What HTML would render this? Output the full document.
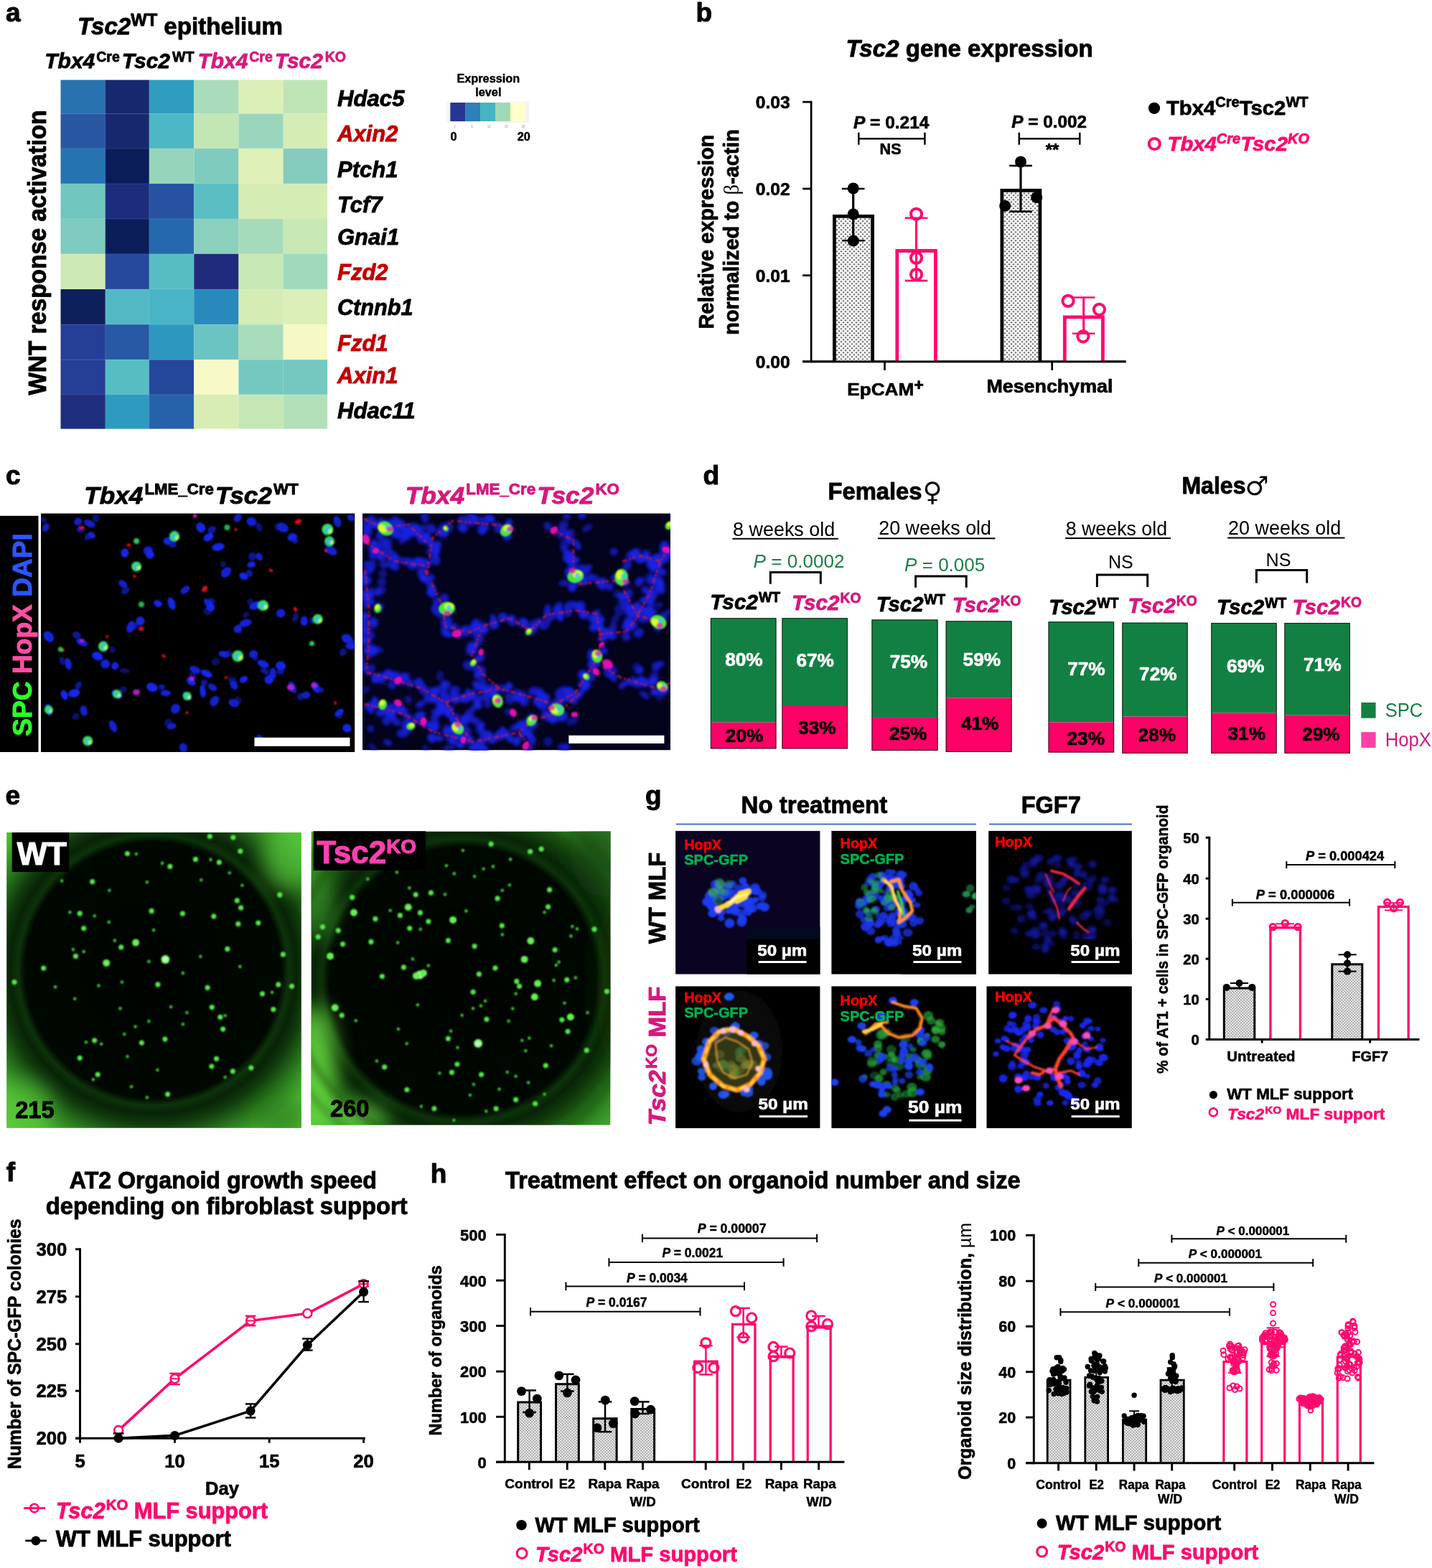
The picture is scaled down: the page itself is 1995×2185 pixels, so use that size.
<!DOCTYPE html>
<html lang="en"><head><meta charset="utf-8"><title>Figure</title>
<style>
html,body{margin:0;padding:0;background:#fff;}
body{width:1995px;height:2185px;overflow:hidden;}
svg{display:block;font-family:"Liberation Sans",sans-serif;}
text{white-space:pre;}
</style></head><body>
<svg width="1995" height="2185" viewBox="0 0 1995 2185">
<defs>
<pattern id="dots" width="6" height="6" patternUnits="userSpaceOnUse" patternTransform="translate(0.5,0.8)"><rect width="6" height="6" fill="#fff"/><circle cx="1.5" cy="1.5" r="0.95" fill="#000"/><circle cx="4.5" cy="4.5" r="0.95" fill="#000"/></pattern>
<pattern id="dots2" width="4" height="4" patternUnits="userSpaceOnUse" patternTransform="translate(0.3,0.5)"><rect width="4" height="4" fill="#fff"/><circle cx="1" cy="1" r="0.72" fill="#000"/><circle cx="3" cy="3" r="0.72" fill="#000"/></pattern>
<filter id="b1" x="-50%" y="-50%" width="200%" height="200%"><feGaussianBlur stdDeviation="1.3"/></filter>
<filter id="b2" x="-50%" y="-50%" width="200%" height="200%"><feGaussianBlur stdDeviation="2.2"/></filter>
<filter id="b3" x="-50%" y="-50%" width="200%" height="200%"><feGaussianBlur stdDeviation="4"/></filter>
<filter id="b05" x="-50%" y="-50%" width="200%" height="200%"><feGaussianBlur stdDeviation="0.7"/></filter>
<clipPath id="cc1"><rect x="57" y="715.5" width="437.2" height="332.5"/></clipPath>
<clipPath id="cc2"><rect x="505" y="715.5" width="429" height="329.7"/></clipPath>
<radialGradient id="well1" gradientUnits="userSpaceOnUse" cx="213.5" cy="1352" r="300">
<stop offset="0" stop-color="#000300"/><stop offset="0.595" stop-color="#010801"/>
<stop offset="0.628" stop-color="#0D330B"/><stop offset="0.665" stop-color="#082306"/><stop offset="0.715" stop-color="#113A0D"/><stop offset="0.80" stop-color="#2A7A1E"/>
<stop offset="0.89" stop-color="#4AB332"/><stop offset="1" stop-color="#5ECB3C"/></radialGradient>
<radialGradient id="well2" gradientUnits="userSpaceOnUse" cx="645" cy="1366" r="310">
<stop offset="0" stop-color="#000300"/><stop offset="0.60" stop-color="#010801"/>
<stop offset="0.635" stop-color="#0D330B"/><stop offset="0.67" stop-color="#082306"/><stop offset="0.72" stop-color="#113A0D"/><stop offset="0.81" stop-color="#27781D"/>
<stop offset="0.91" stop-color="#3F9F2C"/><stop offset="1" stop-color="#52BC36"/></radialGradient>
<clipPath id="ce1"><rect x="9.2" y="1160" width="410.6" height="411.8"/></clipPath>
<clipPath id="ce2"><rect x="433.7" y="1158.7" width="416.6" height="409"/></clipPath>
<linearGradient id="e2l" x1="0" y1="0" x2="1" y2="0"><stop offset="0" stop-color="#6BE040" stop-opacity="0.9"/><stop offset="0.12" stop-color="#6BE040" stop-opacity="0.0"/><stop offset="1" stop-color="#000" stop-opacity="0"/></linearGradient>
<filter id="b15" x="-100%" y="-100%" width="300%" height="300%"><feGaussianBlur stdDeviation="14"/></filter>
<clipPath id="cg0"><rect x="941.1" y="1157.9" width="201.3" height="199.6"/></clipPath>
<clipPath id="cg1"><rect x="1158.4" y="1157.9" width="201.5" height="199.6"/></clipPath>
<clipPath id="cg2"><rect x="1377.2" y="1157.9" width="199.6" height="199.6"/></clipPath>
<clipPath id="cg3"><rect x="941.1" y="1374.4" width="201.3" height="197.7"/></clipPath>
<clipPath id="cg4"><rect x="1158.4" y="1374.4" width="201.5" height="197.7"/></clipPath>
<clipPath id="cg5"><rect x="1374.5" y="1374.4" width="202.3" height="197.7"/></clipPath>
</defs>
<text x="8.00" y="30.40" font-size="37" font-weight="bold" font-style="normal" fill="#000" text-anchor="start" stroke="#000" stroke-width="1.00" stroke-linejoin="round" ><tspan>a</tspan></text>
<text x="108.00" y="48.30" font-size="33.5" font-weight="bold" font-style="normal" fill="#000" text-anchor="start" stroke="#000" stroke-width="0.90" stroke-linejoin="round" textLength="286" lengthAdjust="spacingAndGlyphs" ><tspan font-style="italic">Tsc2</tspan><tspan font-size="24" dy="-12.20">WT</tspan><tspan dy="12.20"> epithelium</tspan></text>
<text x="62.30" y="95.00" font-size="30" font-weight="bold" font-style="normal" fill="#000" text-anchor="start" stroke="#000" stroke-width="0.81" stroke-linejoin="round" textLength="208" lengthAdjust="spacingAndGlyphs" ><tspan font-style="italic">Tbx4</tspan><tspan font-size="19.5" font-style="normal" dx="2" dy="-9.30">Cre</tspan><tspan font-style="italic" dx="3" dy="9.30">Tsc2</tspan><tspan font-size="19.5" font-style="normal" dx="3" dy="-9.30">WT</tspan></text>
<text x="275.50" y="95.00" font-size="30" font-weight="bold" font-style="normal" fill="#D6197E" text-anchor="start" stroke="#D6197E" stroke-width="0.81" stroke-linejoin="round" textLength="206.5" lengthAdjust="spacingAndGlyphs" ><tspan font-style="italic">Tbx4</tspan><tspan font-size="19.5" font-style="normal" dx="2" dy="-9.30">Cre</tspan><tspan font-style="italic" dx="3" dy="9.30">Tsc2</tspan><tspan font-size="19.5" font-style="normal" dx="3" dy="-9.30">KO</tspan></text>
<text x="0" y="0" font-size="35.5" font-weight="bold" font-style="normal" fill="#000" text-anchor="start" stroke="#000" stroke-width="0.96" stroke-linejoin="round" textLength="397" lengthAdjust="spacingAndGlyphs" transform="translate(64.40,550.50) rotate(-90)" ><tspan>WNT response activation</tspan></text>
<rect x="84.50" y="111.40" width="62.50" height="47.30" fill="#2872B0" />
<rect x="146.70" y="111.40" width="61.40" height="47.30" fill="#17286E" />
<rect x="207.80" y="111.40" width="62.70" height="47.30" fill="#2F9DC0" />
<rect x="270.20" y="111.40" width="62.50" height="47.30" fill="#A8DCBB" />
<rect x="332.40" y="111.40" width="62.50" height="47.30" fill="#DCEFB8" />
<rect x="394.60" y="111.40" width="61.50" height="47.30" fill="#BFE5B5" />
<rect x="84.50" y="158.40" width="62.50" height="48.80" fill="#2856A3" />
<rect x="146.70" y="158.40" width="61.40" height="48.80" fill="#18286F" />
<rect x="207.80" y="158.40" width="62.70" height="48.80" fill="#4DB7C5" />
<rect x="270.20" y="158.40" width="62.50" height="48.80" fill="#C3E6B5" />
<rect x="332.40" y="158.40" width="62.50" height="48.80" fill="#9AD6BD" />
<rect x="394.60" y="158.40" width="61.50" height="48.80" fill="#D5ECB5" />
<rect x="84.50" y="206.90" width="62.50" height="49.30" fill="#2673B1" />
<rect x="146.70" y="206.90" width="61.40" height="49.30" fill="#0B1D58" />
<rect x="207.80" y="206.90" width="62.70" height="49.30" fill="#97D5BB" />
<rect x="270.20" y="206.90" width="62.50" height="49.30" fill="#7FCCBF" />
<rect x="332.40" y="206.90" width="62.50" height="49.30" fill="#DFF0B8" />
<rect x="394.60" y="206.90" width="61.50" height="49.30" fill="#85CCBE" />
<rect x="84.50" y="255.90" width="62.50" height="49.40" fill="#71C7C0" />
<rect x="146.70" y="255.90" width="61.40" height="49.40" fill="#1D2D7C" />
<rect x="207.80" y="255.90" width="62.70" height="49.40" fill="#2752A2" />
<rect x="270.20" y="255.90" width="62.50" height="49.40" fill="#5BBEC3" />
<rect x="332.40" y="255.90" width="62.50" height="49.40" fill="#D5ECB5" />
<rect x="394.60" y="255.90" width="61.50" height="49.40" fill="#D5ECB5" />
<rect x="84.50" y="305.00" width="62.50" height="49.10" fill="#7ECBBF" />
<rect x="146.70" y="305.00" width="61.40" height="49.10" fill="#0B1D58" />
<rect x="207.80" y="305.00" width="62.70" height="49.10" fill="#2668AD" />
<rect x="270.20" y="305.00" width="62.50" height="49.10" fill="#8AD0BD" />
<rect x="332.40" y="305.00" width="62.50" height="49.10" fill="#A5DBBB" />
<rect x="394.60" y="305.00" width="61.50" height="49.10" fill="#C8E8B5" />
<rect x="84.50" y="353.80" width="62.50" height="49.50" fill="#CDE9B5" />
<rect x="146.70" y="353.80" width="61.40" height="49.50" fill="#27499B" />
<rect x="207.80" y="353.80" width="62.70" height="49.50" fill="#58BCC3" />
<rect x="270.20" y="353.80" width="62.50" height="49.50" fill="#1E2C7B" />
<rect x="332.40" y="353.80" width="62.50" height="49.50" fill="#C8E8B5" />
<rect x="394.60" y="353.80" width="61.50" height="49.50" fill="#A0D9BB" />
<rect x="84.50" y="403.00" width="62.50" height="49.40" fill="#0E205C" />
<rect x="146.70" y="403.00" width="61.40" height="49.40" fill="#52B9C4" />
<rect x="207.80" y="403.00" width="62.70" height="49.40" fill="#49B4C5" />
<rect x="270.20" y="403.00" width="62.50" height="49.40" fill="#2889BD" />
<rect x="332.40" y="403.00" width="62.50" height="49.40" fill="#D5ECB5" />
<rect x="394.60" y="403.00" width="61.50" height="49.40" fill="#DCEFB8" />
<rect x="84.50" y="452.10" width="62.50" height="49.40" fill="#253F97" />
<rect x="146.70" y="452.10" width="61.40" height="49.40" fill="#2759A4" />
<rect x="207.80" y="452.10" width="62.70" height="49.40" fill="#2D97C0" />
<rect x="270.20" y="452.10" width="62.50" height="49.40" fill="#6BC4C1" />
<rect x="332.40" y="452.10" width="62.50" height="49.40" fill="#A8DCBB" />
<rect x="394.60" y="452.10" width="61.50" height="49.40" fill="#F5F9C5" />
<rect x="84.50" y="501.20" width="62.50" height="48.90" fill="#253E96" />
<rect x="146.70" y="501.20" width="61.40" height="48.90" fill="#58BCC3" />
<rect x="207.80" y="501.20" width="62.70" height="48.90" fill="#25479A" />
<rect x="270.20" y="501.20" width="62.50" height="48.90" fill="#F7FAC8" />
<rect x="332.40" y="501.20" width="62.50" height="48.90" fill="#75C8C0" />
<rect x="394.60" y="501.20" width="61.50" height="48.90" fill="#75C8C0" />
<rect x="84.50" y="549.80" width="62.50" height="47.80" fill="#1F2E7E" />
<rect x="146.70" y="549.80" width="61.40" height="47.80" fill="#2E9AC0" />
<rect x="207.80" y="549.80" width="62.70" height="47.80" fill="#2662AA" />
<rect x="270.20" y="549.80" width="62.50" height="47.80" fill="#D8EDB5" />
<rect x="332.40" y="549.80" width="62.50" height="47.80" fill="#C5E7B5" />
<rect x="394.60" y="549.80" width="61.50" height="47.80" fill="#B3E0B8" />
<line x1="146.70" y1="111.40" x2="146.70" y2="597.30" stroke="#fff" stroke-width="0.8" opacity="0.15"/>
<line x1="207.80" y1="111.40" x2="207.80" y2="597.30" stroke="#fff" stroke-width="0.8" opacity="0.15"/>
<line x1="270.20" y1="111.40" x2="270.20" y2="597.30" stroke="#fff" stroke-width="0.8" opacity="0.15"/>
<line x1="332.40" y1="111.40" x2="332.40" y2="597.30" stroke="#fff" stroke-width="0.8" opacity="0.15"/>
<line x1="394.60" y1="111.40" x2="394.60" y2="597.30" stroke="#fff" stroke-width="0.8" opacity="0.15"/>
<line x1="84.50" y1="158.40" x2="455.80" y2="158.40" stroke="#fff" stroke-width="0.8" opacity="0.15"/>
<line x1="84.50" y1="206.90" x2="455.80" y2="206.90" stroke="#fff" stroke-width="0.8" opacity="0.15"/>
<line x1="84.50" y1="255.90" x2="455.80" y2="255.90" stroke="#fff" stroke-width="0.8" opacity="0.15"/>
<line x1="84.50" y1="305.00" x2="455.80" y2="305.00" stroke="#fff" stroke-width="0.8" opacity="0.15"/>
<line x1="84.50" y1="353.80" x2="455.80" y2="353.80" stroke="#fff" stroke-width="0.8" opacity="0.15"/>
<line x1="84.50" y1="403.00" x2="455.80" y2="403.00" stroke="#fff" stroke-width="0.8" opacity="0.15"/>
<line x1="84.50" y1="452.10" x2="455.80" y2="452.10" stroke="#fff" stroke-width="0.8" opacity="0.15"/>
<line x1="84.50" y1="501.20" x2="455.80" y2="501.20" stroke="#fff" stroke-width="0.8" opacity="0.15"/>
<line x1="84.50" y1="549.80" x2="455.80" y2="549.80" stroke="#fff" stroke-width="0.8" opacity="0.15"/>
<text x="470.00" y="147.80" font-size="31" font-weight="bold" font-style="italic" fill="#000" text-anchor="start" stroke="#000" stroke-width="0.84" stroke-linejoin="round" textLength="93.5" lengthAdjust="spacingAndGlyphs" ><tspan>Hdac5</tspan></text>
<text x="470.00" y="197.40" font-size="31" font-weight="bold" font-style="italic" fill="#C00000" text-anchor="start" stroke="#C00000" stroke-width="0.84" stroke-linejoin="round" ><tspan>Axin2</tspan></text>
<text x="470.00" y="246.90" font-size="31" font-weight="bold" font-style="italic" fill="#000" text-anchor="start" stroke="#000" stroke-width="0.84" stroke-linejoin="round" ><tspan>Ptch1</tspan></text>
<text x="470.00" y="296.00" font-size="31" font-weight="bold" font-style="italic" fill="#000" text-anchor="start" stroke="#000" stroke-width="0.84" stroke-linejoin="round" ><tspan>Tcf7</tspan></text>
<text x="470.00" y="340.80" font-size="31" font-weight="bold" font-style="italic" fill="#000" text-anchor="start" stroke="#000" stroke-width="0.84" stroke-linejoin="round" ><tspan>Gnai1</tspan></text>
<text x="470.00" y="389.70" font-size="31" font-weight="bold" font-style="italic" fill="#C00000" text-anchor="start" stroke="#C00000" stroke-width="0.84" stroke-linejoin="round" ><tspan>Fzd2</tspan></text>
<text x="470.00" y="439.10" font-size="31" font-weight="bold" font-style="italic" fill="#000" text-anchor="start" stroke="#000" stroke-width="0.84" stroke-linejoin="round" textLength="105.5" lengthAdjust="spacingAndGlyphs" ><tspan>Ctnnb1</tspan></text>
<text x="470.00" y="489.00" font-size="31" font-weight="bold" font-style="italic" fill="#C00000" text-anchor="start" stroke="#C00000" stroke-width="0.84" stroke-linejoin="round" ><tspan>Fzd1</tspan></text>
<text x="470.00" y="533.60" font-size="31" font-weight="bold" font-style="italic" fill="#C00000" text-anchor="start" stroke="#C00000" stroke-width="0.84" stroke-linejoin="round" ><tspan>Axin1</tspan></text>
<text x="470.00" y="583.10" font-size="31" font-weight="bold" font-style="italic" fill="#000" text-anchor="start" stroke="#000" stroke-width="0.84" stroke-linejoin="round" textLength="108.5" lengthAdjust="spacingAndGlyphs" ><tspan>Hdac11</tspan></text>
<text x="680.30" y="114.80" font-size="16.3" font-weight="bold" font-style="normal" fill="#000" text-anchor="middle" stroke="#000" stroke-width="0.44" stroke-linejoin="round" ><tspan>Expression</tspan></text>
<text x="680.30" y="134.30" font-size="16.3" font-weight="bold" font-style="normal" fill="#000" text-anchor="middle" stroke="#000" stroke-width="0.44" stroke-linejoin="round" ><tspan>level</tspan></text>
<rect x="622.00" y="141.50" width="115.00" height="29.50" fill="#f4f4f4" />
<rect x="627.30" y="143.00" width="21.10" height="26.00" fill="#283593" />
<rect x="648.20" y="143.00" width="21.10" height="26.00" fill="#2F7FB8" />
<rect x="669.10" y="143.00" width="21.10" height="26.00" fill="#47B4C2" />
<rect x="690.00" y="143.00" width="21.10" height="26.00" fill="#A1D9B8" />
<rect x="710.90" y="143.00" width="21.10" height="26.00" fill="#FFFFCC" />
<text x="633.50" y="178.30" font-size="4.5" font-weight="normal" font-style="normal" fill="#999" text-anchor="middle" ><tspan>0</tspan></text>
<text x="657.40" y="178.30" font-size="4.5" font-weight="normal" font-style="normal" fill="#999" text-anchor="middle" ><tspan>5</tspan></text>
<text x="681.30" y="178.30" font-size="4.5" font-weight="normal" font-style="normal" fill="#999" text-anchor="middle" ><tspan>10</tspan></text>
<text x="705.20" y="178.30" font-size="4.5" font-weight="normal" font-style="normal" fill="#999" text-anchor="middle" ><tspan>15</tspan></text>
<text x="729.10" y="178.30" font-size="4.5" font-weight="normal" font-style="normal" fill="#999" text-anchor="middle" ><tspan>20</tspan></text>
<text x="627.50" y="196.20" font-size="16.3" font-weight="bold" font-style="normal" fill="#000" text-anchor="start" stroke="#000" stroke-width="0.44" stroke-linejoin="round" ><tspan>0</tspan></text>
<text x="720.80" y="196.20" font-size="16.3" font-weight="bold" font-style="normal" fill="#000" text-anchor="start" stroke="#000" stroke-width="0.44" stroke-linejoin="round" ><tspan>20</tspan></text>
<text x="969.50" y="29.70" font-size="37" font-weight="bold" font-style="normal" fill="#000" text-anchor="start" stroke="#000" stroke-width="1.00" stroke-linejoin="round" ><tspan>b</tspan></text>
<text x="1178.40" y="78.50" font-size="33" font-weight="bold" font-style="normal" fill="#000" text-anchor="start" stroke="#000" stroke-width="0.89" stroke-linejoin="round" textLength="344.3" lengthAdjust="spacingAndGlyphs" ><tspan font-style="italic">Tsc2</tspan><tspan> gene expression</tspan></text>
<line x1="1130.10" y1="140.75" x2="1130.10" y2="505.25" stroke="#000" stroke-width="2.7" />
<line x1="1118.10" y1="503.90" x2="1568.60" y2="503.90" stroke="#000" stroke-width="2.7" />
<line x1="1118.10" y1="142.10" x2="1130.10" y2="142.10" stroke="#000" stroke-width="2.7" />
<line x1="1118.10" y1="263.00" x2="1130.10" y2="263.00" stroke="#000" stroke-width="2.7" />
<line x1="1118.10" y1="383.80" x2="1130.10" y2="383.80" stroke="#000" stroke-width="2.7" />
<line x1="1232.50" y1="503.90" x2="1232.50" y2="515.90" stroke="#000" stroke-width="2.7" />
<line x1="1465.70" y1="503.90" x2="1465.70" y2="515.90" stroke="#000" stroke-width="2.7" />
<text x="1100.70" y="151.00" font-size="24.6" font-weight="bold" font-style="normal" fill="#000" text-anchor="end" stroke="#000" stroke-width="0.66" stroke-linejoin="round" ><tspan>0.03</tspan></text>
<text x="1100.70" y="271.90" font-size="24.6" font-weight="bold" font-style="normal" fill="#000" text-anchor="end" stroke="#000" stroke-width="0.66" stroke-linejoin="round" ><tspan>0.02</tspan></text>
<text x="1100.70" y="392.70" font-size="24.6" font-weight="bold" font-style="normal" fill="#000" text-anchor="end" stroke="#000" stroke-width="0.66" stroke-linejoin="round" ><tspan>0.01</tspan></text>
<text x="1100.70" y="512.80" font-size="24.6" font-weight="bold" font-style="normal" fill="#000" text-anchor="end" stroke="#000" stroke-width="0.66" stroke-linejoin="round" ><tspan>0.00</tspan></text>
<text x="0" y="0" font-size="28.7" font-weight="bold" font-style="normal" fill="#000" text-anchor="middle" stroke="#000" stroke-width="0.77" stroke-linejoin="round" textLength="271" lengthAdjust="spacingAndGlyphs" transform="translate(993.50,323.00) rotate(-90)" ><tspan>Relative expression</tspan></text>
<text x="0" y="0" font-size="28.7" font-weight="bold" font-style="normal" fill="#000" text-anchor="middle" stroke="#000" stroke-width="0.77" stroke-linejoin="round" textLength="286.6" lengthAdjust="spacingAndGlyphs" transform="translate(1028.80,323.40) rotate(-90)" ><tspan>normalized to </tspan><tspan font-size="29" font-weight="normal" stroke="none" font-family='"Liberation Serif","DejaVu Serif",serif'>β</tspan><tspan>-actin</tspan></text>
<rect x="1162.40" y="301.40" width="53.20" height="202.50" fill="url(#dots)" />
<path d="M1162.40,503.90 L1162.40,301.40 L1215.60,301.40 L1215.60,503.90" fill="none" stroke="#000" stroke-width="4.8" />
<rect x="1249.80" y="349.50" width="53.60" height="154.40" fill="#fff" />
<path d="M1249.80,503.90 L1249.80,349.50 L1303.40,349.50 L1303.40,503.90" fill="none" stroke="#FF0A6E" stroke-width="4.8" />
<rect x="1395.90" y="265.40" width="53.00" height="238.50" fill="url(#dots)" />
<path d="M1395.90,503.90 L1395.90,265.40 L1448.90,265.40 L1448.90,503.90" fill="none" stroke="#000" stroke-width="4.8" />
<rect x="1483.30" y="441.90" width="53.10" height="62.00" fill="#fff" />
<path d="M1483.30,503.90 L1483.30,441.90 L1536.40,441.90 L1536.40,503.90" fill="none" stroke="#FF0A6E" stroke-width="4.8" />
<line x1="1118.10" y1="503.90" x2="1568.60" y2="503.90" stroke="#000" stroke-width="2.7" />
<line x1="1188.70" y1="263.00" x2="1188.70" y2="335.20" stroke="#000" stroke-width="3.2" />
<line x1="1172.90" y1="263.00" x2="1204.50" y2="263.00" stroke="#000" stroke-width="2.6" />
<line x1="1172.90" y1="335.20" x2="1204.50" y2="335.20" stroke="#000" stroke-width="2.6" />
<circle cx="1188.70" cy="262.50" r="8.00" fill="#000" />
<circle cx="1188.70" cy="298.50" r="8.00" fill="#000" />
<circle cx="1188.70" cy="335.60" r="8.00" fill="#000" />
<line x1="1276.50" y1="303.70" x2="1276.50" y2="391.10" stroke="#FF0A6E" stroke-width="3.2" />
<line x1="1260.70" y1="303.70" x2="1292.30" y2="303.70" stroke="#FF0A6E" stroke-width="2.6" />
<line x1="1260.70" y1="391.10" x2="1292.30" y2="391.10" stroke="#FF0A6E" stroke-width="2.6" />
<circle cx="1276.50" cy="298.30" r="7.60" fill="none" stroke="#FF0A6E" stroke-width="4.0" />
<circle cx="1276.50" cy="359.40" r="7.60" fill="none" stroke="#FF0A6E" stroke-width="4.0" />
<circle cx="1276.50" cy="382.50" r="7.60" fill="none" stroke="#FF0A6E" stroke-width="4.0" />
<line x1="1422.00" y1="230.90" x2="1422.00" y2="294.70" stroke="#000" stroke-width="3.2" />
<line x1="1406.20" y1="230.90" x2="1437.80" y2="230.90" stroke="#000" stroke-width="2.6" />
<line x1="1406.20" y1="294.70" x2="1437.80" y2="294.70" stroke="#000" stroke-width="2.6" />
<circle cx="1422.00" cy="225.50" r="8.00" fill="#000" />
<circle cx="1400.20" cy="286.90" r="8.00" fill="#000" />
<circle cx="1444.20" cy="275.20" r="8.00" fill="#000" />
<line x1="1509.70" y1="414.50" x2="1509.70" y2="464.70" stroke="#FF0A6E" stroke-width="3.2" />
<line x1="1493.90" y1="414.50" x2="1525.50" y2="414.50" stroke="#FF0A6E" stroke-width="2.6" />
<line x1="1493.90" y1="464.70" x2="1525.50" y2="464.70" stroke="#FF0A6E" stroke-width="2.6" />
<circle cx="1488.00" cy="419.40" r="7.60" fill="none" stroke="#FF0A6E" stroke-width="4.0" />
<circle cx="1531.40" cy="431.30" r="7.60" fill="none" stroke="#FF0A6E" stroke-width="4.0" />
<circle cx="1508.90" cy="468.80" r="7.60" fill="none" stroke="#FF0A6E" stroke-width="4.0" />
<text x="1189.00" y="179.30" font-size="24.3" font-weight="bold" font-style="normal" fill="#000" text-anchor="start" stroke="#000" stroke-width="0.66" stroke-linejoin="round" textLength="105.4" lengthAdjust="spacingAndGlyphs" ><tspan font-style="italic">P</tspan><tspan> = 0.214</tspan></text>
<line x1="1196.30" y1="193.20" x2="1288.40" y2="193.20" stroke="#000" stroke-width="2.5" />
<line x1="1196.30" y1="184.70" x2="1196.30" y2="201.70" stroke="#000" stroke-width="2.5" />
<line x1="1288.40" y1="184.70" x2="1288.40" y2="201.70" stroke="#000" stroke-width="2.5" />
<text x="1240.60" y="215.40" font-size="21.6" font-weight="bold" font-style="normal" fill="#000" text-anchor="middle" stroke="#000" stroke-width="0.58" stroke-linejoin="round" ><tspan>NS</tspan></text>
<text x="1409.20" y="178.20" font-size="24.3" font-weight="bold" font-style="normal" fill="#000" text-anchor="start" stroke="#000" stroke-width="0.66" stroke-linejoin="round" textLength="104.8" lengthAdjust="spacingAndGlyphs" ><tspan font-style="italic">P</tspan><tspan> = 0.002</tspan></text>
<line x1="1419.80" y1="193.20" x2="1504.30" y2="193.20" stroke="#000" stroke-width="2.5" />
<line x1="1419.80" y1="184.70" x2="1419.80" y2="201.70" stroke="#000" stroke-width="2.5" />
<line x1="1504.30" y1="184.70" x2="1504.30" y2="201.70" stroke="#000" stroke-width="2.5" />
<text x="1466.00" y="216.80" font-size="24" font-weight="bold" font-style="normal" fill="#000" text-anchor="middle" stroke="#000" stroke-width="0.65" stroke-linejoin="round" ><tspan>**</tspan></text>
<text x="1180.30" y="551.40" font-size="24.6" font-weight="bold" font-style="normal" fill="#000" text-anchor="start" stroke="#000" stroke-width="0.66" stroke-linejoin="round" textLength="106.5" lengthAdjust="spacingAndGlyphs" ><tspan>EpCAM</tspan><tspan font-size="22" dy="-7.00">+</tspan></text>
<text x="1374.40" y="546.80" font-size="25.5" font-weight="bold" font-style="normal" fill="#000" text-anchor="start" stroke="#000" stroke-width="0.69" stroke-linejoin="round" textLength="176" lengthAdjust="spacingAndGlyphs" ><tspan>Mesenchymal</tspan></text>
<circle cx="1608.00" cy="150.80" r="8.10" fill="#000" />
<text x="1624.90" y="159.70" font-size="28.5" font-weight="bold" font-style="normal" fill="#000" text-anchor="start" stroke="#000" stroke-width="0.77" stroke-linejoin="round" textLength="197.7" lengthAdjust="spacingAndGlyphs" ><tspan>Tbx4</tspan><tspan font-size="19.5" dy="-10.50">Cre</tspan><tspan dy="10.50">Tsc2</tspan><tspan font-size="19.5" dy="-10.50">WT</tspan></text>
<circle cx="1608.30" cy="200.50" r="7.60" fill="none" stroke="#FF0A6E" stroke-width="4" />
<text x="1626.50" y="210.00" font-size="28.5" font-weight="bold" font-style="italic" fill="#FF0A6E" text-anchor="start" stroke="#FF0A6E" stroke-width="0.77" stroke-linejoin="round" textLength="197.5" lengthAdjust="spacingAndGlyphs" ><tspan>Tbx4</tspan><tspan font-size="19.5" dy="-10.50">Cre</tspan><tspan dy="10.50">Tsc2</tspan><tspan font-size="19.5" dy="-10.50">KO</tspan></text>
<text x="8.10" y="674.80" font-size="37" font-weight="bold" font-style="normal" fill="#000" text-anchor="start" stroke="#000" stroke-width="1.00" stroke-linejoin="round" ><tspan>c</tspan></text>
<text x="117.30" y="701.90" font-size="34" font-weight="bold" font-style="normal" fill="#000" text-anchor="start" stroke="#000" stroke-width="0.92" stroke-linejoin="round" textLength="298.2" lengthAdjust="spacingAndGlyphs" ><tspan font-style="italic">Tbx4</tspan><tspan font-size="21.5" font-style="normal" dx="2" dy="-13.00">LME_Cre</tspan><tspan font-style="italic" dx="2" dy="13.00">Tsc2</tspan><tspan font-size="21.5" font-style="normal" dx="2" dy="-13.00">WT</tspan></text>
<text x="564.70" y="701.90" font-size="34" font-weight="bold" font-style="normal" fill="#D6197E" text-anchor="start" stroke="#D6197E" stroke-width="0.92" stroke-linejoin="round" textLength="298.3" lengthAdjust="spacingAndGlyphs" ><tspan font-style="italic">Tbx4</tspan><tspan font-size="21.5" font-style="normal" dx="2" dy="-13.00">LME_Cre</tspan><tspan font-style="italic" dx="2" dy="13.00">Tsc2</tspan><tspan font-size="21.5" font-style="normal" dx="2" dy="-13.00">KO</tspan></text>
<rect x="0.00" y="718.80" width="53.50" height="329.20" fill="#000" />
<text x="0" y="0" font-size="37.5" font-weight="bold" font-style="normal" fill="#2BFF2B" text-anchor="start" stroke="#2BFF2B" stroke-width="1.01" stroke-linejoin="round" textLength="282.5" lengthAdjust="spacingAndGlyphs" transform="translate(44.30,1025.70) rotate(-90)" ><tspan fill="#2BFF2B" stroke="#2BFF2B">SPC</tspan><tspan> </tspan><tspan fill="#FF4FA6" stroke="#FF4FA6">HopX</tspan><tspan> </tspan><tspan fill="#2E55FF" stroke="#2E55FF">DAPI</tspan></text>
<rect x="57.00" y="715.50" width="437.20" height="332.50" fill="#000" />
<g clip-path="url(#cc1)">
<g filter="url(#b1)">
<ellipse cx="63.8" cy="735.1" rx="6.6" ry="4.5" fill="#1626F0" opacity="0.81" transform="rotate(117 63.8 735.1)"/>
<ellipse cx="60.1" cy="724.4" rx="5.5" ry="3.6" fill="#1420C8" opacity="0.60" transform="rotate(13 60.1 724.4)"/>
<ellipse cx="108.6" cy="726.9" rx="5.8" ry="5.2" fill="#1626F0" opacity="0.82" transform="rotate(149 108.6 726.9)"/>
<ellipse cx="112.2" cy="737.7" rx="5.7" ry="4.3" fill="#1420C8" opacity="0.79" transform="rotate(8 112.2 737.7)"/>
<ellipse cx="124.9" cy="729.6" rx="8.5" ry="4.9" fill="#1626F0" opacity="0.82" transform="rotate(26 124.9 729.6)"/>
<ellipse cx="133.8" cy="722.0" rx="5.7" ry="4.8" fill="#1420C8" opacity="0.58" transform="rotate(99 133.8 722.0)"/>
<ellipse cx="127.6" cy="745.9" rx="5.7" ry="4.3" fill="#1626F0" opacity="0.94" transform="rotate(37 127.6 745.9)"/>
<ellipse cx="122.4" cy="748.0" rx="5.4" ry="4.1" fill="#1420C8" opacity="0.73" transform="rotate(126 122.4 748.0)"/>
<ellipse cx="173.8" cy="770.4" rx="6.4" ry="5.5" fill="#1626F0" opacity="0.98" transform="rotate(95 173.8 770.4)"/>
<ellipse cx="206.4" cy="767.6" rx="6.5" ry="6.5" fill="#1626F0" opacity="0.88" transform="rotate(21 206.4 767.6)"/>
<ellipse cx="233.6" cy="754.1" rx="6.0" ry="5.3" fill="#1626F0" opacity="0.93" transform="rotate(7 233.6 754.1)"/>
<ellipse cx="279.7" cy="735.1" rx="7.5" ry="6.2" fill="#1626F0" opacity="0.94" transform="rotate(56 279.7 735.1)"/>
<ellipse cx="290.6" cy="748.6" rx="7.5" ry="5.2" fill="#1626F0" opacity="0.99" transform="rotate(151 290.6 748.6)"/>
<ellipse cx="295.2" cy="738.1" rx="6.1" ry="4.8" fill="#1420C8" opacity="0.80" transform="rotate(148 295.2 738.1)"/>
<ellipse cx="331.3" cy="721.5" rx="6.5" ry="5.1" fill="#1626F0" opacity="0.80" transform="rotate(120 331.3 721.5)"/>
<ellipse cx="322.0" cy="712.3" rx="4.2" ry="5.0" fill="#1420C8" opacity="0.50" transform="rotate(45 322.0 712.3)"/>
<ellipse cx="350.4" cy="726.9" rx="6.9" ry="6.2" fill="#1626F0" opacity="0.89" transform="rotate(15 350.4 726.9)"/>
<ellipse cx="361.1" cy="734.6" rx="6.6" ry="4.1" fill="#1420C8" opacity="0.60" transform="rotate(65 361.1 734.6)"/>
<ellipse cx="393.8" cy="735.1" rx="8.6" ry="6.4" fill="#1626F0" opacity="0.84" transform="rotate(27 393.8 735.1)"/>
<ellipse cx="386.3" cy="734.7" rx="5.8" ry="4.0" fill="#1420C8" opacity="0.45" transform="rotate(75 386.3 734.7)"/>
<ellipse cx="407.4" cy="748.6" rx="6.8" ry="5.5" fill="#1626F0" opacity="0.94" transform="rotate(172 407.4 748.6)"/>
<ellipse cx="410.7" cy="752.9" rx="4.2" ry="5.3" fill="#1420C8" opacity="0.72" transform="rotate(157 410.7 752.9)"/>
<ellipse cx="469.9" cy="726.9" rx="8.3" ry="5.1" fill="#1626F0" opacity="0.82" transform="rotate(72 469.9 726.9)"/>
<ellipse cx="488.9" cy="721.5" rx="5.7" ry="4.4" fill="#1626F0" opacity="0.83" transform="rotate(38 488.9 721.5)"/>
<ellipse cx="476.3" cy="709.5" rx="4.5" ry="3.7" fill="#1420C8" opacity="0.58" transform="rotate(5 476.3 709.5)"/>
<ellipse cx="461.7" cy="767.6" rx="8.6" ry="5.6" fill="#1626F0" opacity="0.85" transform="rotate(27 461.7 767.6)"/>
<ellipse cx="457.9" cy="758.6" rx="6.5" ry="5.5" fill="#1420C8" opacity="0.61" transform="rotate(87 457.9 758.6)"/>
<ellipse cx="361.2" cy="775.8" rx="5.8" ry="4.4" fill="#1626F0" opacity="0.85" transform="rotate(62 361.2 775.8)"/>
<ellipse cx="350.4" cy="786.7" rx="6.1" ry="4.3" fill="#1626F0" opacity="0.91" transform="rotate(171 350.4 786.7)"/>
<ellipse cx="351.6" cy="775.3" rx="5.6" ry="5.5" fill="#1420C8" opacity="0.75" transform="rotate(125 351.6 775.3)"/>
<ellipse cx="339.5" cy="803.0" rx="6.4" ry="5.0" fill="#1626F0" opacity="0.95" transform="rotate(30 339.5 803.0)"/>
<ellipse cx="347.3" cy="798.9" rx="4.7" ry="5.1" fill="#1420C8" opacity="0.79" transform="rotate(153 347.3 798.9)"/>
<ellipse cx="315.0" cy="797.5" rx="8.3" ry="6.1" fill="#1626F0" opacity="0.85" transform="rotate(133 315.0 797.5)"/>
<ellipse cx="311.0" cy="786.2" rx="4.1" ry="4.1" fill="#1420C8" opacity="0.54" transform="rotate(125 311.0 786.2)"/>
<ellipse cx="304.2" cy="762.2" rx="8.8" ry="5.2" fill="#1626F0" opacity="1.00" transform="rotate(169 304.2 762.2)"/>
<ellipse cx="171.1" cy="813.8" rx="6.8" ry="4.7" fill="#1626F0" opacity="0.84" transform="rotate(41 171.1 813.8)"/>
<ellipse cx="174.6" cy="823.4" rx="6.5" ry="4.5" fill="#1420C8" opacity="0.68" transform="rotate(144 174.6 823.4)"/>
<ellipse cx="209.1" cy="773.1" rx="5.8" ry="5.7" fill="#1626F0" opacity="0.96" transform="rotate(164 209.1 773.1)"/>
<ellipse cx="258.0" cy="822.0" rx="7.2" ry="4.6" fill="#1626F0" opacity="0.87" transform="rotate(142 258.0 822.0)"/>
<ellipse cx="239.0" cy="841.0" rx="8.9" ry="5.1" fill="#1626F0" opacity="0.99" transform="rotate(72 239.0 841.0)"/>
<ellipse cx="220.0" cy="841.0" rx="6.1" ry="4.5" fill="#1626F0" opacity="0.98" transform="rotate(27 220.0 841.0)"/>
<ellipse cx="293.3" cy="846.4" rx="6.0" ry="6.1" fill="#1626F0" opacity="0.93" transform="rotate(176 293.3 846.4)"/>
<ellipse cx="294.7" cy="837.6" rx="4.0" ry="5.4" fill="#1420C8" opacity="0.68" transform="rotate(95 294.7 837.6)"/>
<ellipse cx="355.8" cy="843.7" rx="8.8" ry="5.2" fill="#1626F0" opacity="0.97" transform="rotate(157 355.8 843.7)"/>
<ellipse cx="348.8" cy="838.7" rx="4.7" ry="4.7" fill="#1420C8" opacity="0.54" transform="rotate(75 348.8 838.7)"/>
<ellipse cx="391.1" cy="854.6" rx="6.0" ry="6.3" fill="#1626F0" opacity="0.89" transform="rotate(64 391.1 854.6)"/>
<ellipse cx="342.2" cy="868.1" rx="8.7" ry="5.2" fill="#1626F0" opacity="0.90" transform="rotate(165 342.2 868.1)"/>
<ellipse cx="342.9" cy="856.6" rx="5.3" ry="3.9" fill="#1420C8" opacity="0.45" transform="rotate(144 342.9 856.6)"/>
<ellipse cx="331.3" cy="876.3" rx="6.1" ry="5.3" fill="#1626F0" opacity="0.91" transform="rotate(131 331.3 876.3)"/>
<ellipse cx="331.9" cy="877.6" rx="6.4" ry="3.7" fill="#1420C8" opacity="0.65" transform="rotate(45 331.9 877.6)"/>
<ellipse cx="195.5" cy="865.4" rx="6.5" ry="6.0" fill="#1626F0" opacity="0.91" transform="rotate(91 195.5 865.4)"/>
<ellipse cx="182.0" cy="873.6" rx="8.7" ry="5.2" fill="#1626F0" opacity="0.90" transform="rotate(110 182.0 873.6)"/>
<ellipse cx="187.4" cy="872.4" rx="5.6" ry="4.5" fill="#1420C8" opacity="0.78" transform="rotate(126 187.4 872.4)"/>
<ellipse cx="67.9" cy="887.1" rx="8.6" ry="6.4" fill="#1626F0" opacity="0.91" transform="rotate(47 67.9 887.1)"/>
<ellipse cx="114.1" cy="895.3" rx="8.4" ry="4.5" fill="#1626F0" opacity="0.89" transform="rotate(22 114.1 895.3)"/>
<ellipse cx="106.8" cy="885.1" rx="6.0" ry="5.1" fill="#1420C8" opacity="0.76" transform="rotate(28 106.8 885.1)"/>
<ellipse cx="135.8" cy="914.3" rx="8.0" ry="5.7" fill="#1626F0" opacity="0.98" transform="rotate(26 135.8 914.3)"/>
<ellipse cx="146.7" cy="925.2" rx="6.3" ry="6.4" fill="#1626F0" opacity="0.90" transform="rotate(72 146.7 925.2)"/>
<ellipse cx="95.1" cy="925.2" rx="8.4" ry="4.6" fill="#1626F0" opacity="0.90" transform="rotate(78 95.1 925.2)"/>
<ellipse cx="86.5" cy="920.8" rx="6.2" ry="3.5" fill="#1420C8" opacity="0.64" transform="rotate(79 86.5 920.8)"/>
<ellipse cx="160.2" cy="927.9" rx="5.6" ry="5.0" fill="#1626F0" opacity="0.90" transform="rotate(112 160.2 927.9)"/>
<ellipse cx="173.8" cy="934.8" rx="6.9" ry="3.7" fill="#1420C8" opacity="0.54" transform="rotate(7 173.8 934.8)"/>
<ellipse cx="271.6" cy="933.3" rx="8.2" ry="4.8" fill="#1626F0" opacity="0.88" transform="rotate(23 271.6 933.3)"/>
<ellipse cx="287.9" cy="938.8" rx="8.4" ry="4.8" fill="#1626F0" opacity="0.98" transform="rotate(27 287.9 938.8)"/>
<ellipse cx="312.3" cy="911.6" rx="8.0" ry="4.4" fill="#1626F0" opacity="0.94" transform="rotate(10 312.3 911.6)"/>
<ellipse cx="300.4" cy="922.1" rx="5.9" ry="5.1" fill="#1420C8" opacity="0.48" transform="rotate(154 300.4 922.1)"/>
<ellipse cx="353.1" cy="911.6" rx="5.7" ry="6.2" fill="#1626F0" opacity="0.87" transform="rotate(82 353.1 911.6)"/>
<ellipse cx="366.6" cy="925.2" rx="8.7" ry="4.8" fill="#1626F0" opacity="0.91" transform="rotate(23 366.6 925.2)"/>
<ellipse cx="355.7" cy="917.0" rx="4.2" ry="3.9" fill="#1420C8" opacity="0.56" transform="rotate(55 355.7 917.0)"/>
<ellipse cx="380.2" cy="938.8" rx="8.2" ry="4.9" fill="#1626F0" opacity="0.84" transform="rotate(90 380.2 938.8)"/>
<ellipse cx="366.7" cy="932.8" rx="4.0" ry="5.0" fill="#1420C8" opacity="0.64" transform="rotate(34 366.7 932.8)"/>
<ellipse cx="391.1" cy="927.9" rx="7.2" ry="6.3" fill="#1626F0" opacity="0.96" transform="rotate(19 391.1 927.9)"/>
<ellipse cx="391.0" cy="935.9" rx="5.2" ry="4.5" fill="#1420C8" opacity="0.69" transform="rotate(177 391.0 935.9)"/>
<ellipse cx="374.8" cy="946.9" rx="6.7" ry="6.1" fill="#1626F0" opacity="0.93" transform="rotate(127 374.8 946.9)"/>
<ellipse cx="370.5" cy="936.2" rx="4.4" ry="3.6" fill="#1420C8" opacity="0.71" transform="rotate(46 370.5 936.2)"/>
<ellipse cx="339.5" cy="946.9" rx="6.1" ry="4.4" fill="#1626F0" opacity="0.97" transform="rotate(151 339.5 946.9)"/>
<ellipse cx="325.9" cy="955.0" rx="6.5" ry="4.8" fill="#1626F0" opacity="0.89" transform="rotate(53 325.9 955.0)"/>
<ellipse cx="324.4" cy="949.4" rx="6.9" ry="5.4" fill="#1420C8" opacity="0.64" transform="rotate(44 324.4 949.4)"/>
<ellipse cx="407.4" cy="957.8" rx="8.9" ry="4.9" fill="#1626F0" opacity="0.80" transform="rotate(64 407.4 957.8)"/>
<ellipse cx="406.7" cy="957.8" rx="4.6" ry="4.5" fill="#1420C8" opacity="0.45" transform="rotate(48 406.7 957.8)"/>
<ellipse cx="426.4" cy="968.6" rx="5.8" ry="5.1" fill="#1626F0" opacity="0.80" transform="rotate(8 426.4 968.6)"/>
<ellipse cx="418.9" cy="970.7" rx="5.6" ry="5.0" fill="#1420C8" opacity="0.68" transform="rotate(129 418.9 970.7)"/>
<ellipse cx="440.0" cy="957.8" rx="8.6" ry="5.1" fill="#1626F0" opacity="1.00" transform="rotate(59 440.0 957.8)"/>
<ellipse cx="446.3" cy="961.2" rx="4.1" ry="5.2" fill="#1420C8" opacity="0.76" transform="rotate(113 446.3 961.2)"/>
<ellipse cx="483.4" cy="889.9" rx="8.1" ry="6.1" fill="#1626F0" opacity="0.90" transform="rotate(25 483.4 889.9)"/>
<ellipse cx="492.8" cy="897.2" rx="6.5" ry="4.7" fill="#1420C8" opacity="0.76" transform="rotate(123 492.8 897.2)"/>
<ellipse cx="488.9" cy="900.7" rx="7.9" ry="4.7" fill="#1626F0" opacity="0.83" transform="rotate(6 488.9 900.7)"/>
<ellipse cx="477.8" cy="908.8" rx="5.7" ry="4.8" fill="#1420C8" opacity="0.67" transform="rotate(123 477.8 908.8)"/>
<ellipse cx="472.6" cy="993.1" rx="7.2" ry="4.2" fill="#1626F0" opacity="0.95" transform="rotate(144 472.6 993.1)"/>
<ellipse cx="473.6" cy="996.9" rx="4.2" ry="5.0" fill="#1420C8" opacity="0.54" transform="rotate(13 473.6 996.9)"/>
<ellipse cx="483.4" cy="1014.8" rx="6.4" ry="5.9" fill="#1626F0" opacity="0.95" transform="rotate(37 483.4 1014.8)"/>
<ellipse cx="361.2" cy="1031.1" rx="7.2" ry="5.1" fill="#1626F0" opacity="0.94" transform="rotate(86 361.2 1031.1)"/>
<ellipse cx="325.9" cy="979.5" rx="7.7" ry="5.7" fill="#1626F0" opacity="0.83" transform="rotate(14 325.9 979.5)"/>
<ellipse cx="332.7" cy="974.8" rx="5.7" ry="3.5" fill="#1420C8" opacity="0.47" transform="rotate(48 332.7 974.8)"/>
<ellipse cx="298.8" cy="976.8" rx="7.9" ry="5.8" fill="#1626F0" opacity="0.86" transform="rotate(122 298.8 976.8)"/>
<ellipse cx="297.8" cy="976.0" rx="4.4" ry="5.3" fill="#1420C8" opacity="0.52" transform="rotate(176 297.8 976.0)"/>
<ellipse cx="282.5" cy="963.2" rx="8.8" ry="4.2" fill="#1626F0" opacity="0.96" transform="rotate(83 282.5 963.2)"/>
<ellipse cx="266.2" cy="949.6" rx="7.1" ry="4.8" fill="#1626F0" opacity="0.99" transform="rotate(38 266.2 949.6)"/>
<ellipse cx="268.4" cy="941.0" rx="5.6" ry="5.4" fill="#1420C8" opacity="0.50" transform="rotate(148 268.4 941.0)"/>
<ellipse cx="244.4" cy="987.6" rx="7.3" ry="6.2" fill="#1626F0" opacity="0.85" transform="rotate(127 244.4 987.6)"/>
<ellipse cx="230.9" cy="965.9" rx="7.2" ry="4.3" fill="#1626F0" opacity="0.90" transform="rotate(1 230.9 965.9)"/>
<ellipse cx="225.3" cy="957.3" rx="5.0" ry="4.1" fill="#1420C8" opacity="0.74" transform="rotate(0 225.3 957.3)"/>
<ellipse cx="211.8" cy="957.8" rx="8.1" ry="6.1" fill="#1626F0" opacity="0.99" transform="rotate(22 211.8 957.8)"/>
<ellipse cx="157.5" cy="1012.1" rx="8.7" ry="4.9" fill="#1626F0" opacity="0.88" transform="rotate(67 157.5 1012.1)"/>
<ellipse cx="116.8" cy="990.4" rx="7.6" ry="5.0" fill="#1626F0" opacity="0.86" transform="rotate(77 116.8 990.4)"/>
<ellipse cx="105.6" cy="998.4" rx="4.9" ry="5.4" fill="#1420C8" opacity="0.54" transform="rotate(48 105.6 998.4)"/>
<ellipse cx="89.6" cy="968.6" rx="7.3" ry="4.6" fill="#1626F0" opacity="0.99" transform="rotate(67 89.6 968.6)"/>
<ellipse cx="103.2" cy="965.9" rx="8.3" ry="5.7" fill="#1626F0" opacity="0.99" transform="rotate(164 103.2 965.9)"/>
<ellipse cx="109.4" cy="955.1" rx="6.2" ry="4.4" fill="#1420C8" opacity="0.71" transform="rotate(116 109.4 955.1)"/>
<ellipse cx="239.0" cy="1012.1" rx="6.5" ry="4.3" fill="#1626F0" opacity="0.83" transform="rotate(167 239.0 1012.1)"/>
<ellipse cx="234.6" cy="1007.2" rx="6.2" ry="5.5" fill="#1420C8" opacity="0.54" transform="rotate(118 234.6 1007.2)"/>
<ellipse cx="255.3" cy="1042.0" rx="6.6" ry="5.5" fill="#1626F0" opacity="0.83" transform="rotate(71 255.3 1042.0)"/>
<ellipse cx="247.1" cy="1051.7" rx="5.5" ry="3.9" fill="#1420C8" opacity="0.77" transform="rotate(179 247.1 1051.7)"/>
<ellipse cx="296.0" cy="957.8" rx="7.1" ry="4.5" fill="#1626F0" opacity="0.82" transform="rotate(35 296.0 957.8)"/>
<ellipse cx="284.6" cy="951.5" rx="4.8" ry="4.6" fill="#1420C8" opacity="0.76" transform="rotate(135 284.6 951.5)"/>
<ellipse cx="423.7" cy="865.4" rx="6.9" ry="5.2" fill="#1626F0" opacity="0.88" transform="rotate(94 423.7 865.4)"/>
<ellipse cx="411.4" cy="860.1" rx="6.9" ry="3.8" fill="#1420C8" opacity="0.63" transform="rotate(113 411.4 860.1)"/>
<ellipse cx="290.6" cy="841.0" rx="8.5" ry="4.7" fill="#1626F0" opacity="0.85" transform="rotate(49 290.6 841.0)"/>
<ellipse cx="289.1" cy="851.9" rx="6.5" ry="5.2" fill="#1420C8" opacity="0.46" transform="rotate(6 289.1 851.9)"/>
<ellipse cx="243.1" cy="747.3" rx="8.0" ry="6.3" fill="#1626F0" opacity="0.92" transform="rotate(85 243.1 747.3)"/>
<ellipse cx="240.0" cy="757.5" rx="6.5" ry="5.2" fill="#1420C8" opacity="0.79" transform="rotate(45 240.0 757.5)"/>
<ellipse cx="190.1" cy="789.4" rx="5.9" ry="4.6" fill="#1626F0" opacity="0.94" transform="rotate(94 190.1 789.4)"/>
<ellipse cx="456.3" cy="737.8" rx="8.0" ry="5.7" fill="#1626F0" opacity="0.89" transform="rotate(138 456.3 737.8)"/>
<ellipse cx="459.0" cy="754.1" rx="5.6" ry="6.0" fill="#1626F0" opacity="0.98" transform="rotate(42 459.0 754.1)"/>
<ellipse cx="366.6" cy="843.7" rx="6.6" ry="4.5" fill="#1626F0" opacity="0.93" transform="rotate(45 366.6 843.7)"/>
<ellipse cx="442.7" cy="862.7" rx="5.9" ry="4.4" fill="#1626F0" opacity="0.92" transform="rotate(94 442.7 862.7)"/>
<ellipse cx="435.0" cy="865.1" rx="4.0" ry="4.1" fill="#1420C8" opacity="0.61" transform="rotate(173 435.0 865.1)"/>
<ellipse cx="143.9" cy="900.7" rx="7.8" ry="6.2" fill="#1626F0" opacity="0.85" transform="rotate(86 143.9 900.7)"/>
<ellipse cx="156.8" cy="905.6" rx="4.9" ry="3.5" fill="#1420C8" opacity="0.62" transform="rotate(121 156.8 905.6)"/>
<ellipse cx="331.3" cy="914.3" rx="7.0" ry="4.8" fill="#1626F0" opacity="0.99" transform="rotate(120 331.3 914.3)"/>
<ellipse cx="318.3" cy="910.4" rx="5.3" ry="4.9" fill="#1420C8" opacity="0.52" transform="rotate(143 318.3 910.4)"/>
<ellipse cx="163.0" cy="967.3" rx="8.1" ry="5.4" fill="#1626F0" opacity="0.99" transform="rotate(37 163.0 967.3)"/>
<ellipse cx="171.9" cy="960.8" rx="4.7" ry="5.0" fill="#1420C8" opacity="0.55" transform="rotate(171 171.9 960.8)"/>
<ellipse cx="260.7" cy="970.0" rx="7.2" ry="4.6" fill="#1626F0" opacity="0.88" transform="rotate(40 260.7 970.0)"/>
<ellipse cx="67.9" cy="989.0" rx="8.8" ry="4.5" fill="#1626F0" opacity="0.84" transform="rotate(71 67.9 989.0)"/>
<ellipse cx="122.2" cy="1032.4" rx="6.0" ry="4.3" fill="#1626F0" opacity="0.88" transform="rotate(11 122.2 1032.4)"/>
<ellipse cx="415.5" cy="726.9" rx="5.0" ry="3.5" fill="#F01020" opacity="0.9" transform="rotate(159 415.5 726.9)"/>
<ellipse cx="285.2" cy="820.6" rx="5.0" ry="3.5" fill="#F01020" opacity="0.9" transform="rotate(132 285.2 820.6)"/>
<ellipse cx="114.1" cy="735.1" rx="3.5" ry="2.4" fill="#F01020" opacity="0.9" transform="rotate(180 114.1 735.1)"/>
<ellipse cx="196.9" cy="876.3" rx="4.0" ry="2.8" fill="#F01020" opacity="0.9" transform="rotate(168 196.9 876.3)"/>
<ellipse cx="411.5" cy="849.1" rx="3.5" ry="2.4" fill="#F01020" opacity="0.9" transform="rotate(59 411.5 849.1)"/>
<ellipse cx="377.5" cy="794.8" rx="3.0" ry="2.1" fill="#F01020" opacity="0.9" transform="rotate(33 377.5 794.8)"/>
<ellipse cx="179.3" cy="759.5" rx="3.0" ry="2.1" fill="#F01020" opacity="0.9" transform="rotate(168 179.3 759.5)"/>
<ellipse cx="149.4" cy="887.1" rx="2.5" ry="1.8" fill="#F01020" opacity="0.9" transform="rotate(134 149.4 887.1)"/>
<ellipse cx="315.0" cy="944.2" rx="2.5" ry="1.8" fill="#F01020" opacity="0.9" transform="rotate(6 315.0 944.2)"/>
<ellipse cx="260.7" cy="993.1" rx="2.5" ry="1.8" fill="#F01020" opacity="0.9" transform="rotate(120 260.7 993.1)"/>
<ellipse cx="467.1" cy="979.5" rx="2.5" ry="1.8" fill="#F01020" opacity="0.9" transform="rotate(68 467.1 979.5)"/>
<ellipse cx="453.6" cy="767.6" rx="2.5" ry="1.8" fill="#F01020" opacity="0.9" transform="rotate(67 453.6 767.6)"/>
<ellipse cx="271.6" cy="718.8" rx="3.0" ry="2.1" fill="#F01020" opacity="0.9" transform="rotate(60 271.6 718.8)"/>
<ellipse cx="228.1" cy="914.3" rx="3.0" ry="2.1" fill="#F01020" opacity="0.9" transform="rotate(30 228.1 914.3)"/>
<ellipse cx="86.9" cy="906.2" rx="3.0" ry="2.1" fill="#F01020" opacity="0.9" transform="rotate(1 86.9 906.2)"/>
<ellipse cx="187.4" cy="803.0" rx="2.5" ry="1.8" fill="#F01020" opacity="0.9" transform="rotate(50 187.4 803.0)"/>
<ellipse cx="328.6" cy="737.8" rx="2.5" ry="1.8" fill="#F01020" opacity="0.9" transform="rotate(63 328.6 737.8)"/>
<ellipse cx="190.1" cy="964.6" rx="5.0" ry="4.0" fill="#C020E0" opacity="0.9"/>
<ellipse cx="404.7" cy="957.8" rx="5.0" ry="4.0" fill="#C020E0" opacity="0.9"/>
<ellipse cx="437.3" cy="955.0" rx="4.0" ry="3.2" fill="#C020E0" opacity="0.9"/>
<ellipse cx="267.5" cy="945.5" rx="3.5" ry="2.8" fill="#C020E0" opacity="0.9"/>
<ellipse cx="271.6" cy="718.8" rx="3.0" ry="2.4" fill="#C020E0" opacity="0.9"/>
<ellipse cx="114.1" cy="892.6" rx="3.0" ry="2.4" fill="#C020E0" opacity="0.9"/>
<circle cx="243.1" cy="747.3" r="7.0" fill="#30E060" opacity="1"/>
<circle cx="243.6" cy="747.8" r="3.5" fill="#40B0FF" opacity="0.85"/>
<circle cx="246.6" cy="749.4" r="2.8" fill="#D8FF50" opacity="0.8"/>
<circle cx="190.1" cy="789.4" r="7.0" fill="#30E060" opacity="1"/>
<circle cx="190.6" cy="789.9" r="3.5" fill="#40B0FF" opacity="0.85"/>
<circle cx="193.6" cy="791.5" r="2.8" fill="#D8FF50" opacity="0.8"/>
<circle cx="456.3" cy="737.8" r="8.0" fill="#30E060" opacity="1"/>
<circle cx="456.8" cy="738.3" r="4.0" fill="#40B0FF" opacity="0.85"/>
<circle cx="460.3" cy="740.2" r="3.2" fill="#D8FF50" opacity="0.8"/>
<circle cx="459.0" cy="754.1" r="7.0" fill="#30E060" opacity="0.9"/>
<circle cx="459.5" cy="754.6" r="3.5" fill="#40B0FF" opacity="0.85"/>
<circle cx="462.5" cy="756.2" r="2.8" fill="#D8FF50" opacity="0.8"/>
<circle cx="366.6" cy="843.7" r="7.5" fill="#30E060" opacity="1"/>
<circle cx="367.1" cy="844.2" r="3.8" fill="#40B0FF" opacity="0.85"/>
<circle cx="370.4" cy="845.9" r="3.0" fill="#D8FF50" opacity="0.8"/>
<circle cx="442.7" cy="862.7" r="7.0" fill="#30E060" opacity="1"/>
<circle cx="443.2" cy="863.2" r="3.5" fill="#40B0FF" opacity="0.85"/>
<circle cx="446.2" cy="864.8" r="2.8" fill="#D8FF50" opacity="0.8"/>
<circle cx="143.9" cy="900.7" r="7.0" fill="#30E060" opacity="1"/>
<circle cx="144.4" cy="901.2" r="3.5" fill="#40B0FF" opacity="0.85"/>
<circle cx="147.4" cy="902.8" r="2.8" fill="#D8FF50" opacity="0.8"/>
<circle cx="331.3" cy="914.3" r="8.0" fill="#30E060" opacity="1"/>
<circle cx="331.8" cy="914.8" r="4.0" fill="#40B0FF" opacity="0.85"/>
<circle cx="335.3" cy="916.7" r="3.2" fill="#D8FF50" opacity="0.8"/>
<circle cx="163.0" cy="967.3" r="6.0" fill="#30E060" opacity="1"/>
<circle cx="163.5" cy="967.8" r="3.0" fill="#40B0FF" opacity="0.85"/>
<circle cx="166.0" cy="969.1" r="2.4" fill="#D8FF50" opacity="0.8"/>
<circle cx="260.7" cy="970.0" r="6.0" fill="#30E060" opacity="1"/>
<circle cx="261.2" cy="970.5" r="3.0" fill="#40B0FF" opacity="0.85"/>
<circle cx="263.7" cy="971.8" r="2.4" fill="#D8FF50" opacity="0.8"/>
<circle cx="67.9" cy="989.0" r="6.0" fill="#30E060" opacity="1"/>
<circle cx="68.4" cy="989.5" r="3.0" fill="#40B0FF" opacity="0.85"/>
<circle cx="70.9" cy="990.8" r="2.4" fill="#D8FF50" opacity="0.8"/>
<circle cx="122.2" cy="1032.4" r="7.0" fill="#30E060" opacity="1"/>
<circle cx="122.7" cy="1032.9" r="3.5" fill="#40B0FF" opacity="0.85"/>
<circle cx="125.7" cy="1034.5" r="2.8" fill="#D8FF50" opacity="0.8"/>
<circle cx="316.4" cy="735.1" r="4.0" fill="#30E060" opacity="0.8"/>
<circle cx="190.1" cy="754.1" r="4.0" fill="#30E060" opacity="0.9"/>
<circle cx="196.9" cy="842.3" r="4.0" fill="#30E060" opacity="0.8"/>
<circle cx="434.5" cy="896.7" r="3.5" fill="#30E060" opacity="0.9"/>
<circle cx="84.2" cy="904.8" r="3.5" fill="#30E060" opacity="0.8"/>
</g></g>
<rect x="354.40" y="1027.80" width="133.10" height="12.00" fill="#fff" />
<rect x="505.00" y="715.50" width="429.00" height="329.70" fill="#03031C" />
<g clip-path="url(#cc2)">
<g filter="url(#b2)">
<ellipse cx="590.6" cy="805.5" rx="6.3" ry="5.4" fill="#1A22E8" opacity="0.89" transform="rotate(148 590.6 805.5)"/>
<ellipse cx="589.5" cy="793.8" rx="7.0" ry="6.8" fill="#1A22E8" opacity="0.67" transform="rotate(66 589.5 793.8)"/>
<ellipse cx="590.1" cy="783.9" rx="8.7" ry="6.4" fill="#1A22E8" opacity="0.61" transform="rotate(6 590.1 783.9)"/>
<ellipse cx="606.2" cy="780.1" rx="8.5" ry="6.7" fill="#1A22E8" opacity="0.72" transform="rotate(49 606.2 780.1)"/>
<ellipse cx="601.9" cy="768.8" rx="8.4" ry="5.3" fill="#1A22E8" opacity="0.70" transform="rotate(1 601.9 768.8)"/>
<ellipse cx="607.8" cy="770.6" rx="9.3" ry="4.6" fill="#1A22E8" opacity="0.68" transform="rotate(86 607.8 770.6)"/>
<ellipse cx="609.2" cy="758.9" rx="6.5" ry="5.6" fill="#1A22E8" opacity="0.77" transform="rotate(167 609.2 758.9)"/>
<ellipse cx="606.6" cy="763.9" rx="8.8" ry="6.4" fill="#1A22E8" opacity="0.81" transform="rotate(59 606.6 763.9)"/>
<ellipse cx="599.3" cy="757.8" rx="5.8" ry="5.0" fill="#1A22E8" opacity="0.86" transform="rotate(45 599.3 757.8)"/>
<ellipse cx="594.1" cy="749.3" rx="6.8" ry="7.0" fill="#1A22E8" opacity="0.91" transform="rotate(178 594.1 749.3)"/>
<ellipse cx="601.0" cy="736.8" rx="7.5" ry="6.3" fill="#1A22E8" opacity="0.76" transform="rotate(42 601.0 736.8)"/>
<ellipse cx="616.4" cy="743.0" rx="8.5" ry="6.6" fill="#1A22E8" opacity="0.83" transform="rotate(22 616.4 743.0)"/>
<ellipse cx="617.6" cy="735.9" rx="7.0" ry="6.3" fill="#1A22E8" opacity="0.67" transform="rotate(45 617.6 735.9)"/>
<ellipse cx="617.1" cy="740.2" rx="7.8" ry="5.3" fill="#1A22E8" opacity="0.74" transform="rotate(179 617.1 740.2)"/>
<ellipse cx="624.8" cy="734.2" rx="8.1" ry="7.0" fill="#1A22E8" opacity="0.64" transform="rotate(85 624.8 734.2)"/>
<ellipse cx="643.1" cy="734.8" rx="5.7" ry="5.2" fill="#1A22E8" opacity="0.64" transform="rotate(34 643.1 734.8)"/>
<ellipse cx="645.3" cy="735.6" rx="7.0" ry="6.7" fill="#1A22E8" opacity="0.76" transform="rotate(47 645.3 735.6)"/>
<ellipse cx="656.6" cy="721.2" rx="7.9" ry="6.0" fill="#1A22E8" opacity="0.68" transform="rotate(66 656.6 721.2)"/>
<ellipse cx="645.4" cy="724.0" rx="7.9" ry="6.1" fill="#1A22E8" opacity="0.67" transform="rotate(2 645.4 724.0)"/>
<ellipse cx="660.9" cy="723.4" rx="6.7" ry="5.0" fill="#1A22E8" opacity="0.88" transform="rotate(99 660.9 723.4)"/>
<ellipse cx="654.9" cy="727.5" rx="7.7" ry="6.1" fill="#1A22E8" opacity="0.63" transform="rotate(29 654.9 727.5)"/>
<ellipse cx="670.1" cy="726.3" rx="6.7" ry="6.9" fill="#1A22E8" opacity="0.71" transform="rotate(102 670.1 726.3)"/>
<ellipse cx="674.2" cy="737.1" rx="9.5" ry="5.4" fill="#1A22E8" opacity="0.67" transform="rotate(131 674.2 737.1)"/>
<ellipse cx="671.8" cy="738.2" rx="7.2" ry="6.6" fill="#1A22E8" opacity="0.74" transform="rotate(159 671.8 738.2)"/>
<ellipse cx="682.1" cy="722.8" rx="7.7" ry="6.1" fill="#1A22E8" opacity="0.92" transform="rotate(16 682.1 722.8)"/>
<ellipse cx="692.7" cy="732.2" rx="6.1" ry="5.2" fill="#1A22E8" opacity="0.78" transform="rotate(167 692.7 732.2)"/>
<ellipse cx="697.7" cy="738.2" rx="9.4" ry="5.0" fill="#1A22E8" opacity="0.64" transform="rotate(170 697.7 738.2)"/>
<ellipse cx="707.7" cy="731.5" rx="9.2" ry="5.5" fill="#1A22E8" opacity="0.92" transform="rotate(112 707.7 731.5)"/>
<ellipse cx="706.5" cy="747.7" rx="6.4" ry="5.5" fill="#1A22E8" opacity="0.90" transform="rotate(149 706.5 747.7)"/>
<ellipse cx="763.8" cy="733.8" rx="7.6" ry="5.5" fill="#1A22E8" opacity="0.64" transform="rotate(44 763.8 733.8)"/>
<ellipse cx="784.4" cy="732.3" rx="7.7" ry="6.4" fill="#1A22E8" opacity="0.61" transform="rotate(151 784.4 732.3)"/>
<ellipse cx="781.2" cy="742.7" rx="8.0" ry="5.3" fill="#1A22E8" opacity="0.75" transform="rotate(105 781.2 742.7)"/>
<ellipse cx="789.4" cy="745.0" rx="7.3" ry="4.6" fill="#1A22E8" opacity="0.82" transform="rotate(88 789.4 745.0)"/>
<ellipse cx="795.6" cy="753.5" rx="7.3" ry="4.9" fill="#1A22E8" opacity="0.77" transform="rotate(19 795.6 753.5)"/>
<ellipse cx="794.5" cy="744.0" rx="7.3" ry="5.8" fill="#1A22E8" opacity="0.61" transform="rotate(115 794.5 744.0)"/>
<ellipse cx="804.6" cy="759.6" rx="7.5" ry="4.6" fill="#1A22E8" opacity="0.78" transform="rotate(68 804.6 759.6)"/>
<ellipse cx="793.0" cy="772.9" rx="9.5" ry="6.3" fill="#1A22E8" opacity="0.89" transform="rotate(35 793.0 772.9)"/>
<ellipse cx="799.0" cy="781.2" rx="9.2" ry="4.9" fill="#1A22E8" opacity="0.88" transform="rotate(168 799.0 781.2)"/>
<ellipse cx="796.4" cy="778.1" rx="6.1" ry="6.7" fill="#1A22E8" opacity="0.70" transform="rotate(147 796.4 778.1)"/>
<ellipse cx="798.6" cy="787.9" rx="6.3" ry="5.2" fill="#1A22E8" opacity="0.78" transform="rotate(57 798.6 787.9)"/>
<ellipse cx="792.5" cy="779.9" rx="9.2" ry="6.2" fill="#1A22E8" opacity="0.91" transform="rotate(30 792.5 779.9)"/>
<ellipse cx="792.4" cy="796.9" rx="8.0" ry="5.4" fill="#1A22E8" opacity="0.91" transform="rotate(100 792.4 796.9)"/>
<ellipse cx="807.9" cy="793.6" rx="9.5" ry="6.1" fill="#1A22E8" opacity="0.74" transform="rotate(144 807.9 793.6)"/>
<ellipse cx="811.2" cy="805.8" rx="6.9" ry="6.4" fill="#1A22E8" opacity="0.75" transform="rotate(32 811.2 805.8)"/>
<ellipse cx="797.3" cy="818.2" rx="6.5" ry="6.1" fill="#1A22E8" opacity="0.94" transform="rotate(105 797.3 818.2)"/>
<ellipse cx="806.5" cy="804.5" rx="5.6" ry="4.9" fill="#1A22E8" opacity="0.82" transform="rotate(78 806.5 804.5)"/>
<ellipse cx="822.2" cy="806.3" rx="6.4" ry="6.1" fill="#1A22E8" opacity="0.61" transform="rotate(0 822.2 806.3)"/>
<ellipse cx="813.0" cy="809.8" rx="6.4" ry="6.0" fill="#1A22E8" opacity="0.81" transform="rotate(37 813.0 809.8)"/>
<ellipse cx="827.3" cy="805.1" rx="9.2" ry="5.1" fill="#1A22E8" opacity="0.65" transform="rotate(17 827.3 805.1)"/>
<ellipse cx="840.6" cy="816.1" rx="7.1" ry="5.2" fill="#1A22E8" opacity="0.60" transform="rotate(116 840.6 816.1)"/>
<ellipse cx="836.8" cy="813.1" rx="7.3" ry="6.8" fill="#1A22E8" opacity="0.86" transform="rotate(45 836.8 813.1)"/>
<ellipse cx="839.4" cy="810.2" rx="7.1" ry="5.1" fill="#1A22E8" opacity="0.62" transform="rotate(140 839.4 810.2)"/>
<ellipse cx="849.1" cy="817.5" rx="6.1" ry="5.0" fill="#1A22E8" opacity="0.81" transform="rotate(91 849.1 817.5)"/>
<ellipse cx="863.7" cy="802.7" rx="6.7" ry="5.3" fill="#1A22E8" opacity="0.62" transform="rotate(160 863.7 802.7)"/>
<ellipse cx="866.8" cy="803.8" rx="8.9" ry="6.4" fill="#1A22E8" opacity="0.76" transform="rotate(134 866.8 803.8)"/>
<ellipse cx="860.2" cy="809.2" rx="6.4" ry="4.6" fill="#1A22E8" opacity="0.72" transform="rotate(135 860.2 809.2)"/>
<ellipse cx="875.6" cy="826.8" rx="6.6" ry="5.9" fill="#1A22E8" opacity="0.75" transform="rotate(142 875.6 826.8)"/>
<ellipse cx="868.0" cy="830.1" rx="9.4" ry="5.0" fill="#1A22E8" opacity="0.91" transform="rotate(3 868.0 830.1)"/>
<ellipse cx="869.8" cy="835.9" rx="9.3" ry="6.4" fill="#1A22E8" opacity="0.71" transform="rotate(158 869.8 835.9)"/>
<ellipse cx="872.7" cy="844.7" rx="8.0" ry="6.2" fill="#1A22E8" opacity="0.83" transform="rotate(176 872.7 844.7)"/>
<ellipse cx="886.6" cy="847.1" rx="8.9" ry="5.6" fill="#1A22E8" opacity="0.85" transform="rotate(103 886.6 847.1)"/>
<ellipse cx="877.6" cy="850.3" rx="5.8" ry="6.8" fill="#1A22E8" opacity="0.65" transform="rotate(5 877.6 850.3)"/>
<ellipse cx="892.7" cy="849.6" rx="6.1" ry="4.6" fill="#1A22E8" opacity="0.61" transform="rotate(125 892.7 849.6)"/>
<ellipse cx="894.4" cy="862.6" rx="5.8" ry="6.0" fill="#1A22E8" opacity="0.73" transform="rotate(147 894.4 862.6)"/>
<ellipse cx="904.3" cy="852.4" rx="9.0" ry="6.8" fill="#1A22E8" opacity="0.93" transform="rotate(19 904.3 852.4)"/>
<ellipse cx="892.4" cy="852.5" rx="8.9" ry="6.5" fill="#1A22E8" opacity="0.82" transform="rotate(149 892.4 852.5)"/>
<ellipse cx="903.3" cy="856.0" rx="5.9" ry="6.4" fill="#1A22E8" opacity="0.67" transform="rotate(57 903.3 856.0)"/>
<ellipse cx="902.8" cy="860.1" rx="6.6" ry="6.3" fill="#1A22E8" opacity="0.73" transform="rotate(58 902.8 860.1)"/>
<ellipse cx="602.2" cy="825.4" rx="8.0" ry="4.6" fill="#1A22E8" opacity="0.74" transform="rotate(79 602.2 825.4)"/>
<ellipse cx="601.6" cy="827.1" rx="7.7" ry="5.0" fill="#1A22E8" opacity="0.90" transform="rotate(16 601.6 827.1)"/>
<ellipse cx="601.2" cy="820.2" rx="6.3" ry="6.4" fill="#1A22E8" opacity="0.94" transform="rotate(1 601.2 820.2)"/>
<ellipse cx="608.8" cy="838.1" rx="6.2" ry="5.7" fill="#1A22E8" opacity="0.72" transform="rotate(150 608.8 838.1)"/>
<ellipse cx="619.1" cy="833.1" rx="6.4" ry="6.2" fill="#1A22E8" opacity="0.77" transform="rotate(20 619.1 833.1)"/>
<ellipse cx="607.3" cy="849.6" rx="8.3" ry="6.5" fill="#1A22E8" opacity="0.82" transform="rotate(64 607.3 849.6)"/>
<ellipse cx="614.3" cy="855.6" rx="5.8" ry="6.7" fill="#1A22E8" opacity="0.61" transform="rotate(37 614.3 855.6)"/>
<ellipse cx="624.4" cy="853.3" rx="7.0" ry="6.7" fill="#1A22E8" opacity="0.68" transform="rotate(83 624.4 853.3)"/>
<ellipse cx="623.1" cy="864.7" rx="8.1" ry="5.4" fill="#1A22E8" opacity="0.71" transform="rotate(28 623.1 864.7)"/>
<ellipse cx="622.9" cy="871.6" rx="6.2" ry="5.6" fill="#1A22E8" opacity="0.87" transform="rotate(104 622.9 871.6)"/>
<ellipse cx="619.6" cy="875.8" rx="6.5" ry="5.0" fill="#1A22E8" opacity="0.71" transform="rotate(127 619.6 875.8)"/>
<ellipse cx="619.6" cy="868.1" rx="6.5" ry="5.3" fill="#1A22E8" opacity="0.78" transform="rotate(29 619.6 868.1)"/>
<ellipse cx="622.8" cy="883.3" rx="8.4" ry="4.8" fill="#1A22E8" opacity="0.94" transform="rotate(18 622.8 883.3)"/>
<ellipse cx="642.9" cy="881.0" rx="8.4" ry="5.6" fill="#1A22E8" opacity="0.67" transform="rotate(115 642.9 881.0)"/>
<ellipse cx="632.8" cy="874.4" rx="5.6" ry="5.5" fill="#1A22E8" opacity="0.88" transform="rotate(125 632.8 874.4)"/>
<ellipse cx="648.1" cy="877.0" rx="6.1" ry="6.0" fill="#1A22E8" opacity="0.74" transform="rotate(133 648.1 877.0)"/>
<ellipse cx="652.1" cy="880.2" rx="8.5" ry="5.6" fill="#1A22E8" opacity="0.68" transform="rotate(130 652.1 880.2)"/>
<ellipse cx="663.5" cy="880.8" rx="8.9" ry="6.2" fill="#1A22E8" opacity="0.82" transform="rotate(82 663.5 880.8)"/>
<ellipse cx="663.3" cy="869.1" rx="7.2" ry="6.5" fill="#1A22E8" opacity="0.85" transform="rotate(113 663.3 869.1)"/>
<ellipse cx="664.7" cy="873.6" rx="8.0" ry="5.5" fill="#1A22E8" opacity="0.84" transform="rotate(167 664.7 873.6)"/>
<ellipse cx="673.9" cy="877.5" rx="7.1" ry="5.7" fill="#1A22E8" opacity="0.94" transform="rotate(7 673.9 877.5)"/>
<ellipse cx="672.6" cy="875.2" rx="9.3" ry="5.8" fill="#1A22E8" opacity="0.64" transform="rotate(103 672.6 875.2)"/>
<ellipse cx="688.5" cy="869.0" rx="8.1" ry="6.6" fill="#1A22E8" opacity="0.78" transform="rotate(74 688.5 869.0)"/>
<ellipse cx="687.7" cy="870.2" rx="7.1" ry="6.4" fill="#1A22E8" opacity="0.64" transform="rotate(177 687.7 870.2)"/>
<ellipse cx="687.3" cy="862.2" rx="7.1" ry="4.5" fill="#1A22E8" opacity="0.75" transform="rotate(76 687.3 862.2)"/>
<ellipse cx="700.5" cy="860.2" rx="6.4" ry="6.4" fill="#1A22E8" opacity="0.93" transform="rotate(95 700.5 860.2)"/>
<ellipse cx="711.7" cy="861.8" rx="6.3" ry="4.8" fill="#1A22E8" opacity="0.87" transform="rotate(146 711.7 861.8)"/>
<ellipse cx="713.7" cy="865.9" rx="6.4" ry="6.9" fill="#1A22E8" opacity="0.72" transform="rotate(115 713.7 865.9)"/>
<ellipse cx="726.4" cy="868.1" rx="6.7" ry="5.9" fill="#1A22E8" opacity="0.64" transform="rotate(150 726.4 868.1)"/>
<ellipse cx="730.0" cy="866.2" rx="7.0" ry="5.1" fill="#1A22E8" opacity="0.75" transform="rotate(33 730.0 866.2)"/>
<ellipse cx="731.2" cy="868.6" rx="6.5" ry="5.3" fill="#1A22E8" opacity="0.77" transform="rotate(77 731.2 868.6)"/>
<ellipse cx="738.9" cy="875.3" rx="9.2" ry="6.6" fill="#1A22E8" opacity="0.62" transform="rotate(149 738.9 875.3)"/>
<ellipse cx="747.6" cy="868.6" rx="8.8" ry="6.1" fill="#1A22E8" opacity="0.61" transform="rotate(2 747.6 868.6)"/>
<ellipse cx="750.4" cy="866.0" rx="5.9" ry="4.9" fill="#1A22E8" opacity="0.68" transform="rotate(140 750.4 866.0)"/>
<ellipse cx="743.2" cy="876.1" rx="8.7" ry="4.9" fill="#1A22E8" opacity="0.91" transform="rotate(110 743.2 876.1)"/>
<ellipse cx="759.5" cy="869.7" rx="8.7" ry="6.6" fill="#1A22E8" opacity="0.67" transform="rotate(125 759.5 869.7)"/>
<ellipse cx="764.5" cy="858.2" rx="9.0" ry="5.9" fill="#1A22E8" opacity="0.69" transform="rotate(42 764.5 858.2)"/>
<ellipse cx="763.1" cy="849.2" rx="7.4" ry="4.9" fill="#1A22E8" opacity="0.77" transform="rotate(90 763.1 849.2)"/>
<ellipse cx="777.3" cy="846.6" rx="8.9" ry="5.7" fill="#1A22E8" opacity="0.80" transform="rotate(120 777.3 846.6)"/>
<ellipse cx="775.6" cy="852.5" rx="9.3" ry="4.7" fill="#1A22E8" opacity="0.82" transform="rotate(115 775.6 852.5)"/>
<ellipse cx="780.9" cy="857.0" rx="9.2" ry="5.3" fill="#1A22E8" opacity="0.94" transform="rotate(92 780.9 857.0)"/>
<ellipse cx="794.0" cy="843.7" rx="8.4" ry="6.1" fill="#1A22E8" opacity="0.72" transform="rotate(155 794.0 843.7)"/>
<ellipse cx="791.1" cy="851.5" rx="8.6" ry="5.0" fill="#1A22E8" opacity="0.75" transform="rotate(76 791.1 851.5)"/>
<ellipse cx="803.9" cy="845.9" rx="8.8" ry="5.5" fill="#1A22E8" opacity="0.78" transform="rotate(49 803.9 845.9)"/>
<ellipse cx="812.1" cy="852.7" rx="8.7" ry="5.3" fill="#1A22E8" opacity="0.71" transform="rotate(54 812.1 852.7)"/>
<ellipse cx="812.4" cy="856.8" rx="5.7" ry="6.3" fill="#1A22E8" opacity="0.91" transform="rotate(98 812.4 856.8)"/>
<ellipse cx="809.1" cy="843.6" rx="6.3" ry="6.8" fill="#1A22E8" opacity="0.81" transform="rotate(118 809.1 843.6)"/>
<ellipse cx="830.5" cy="857.3" rx="8.0" ry="6.1" fill="#1A22E8" opacity="0.84" transform="rotate(107 830.5 857.3)"/>
<ellipse cx="823.3" cy="859.8" rx="7.3" ry="6.4" fill="#1A22E8" opacity="0.64" transform="rotate(33 823.3 859.8)"/>
<ellipse cx="835.3" cy="864.9" rx="8.1" ry="5.4" fill="#1A22E8" opacity="0.89" transform="rotate(142 835.3 864.9)"/>
<ellipse cx="827.7" cy="862.2" rx="7.2" ry="5.3" fill="#1A22E8" opacity="0.75" transform="rotate(116 827.7 862.2)"/>
<ellipse cx="825.5" cy="874.4" rx="5.7" ry="4.8" fill="#1A22E8" opacity="0.88" transform="rotate(104 825.5 874.4)"/>
<ellipse cx="833.6" cy="869.8" rx="7.0" ry="6.0" fill="#1A22E8" opacity="0.93" transform="rotate(177 833.6 869.8)"/>
<ellipse cx="833.6" cy="874.4" rx="8.1" ry="5.0" fill="#1A22E8" opacity="0.65" transform="rotate(3 833.6 874.4)"/>
<ellipse cx="839.1" cy="877.7" rx="9.4" ry="4.7" fill="#1A22E8" opacity="0.90" transform="rotate(23 839.1 877.7)"/>
<ellipse cx="839.0" cy="886.7" rx="8.4" ry="5.0" fill="#1A22E8" opacity="0.62" transform="rotate(139 839.0 886.7)"/>
<ellipse cx="840.3" cy="907.0" rx="5.8" ry="6.1" fill="#1A22E8" opacity="0.85" transform="rotate(83 840.3 907.0)"/>
<ellipse cx="828.7" cy="919.5" rx="8.4" ry="4.5" fill="#1A22E8" opacity="0.61" transform="rotate(117 828.7 919.5)"/>
<ellipse cx="823.3" cy="912.3" rx="8.4" ry="4.9" fill="#1A22E8" opacity="0.90" transform="rotate(88 823.3 912.3)"/>
<ellipse cx="827.8" cy="918.2" rx="7.3" ry="6.2" fill="#1A22E8" opacity="0.65" transform="rotate(144 827.8 918.2)"/>
<ellipse cx="829.3" cy="925.7" rx="7.2" ry="5.5" fill="#1A22E8" opacity="0.88" transform="rotate(170 829.3 925.7)"/>
<ellipse cx="824.0" cy="926.7" rx="5.7" ry="6.9" fill="#1A22E8" opacity="0.85" transform="rotate(149 824.0 926.7)"/>
<ellipse cx="823.2" cy="941.8" rx="8.8" ry="6.0" fill="#1A22E8" opacity="0.71" transform="rotate(77 823.2 941.8)"/>
<ellipse cx="814.9" cy="944.2" rx="7.9" ry="6.7" fill="#1A22E8" opacity="0.88" transform="rotate(51 814.9 944.2)"/>
<ellipse cx="812.5" cy="940.1" rx="7.8" ry="6.5" fill="#1A22E8" opacity="0.91" transform="rotate(8 812.5 940.1)"/>
<ellipse cx="816.4" cy="957.0" rx="7.8" ry="5.2" fill="#1A22E8" opacity="0.90" transform="rotate(145 816.4 957.0)"/>
<ellipse cx="815.5" cy="951.8" rx="5.8" ry="5.9" fill="#1A22E8" opacity="0.88" transform="rotate(36 815.5 951.8)"/>
<ellipse cx="812.3" cy="955.0" rx="7.9" ry="6.2" fill="#1A22E8" opacity="0.76" transform="rotate(37 812.3 955.0)"/>
<ellipse cx="807.4" cy="967.5" rx="7.3" ry="4.7" fill="#1A22E8" opacity="0.88" transform="rotate(139 807.4 967.5)"/>
<ellipse cx="800.6" cy="973.8" rx="9.0" ry="5.8" fill="#1A22E8" opacity="0.77" transform="rotate(106 800.6 973.8)"/>
<ellipse cx="788.5" cy="964.0" rx="8.3" ry="5.4" fill="#1A22E8" opacity="0.80" transform="rotate(72 788.5 964.0)"/>
<ellipse cx="780.5" cy="965.9" rx="9.5" ry="5.4" fill="#1A22E8" opacity="0.64" transform="rotate(114 780.5 965.9)"/>
<ellipse cx="773.7" cy="980.0" rx="6.9" ry="5.8" fill="#1A22E8" opacity="0.61" transform="rotate(6 773.7 980.0)"/>
<ellipse cx="780.0" cy="981.9" rx="7.8" ry="5.2" fill="#1A22E8" opacity="0.87" transform="rotate(77 780.0 981.9)"/>
<ellipse cx="772.6" cy="986.2" rx="9.4" ry="5.1" fill="#1A22E8" opacity="0.61" transform="rotate(36 772.6 986.2)"/>
<ellipse cx="758.9" cy="972.0" rx="7.7" ry="6.7" fill="#1A22E8" opacity="0.76" transform="rotate(170 758.9 972.0)"/>
<ellipse cx="748.4" cy="978.7" rx="7.1" ry="4.8" fill="#1A22E8" opacity="0.94" transform="rotate(46 748.4 978.7)"/>
<ellipse cx="754.9" cy="984.0" rx="8.2" ry="5.5" fill="#1A22E8" opacity="0.76" transform="rotate(29 754.9 984.0)"/>
<ellipse cx="752.9" cy="968.2" rx="5.7" ry="5.1" fill="#1A22E8" opacity="0.72" transform="rotate(162 752.9 968.2)"/>
<ellipse cx="744.6" cy="963.4" rx="8.6" ry="6.3" fill="#1A22E8" opacity="0.83" transform="rotate(177 744.6 963.4)"/>
<ellipse cx="731.3" cy="975.8" rx="9.3" ry="6.2" fill="#1A22E8" opacity="0.70" transform="rotate(106 731.3 975.8)"/>
<ellipse cx="720.7" cy="965.4" rx="6.5" ry="4.8" fill="#1A22E8" opacity="0.77" transform="rotate(30 720.7 965.4)"/>
<ellipse cx="718.6" cy="971.1" rx="5.6" ry="6.3" fill="#1A22E8" opacity="0.67" transform="rotate(6 718.6 971.1)"/>
<ellipse cx="710.1" cy="973.1" rx="9.0" ry="6.7" fill="#1A22E8" opacity="0.65" transform="rotate(81 710.1 973.1)"/>
<ellipse cx="721.9" cy="971.1" rx="8.0" ry="5.6" fill="#1A22E8" opacity="0.72" transform="rotate(148 721.9 971.1)"/>
<ellipse cx="708.4" cy="956.4" rx="6.4" ry="4.6" fill="#1A22E8" opacity="0.85" transform="rotate(100 708.4 956.4)"/>
<ellipse cx="708.9" cy="957.6" rx="7.1" ry="4.9" fill="#1A22E8" opacity="0.69" transform="rotate(151 708.9 957.6)"/>
<ellipse cx="689.8" cy="959.1" rx="6.8" ry="6.8" fill="#1A22E8" opacity="0.64" transform="rotate(176 689.8 959.1)"/>
<ellipse cx="699.6" cy="959.7" rx="6.3" ry="5.7" fill="#1A22E8" opacity="0.70" transform="rotate(46 699.6 959.7)"/>
<ellipse cx="684.9" cy="961.3" rx="9.5" ry="6.8" fill="#1A22E8" opacity="0.63" transform="rotate(52 684.9 961.3)"/>
<ellipse cx="671.7" cy="950.4" rx="6.7" ry="6.9" fill="#1A22E8" opacity="0.61" transform="rotate(145 671.7 950.4)"/>
<ellipse cx="671.1" cy="935.8" rx="8.8" ry="5.8" fill="#1A22E8" opacity="0.67" transform="rotate(78 671.1 935.8)"/>
<ellipse cx="665.4" cy="940.4" rx="6.1" ry="5.0" fill="#1A22E8" opacity="0.87" transform="rotate(128 665.4 940.4)"/>
<ellipse cx="662.0" cy="930.3" rx="7.9" ry="5.7" fill="#1A22E8" opacity="0.70" transform="rotate(37 662.0 930.3)"/>
<ellipse cx="669.5" cy="935.6" rx="7.8" ry="5.0" fill="#1A22E8" opacity="0.62" transform="rotate(132 669.5 935.6)"/>
<ellipse cx="667.6" cy="917.7" rx="8.7" ry="5.3" fill="#1A22E8" opacity="0.89" transform="rotate(156 667.6 917.7)"/>
<ellipse cx="651.9" cy="927.2" rx="7.4" ry="6.7" fill="#1A22E8" opacity="0.69" transform="rotate(33 651.9 927.2)"/>
<ellipse cx="654.6" cy="906.4" rx="7.0" ry="6.0" fill="#1A22E8" opacity="0.60" transform="rotate(94 654.6 906.4)"/>
<ellipse cx="657.8" cy="902.3" rx="8.4" ry="6.5" fill="#1A22E8" opacity="0.90" transform="rotate(58 657.8 902.3)"/>
<ellipse cx="658.3" cy="906.8" rx="5.7" ry="6.7" fill="#1A22E8" opacity="0.93" transform="rotate(89 658.3 906.8)"/>
<ellipse cx="662.8" cy="898.6" rx="5.6" ry="6.9" fill="#1A22E8" opacity="0.68" transform="rotate(33 662.8 898.6)"/>
<ellipse cx="659.1" cy="900.4" rx="5.6" ry="4.7" fill="#1A22E8" opacity="0.84" transform="rotate(35 659.1 900.4)"/>
<ellipse cx="667.4" cy="891.1" rx="7.6" ry="6.3" fill="#1A22E8" opacity="0.64" transform="rotate(157 667.4 891.1)"/>
<ellipse cx="661.3" cy="873.8" rx="7.5" ry="5.8" fill="#1A22E8" opacity="0.70" transform="rotate(22 661.3 873.8)"/>
<ellipse cx="502.7" cy="757.1" rx="8.9" ry="4.9" fill="#1A22E8" opacity="0.80" transform="rotate(134 502.7 757.1)"/>
<ellipse cx="519.0" cy="765.9" rx="7.1" ry="5.6" fill="#1A22E8" opacity="0.89" transform="rotate(95 519.0 765.9)"/>
<ellipse cx="527.3" cy="767.2" rx="6.9" ry="5.1" fill="#1A22E8" opacity="0.72" transform="rotate(78 527.3 767.2)"/>
<ellipse cx="532.9" cy="775.0" rx="8.8" ry="6.6" fill="#1A22E8" opacity="0.62" transform="rotate(93 532.9 775.0)"/>
<ellipse cx="540.2" cy="766.4" rx="7.2" ry="6.1" fill="#1A22E8" opacity="0.73" transform="rotate(96 540.2 766.4)"/>
<ellipse cx="531.8" cy="771.4" rx="5.6" ry="4.8" fill="#1A22E8" opacity="0.94" transform="rotate(140 531.8 771.4)"/>
<ellipse cx="544.9" cy="783.2" rx="9.0" ry="6.7" fill="#1A22E8" opacity="0.61" transform="rotate(115 544.9 783.2)"/>
<ellipse cx="547.4" cy="774.7" rx="7.7" ry="6.8" fill="#1A22E8" opacity="0.82" transform="rotate(45 547.4 774.7)"/>
<ellipse cx="549.7" cy="789.7" rx="6.7" ry="5.3" fill="#1A22E8" opacity="0.83" transform="rotate(22 549.7 789.7)"/>
<ellipse cx="565.4" cy="782.7" rx="6.6" ry="5.7" fill="#1A22E8" opacity="0.79" transform="rotate(27 565.4 782.7)"/>
<ellipse cx="553.6" cy="779.2" rx="7.1" ry="5.2" fill="#1A22E8" opacity="0.69" transform="rotate(16 553.6 779.2)"/>
<ellipse cx="574.7" cy="786.0" rx="7.8" ry="6.1" fill="#1A22E8" opacity="0.67" transform="rotate(128 574.7 786.0)"/>
<ellipse cx="574.7" cy="786.7" rx="7.4" ry="5.3" fill="#1A22E8" opacity="0.68" transform="rotate(40 574.7 786.7)"/>
<ellipse cx="577.9" cy="787.0" rx="5.5" ry="5.4" fill="#1A22E8" opacity="0.90" transform="rotate(43 577.9 787.0)"/>
<ellipse cx="585.9" cy="782.4" rx="9.5" ry="5.2" fill="#1A22E8" opacity="0.87" transform="rotate(29 585.9 782.4)"/>
<ellipse cx="595.5" cy="785.9" rx="5.7" ry="5.5" fill="#1A22E8" opacity="0.75" transform="rotate(132 595.5 785.9)"/>
<ellipse cx="586.7" cy="801.0" rx="8.5" ry="4.9" fill="#1A22E8" opacity="0.72" transform="rotate(63 586.7 801.0)"/>
<ellipse cx="598.0" cy="807.5" rx="8.8" ry="5.8" fill="#1A22E8" opacity="0.86" transform="rotate(134 598.0 807.5)"/>
<ellipse cx="510.8" cy="728.7" rx="8.3" ry="6.8" fill="#1A22E8" opacity="0.64" transform="rotate(157 510.8 728.7)"/>
<ellipse cx="517.4" cy="725.8" rx="7.5" ry="6.9" fill="#1A22E8" opacity="0.80" transform="rotate(75 517.4 725.8)"/>
<ellipse cx="529.0" cy="731.0" rx="7.0" ry="5.6" fill="#1A22E8" opacity="0.76" transform="rotate(130 529.0 731.0)"/>
<ellipse cx="523.1" cy="731.4" rx="7.0" ry="5.3" fill="#1A22E8" opacity="0.88" transform="rotate(153 523.1 731.4)"/>
<ellipse cx="530.6" cy="728.0" rx="6.7" ry="4.9" fill="#1A22E8" opacity="0.80" transform="rotate(105 530.6 728.0)"/>
<ellipse cx="542.4" cy="731.8" rx="8.9" ry="6.6" fill="#1A22E8" opacity="0.94" transform="rotate(37 542.4 731.8)"/>
<ellipse cx="550.1" cy="725.0" rx="5.7" ry="5.9" fill="#1A22E8" opacity="0.77" transform="rotate(166 550.1 725.0)"/>
<ellipse cx="551.3" cy="741.5" rx="7.6" ry="5.8" fill="#1A22E8" opacity="0.84" transform="rotate(70 551.3 741.5)"/>
<ellipse cx="555.8" cy="729.3" rx="9.3" ry="6.2" fill="#1A22E8" opacity="0.78" transform="rotate(18 555.8 729.3)"/>
<ellipse cx="558.3" cy="732.2" rx="7.8" ry="6.7" fill="#1A22E8" opacity="0.94" transform="rotate(88 558.3 732.2)"/>
<ellipse cx="568.6" cy="739.1" rx="6.9" ry="5.8" fill="#1A22E8" opacity="0.89" transform="rotate(31 568.6 739.1)"/>
<ellipse cx="579.5" cy="736.8" rx="7.6" ry="4.8" fill="#1A22E8" opacity="0.91" transform="rotate(124 579.5 736.8)"/>
<ellipse cx="585.9" cy="744.0" rx="7.2" ry="4.9" fill="#1A22E8" opacity="0.70" transform="rotate(92 585.9 744.0)"/>
<ellipse cx="574.2" cy="734.1" rx="8.0" ry="6.0" fill="#1A22E8" opacity="0.72" transform="rotate(179 574.2 734.1)"/>
<ellipse cx="576.2" cy="742.8" rx="8.7" ry="5.3" fill="#1A22E8" opacity="0.84" transform="rotate(1 576.2 742.8)"/>
<ellipse cx="593.3" cy="748.7" rx="8.2" ry="5.0" fill="#1A22E8" opacity="0.77" transform="rotate(100 593.3 748.7)"/>
<ellipse cx="593.7" cy="751.6" rx="9.5" ry="5.9" fill="#1A22E8" opacity="0.74" transform="rotate(22 593.7 751.6)"/>
<ellipse cx="512.0" cy="786.0" rx="5.9" ry="4.9" fill="#1A22E8" opacity="0.78" transform="rotate(148 512.0 786.0)"/>
<ellipse cx="514.1" cy="793.9" rx="5.5" ry="6.4" fill="#1A22E8" opacity="0.71" transform="rotate(129 514.1 793.9)"/>
<ellipse cx="503.3" cy="802.1" rx="5.9" ry="6.8" fill="#1A22E8" opacity="0.80" transform="rotate(63 503.3 802.1)"/>
<ellipse cx="508.2" cy="804.9" rx="9.1" ry="6.0" fill="#1A22E8" opacity="0.94" transform="rotate(79 508.2 804.9)"/>
<ellipse cx="506.8" cy="811.8" rx="9.2" ry="6.6" fill="#1A22E8" opacity="0.71" transform="rotate(162 506.8 811.8)"/>
<ellipse cx="508.9" cy="829.0" rx="9.3" ry="5.7" fill="#1A22E8" opacity="0.93" transform="rotate(44 508.9 829.0)"/>
<ellipse cx="516.9" cy="825.6" rx="6.7" ry="6.7" fill="#1A22E8" opacity="0.77" transform="rotate(143 516.9 825.6)"/>
<ellipse cx="507.8" cy="833.3" rx="6.2" ry="6.9" fill="#1A22E8" opacity="0.70" transform="rotate(101 507.8 833.3)"/>
<ellipse cx="515.1" cy="839.0" rx="7.1" ry="4.7" fill="#1A22E8" opacity="0.64" transform="rotate(149 515.1 839.0)"/>
<ellipse cx="510.6" cy="842.9" rx="6.6" ry="5.1" fill="#1A22E8" opacity="0.61" transform="rotate(120 510.6 842.9)"/>
<ellipse cx="508.7" cy="857.8" rx="5.9" ry="5.2" fill="#1A22E8" opacity="0.89" transform="rotate(23 508.7 857.8)"/>
<ellipse cx="520.6" cy="865.9" rx="6.1" ry="5.4" fill="#1A22E8" opacity="0.85" transform="rotate(68 520.6 865.9)"/>
<ellipse cx="508.9" cy="877.2" rx="7.5" ry="5.1" fill="#1A22E8" opacity="0.76" transform="rotate(24 508.9 877.2)"/>
<ellipse cx="509.6" cy="880.6" rx="7.9" ry="5.4" fill="#1A22E8" opacity="0.69" transform="rotate(109 509.6 880.6)"/>
<ellipse cx="520.4" cy="869.5" rx="7.6" ry="5.9" fill="#1A22E8" opacity="0.69" transform="rotate(139 520.4 869.5)"/>
<ellipse cx="516.2" cy="884.2" rx="6.7" ry="5.5" fill="#1A22E8" opacity="0.63" transform="rotate(32 516.2 884.2)"/>
<ellipse cx="509.7" cy="894.4" rx="5.9" ry="5.9" fill="#1A22E8" opacity="0.73" transform="rotate(90 509.7 894.4)"/>
<ellipse cx="505.0" cy="890.6" rx="6.4" ry="4.8" fill="#1A22E8" opacity="0.85" transform="rotate(51 505.0 890.6)"/>
<ellipse cx="519.8" cy="905.3" rx="9.0" ry="6.7" fill="#1A22E8" opacity="0.65" transform="rotate(50 519.8 905.3)"/>
<ellipse cx="515.4" cy="906.9" rx="6.9" ry="5.5" fill="#1A22E8" opacity="0.83" transform="rotate(126 515.4 906.9)"/>
<ellipse cx="518.0" cy="908.4" rx="8.0" ry="5.0" fill="#1A22E8" opacity="0.64" transform="rotate(164 518.0 908.4)"/>
<ellipse cx="515.0" cy="911.5" rx="5.7" ry="4.9" fill="#1A22E8" opacity="0.67" transform="rotate(55 515.0 911.5)"/>
<ellipse cx="502.6" cy="920.1" rx="8.1" ry="4.9" fill="#1A22E8" opacity="0.89" transform="rotate(103 502.6 920.1)"/>
<ellipse cx="506.0" cy="930.1" rx="8.2" ry="5.4" fill="#1A22E8" opacity="0.60" transform="rotate(150 506.0 930.1)"/>
<ellipse cx="506.1" cy="929.2" rx="8.9" ry="6.0" fill="#1A22E8" opacity="0.62" transform="rotate(44 506.1 929.2)"/>
<ellipse cx="515.7" cy="933.7" rx="9.2" ry="6.4" fill="#1A22E8" opacity="0.63" transform="rotate(125 515.7 933.7)"/>
<ellipse cx="521.9" cy="946.3" rx="6.6" ry="4.7" fill="#1A22E8" opacity="0.93" transform="rotate(76 521.9 946.3)"/>
<ellipse cx="529.2" cy="946.5" rx="8.8" ry="6.1" fill="#1A22E8" opacity="0.76" transform="rotate(10 529.2 946.5)"/>
<ellipse cx="528.7" cy="943.3" rx="9.2" ry="4.8" fill="#1A22E8" opacity="0.87" transform="rotate(8 528.7 943.3)"/>
<ellipse cx="540.9" cy="939.9" rx="7.7" ry="6.9" fill="#1A22E8" opacity="0.82" transform="rotate(98 540.9 939.9)"/>
<ellipse cx="530.5" cy="942.3" rx="7.1" ry="5.0" fill="#1A22E8" opacity="0.71" transform="rotate(25 530.5 942.3)"/>
<ellipse cx="549.4" cy="941.8" rx="6.5" ry="5.8" fill="#1A22E8" opacity="0.76" transform="rotate(168 549.4 941.8)"/>
<ellipse cx="546.3" cy="954.5" rx="6.1" ry="5.9" fill="#1A22E8" opacity="0.72" transform="rotate(147 546.3 954.5)"/>
<ellipse cx="561.6" cy="943.9" rx="8.2" ry="6.0" fill="#1A22E8" opacity="0.76" transform="rotate(138 561.6 943.9)"/>
<ellipse cx="557.4" cy="948.6" rx="6.9" ry="5.0" fill="#1A22E8" opacity="0.62" transform="rotate(51 557.4 948.6)"/>
<ellipse cx="570.1" cy="952.2" rx="6.0" ry="5.3" fill="#1A22E8" opacity="0.76" transform="rotate(65 570.1 952.2)"/>
<ellipse cx="564.4" cy="946.2" rx="9.5" ry="6.4" fill="#1A22E8" opacity="0.63" transform="rotate(129 564.4 946.2)"/>
<ellipse cx="583.8" cy="951.5" rx="7.5" ry="5.6" fill="#1A22E8" opacity="0.67" transform="rotate(98 583.8 951.5)"/>
<ellipse cx="590.4" cy="961.2" rx="8.0" ry="6.8" fill="#1A22E8" opacity="0.83" transform="rotate(45 590.4 961.2)"/>
<ellipse cx="583.5" cy="952.8" rx="8.6" ry="6.6" fill="#1A22E8" opacity="0.70" transform="rotate(33 583.5 952.8)"/>
<ellipse cx="603.8" cy="973.3" rx="6.2" ry="6.5" fill="#1A22E8" opacity="0.89" transform="rotate(134 603.8 973.3)"/>
<ellipse cx="595.6" cy="973.7" rx="6.8" ry="5.4" fill="#1A22E8" opacity="0.79" transform="rotate(66 595.6 973.7)"/>
<ellipse cx="604.8" cy="964.4" rx="7.8" ry="6.1" fill="#1A22E8" opacity="0.89" transform="rotate(127 604.8 964.4)"/>
<ellipse cx="623.3" cy="975.9" rx="7.5" ry="4.9" fill="#1A22E8" opacity="0.70" transform="rotate(105 623.3 975.9)"/>
<ellipse cx="619.6" cy="970.5" rx="7.3" ry="6.9" fill="#1A22E8" opacity="0.63" transform="rotate(7 619.6 970.5)"/>
<ellipse cx="617.0" cy="985.7" rx="5.5" ry="6.6" fill="#1A22E8" opacity="0.90" transform="rotate(142 617.0 985.7)"/>
<ellipse cx="621.8" cy="989.6" rx="7.6" ry="5.6" fill="#1A22E8" opacity="0.72" transform="rotate(79 621.8 989.6)"/>
<ellipse cx="635.4" cy="1000.2" rx="6.2" ry="5.2" fill="#1A22E8" opacity="0.76" transform="rotate(101 635.4 1000.2)"/>
<ellipse cx="626.1" cy="988.9" rx="6.8" ry="5.7" fill="#1A22E8" opacity="0.94" transform="rotate(164 626.1 988.9)"/>
<ellipse cx="644.9" cy="1012.3" rx="8.0" ry="6.5" fill="#1A22E8" opacity="0.62" transform="rotate(122 644.9 1012.3)"/>
<ellipse cx="635.0" cy="1009.1" rx="9.3" ry="5.7" fill="#1A22E8" opacity="0.83" transform="rotate(54 635.0 1009.1)"/>
<ellipse cx="647.8" cy="1003.0" rx="6.3" ry="6.2" fill="#1A22E8" opacity="0.76" transform="rotate(15 647.8 1003.0)"/>
<ellipse cx="642.9" cy="1019.4" rx="7.2" ry="5.8" fill="#1A22E8" opacity="0.80" transform="rotate(71 642.9 1019.4)"/>
<ellipse cx="641.0" cy="1027.1" rx="7.7" ry="4.8" fill="#1A22E8" opacity="0.90" transform="rotate(46 641.0 1027.1)"/>
<ellipse cx="650.6" cy="1020.3" rx="7.5" ry="5.9" fill="#1A22E8" opacity="0.68" transform="rotate(103 650.6 1020.3)"/>
<ellipse cx="653.8" cy="1031.2" rx="5.8" ry="5.5" fill="#1A22E8" opacity="0.63" transform="rotate(79 653.8 1031.2)"/>
<ellipse cx="842.2" cy="887.5" rx="8.5" ry="4.8" fill="#1A22E8" opacity="0.95" transform="rotate(130 842.2 887.5)"/>
<ellipse cx="848.7" cy="881.5" rx="6.2" ry="6.9" fill="#1A22E8" opacity="0.80" transform="rotate(139 848.7 881.5)"/>
<ellipse cx="854.3" cy="874.5" rx="6.4" ry="5.4" fill="#1A22E8" opacity="0.61" transform="rotate(107 854.3 874.5)"/>
<ellipse cx="852.5" cy="885.3" rx="7.2" ry="6.7" fill="#1A22E8" opacity="0.82" transform="rotate(157 852.5 885.3)"/>
<ellipse cx="872.2" cy="887.0" rx="6.2" ry="6.4" fill="#1A22E8" opacity="0.72" transform="rotate(137 872.2 887.0)"/>
<ellipse cx="877.6" cy="872.5" rx="7.0" ry="6.3" fill="#1A22E8" opacity="0.93" transform="rotate(130 877.6 872.5)"/>
<ellipse cx="875.8" cy="871.6" rx="7.7" ry="6.5" fill="#1A22E8" opacity="0.64" transform="rotate(167 875.8 871.6)"/>
<ellipse cx="875.8" cy="866.2" rx="7.3" ry="6.6" fill="#1A22E8" opacity="0.80" transform="rotate(20 875.8 866.2)"/>
<ellipse cx="874.5" cy="875.6" rx="6.2" ry="5.9" fill="#1A22E8" opacity="0.70" transform="rotate(124 874.5 875.6)"/>
<ellipse cx="880.3" cy="871.1" rx="7.7" ry="6.2" fill="#1A22E8" opacity="0.88" transform="rotate(171 880.3 871.1)"/>
<ellipse cx="886.2" cy="855.3" rx="7.5" ry="6.7" fill="#1A22E8" opacity="0.88" transform="rotate(6 886.2 855.3)"/>
<ellipse cx="847.8" cy="931.7" rx="7.1" ry="5.7" fill="#1A22E8" opacity="0.66" transform="rotate(152 847.8 931.7)"/>
<ellipse cx="854.7" cy="934.4" rx="5.8" ry="5.3" fill="#1A22E8" opacity="0.68" transform="rotate(161 854.7 934.4)"/>
<ellipse cx="845.7" cy="930.4" rx="6.9" ry="5.7" fill="#1A22E8" opacity="0.80" transform="rotate(70 845.7 930.4)"/>
<ellipse cx="848.7" cy="940.2" rx="6.8" ry="4.6" fill="#1A22E8" opacity="0.76" transform="rotate(178 848.7 940.2)"/>
<ellipse cx="854.6" cy="944.1" rx="6.6" ry="5.2" fill="#1A22E8" opacity="0.78" transform="rotate(47 854.6 944.1)"/>
<ellipse cx="869.3" cy="953.3" rx="9.5" ry="4.6" fill="#1A22E8" opacity="0.80" transform="rotate(139 869.3 953.3)"/>
<ellipse cx="880.8" cy="949.4" rx="8.0" ry="5.4" fill="#1A22E8" opacity="0.70" transform="rotate(143 880.8 949.4)"/>
<ellipse cx="889.2" cy="951.8" rx="6.7" ry="6.4" fill="#1A22E8" opacity="0.86" transform="rotate(92 889.2 951.8)"/>
<ellipse cx="882.7" cy="950.6" rx="7.1" ry="4.7" fill="#1A22E8" opacity="0.72" transform="rotate(58 882.7 950.6)"/>
<ellipse cx="892.4" cy="949.3" rx="6.5" ry="5.1" fill="#1A22E8" opacity="0.72" transform="rotate(24 892.4 949.3)"/>
<ellipse cx="899.5" cy="950.9" rx="7.3" ry="5.9" fill="#1A22E8" opacity="0.71" transform="rotate(30 899.5 950.9)"/>
<ellipse cx="895.0" cy="949.9" rx="8.4" ry="5.9" fill="#1A22E8" opacity="0.93" transform="rotate(61 895.0 949.9)"/>
<ellipse cx="910.2" cy="948.6" rx="6.2" ry="6.0" fill="#1A22E8" opacity="0.95" transform="rotate(64 910.2 948.6)"/>
<ellipse cx="912.0" cy="964.1" rx="5.8" ry="5.7" fill="#1A22E8" opacity="0.91" transform="rotate(50 912.0 964.1)"/>
<ellipse cx="907.6" cy="951.3" rx="6.6" ry="6.3" fill="#1A22E8" opacity="0.68" transform="rotate(72 907.6 951.3)"/>
<ellipse cx="924.0" cy="962.1" rx="8.1" ry="5.0" fill="#1A22E8" opacity="0.86" transform="rotate(173 924.0 962.1)"/>
<ellipse cx="923.5" cy="958.6" rx="9.0" ry="5.4" fill="#1A22E8" opacity="0.65" transform="rotate(34 923.5 958.6)"/>
<ellipse cx="516.8" cy="982.7" rx="9.2" ry="5.0" fill="#1A22E8" opacity="0.71" transform="rotate(135 516.8 982.7)"/>
<ellipse cx="514.4" cy="984.9" rx="6.9" ry="4.6" fill="#1A22E8" opacity="0.74" transform="rotate(8 514.4 984.9)"/>
<ellipse cx="518.4" cy="983.0" rx="7.9" ry="5.1" fill="#1A22E8" opacity="0.76" transform="rotate(2 518.4 983.0)"/>
<ellipse cx="529.6" cy="993.6" rx="5.7" ry="6.0" fill="#1A22E8" opacity="0.85" transform="rotate(59 529.6 993.6)"/>
<ellipse cx="523.2" cy="978.6" rx="8.6" ry="4.7" fill="#1A22E8" opacity="0.88" transform="rotate(76 523.2 978.6)"/>
<ellipse cx="538.8" cy="988.0" rx="8.1" ry="6.0" fill="#1A22E8" opacity="0.72" transform="rotate(133 538.8 988.0)"/>
<ellipse cx="545.0" cy="992.7" rx="8.6" ry="5.3" fill="#1A22E8" opacity="0.87" transform="rotate(176 545.0 992.7)"/>
<ellipse cx="543.7" cy="990.0" rx="9.3" ry="4.8" fill="#1A22E8" opacity="0.60" transform="rotate(86 543.7 990.0)"/>
<ellipse cx="559.1" cy="988.8" rx="9.5" ry="5.1" fill="#1A22E8" opacity="0.86" transform="rotate(16 559.1 988.8)"/>
<ellipse cx="549.6" cy="983.8" rx="7.5" ry="5.9" fill="#1A22E8" opacity="0.66" transform="rotate(169 549.6 983.8)"/>
<ellipse cx="557.0" cy="988.5" rx="8.5" ry="6.8" fill="#1A22E8" opacity="0.66" transform="rotate(5 557.0 988.5)"/>
<ellipse cx="565.9" cy="1007.8" rx="7.5" ry="6.1" fill="#1A22E8" opacity="0.72" transform="rotate(144 565.9 1007.8)"/>
<ellipse cx="570.8" cy="1008.7" rx="5.9" ry="6.3" fill="#1A22E8" opacity="0.62" transform="rotate(116 570.8 1008.7)"/>
<ellipse cx="585.4" cy="996.7" rx="7.8" ry="5.5" fill="#1A22E8" opacity="0.92" transform="rotate(170 585.4 996.7)"/>
<ellipse cx="580.1" cy="1004.3" rx="6.5" ry="5.6" fill="#1A22E8" opacity="0.68" transform="rotate(37 580.1 1004.3)"/>
<ellipse cx="593.4" cy="1009.0" rx="9.5" ry="5.0" fill="#1A22E8" opacity="0.80" transform="rotate(28 593.4 1009.0)"/>
<ellipse cx="603.1" cy="1012.2" rx="8.5" ry="6.6" fill="#1A22E8" opacity="0.70" transform="rotate(60 603.1 1012.2)"/>
<ellipse cx="606.6" cy="1012.4" rx="8.2" ry="6.0" fill="#1A22E8" opacity="0.76" transform="rotate(104 606.6 1012.4)"/>
<ellipse cx="601.8" cy="1028.3" rx="6.9" ry="6.4" fill="#1A22E8" opacity="0.90" transform="rotate(33 601.8 1028.3)"/>
<ellipse cx="621.2" cy="1019.1" rx="5.6" ry="4.8" fill="#1A22E8" opacity="0.94" transform="rotate(2 621.2 1019.1)"/>
<ellipse cx="611.7" cy="1028.4" rx="5.9" ry="4.9" fill="#1A22E8" opacity="0.84" transform="rotate(16 611.7 1028.4)"/>
<ellipse cx="627.9" cy="1028.7" rx="9.0" ry="6.9" fill="#1A22E8" opacity="0.61" transform="rotate(42 627.9 1028.7)"/>
<ellipse cx="631.7" cy="1018.4" rx="7.5" ry="5.1" fill="#1A22E8" opacity="0.75" transform="rotate(19 631.7 1018.4)"/>
<ellipse cx="638.3" cy="1023.7" rx="9.0" ry="4.8" fill="#1A22E8" opacity="0.77" transform="rotate(24 638.3 1023.7)"/>
<ellipse cx="631.4" cy="1032.3" rx="6.1" ry="6.3" fill="#1A22E8" opacity="0.78" transform="rotate(20 631.4 1032.3)"/>
<ellipse cx="642.1" cy="1037.8" rx="6.9" ry="5.0" fill="#1A22E8" opacity="0.94" transform="rotate(159 642.1 1037.8)"/>
<ellipse cx="645.6" cy="1026.3" rx="6.6" ry="4.7" fill="#1A22E8" opacity="0.62" transform="rotate(92 645.6 1026.3)"/>
<ellipse cx="654.3" cy="1030.5" rx="5.5" ry="6.2" fill="#1A22E8" opacity="0.83" transform="rotate(98 654.3 1030.5)"/>
<ellipse cx="663.1" cy="1041.9" rx="9.0" ry="6.3" fill="#1A22E8" opacity="0.74" transform="rotate(57 663.1 1041.9)"/>
<ellipse cx="673.1" cy="1030.2" rx="7.0" ry="5.5" fill="#1A22E8" opacity="0.65" transform="rotate(180 673.1 1030.2)"/>
<ellipse cx="669.8" cy="1039.2" rx="6.5" ry="6.0" fill="#1A22E8" opacity="0.73" transform="rotate(43 669.8 1039.2)"/>
<ellipse cx="667.7" cy="1036.4" rx="8.6" ry="6.8" fill="#1A22E8" opacity="0.62" transform="rotate(125 667.7 1036.4)"/>
<ellipse cx="683.6" cy="1029.8" rx="6.8" ry="6.9" fill="#1A22E8" opacity="0.60" transform="rotate(134 683.6 1029.8)"/>
<ellipse cx="689.8" cy="1028.8" rx="9.5" ry="5.1" fill="#1A22E8" opacity="0.82" transform="rotate(134 689.8 1028.8)"/>
<ellipse cx="696.4" cy="1024.7" rx="7.6" ry="6.0" fill="#1A22E8" opacity="0.84" transform="rotate(58 696.4 1024.7)"/>
<ellipse cx="700.5" cy="1020.2" rx="8.0" ry="5.2" fill="#1A22E8" opacity="0.92" transform="rotate(85 700.5 1020.2)"/>
<ellipse cx="706.3" cy="1023.5" rx="6.4" ry="4.9" fill="#1A22E8" opacity="0.92" transform="rotate(95 706.3 1023.5)"/>
<ellipse cx="710.9" cy="1028.7" rx="6.5" ry="4.9" fill="#1A22E8" opacity="0.89" transform="rotate(83 710.9 1028.7)"/>
<ellipse cx="722.6" cy="1028.9" rx="9.0" ry="4.6" fill="#1A22E8" opacity="0.73" transform="rotate(150 722.6 1028.9)"/>
<ellipse cx="716.6" cy="1014.2" rx="6.5" ry="4.8" fill="#1A22E8" opacity="0.72" transform="rotate(145 716.6 1014.2)"/>
<ellipse cx="725.7" cy="1010.7" rx="7.1" ry="7.0" fill="#1A22E8" opacity="0.84" transform="rotate(81 725.7 1010.7)"/>
<ellipse cx="735.8" cy="1018.9" rx="6.1" ry="6.2" fill="#1A22E8" opacity="0.73" transform="rotate(94 735.8 1018.9)"/>
<ellipse cx="731.2" cy="1008.2" rx="7.0" ry="4.5" fill="#1A22E8" opacity="0.67" transform="rotate(103 731.2 1008.2)"/>
<ellipse cx="731.1" cy="1011.7" rx="6.6" ry="5.3" fill="#1A22E8" opacity="0.68" transform="rotate(150 731.1 1011.7)"/>
<ellipse cx="743.7" cy="1010.3" rx="6.3" ry="5.6" fill="#1A22E8" opacity="0.88" transform="rotate(111 743.7 1010.3)"/>
<ellipse cx="740.0" cy="1000.8" rx="7.0" ry="6.3" fill="#1A22E8" opacity="0.70" transform="rotate(73 740.0 1000.8)"/>
<ellipse cx="760.7" cy="997.2" rx="7.0" ry="5.9" fill="#1A22E8" opacity="0.92" transform="rotate(34 760.7 997.2)"/>
<ellipse cx="766.1" cy="995.5" rx="8.2" ry="5.3" fill="#1A22E8" opacity="0.62" transform="rotate(136 766.1 995.5)"/>
<ellipse cx="765.0" cy="997.1" rx="9.1" ry="6.4" fill="#1A22E8" opacity="0.61" transform="rotate(107 765.0 997.1)"/>
<ellipse cx="769.7" cy="1001.6" rx="7.2" ry="5.7" fill="#1A22E8" opacity="0.91" transform="rotate(79 769.7 1001.6)"/>
<ellipse cx="776.2" cy="999.7" rx="8.2" ry="6.4" fill="#1A22E8" opacity="0.74" transform="rotate(7 776.2 999.7)"/>
<ellipse cx="782.8" cy="994.8" rx="8.6" ry="4.8" fill="#1A22E8" opacity="0.68" transform="rotate(14 782.8 994.8)"/>
<ellipse cx="779.8" cy="977.4" rx="8.5" ry="5.9" fill="#1A22E8" opacity="0.62" transform="rotate(123 779.8 977.4)"/>
<ellipse cx="790.7" cy="972.8" rx="8.3" ry="5.5" fill="#1A22E8" opacity="0.80" transform="rotate(180 790.7 972.8)"/>
<ellipse cx="802.7" cy="969.4" rx="6.8" ry="5.8" fill="#1A22E8" opacity="0.60" transform="rotate(178 802.7 969.4)"/>
<ellipse cx="793.8" cy="970.4" rx="6.5" ry="6.6" fill="#1A22E8" opacity="0.79" transform="rotate(92 793.8 970.4)"/>
<ellipse cx="795.2" cy="965.0" rx="9.0" ry="6.5" fill="#1A22E8" opacity="0.90" transform="rotate(46 795.2 965.0)"/>
<ellipse cx="614.3" cy="979.7" rx="7.0" ry="5.7" fill="#1A22E8" opacity="0.77" transform="rotate(105 614.3 979.7)"/>
<ellipse cx="634.1" cy="971.0" rx="9.2" ry="5.9" fill="#1A22E8" opacity="0.62" transform="rotate(57 634.1 971.0)"/>
<ellipse cx="633.3" cy="974.9" rx="6.8" ry="5.2" fill="#1A22E8" opacity="0.88" transform="rotate(52 633.3 974.9)"/>
<ellipse cx="646.8" cy="972.7" rx="7.3" ry="6.8" fill="#1A22E8" opacity="0.76" transform="rotate(158 646.8 972.7)"/>
<ellipse cx="642.1" cy="972.8" rx="5.7" ry="6.7" fill="#1A22E8" opacity="0.63" transform="rotate(107 642.1 972.8)"/>
<ellipse cx="657.0" cy="968.9" rx="8.7" ry="5.7" fill="#1A22E8" opacity="0.84" transform="rotate(121 657.0 968.9)"/>
<ellipse cx="650.4" cy="971.8" rx="6.1" ry="6.8" fill="#1A22E8" opacity="0.67" transform="rotate(18 650.4 971.8)"/>
<ellipse cx="665.7" cy="973.2" rx="7.2" ry="6.1" fill="#1A22E8" opacity="0.69" transform="rotate(163 665.7 973.2)"/>
<ellipse cx="664.3" cy="955.8" rx="8.3" ry="4.6" fill="#1A22E8" opacity="0.89" transform="rotate(53 664.3 955.8)"/>
<ellipse cx="675.4" cy="960.1" rx="7.7" ry="4.9" fill="#1A22E8" opacity="0.92" transform="rotate(58 675.4 960.1)"/>
<ellipse cx="677.6" cy="967.5" rx="9.4" ry="5.5" fill="#1A22E8" opacity="0.61" transform="rotate(68 677.6 967.5)"/>
<ellipse cx="683.9" cy="962.4" rx="5.9" ry="5.7" fill="#1A22E8" opacity="0.85" transform="rotate(77 683.9 962.4)"/>
<ellipse cx="688.3" cy="966.6" rx="6.0" ry="6.8" fill="#1A22E8" opacity="0.95" transform="rotate(169 688.3 966.6)"/>
<ellipse cx="885.3" cy="851.7" rx="8.5" ry="5.7" fill="#1A22E8" opacity="0.93" transform="rotate(17 885.3 851.7)"/>
<ellipse cx="898.8" cy="851.0" rx="7.7" ry="4.7" fill="#1A22E8" opacity="0.65" transform="rotate(49 898.8 851.0)"/>
<ellipse cx="903.0" cy="836.6" rx="9.2" ry="4.6" fill="#1A22E8" opacity="0.81" transform="rotate(174 903.0 836.6)"/>
<ellipse cx="906.3" cy="841.9" rx="5.7" ry="5.3" fill="#1A22E8" opacity="0.76" transform="rotate(45 906.3 841.9)"/>
<ellipse cx="897.1" cy="836.7" rx="6.7" ry="4.7" fill="#1A22E8" opacity="0.80" transform="rotate(17 897.1 836.7)"/>
<ellipse cx="909.9" cy="828.8" rx="7.3" ry="4.6" fill="#1A22E8" opacity="0.78" transform="rotate(18 909.9 828.8)"/>
<ellipse cx="900.0" cy="822.6" rx="6.9" ry="5.4" fill="#1A22E8" opacity="0.83" transform="rotate(29 900.0 822.6)"/>
<ellipse cx="915.6" cy="815.3" rx="8.9" ry="6.7" fill="#1A22E8" opacity="0.77" transform="rotate(27 915.6 815.3)"/>
<ellipse cx="916.1" cy="806.4" rx="7.5" ry="5.8" fill="#1A22E8" opacity="0.64" transform="rotate(84 916.1 806.4)"/>
<ellipse cx="911.9" cy="807.6" rx="7.0" ry="5.0" fill="#1A22E8" opacity="0.74" transform="rotate(37 911.9 807.6)"/>
<ellipse cx="908.3" cy="809.0" rx="7.5" ry="6.7" fill="#1A22E8" opacity="0.61" transform="rotate(170 908.3 809.0)"/>
<ellipse cx="920.7" cy="796.1" rx="8.3" ry="5.1" fill="#1A22E8" opacity="0.86" transform="rotate(28 920.7 796.1)"/>
<ellipse cx="908.4" cy="788.7" rx="7.6" ry="5.2" fill="#1A22E8" opacity="0.91" transform="rotate(15 908.4 788.7)"/>
<ellipse cx="914.4" cy="785.2" rx="8.6" ry="6.3" fill="#1A22E8" opacity="0.62" transform="rotate(44 914.4 785.2)"/>
<ellipse cx="930.7" cy="770.1" rx="8.0" ry="6.2" fill="#1A22E8" opacity="0.89" transform="rotate(62 930.7 770.1)"/>
<ellipse cx="925.4" cy="780.2" rx="5.5" ry="6.9" fill="#1A22E8" opacity="0.74" transform="rotate(73 925.4 780.2)"/>
<ellipse cx="922.5" cy="775.5" rx="8.2" ry="4.9" fill="#1A22E8" opacity="0.72" transform="rotate(25 922.5 775.5)"/>
<ellipse cx="925.8" cy="763.0" rx="9.4" ry="7.0" fill="#1A22E8" opacity="0.88" transform="rotate(86 925.8 763.0)"/>
<ellipse cx="873.4" cy="788.0" rx="8.5" ry="6.1" fill="#1A22E8" opacity="0.67" transform="rotate(113 873.4 788.0)"/>
<ellipse cx="880.8" cy="771.9" rx="8.4" ry="5.4" fill="#1A22E8" opacity="0.66" transform="rotate(174 880.8 771.9)"/>
<ellipse cx="884.6" cy="771.8" rx="8.8" ry="6.8" fill="#1A22E8" opacity="0.92" transform="rotate(134 884.6 771.8)"/>
<ellipse cx="891.9" cy="778.7" rx="7.2" ry="6.6" fill="#1A22E8" opacity="0.87" transform="rotate(157 891.9 778.7)"/>
<ellipse cx="897.3" cy="777.1" rx="9.3" ry="4.8" fill="#1A22E8" opacity="0.94" transform="rotate(142 897.3 777.1)"/>
<ellipse cx="900.3" cy="771.2" rx="6.3" ry="5.6" fill="#1A22E8" opacity="0.68" transform="rotate(89 900.3 771.2)"/>
<ellipse cx="906.5" cy="781.7" rx="7.1" ry="6.5" fill="#1A22E8" opacity="0.88" transform="rotate(123 906.5 781.7)"/>
<ellipse cx="914.7" cy="777.3" rx="5.8" ry="6.1" fill="#1A22E8" opacity="0.89" transform="rotate(61 914.7 777.3)"/>
<ellipse cx="918.4" cy="785.0" rx="5.5" ry="5.7" fill="#1A22E8" opacity="0.61" transform="rotate(20 918.4 785.0)"/>
<ellipse cx="917.5" cy="782.9" rx="7.3" ry="5.3" fill="#1A22E8" opacity="0.67" transform="rotate(64 917.5 782.9)"/>
<ellipse cx="729.4" cy="1021.1" rx="5.9" ry="5.2" fill="#1A22E8" opacity="0.85" transform="rotate(80 729.4 1021.1)"/>
<ellipse cx="735.6" cy="1022.4" rx="8.2" ry="4.6" fill="#1A22E8" opacity="0.89" transform="rotate(33 735.6 1022.4)"/>
<ellipse cx="740.4" cy="1030.1" rx="6.4" ry="6.7" fill="#1A22E8" opacity="0.81" transform="rotate(161 740.4 1030.1)"/>
<ellipse cx="736.0" cy="1046.9" rx="7.5" ry="7.0" fill="#1A22E8" opacity="0.67" transform="rotate(150 736.0 1046.9)"/>
<ellipse cx="521.3" cy="756.1" rx="5.0" ry="4.4" fill="#1A22E8" opacity="0.88" transform="rotate(82 521.3 756.1)"/>
<ellipse cx="577.5" cy="735.1" rx="6.4" ry="4.3" fill="#1A22E8" opacity="0.70" transform="rotate(155 577.5 735.1)"/>
<ellipse cx="551.8" cy="744.7" rx="8.7" ry="6.2" fill="#1A22E8" opacity="0.75" transform="rotate(14 551.8 744.7)"/>
<ellipse cx="561.4" cy="749.8" rx="8.8" ry="4.9" fill="#1A22E8" opacity="0.75" transform="rotate(114 561.4 749.8)"/>
<ellipse cx="539.8" cy="755.8" rx="7.7" ry="6.3" fill="#1A22E8" opacity="0.67" transform="rotate(65 539.8 755.8)"/>
<ellipse cx="592.0" cy="720.4" rx="8.3" ry="5.7" fill="#1A22E8" opacity="0.70" transform="rotate(81 592.0 720.4)"/>
<ellipse cx="572.4" cy="783.8" rx="7.9" ry="5.9" fill="#1A22E8" opacity="0.47" transform="rotate(59 572.4 783.8)"/>
<ellipse cx="519.1" cy="788.5" rx="8.6" ry="4.4" fill="#1A22E8" opacity="0.71" transform="rotate(104 519.1 788.5)"/>
<ellipse cx="511.2" cy="745.9" rx="8.0" ry="5.6" fill="#1A22E8" opacity="0.58" transform="rotate(137 511.2 745.9)"/>
<ellipse cx="532.5" cy="757.4" rx="6.7" ry="6.4" fill="#1A22E8" opacity="0.74" transform="rotate(145 532.5 757.4)"/>
<ellipse cx="566.0" cy="745.0" rx="8.9" ry="5.8" fill="#1A22E8" opacity="0.76" transform="rotate(50 566.0 745.0)"/>
<ellipse cx="521.2" cy="759.8" rx="8.3" ry="6.0" fill="#1A22E8" opacity="0.61" transform="rotate(25 521.2 759.8)"/>
<ellipse cx="552.0" cy="782.8" rx="5.6" ry="5.8" fill="#1A22E8" opacity="0.53" transform="rotate(56 552.0 782.8)"/>
<ellipse cx="511.8" cy="738.7" rx="6.5" ry="6.4" fill="#1A22E8" opacity="0.88" transform="rotate(34 511.8 738.7)"/>
<ellipse cx="534.0" cy="787.8" rx="5.8" ry="4.8" fill="#1A22E8" opacity="0.65" transform="rotate(20 534.0 787.8)"/>
<ellipse cx="529.8" cy="746.0" rx="6.5" ry="6.4" fill="#1A22E8" opacity="0.57" transform="rotate(37 529.8 746.0)"/>
<ellipse cx="586.1" cy="750.3" rx="8.3" ry="5.6" fill="#1A22E8" opacity="0.80" transform="rotate(57 586.1 750.3)"/>
<ellipse cx="520.4" cy="773.6" rx="6.9" ry="5.4" fill="#1A22E8" opacity="0.75" transform="rotate(135 520.4 773.6)"/>
<ellipse cx="531.1" cy="743.6" rx="8.7" ry="5.3" fill="#1A22E8" opacity="0.58" transform="rotate(113 531.1 743.6)"/>
<ellipse cx="529.7" cy="774.7" rx="5.2" ry="6.1" fill="#1A22E8" opacity="0.70" transform="rotate(64 529.7 774.7)"/>
<ellipse cx="588.8" cy="736.2" rx="6.0" ry="4.2" fill="#1A22E8" opacity="0.70" transform="rotate(136 588.8 736.2)"/>
<ellipse cx="566.1" cy="747.4" rx="8.2" ry="4.3" fill="#1A22E8" opacity="0.59" transform="rotate(116 566.1 747.4)"/>
<ellipse cx="638.5" cy="1005.9" rx="7.8" ry="5.9" fill="#1A22E8" opacity="0.63" transform="rotate(169 638.5 1005.9)"/>
<ellipse cx="608.0" cy="974.9" rx="6.6" ry="6.0" fill="#1A22E8" opacity="0.61" transform="rotate(33 608.0 974.9)"/>
<ellipse cx="625.5" cy="995.1" rx="7.1" ry="5.7" fill="#1A22E8" opacity="0.86" transform="rotate(24 625.5 995.1)"/>
<ellipse cx="553.2" cy="945.7" rx="6.7" ry="5.3" fill="#1A22E8" opacity="0.83" transform="rotate(120 553.2 945.7)"/>
<ellipse cx="585.6" cy="981.5" rx="7.3" ry="4.7" fill="#1A22E8" opacity="0.83" transform="rotate(142 585.6 981.5)"/>
<ellipse cx="621.0" cy="954.8" rx="7.7" ry="5.9" fill="#1A22E8" opacity="0.68" transform="rotate(162 621.0 954.8)"/>
<ellipse cx="629.2" cy="1017.5" rx="8.3" ry="5.6" fill="#1A22E8" opacity="0.85" transform="rotate(24 629.2 1017.5)"/>
<ellipse cx="602.8" cy="1013.3" rx="7.4" ry="4.7" fill="#1A22E8" opacity="0.48" transform="rotate(109 602.8 1013.3)"/>
<ellipse cx="619.1" cy="967.7" rx="5.9" ry="4.6" fill="#1A22E8" opacity="0.49" transform="rotate(122 619.1 967.7)"/>
<ellipse cx="639.5" cy="1023.7" rx="6.4" ry="5.7" fill="#1A22E8" opacity="0.48" transform="rotate(151 639.5 1023.7)"/>
<ellipse cx="551.3" cy="939.1" rx="7.5" ry="4.3" fill="#1A22E8" opacity="0.57" transform="rotate(11 551.3 939.1)"/>
<ellipse cx="567.7" cy="997.5" rx="8.2" ry="4.1" fill="#1A22E8" opacity="0.82" transform="rotate(20 567.7 997.5)"/>
<ellipse cx="537.6" cy="1005.4" rx="6.4" ry="4.8" fill="#1A22E8" opacity="0.71" transform="rotate(39 537.6 1005.4)"/>
<ellipse cx="614.9" cy="960.9" rx="8.4" ry="6.0" fill="#1A22E8" opacity="0.69" transform="rotate(5 614.9 960.9)"/>
<ellipse cx="612.8" cy="941.8" rx="7.0" ry="5.1" fill="#1A22E8" opacity="0.48" transform="rotate(113 612.8 941.8)"/>
<ellipse cx="605.5" cy="1000.7" rx="6.6" ry="5.3" fill="#1A22E8" opacity="0.71" transform="rotate(41 605.5 1000.7)"/>
<ellipse cx="625.0" cy="1044.2" rx="8.2" ry="6.4" fill="#1A22E8" opacity="0.60" transform="rotate(178 625.0 1044.2)"/>
<ellipse cx="516.9" cy="989.4" rx="5.5" ry="5.1" fill="#1A22E8" opacity="0.76" transform="rotate(128 516.9 989.4)"/>
<ellipse cx="568.9" cy="974.9" rx="5.8" ry="5.0" fill="#1A22E8" opacity="0.58" transform="rotate(35 568.9 974.9)"/>
<ellipse cx="607.1" cy="993.4" rx="6.8" ry="4.5" fill="#1A22E8" opacity="0.77" transform="rotate(35 607.1 993.4)"/>
<ellipse cx="543.2" cy="998.1" rx="7.8" ry="6.4" fill="#1A22E8" opacity="0.79" transform="rotate(171 543.2 998.1)"/>
<ellipse cx="632.1" cy="1015.3" rx="7.9" ry="4.2" fill="#1A22E8" opacity="0.54" transform="rotate(2 632.1 1015.3)"/>
<ellipse cx="624.4" cy="1015.2" rx="7.5" ry="4.7" fill="#1A22E8" opacity="0.61" transform="rotate(29 624.4 1015.2)"/>
<ellipse cx="593.0" cy="1043.8" rx="6.2" ry="4.1" fill="#1A22E8" opacity="0.53" transform="rotate(64 593.0 1043.8)"/>
<ellipse cx="629.2" cy="1024.0" rx="6.8" ry="4.3" fill="#1A22E8" opacity="0.50" transform="rotate(28 629.2 1024.0)"/>
<ellipse cx="612.7" cy="988.7" rx="9.0" ry="6.3" fill="#1A22E8" opacity="0.81" transform="rotate(86 612.7 988.7)"/>
<ellipse cx="618.8" cy="952.3" rx="5.4" ry="5.4" fill="#1A22E8" opacity="0.68" transform="rotate(38 618.8 952.3)"/>
<ellipse cx="541.4" cy="941.0" rx="8.6" ry="5.8" fill="#1A22E8" opacity="0.88" transform="rotate(176 541.4 941.0)"/>
<ellipse cx="566.5" cy="1016.3" rx="6.5" ry="6.0" fill="#1A22E8" opacity="0.83" transform="rotate(24 566.5 1016.3)"/>
<ellipse cx="508.9" cy="961.4" rx="7.3" ry="4.9" fill="#1A22E8" opacity="0.45" transform="rotate(149 508.9 961.4)"/>
<ellipse cx="613.9" cy="987.9" rx="5.2" ry="6.2" fill="#1A22E8" opacity="0.69" transform="rotate(13 613.9 987.9)"/>
<ellipse cx="551.1" cy="1004.9" rx="8.5" ry="5.2" fill="#1A22E8" opacity="0.74" transform="rotate(37 551.1 1004.9)"/>
<ellipse cx="540.2" cy="1034.7" rx="6.5" ry="4.3" fill="#1A22E8" opacity="0.72" transform="rotate(23 540.2 1034.7)"/>
<ellipse cx="534.3" cy="987.1" rx="7.3" ry="5.6" fill="#1A22E8" opacity="0.77" transform="rotate(79 534.3 987.1)"/>
<ellipse cx="516.3" cy="1015.5" rx="5.2" ry="5.2" fill="#1A22E8" opacity="0.63" transform="rotate(121 516.3 1015.5)"/>
<ellipse cx="604.1" cy="964.1" rx="7.6" ry="5.7" fill="#1A22E8" opacity="0.66" transform="rotate(26 604.1 964.1)"/>
<ellipse cx="630.6" cy="1002.2" rx="5.3" ry="4.6" fill="#1A22E8" opacity="0.89" transform="rotate(41 630.6 1002.2)"/>
<ellipse cx="560.4" cy="1022.2" rx="8.3" ry="5.6" fill="#1A22E8" opacity="0.78" transform="rotate(7 560.4 1022.2)"/>
<ellipse cx="519.9" cy="1042.1" rx="8.2" ry="4.1" fill="#1A22E8" opacity="0.47" transform="rotate(43 519.9 1042.1)"/>
<ellipse cx="633.5" cy="962.0" rx="7.7" ry="6.3" fill="#1A22E8" opacity="0.74" transform="rotate(165 633.5 962.0)"/>
<ellipse cx="875.5" cy="778.7" rx="5.1" ry="5.9" fill="#1A22E8" opacity="0.50" transform="rotate(175 875.5 778.7)"/>
<ellipse cx="910.7" cy="782.9" rx="8.2" ry="4.4" fill="#1A22E8" opacity="0.68" transform="rotate(19 910.7 782.9)"/>
<ellipse cx="916.8" cy="870.6" rx="8.7" ry="4.0" fill="#1A22E8" opacity="0.83" transform="rotate(100 916.8 870.6)"/>
<ellipse cx="919.5" cy="822.3" rx="7.5" ry="5.5" fill="#1A22E8" opacity="0.81" transform="rotate(14 919.5 822.3)"/>
<ellipse cx="859.1" cy="827.6" rx="6.2" ry="5.0" fill="#1A22E8" opacity="0.45" transform="rotate(134 859.1 827.6)"/>
<ellipse cx="856.7" cy="863.2" rx="8.2" ry="5.1" fill="#1A22E8" opacity="0.50" transform="rotate(117 856.7 863.2)"/>
<ellipse cx="871.1" cy="813.1" rx="5.4" ry="6.4" fill="#1A22E8" opacity="0.70" transform="rotate(63 871.1 813.1)"/>
<ellipse cx="862.2" cy="850.7" rx="8.4" ry="6.1" fill="#1A22E8" opacity="0.50" transform="rotate(66 862.2 850.7)"/>
<ellipse cx="878.6" cy="854.8" rx="5.6" ry="5.5" fill="#1A22E8" opacity="0.89" transform="rotate(138 878.6 854.8)"/>
<ellipse cx="855.3" cy="768.9" rx="5.5" ry="5.7" fill="#1A22E8" opacity="0.72" transform="rotate(94 855.3 768.9)"/>
<ellipse cx="890.7" cy="810.4" rx="7.4" ry="5.6" fill="#1A22E8" opacity="0.86" transform="rotate(132 890.7 810.4)"/>
<ellipse cx="917.5" cy="873.5" rx="8.3" ry="5.8" fill="#1A22E8" opacity="0.46" transform="rotate(123 917.5 873.5)"/>
<ellipse cx="921.7" cy="813.3" rx="8.5" ry="4.4" fill="#1A22E8" opacity="0.87" transform="rotate(80 921.7 813.3)"/>
<ellipse cx="910.4" cy="791.1" rx="6.2" ry="4.9" fill="#1A22E8" opacity="0.60" transform="rotate(17 910.4 791.1)"/>
<ellipse cx="889.7" cy="882.0" rx="7.6" ry="6.3" fill="#1A22E8" opacity="0.79" transform="rotate(151 889.7 882.0)"/>
<ellipse cx="933.1" cy="853.5" rx="6.1" ry="4.6" fill="#1A22E8" opacity="0.64" transform="rotate(4 933.1 853.5)"/>
<ellipse cx="873.0" cy="870.2" rx="8.7" ry="4.8" fill="#1A22E8" opacity="0.80" transform="rotate(139 873.0 870.2)"/>
<ellipse cx="924.9" cy="858.8" rx="7.1" ry="4.3" fill="#1A22E8" opacity="0.82" transform="rotate(56 924.9 858.8)"/>
<ellipse cx="904.2" cy="805.4" rx="7.1" ry="6.4" fill="#1A22E8" opacity="0.52" transform="rotate(96 904.2 805.4)"/>
<ellipse cx="906.0" cy="826.8" rx="8.8" ry="5.0" fill="#1A22E8" opacity="0.86" transform="rotate(124 906.0 826.8)"/>
<ellipse cx="931.0" cy="770.7" rx="5.8" ry="4.7" fill="#1A22E8" opacity="0.86" transform="rotate(2 931.0 770.7)"/>
<ellipse cx="875.3" cy="848.9" rx="9.0" ry="4.4" fill="#1A22E8" opacity="0.65" transform="rotate(124 875.3 848.9)"/>
<ellipse cx="909.2" cy="852.7" rx="8.0" ry="4.6" fill="#1A22E8" opacity="0.57" transform="rotate(5 909.2 852.7)"/>
<ellipse cx="909.2" cy="785.6" rx="6.0" ry="6.4" fill="#1A22E8" opacity="0.74" transform="rotate(106 909.2 785.6)"/>
<ellipse cx="906.5" cy="834.2" rx="7.8" ry="4.8" fill="#1A22E8" opacity="0.48" transform="rotate(12 906.5 834.2)"/>
<ellipse cx="855.9" cy="804.7" rx="5.6" ry="4.3" fill="#1A22E8" opacity="0.67" transform="rotate(175 855.9 804.7)"/>
<ellipse cx="908.9" cy="793.7" rx="8.1" ry="4.4" fill="#1A22E8" opacity="0.50" transform="rotate(55 908.9 793.7)"/>
<ellipse cx="887.0" cy="845.6" rx="6.8" ry="5.8" fill="#1A22E8" opacity="0.49" transform="rotate(168 887.0 845.6)"/>
<ellipse cx="881.8" cy="863.5" rx="5.1" ry="6.1" fill="#1A22E8" opacity="0.55" transform="rotate(154 881.8 863.5)"/>
<ellipse cx="918.0" cy="843.3" rx="6.1" ry="4.0" fill="#1A22E8" opacity="0.54" transform="rotate(163 918.0 843.3)"/>
<ellipse cx="668.7" cy="1017.8" rx="7.3" ry="5.7" fill="#1A22E8" opacity="0.53" transform="rotate(26 668.7 1017.8)"/>
<ellipse cx="658.8" cy="1043.3" rx="6.5" ry="5.6" fill="#1A22E8" opacity="0.71" transform="rotate(40 658.8 1043.3)"/>
<ellipse cx="653.5" cy="967.1" rx="8.4" ry="4.3" fill="#1A22E8" opacity="0.88" transform="rotate(65 653.5 967.1)"/>
<ellipse cx="760.7" cy="976.8" rx="8.2" ry="4.6" fill="#1A22E8" opacity="0.61" transform="rotate(94 760.7 976.8)"/>
<ellipse cx="661.1" cy="985.5" rx="8.2" ry="4.7" fill="#1A22E8" opacity="0.62" transform="rotate(138 661.1 985.5)"/>
<ellipse cx="679.5" cy="981.2" rx="5.9" ry="5.0" fill="#1A22E8" opacity="0.61" transform="rotate(115 679.5 981.2)"/>
<ellipse cx="719.8" cy="1034.4" rx="5.2" ry="5.7" fill="#1A22E8" opacity="0.83" transform="rotate(42 719.8 1034.4)"/>
<ellipse cx="647.7" cy="1000.4" rx="5.5" ry="5.1" fill="#1A22E8" opacity="0.77" transform="rotate(17 647.7 1000.4)"/>
<ellipse cx="662.1" cy="1003.7" rx="5.7" ry="4.6" fill="#1A22E8" opacity="0.65" transform="rotate(21 662.1 1003.7)"/>
<ellipse cx="654.0" cy="994.4" rx="6.9" ry="6.3" fill="#1A22E8" opacity="0.70" transform="rotate(13 654.0 994.4)"/>
<ellipse cx="679.2" cy="1024.5" rx="7.3" ry="6.2" fill="#1A22E8" opacity="0.88" transform="rotate(154 679.2 1024.5)"/>
<ellipse cx="660.9" cy="1040.2" rx="7.1" ry="4.6" fill="#1A22E8" opacity="0.53" transform="rotate(156 660.9 1040.2)"/>
<ellipse cx="677.6" cy="972.5" rx="6.1" ry="6.3" fill="#1A22E8" opacity="0.66" transform="rotate(132 677.6 972.5)"/>
<ellipse cx="655.1" cy="1001.6" rx="6.3" ry="4.5" fill="#1A22E8" opacity="0.75" transform="rotate(65 655.1 1001.6)"/>
<ellipse cx="662.5" cy="1043.4" rx="6.9" ry="4.4" fill="#1A22E8" opacity="0.45" transform="rotate(118 662.5 1043.4)"/>
<ellipse cx="726.8" cy="967.8" rx="6.9" ry="5.9" fill="#1A22E8" opacity="0.69" transform="rotate(42 726.8 967.8)"/>
<ellipse cx="724.3" cy="1013.6" rx="7.6" ry="4.4" fill="#1A22E8" opacity="0.81" transform="rotate(170 724.3 1013.6)"/>
<ellipse cx="763.6" cy="1033.4" rx="6.5" ry="6.3" fill="#1A22E8" opacity="0.53" transform="rotate(41 763.6 1033.4)"/>
<ellipse cx="740.4" cy="1036.9" rx="5.3" ry="4.5" fill="#1A22E8" opacity="0.47" transform="rotate(79 740.4 1036.9)"/>
<ellipse cx="665.8" cy="981.0" rx="8.0" ry="5.5" fill="#1A22E8" opacity="0.87" transform="rotate(72 665.8 981.0)"/>
<ellipse cx="753.6" cy="966.9" rx="8.8" ry="4.6" fill="#1A22E8" opacity="0.66" transform="rotate(92 753.6 966.9)"/>
<ellipse cx="797.5" cy="1004.7" rx="9.0" ry="5.6" fill="#1A22E8" opacity="0.55" transform="rotate(150 797.5 1004.7)"/>
<ellipse cx="675.9" cy="1044.6" rx="6.8" ry="4.6" fill="#1A22E8" opacity="0.88" transform="rotate(58 675.9 1044.6)"/>
<ellipse cx="709.3" cy="992.9" rx="7.7" ry="4.1" fill="#1A22E8" opacity="0.62" transform="rotate(29 709.3 992.9)"/>
<ellipse cx="777.9" cy="965.9" rx="7.4" ry="4.6" fill="#1A22E8" opacity="0.65" transform="rotate(101 777.9 965.9)"/>
<ellipse cx="758.9" cy="976.8" rx="6.0" ry="4.3" fill="#1A22E8" opacity="0.88" transform="rotate(27 758.9 976.8)"/>
<ellipse cx="665.3" cy="1007.0" rx="7.3" ry="6.2" fill="#1A22E8" opacity="0.48" transform="rotate(42 665.3 1007.0)"/>
<ellipse cx="670.3" cy="1012.0" rx="6.8" ry="5.0" fill="#1A22E8" opacity="0.85" transform="rotate(119 670.3 1012.0)"/>
<ellipse cx="783.1" cy="1041.3" rx="6.1" ry="6.4" fill="#1A22E8" opacity="0.63" transform="rotate(9 783.1 1041.3)"/>
<ellipse cx="792.0" cy="974.1" rx="5.1" ry="4.7" fill="#1A22E8" opacity="0.58" transform="rotate(174 792.0 974.1)"/>
<ellipse cx="784.8" cy="999.0" rx="7.1" ry="6.1" fill="#1A22E8" opacity="0.81" transform="rotate(118 784.8 999.0)"/>
<ellipse cx="726.5" cy="975.1" rx="6.0" ry="5.6" fill="#1A22E8" opacity="0.71" transform="rotate(144 726.5 975.1)"/>
<ellipse cx="789.4" cy="1041.7" rx="5.8" ry="4.2" fill="#1A22E8" opacity="0.85" transform="rotate(103 789.4 1041.7)"/>
<ellipse cx="672.5" cy="1020.4" rx="6.0" ry="4.6" fill="#1A22E8" opacity="0.61" transform="rotate(94 672.5 1020.4)"/>
<ellipse cx="753.3" cy="971.7" rx="8.0" ry="5.6" fill="#1A22E8" opacity="0.66" transform="rotate(121 753.3 971.7)"/>
<ellipse cx="811.3" cy="717.0" rx="6.9" ry="5.7" fill="#1A22E8" opacity="0.77" transform="rotate(117 811.3 717.0)"/>
<ellipse cx="786.1" cy="812.4" rx="8.1" ry="4.6" fill="#1A22E8" opacity="0.64" transform="rotate(172 786.1 812.4)"/>
<ellipse cx="787.2" cy="757.2" rx="8.8" ry="6.3" fill="#1A22E8" opacity="0.55" transform="rotate(132 787.2 757.2)"/>
<ellipse cx="793.4" cy="782.7" rx="8.1" ry="4.3" fill="#1A22E8" opacity="0.55" transform="rotate(39 793.4 782.7)"/>
<ellipse cx="789.6" cy="719.6" rx="5.5" ry="5.0" fill="#1A22E8" opacity="0.64" transform="rotate(14 789.6 719.6)"/>
<ellipse cx="802.5" cy="810.7" rx="7.3" ry="4.9" fill="#1A22E8" opacity="0.77" transform="rotate(79 802.5 810.7)"/>
<ellipse cx="785.9" cy="764.5" rx="5.1" ry="5.7" fill="#1A22E8" opacity="0.52" transform="rotate(67 785.9 764.5)"/>
<ellipse cx="818.0" cy="793.1" rx="8.3" ry="5.6" fill="#1A22E8" opacity="0.74" transform="rotate(127 818.0 793.1)"/>
<ellipse cx="818.1" cy="735.8" rx="8.1" ry="4.8" fill="#1A22E8" opacity="0.57" transform="rotate(148 818.1 735.8)"/>
<ellipse cx="803.2" cy="801.4" rx="8.5" ry="5.5" fill="#1A22E8" opacity="0.54" transform="rotate(3 803.2 801.4)"/>
<ellipse cx="912.1" cy="964.6" rx="6.1" ry="4.2" fill="#1A22E8" opacity="0.45" transform="rotate(31 912.1 964.6)"/>
<ellipse cx="919.5" cy="925.4" rx="5.9" ry="4.7" fill="#1A22E8" opacity="0.77" transform="rotate(178 919.5 925.4)"/>
<ellipse cx="888.3" cy="931.4" rx="8.7" ry="6.4" fill="#1A22E8" opacity="0.52" transform="rotate(60 888.3 931.4)"/>
<ellipse cx="911.5" cy="942.6" rx="6.7" ry="5.2" fill="#1A22E8" opacity="0.57" transform="rotate(10 911.5 942.6)"/>
<ellipse cx="891.3" cy="934.0" rx="5.4" ry="5.6" fill="#1A22E8" opacity="0.76" transform="rotate(47 891.3 934.0)"/>
<ellipse cx="923.9" cy="964.8" rx="6.4" ry="5.2" fill="#1A22E8" opacity="0.53" transform="rotate(167 923.9 964.8)"/>
<ellipse cx="913.3" cy="928.0" rx="5.6" ry="5.7" fill="#1A22E8" opacity="0.62" transform="rotate(129 913.3 928.0)"/>
<ellipse cx="898.0" cy="968.5" rx="8.2" ry="4.2" fill="#1A22E8" opacity="0.71" transform="rotate(34 898.0 968.5)"/>
<ellipse cx="920.1" cy="968.8" rx="8.2" ry="4.6" fill="#1A22E8" opacity="0.49" transform="rotate(119 920.1 968.8)"/>
<ellipse cx="913.5" cy="932.7" rx="5.8" ry="5.5" fill="#1A22E8" opacity="0.50" transform="rotate(114 913.5 932.7)"/>
<ellipse cx="513.7" cy="830.0" rx="6.7" ry="5.3" fill="#1A22E8" opacity="0.78" transform="rotate(6 513.7 830.0)"/>
<ellipse cx="526.8" cy="824.5" rx="6.2" ry="5.6" fill="#1A22E8" opacity="0.76" transform="rotate(111 526.8 824.5)"/>
<ellipse cx="531.7" cy="822.1" rx="6.2" ry="5.7" fill="#1A22E8" opacity="0.57" transform="rotate(28 531.7 822.1)"/>
<ellipse cx="513.3" cy="905.2" rx="8.3" ry="5.8" fill="#1A22E8" opacity="0.88" transform="rotate(143 513.3 905.2)"/>
<ellipse cx="515.6" cy="838.4" rx="7.9" ry="4.1" fill="#1A22E8" opacity="0.72" transform="rotate(16 515.6 838.4)"/>
<ellipse cx="508.5" cy="867.4" rx="5.6" ry="6.3" fill="#1A22E8" opacity="0.84" transform="rotate(83 508.5 867.4)"/>
<ellipse cx="512.5" cy="809.6" rx="7.0" ry="5.3" fill="#1A22E8" opacity="0.61" transform="rotate(129 512.5 809.6)"/>
<ellipse cx="521.5" cy="905.8" rx="5.4" ry="4.2" fill="#1A22E8" opacity="0.62" transform="rotate(87 521.5 905.8)"/>
<ellipse cx="514.0" cy="890.1" rx="5.9" ry="4.8" fill="#1A22E8" opacity="0.66" transform="rotate(128 514.0 890.1)"/>
<ellipse cx="528.1" cy="846.6" rx="6.8" ry="6.3" fill="#1A22E8" opacity="0.87" transform="rotate(111 528.1 846.6)"/>
<ellipse cx="510.0" cy="858.9" rx="7.5" ry="4.7" fill="#1A22E8" opacity="0.47" transform="rotate(177 510.0 858.9)"/>
<ellipse cx="531.9" cy="811.0" rx="6.9" ry="5.5" fill="#1A22E8" opacity="0.58" transform="rotate(12 531.9 811.0)"/>
<ellipse cx="527.5" cy="905.1" rx="6.7" ry="4.2" fill="#1A22E8" opacity="0.63" transform="rotate(17 527.5 905.1)"/>
<ellipse cx="533.3" cy="799.6" rx="6.2" ry="5.9" fill="#1A22E8" opacity="0.51" transform="rotate(19 533.3 799.6)"/>
</g>
<g filter="url(#b1)">
<path d="M595.1,801.6 L602.3,750.0 L630.8,725.6 L698.3,732.0 L712.9,741.7" fill="none" stroke="#D81838" stroke-width="3" stroke-dasharray="7 3 3 2 4 5" opacity="0.75" stroke-linejoin="round"/>
<path d="M766.9,736.9 L798.9,753.1 L798.7,793.7 L807.5,813.7 L862.1,808.8 L873.0,830.0 L888.3,858.2 L913.1,864.2" fill="none" stroke="#D81838" stroke-width="3" stroke-dasharray="7 3 3 2 4 5" opacity="0.75" stroke-linejoin="round"/>
<path d="M601.3,812.2 L617.0,845.8 L620.2,872.6 L653.7,881.0 L674.1,872.3 L710.1,861.4 L739.0,878.4 L761.2,856.9 L801.8,850.6 L830.7,855.3 L836.8,884.9 L834.7,913.4 L816.1,942.9 L801.8,965.0 L772.8,981.7 L737.4,970.9 L695.7,959.4 L671.8,938.4 L657.1,913.1 L671.1,878.0" fill="none" stroke="#D81838" stroke-width="3" stroke-dasharray="7 3 3 2 4 5" opacity="0.75" stroke-linejoin="round"/>
<path d="M508.8,755.3 L549.9,782.1 L589.7,787.9 L595.8,803.6" fill="none" stroke="#D81838" stroke-width="3" stroke-dasharray="7 3 3 2 4 5" opacity="0.75" stroke-linejoin="round"/>
<path d="M506.7,722.8 L532.9,735.2 L569.0,730.9 L593.4,755.4" fill="none" stroke="#D81838" stroke-width="3" stroke-dasharray="7 3 3 2 4 5" opacity="0.75" stroke-linejoin="round"/>
<path d="M508.6,793.6 L513.9,848.2 L513.6,898.7 L510.5,936.9 L549.4,947.1 L588.5,959.8 L622.4,980.6 L644.4,1013.7 L655.9,1032.8" fill="none" stroke="#D81838" stroke-width="3" stroke-dasharray="7 3 3 2 4 5" opacity="0.75" stroke-linejoin="round"/>
<path d="M834.2,883.7 L871.9,880.2 L891.7,855.6" fill="none" stroke="#D81838" stroke-width="3" stroke-dasharray="7 3 3 2 4 5" opacity="0.75" stroke-linejoin="round"/>
<path d="M839.5,928.9 L864.5,944.0 L914.2,959.0 L935.4,951.6" fill="none" stroke="#D81838" stroke-width="3" stroke-dasharray="7 3 3 2 4 5" opacity="0.75" stroke-linejoin="round"/>
<path d="M507.7,981.1 L561.4,994.7 L603.2,1019.5 L658.0,1034.1 L722.9,1020.6 L742.0,1004.0 L778.7,992.7 L807.4,966.6" fill="none" stroke="#D81838" stroke-width="3" stroke-dasharray="7 3 3 2 4 5" opacity="0.75" stroke-linejoin="round"/>
<path d="M620.1,978.9 L653.3,967.7 L698.1,959.0" fill="none" stroke="#D81838" stroke-width="3" stroke-dasharray="7 3 3 2 4 5" opacity="0.75" stroke-linejoin="round"/>
<path d="M889.0,855.4 L904.0,829.8 L920.8,780.9 L931.9,762.3" fill="none" stroke="#D81838" stroke-width="3" stroke-dasharray="7 3 3 2 4 5" opacity="0.75" stroke-linejoin="round"/>
<path d="M866.9,782.4 L892.2,774.7 L921.0,782.4" fill="none" stroke="#D81838" stroke-width="3" stroke-dasharray="7 3 3 2 4 5" opacity="0.75" stroke-linejoin="round"/>
<path d="M723.3,1021.8 L740.0,1041.7" fill="none" stroke="#D81838" stroke-width="3" stroke-dasharray="7 3 3 2 4 5" opacity="0.75" stroke-linejoin="round"/>
</g>
<g filter="url(#b1)">
<ellipse cx="509.9" cy="751.4" rx="7.0" ry="5.2" fill="#F010B0" opacity="0.95" transform="rotate(69 509.9 751.4)"/>
<ellipse cx="772.0" cy="739.1" rx="6.0" ry="4.5" fill="#F010B0" opacity="0.95" transform="rotate(128 772.0 739.1)"/>
<ellipse cx="636.2" cy="883.1" rx="7.0" ry="5.2" fill="#F010B0" opacity="0.95" transform="rotate(167 636.2 883.1)"/>
<ellipse cx="846.6" cy="925.2" rx="8.0" ry="6.0" fill="#F010B0" opacity="0.95" transform="rotate(36 846.6 925.2)"/>
<ellipse cx="830.4" cy="936.0" rx="6.0" ry="4.5" fill="#F010B0" opacity="0.95" transform="rotate(54 830.4 936.0)"/>
<ellipse cx="714.9" cy="993.1" rx="6.0" ry="4.5" fill="#F010B0" opacity="0.95" transform="rotate(59 714.9 993.1)"/>
<ellipse cx="554.7" cy="948.3" rx="6.0" ry="4.5" fill="#F010B0" opacity="0.95" transform="rotate(132 554.7 948.3)"/>
<ellipse cx="554.7" cy="979.5" rx="6.0" ry="4.5" fill="#F010B0" opacity="0.95" transform="rotate(34 554.7 979.5)"/>
<ellipse cx="670.1" cy="908.9" rx="5.0" ry="3.8" fill="#F010B0" opacity="0.95" transform="rotate(98 670.1 908.9)"/>
<ellipse cx="590.0" cy="1005.3" rx="6.0" ry="4.5" fill="#F010B0" opacity="0.95" transform="rotate(90 590.0 1005.3)"/>
<ellipse cx="732.6" cy="1039.2" rx="6.0" ry="4.5" fill="#F010B0" opacity="0.95" transform="rotate(120 732.6 1039.2)"/>
<ellipse cx="928.1" cy="766.3" rx="6.0" ry="4.5" fill="#F010B0" opacity="0.95" transform="rotate(26 928.1 766.3)"/>
<ellipse cx="523.5" cy="767.6" rx="5.0" ry="3.8" fill="#F010B0" opacity="0.95" transform="rotate(172 523.5 767.6)"/>
<ellipse cx="800.5" cy="995.8" rx="5.0" ry="3.8" fill="#F010B0" opacity="0.95" transform="rotate(180 800.5 995.8)"/>
<ellipse cx="645.7" cy="1031.1" rx="5.0" ry="3.8" fill="#F010B0" opacity="0.95" transform="rotate(101 645.7 1031.1)"/>
<ellipse cx="838.5" cy="898.0" rx="4.0" ry="3.0" fill="#F010B0" opacity="0.95" transform="rotate(143 838.5 898.0)"/>
<ellipse cx="537.0" cy="736.4" rx="11.6" ry="9.3" fill="#50F040" opacity="0.95" transform="rotate(33 537.0 736.4)"/>
<ellipse cx="533.7" cy="738.6" rx="6.6" ry="5.0" fill="#F0FF20" opacity="0.9" transform="rotate(33 537.0 736.4)"/>
<circle cx="539.8" cy="735.3" r="3.6" fill="#30C8FF" opacity="0.8"/>
<ellipse cx="543.6" cy="737.2" rx="5" ry="4" fill="#F010B0" opacity="0.7"/>
<ellipse cx="705.4" cy="739.1" rx="9.5" ry="7.6" fill="#50F040" opacity="0.95" transform="rotate(137 705.4 739.1)"/>
<ellipse cx="702.7" cy="740.9" rx="5.4" ry="4.0" fill="#F0FF20" opacity="0.9" transform="rotate(137 705.4 739.1)"/>
<circle cx="707.7" cy="738.2" r="3.0" fill="#30C8FF" opacity="0.8"/>
<ellipse cx="711.3" cy="736.9" rx="5" ry="4" fill="#F010B0" opacity="0.7"/>
<ellipse cx="801.8" cy="803.0" rx="11.6" ry="9.3" fill="#50F040" opacity="0.95" transform="rotate(166 801.8 803.0)"/>
<ellipse cx="798.5" cy="805.2" rx="6.6" ry="5.0" fill="#F0FF20" opacity="0.9" transform="rotate(166 801.8 803.0)"/>
<circle cx="804.6" cy="801.9" r="3.6" fill="#30C8FF" opacity="0.8"/>
<ellipse cx="797.2" cy="795.3" rx="5" ry="4" fill="#F010B0" opacity="0.7"/>
<ellipse cx="865.7" cy="804.3" rx="11.6" ry="9.3" fill="#50F040" opacity="0.95" transform="rotate(90 865.7 804.3)"/>
<ellipse cx="862.4" cy="806.5" rx="6.6" ry="5.0" fill="#F0FF20" opacity="0.9" transform="rotate(90 865.7 804.3)"/>
<circle cx="868.4" cy="803.2" r="3.6" fill="#30C8FF" opacity="0.8"/>
<ellipse cx="872.0" cy="810.7" rx="5" ry="4" fill="#F010B0" opacity="0.7"/>
<ellipse cx="622.6" cy="847.8" rx="11.6" ry="9.3" fill="#50F040" opacity="0.95" transform="rotate(172 622.6 847.8)"/>
<ellipse cx="619.3" cy="850.0" rx="6.6" ry="5.0" fill="#F0FF20" opacity="0.9" transform="rotate(172 622.6 847.8)"/>
<circle cx="625.3" cy="846.7" r="3.6" fill="#30C8FF" opacity="0.8"/>
<ellipse cx="622.8" cy="854.7" rx="5" ry="4" fill="#F010B0" opacity="0.7"/>
<ellipse cx="526.2" cy="847.8" rx="6.3" ry="5.1" fill="#50F040" opacity="0.95" transform="rotate(101 526.2 847.8)"/>
<ellipse cx="524.4" cy="849.0" rx="3.6" ry="2.7" fill="#F0FF20" opacity="0.9" transform="rotate(101 526.2 847.8)"/>
<ellipse cx="917.3" cy="866.8" rx="11.6" ry="9.3" fill="#50F040" opacity="0.95" transform="rotate(26 917.3 866.8)"/>
<ellipse cx="914.0" cy="869.0" rx="6.6" ry="5.0" fill="#F0FF20" opacity="0.9" transform="rotate(26 917.3 866.8)"/>
<circle cx="920.0" cy="865.7" r="3.6" fill="#30C8FF" opacity="0.8"/>
<ellipse cx="919.4" cy="871.6" rx="5" ry="4" fill="#F010B0" opacity="0.7"/>
<ellipse cx="831.7" cy="914.3" rx="9.5" ry="7.6" fill="#50F040" opacity="0.95" transform="rotate(76 831.7 914.3)"/>
<ellipse cx="829.0" cy="916.1" rx="5.4" ry="4.0" fill="#F0FF20" opacity="0.9" transform="rotate(76 831.7 914.3)"/>
<circle cx="834.0" cy="913.4" r="3.0" fill="#30C8FF" opacity="0.8"/>
<ellipse cx="833.3" cy="910.5" rx="5" ry="4" fill="#F010B0" opacity="0.7"/>
<ellipse cx="816.8" cy="942.8" rx="5.2" ry="4.2" fill="#50F040" opacity="0.95" transform="rotate(50 816.8 942.8)"/>
<ellipse cx="815.3" cy="943.8" rx="3.0" ry="2.2" fill="#F0FF20" opacity="0.9" transform="rotate(50 816.8 942.8)"/>
<ellipse cx="693.2" cy="976.8" rx="9.5" ry="7.6" fill="#50F040" opacity="0.95" transform="rotate(76 693.2 976.8)"/>
<ellipse cx="690.5" cy="978.6" rx="5.4" ry="4.0" fill="#F0FF20" opacity="0.9" transform="rotate(76 693.2 976.8)"/>
<circle cx="695.4" cy="975.9" r="3.0" fill="#30C8FF" opacity="0.8"/>
<ellipse cx="693.4" cy="976.3" rx="5" ry="4" fill="#F010B0" opacity="0.7"/>
<ellipse cx="776.0" cy="989.0" rx="10.5" ry="8.5" fill="#50F040" opacity="0.95" transform="rotate(17 776.0 989.0)"/>
<ellipse cx="773.0" cy="991.0" rx="6.0" ry="4.5" fill="#F0FF20" opacity="0.9" transform="rotate(17 776.0 989.0)"/>
<circle cx="778.5" cy="988.0" r="3.3" fill="#30C8FF" opacity="0.8"/>
<ellipse cx="768.1" cy="986.4" rx="5" ry="4" fill="#F010B0" opacity="0.7"/>
<ellipse cx="740.7" cy="1003.9" rx="8.4" ry="6.8" fill="#50F040" opacity="0.95" transform="rotate(129 740.7 1003.9)"/>
<ellipse cx="738.3" cy="1005.5" rx="4.8" ry="3.6" fill="#F0FF20" opacity="0.9" transform="rotate(129 740.7 1003.9)"/>
<circle cx="742.7" cy="1003.1" r="2.6" fill="#30C8FF" opacity="0.8"/>
<ellipse cx="744.7" cy="999.7" rx="5" ry="4" fill="#F010B0" opacity="0.7"/>
<ellipse cx="637.5" cy="1014.8" rx="9.5" ry="7.6" fill="#50F040" opacity="0.95" transform="rotate(46 637.5 1014.8)"/>
<ellipse cx="634.8" cy="1016.6" rx="5.4" ry="4.0" fill="#F0FF20" opacity="0.9" transform="rotate(46 637.5 1014.8)"/>
<circle cx="639.8" cy="1013.9" r="3.0" fill="#30C8FF" opacity="0.8"/>
<ellipse cx="637.8" cy="1009.6" rx="5" ry="4" fill="#F010B0" opacity="0.7"/>
<ellipse cx="533.0" cy="981.7" rx="7.4" ry="6.0" fill="#50F040" opacity="0.95" transform="rotate(109 533.0 981.7)"/>
<ellipse cx="530.9" cy="983.1" rx="4.2" ry="3.1" fill="#F0FF20" opacity="0.9" transform="rotate(109 533.0 981.7)"/>
<ellipse cx="572.3" cy="1012.1" rx="6.3" ry="5.1" fill="#50F040" opacity="0.95" transform="rotate(163 572.3 1012.1)"/>
<ellipse cx="570.5" cy="1013.3" rx="3.6" ry="2.7" fill="#F0FF20" opacity="0.9" transform="rotate(163 572.3 1012.1)"/>
<ellipse cx="922.7" cy="956.4" rx="8.4" ry="6.8" fill="#50F040" opacity="0.95" transform="rotate(36 922.7 956.4)"/>
<ellipse cx="920.3" cy="958.0" rx="4.8" ry="3.6" fill="#F0FF20" opacity="0.9" transform="rotate(36 922.7 956.4)"/>
<circle cx="924.7" cy="955.6" r="2.6" fill="#30C8FF" opacity="0.8"/>
<ellipse cx="924.1" cy="959.9" rx="5" ry="4" fill="#F010B0" opacity="0.7"/>
<ellipse cx="659.3" cy="923.8" rx="5.2" ry="4.2" fill="#50F040" opacity="0.95" transform="rotate(135 659.3 923.8)"/>
<ellipse cx="657.8" cy="924.8" rx="3.0" ry="2.2" fill="#F0FF20" opacity="0.9" transform="rotate(135 659.3 923.8)"/>
<ellipse cx="736.7" cy="880.4" rx="5.2" ry="4.2" fill="#50F040" opacity="0.95" transform="rotate(128 736.7 880.4)"/>
<ellipse cx="735.2" cy="881.4" rx="3.0" ry="2.2" fill="#F0FF20" opacity="0.9" transform="rotate(128 736.7 880.4)"/>
<ellipse cx="932.2" cy="732.3" rx="6.3" ry="5.1" fill="#50F040" opacity="0.95" transform="rotate(128 932.2 732.3)"/>
<ellipse cx="930.4" cy="733.5" rx="3.6" ry="2.7" fill="#F0FF20" opacity="0.9" transform="rotate(128 932.2 732.3)"/>
<ellipse cx="621.2" cy="736.4" rx="4.2" ry="3.4" fill="#50F040" opacity="0.95" transform="rotate(49 621.2 736.4)"/>
<ellipse cx="620.0" cy="737.2" rx="2.4" ry="1.8" fill="#F0FF20" opacity="0.9" transform="rotate(49 621.2 736.4)"/>
</g></g>
<rect x="792.30" y="1024.80" width="133.10" height="11.20" fill="#fff" />
<text x="979.60" y="674.80" font-size="37" font-weight="bold" font-style="normal" fill="#000" text-anchor="start" stroke="#000" stroke-width="1.00" stroke-linejoin="round" ><tspan>d</tspan></text>
<text x="1153.40" y="695.70" font-size="32.3" font-weight="bold" font-style="normal" fill="#000" text-anchor="start" stroke="#000" stroke-width="0.87" stroke-linejoin="round" textLength="131.2" lengthAdjust="spacingAndGlyphs" ><tspan>Females</tspan></text>
<text x="1285.50" y="697.50" font-size="37" font-weight="normal" font-style="normal" fill="#000" text-anchor="start" font-family='"DejaVu Sans",sans-serif' ><tspan>♀</tspan></text>
<text x="1646.40" y="687.50" font-size="32.3" font-weight="bold" font-style="normal" fill="#000" text-anchor="start" stroke="#000" stroke-width="0.87" stroke-linejoin="round" textLength="89.1" lengthAdjust="spacingAndGlyphs" ><tspan>Males</tspan></text>
<text x="1734.50" y="689.50" font-size="37" font-weight="normal" font-style="normal" fill="#000" text-anchor="start" font-family='"DejaVu Sans",sans-serif' ><tspan>♂</tspan></text>
<text x="1021.10" y="746.50" font-size="27" font-weight="normal" font-style="normal" fill="#000" text-anchor="start" textLength="142.10000000000002" lengthAdjust="spacingAndGlyphs" ><tspan>8 weeks old</tspan></text>
<line x1="1020.30" y1="750.80" x2="1167.80" y2="750.80" stroke="#000" stroke-width="2" />
<text x="1224.30" y="745.40" font-size="27" font-weight="normal" font-style="normal" fill="#000" text-anchor="start" textLength="156.70000000000005" lengthAdjust="spacingAndGlyphs" ><tspan>20 weeks old</tspan></text>
<line x1="1222.90" y1="750.30" x2="1386.40" y2="750.30" stroke="#000" stroke-width="2" />
<text x="1484.70" y="745.60" font-size="27" font-weight="normal" font-style="normal" fill="#000" text-anchor="start" textLength="141.39999999999986" lengthAdjust="spacingAndGlyphs" ><tspan>8 weeks old</tspan></text>
<line x1="1484.00" y1="750.00" x2="1631.10" y2="750.00" stroke="#000" stroke-width="2" />
<text x="1711.10" y="744.60" font-size="27" font-weight="normal" font-style="normal" fill="#000" text-anchor="start" textLength="157.10000000000014" lengthAdjust="spacingAndGlyphs" ><tspan>20 weeks old</tspan></text>
<line x1="1710.20" y1="749.60" x2="1873.50" y2="749.60" stroke="#000" stroke-width="2" />
<text x="1049.60" y="790.70" font-size="25.5" font-weight="normal" font-style="normal" fill="#1B7F45" text-anchor="start" textLength="126.9" lengthAdjust="spacingAndGlyphs" ><tspan font-style="italic">P</tspan><tspan> = 0.0002</tspan></text>
<text x="1260.10" y="796.20" font-size="25.5" font-weight="normal" font-style="normal" fill="#1B7F45" text-anchor="start" textLength="112.2" lengthAdjust="spacingAndGlyphs" ><tspan font-style="italic">P</tspan><tspan> = 0.005</tspan></text>
<text x="1544.00" y="792.40" font-size="26" font-weight="normal" font-style="normal" fill="#000" text-anchor="start" textLength="34.7" lengthAdjust="spacingAndGlyphs" ><tspan>NS</tspan></text>
<text x="1763.60" y="789.30" font-size="26" font-weight="normal" font-style="normal" fill="#000" text-anchor="start" textLength="34.9" lengthAdjust="spacingAndGlyphs" ><tspan>NS</tspan></text>
<path d="M1073.3,813.8 L1073.3,797.5 L1143.3,797.5 L1143.3,813.8" fill="none" stroke="#000" stroke-width="3" stroke-linejoin="miter"/>
<path d="M1275.6,818.7 L1275.6,803.0 L1346.2,803.0 L1346.2,818.7" fill="none" stroke="#000" stroke-width="3" stroke-linejoin="miter"/>
<path d="M1528.4,818.0 L1528.4,800.9 L1598.7,800.9 L1598.7,818.0" fill="none" stroke="#000" stroke-width="3" stroke-linejoin="miter"/>
<path d="M1750.4,812.4 L1750.4,794.6 L1820.7,794.6 L1820.7,812.4" fill="none" stroke="#000" stroke-width="3" stroke-linejoin="miter"/>
<text x="989.30" y="848.60" font-size="30" font-weight="bold" font-style="normal" fill="#000" text-anchor="start" stroke="#000" stroke-width="0.81" stroke-linejoin="round" textLength="97.79999999999995" lengthAdjust="spacingAndGlyphs" ><tspan font-style="italic">Tsc2</tspan><tspan font-size="19.5" font-style="normal" dx="1" dy="-9.50">WT</tspan></text>
<text x="1103.10" y="849.70" font-size="30" font-weight="bold" font-style="normal" fill="#D6197E" text-anchor="start" stroke="#D6197E" stroke-width="0.81" stroke-linejoin="round" textLength="96.40000000000009" lengthAdjust="spacingAndGlyphs" ><tspan font-style="italic">Tsc2</tspan><tspan font-size="19.5" font-style="normal" dx="1" dy="-9.50">KO</tspan></text>
<text x="1220.70" y="851.80" font-size="30" font-weight="bold" font-style="normal" fill="#000" text-anchor="start" stroke="#000" stroke-width="0.81" stroke-linejoin="round" textLength="96.39999999999986" lengthAdjust="spacingAndGlyphs" ><tspan font-style="italic">Tsc2</tspan><tspan font-size="19.5" font-style="normal" dx="1" dy="-9.50">WT</tspan></text>
<text x="1326.70" y="853.20" font-size="30" font-weight="bold" font-style="normal" fill="#D6197E" text-anchor="start" stroke="#D6197E" stroke-width="0.81" stroke-linejoin="round" textLength="95.79999999999995" lengthAdjust="spacingAndGlyphs" ><tspan font-style="italic">Tsc2</tspan><tspan font-size="19.5" font-style="normal" dx="1" dy="-9.50">KO</tspan></text>
<text x="1461.20" y="856.10" font-size="30" font-weight="bold" font-style="normal" fill="#000" text-anchor="start" stroke="#000" stroke-width="0.81" stroke-linejoin="round" textLength="97.20000000000005" lengthAdjust="spacingAndGlyphs" ><tspan font-style="italic">Tsc2</tspan><tspan font-size="19.5" font-style="normal" dx="1" dy="-9.50">WT</tspan></text>
<text x="1571.50" y="853.90" font-size="30" font-weight="bold" font-style="normal" fill="#D6197E" text-anchor="start" stroke="#D6197E" stroke-width="0.81" stroke-linejoin="round" textLength="96.20000000000005" lengthAdjust="spacingAndGlyphs" ><tspan font-style="italic">Tsc2</tspan><tspan font-size="19.5" font-style="normal" dx="1" dy="-9.50">KO</tspan></text>
<text x="1694.90" y="856.10" font-size="30" font-weight="bold" font-style="normal" fill="#000" text-anchor="start" stroke="#000" stroke-width="0.81" stroke-linejoin="round" textLength="97.39999999999986" lengthAdjust="spacingAndGlyphs" ><tspan font-style="italic">Tsc2</tspan><tspan font-size="19.5" font-style="normal" dx="1" dy="-9.50">WT</tspan></text>
<text x="1800.40" y="855.50" font-size="30" font-weight="bold" font-style="normal" fill="#D6197E" text-anchor="start" stroke="#D6197E" stroke-width="0.81" stroke-linejoin="round" textLength="96.5" lengthAdjust="spacingAndGlyphs" ><tspan font-style="italic">Tsc2</tspan><tspan font-size="19.5" font-style="normal" dx="1" dy="-9.50">KO</tspan></text>
<rect x="989.90" y="861.30" width="91.50" height="145.40" fill="#138043" />
<rect x="989.90" y="1006.70" width="91.50" height="36.60" fill="#FF0066" />
<rect x="990.30" y="861.70" width="90.70" height="181.20" fill="none" stroke="#111" stroke-width="0.9" />
<text x="1010.20" y="928.40" font-size="26" font-weight="bold" font-style="normal" fill="#fff" text-anchor="start" stroke="#fff" stroke-width="0.70" stroke-linejoin="round" textLength="52.5" lengthAdjust="spacingAndGlyphs" ><tspan>80%</tspan></text>
<text x="1010.80" y="1034.40" font-size="26" font-weight="bold" font-style="normal" fill="#000" text-anchor="start" stroke="#000" stroke-width="0.70" stroke-linejoin="round" textLength="52.5" lengthAdjust="spacingAndGlyphs" ><tspan>20%</tspan></text>
<rect x="1089.50" y="861.30" width="91.30" height="121.70" fill="#138043" />
<rect x="1089.50" y="983.00" width="91.30" height="60.30" fill="#FF0066" />
<rect x="1089.90" y="861.70" width="90.50" height="181.20" fill="none" stroke="#111" stroke-width="0.9" />
<text x="1109.40" y="929.20" font-size="26" font-weight="bold" font-style="normal" fill="#fff" text-anchor="start" stroke="#fff" stroke-width="0.70" stroke-linejoin="round" textLength="52.5" lengthAdjust="spacingAndGlyphs" ><tspan>67%</tspan></text>
<text x="1112.10" y="1023.00" font-size="26" font-weight="bold" font-style="normal" fill="#000" text-anchor="start" stroke="#000" stroke-width="0.70" stroke-linejoin="round" textLength="52.5" lengthAdjust="spacingAndGlyphs" ><tspan>33%</tspan></text>
<rect x="1214.50" y="863.50" width="92.00" height="136.60" fill="#138043" />
<rect x="1214.50" y="1000.10" width="92.00" height="45.90" fill="#FF0066" />
<rect x="1214.90" y="863.90" width="91.20" height="181.70" fill="none" stroke="#111" stroke-width="0.9" />
<text x="1239.70" y="931.10" font-size="26" font-weight="bold" font-style="normal" fill="#fff" text-anchor="start" stroke="#fff" stroke-width="0.70" stroke-linejoin="round" textLength="52.5" lengthAdjust="spacingAndGlyphs" ><tspan>75%</tspan></text>
<text x="1238.90" y="1031.10" font-size="26" font-weight="bold" font-style="normal" fill="#000" text-anchor="start" stroke="#000" stroke-width="0.70" stroke-linejoin="round" textLength="52.5" lengthAdjust="spacingAndGlyphs" ><tspan>25%</tspan></text>
<rect x="1317.70" y="865.40" width="91.80" height="107.30" fill="#138043" />
<rect x="1317.70" y="972.70" width="91.80" height="75.20" fill="#FF0066" />
<rect x="1318.10" y="865.80" width="91.00" height="181.70" fill="none" stroke="#111" stroke-width="0.9" />
<text x="1341.60" y="927.90" font-size="26" font-weight="bold" font-style="normal" fill="#fff" text-anchor="start" stroke="#fff" stroke-width="0.70" stroke-linejoin="round" textLength="52.5" lengthAdjust="spacingAndGlyphs" ><tspan>59%</tspan></text>
<text x="1338.90" y="1017.00" font-size="26" font-weight="bold" font-style="normal" fill="#000" text-anchor="start" stroke="#000" stroke-width="0.70" stroke-linejoin="round" textLength="52.5" lengthAdjust="spacingAndGlyphs" ><tspan>41%</tspan></text>
<rect x="1460.60" y="866.40" width="91.50" height="140.00" fill="#138043" />
<rect x="1460.60" y="1006.40" width="91.50" height="42.10" fill="#FF0066" />
<rect x="1461.00" y="866.80" width="90.70" height="181.30" fill="none" stroke="#111" stroke-width="0.9" />
<text x="1487.20" y="940.80" font-size="26" font-weight="bold" font-style="normal" fill="#fff" text-anchor="start" stroke="#fff" stroke-width="0.70" stroke-linejoin="round" textLength="52.5" lengthAdjust="spacingAndGlyphs" ><tspan>77%</tspan></text>
<text x="1486.50" y="1037.60" font-size="26" font-weight="bold" font-style="normal" fill="#000" text-anchor="start" stroke="#000" stroke-width="0.70" stroke-linejoin="round" textLength="52.5" lengthAdjust="spacingAndGlyphs" ><tspan>23%</tspan></text>
<rect x="1563.40" y="867.70" width="91.20" height="130.90" fill="#138043" />
<rect x="1563.40" y="998.60" width="91.20" height="51.20" fill="#FF0066" />
<rect x="1563.80" y="868.10" width="90.40" height="181.30" fill="none" stroke="#111" stroke-width="0.9" />
<text x="1587.10" y="947.60" font-size="26" font-weight="bold" font-style="normal" fill="#fff" text-anchor="start" stroke="#fff" stroke-width="0.70" stroke-linejoin="round" textLength="52.5" lengthAdjust="spacingAndGlyphs" ><tspan>72%</tspan></text>
<text x="1585.50" y="1032.90" font-size="26" font-weight="bold" font-style="normal" fill="#000" text-anchor="start" stroke="#000" stroke-width="0.70" stroke-linejoin="round" textLength="52.5" lengthAdjust="spacingAndGlyphs" ><tspan>28%</tspan></text>
<rect x="1687.40" y="868.00" width="91.20" height="125.60" fill="#138043" />
<rect x="1687.40" y="993.60" width="91.20" height="56.20" fill="#FF0066" />
<rect x="1687.80" y="868.40" width="90.40" height="181.00" fill="none" stroke="#111" stroke-width="0.9" />
<text x="1708.90" y="937.30" font-size="26" font-weight="bold" font-style="normal" fill="#fff" text-anchor="start" stroke="#fff" stroke-width="0.70" stroke-linejoin="round" textLength="52.5" lengthAdjust="spacingAndGlyphs" ><tspan>69%</tspan></text>
<text x="1710.50" y="1031.40" font-size="26" font-weight="bold" font-style="normal" fill="#000" text-anchor="start" stroke="#000" stroke-width="0.70" stroke-linejoin="round" textLength="52.5" lengthAdjust="spacingAndGlyphs" ><tspan>31%</tspan></text>
<rect x="1789.50" y="868.00" width="91.20" height="128.70" fill="#138043" />
<rect x="1789.50" y="996.70" width="91.20" height="53.10" fill="#FF0066" />
<rect x="1789.90" y="868.40" width="90.40" height="181.00" fill="none" stroke="#111" stroke-width="0.9" />
<text x="1816.00" y="935.20" font-size="26" font-weight="bold" font-style="normal" fill="#fff" text-anchor="start" stroke="#fff" stroke-width="0.70" stroke-linejoin="round" textLength="52.5" lengthAdjust="spacingAndGlyphs" ><tspan>71%</tspan></text>
<text x="1814.20" y="1032.00" font-size="26" font-weight="bold" font-style="normal" fill="#000" text-anchor="start" stroke="#000" stroke-width="0.70" stroke-linejoin="round" textLength="52.5" lengthAdjust="spacingAndGlyphs" ><tspan>29%</tspan></text>
<rect x="1896.30" y="978.90" width="20.30" height="21.80" fill="#138043" />
<text x="1929.70" y="999.20" font-size="27" font-weight="normal" font-style="normal" fill="#138043" text-anchor="start" textLength="52.5" lengthAdjust="spacingAndGlyphs" ><tspan>SPC</tspan></text>
<rect x="1896.30" y="1020.10" width="20.30" height="21.90" fill="#FF40A8" />
<text x="1929.70" y="1039.80" font-size="27" font-weight="normal" font-style="normal" fill="#D6197E" text-anchor="start" textLength="64.3" lengthAdjust="spacingAndGlyphs" ><tspan>HopX</tspan></text>
<text x="7.50" y="1121.20" font-size="37" font-weight="bold" font-style="normal" fill="#000" text-anchor="start" stroke="#000" stroke-width="1.00" stroke-linejoin="round" ><tspan>e</tspan></text>
<rect x="9.20" y="1160.00" width="410.60" height="411.80" fill="url(#well1)" />
<g clip-path="url(#ce1)">
<g filter="url(#b15)">
<ellipse cx="30" cy="1545" rx="45" ry="40" fill="#5CCB3C" opacity="0.55"/>
<ellipse cx="395" cy="1560" rx="40" ry="30" fill="#1F6A18" opacity="0.5"/>
<ellipse cx="400" cy="1195" rx="35" ry="45" fill="#5CCB3C" opacity="0.6"/>
</g>
<g filter="url(#b1)">
<circle cx="177.4" cy="1189.5" r="3.6" fill="#55E548"/>
<circle cx="189.9" cy="1190.0" r="2.3" fill="#3FC038"/>
<circle cx="236.9" cy="1207.4" r="3.6" fill="#55E548"/>
<circle cx="226.1" cy="1202.9" r="2.3" fill="#3FC038"/>
<circle cx="272.4" cy="1197.4" r="3.6" fill="#55E548"/>
<circle cx="305.3" cy="1201.7" r="3.6" fill="#55E548"/>
<circle cx="293.6" cy="1197.9" r="2.3" fill="#3FC038"/>
<circle cx="292.3" cy="1165.5" r="3.6" fill="#55E548"/>
<circle cx="324.8" cy="1167.0" r="3.6" fill="#55E548"/>
<circle cx="334.8" cy="1186.2" r="3.6" fill="#55E548"/>
<circle cx="128.7" cy="1228.7" r="3.6" fill="#55E548"/>
<circle cx="86.2" cy="1227.4" r="2.3" fill="#3FC038"/>
<circle cx="204.9" cy="1229.2" r="2.3" fill="#3FC038"/>
<circle cx="152.4" cy="1240.7" r="2.3" fill="#3FC038"/>
<circle cx="280.3" cy="1226.2" r="2.3" fill="#3FC038"/>
<circle cx="319.8" cy="1216.2" r="2.3" fill="#3FC038"/>
<circle cx="337.3" cy="1233.7" r="2.3" fill="#3FC038"/>
<circle cx="330.3" cy="1254.9" r="3.6" fill="#55E548"/>
<circle cx="335.6" cy="1264.9" r="3.6" fill="#55E548"/>
<circle cx="389.8" cy="1246.9" r="3.6" fill="#55E548"/>
<circle cx="111.2" cy="1272.9" r="3.6" fill="#55E548"/>
<circle cx="97.4" cy="1271.2" r="2.3" fill="#3FC038"/>
<circle cx="131.7" cy="1276.2" r="2.3" fill="#3FC038"/>
<circle cx="211.1" cy="1269.4" r="3.6" fill="#55E548"/>
<circle cx="254.4" cy="1273.2" r="3.6" fill="#55E548"/>
<circle cx="297.8" cy="1276.9" r="3.6" fill="#55E548"/>
<circle cx="331.8" cy="1287.4" r="3.6" fill="#55E548"/>
<circle cx="359.8" cy="1286.1" r="3.6" fill="#55E548"/>
<circle cx="151.7" cy="1284.9" r="2.3" fill="#3FC038"/>
<circle cx="116.7" cy="1293.6" r="3.6" fill="#55E548"/>
<circle cx="214.1" cy="1296.1" r="2.3" fill="#3FC038"/>
<circle cx="189.1" cy="1313.6" r="5.0" fill="#66F055"/>
<circle cx="168.7" cy="1319.9" r="3.6" fill="#55E548"/>
<circle cx="159.9" cy="1310.6" r="2.3" fill="#3FC038"/>
<circle cx="101.9" cy="1323.1" r="2.3" fill="#3FC038"/>
<circle cx="105.4" cy="1332.4" r="3.6" fill="#55E548"/>
<circle cx="116.7" cy="1326.1" r="2.3" fill="#3FC038"/>
<circle cx="316.8" cy="1322.4" r="3.6" fill="#55E548"/>
<circle cx="279.3" cy="1332.9" r="2.3" fill="#3FC038"/>
<circle cx="394.3" cy="1329.9" r="3.6" fill="#55E548"/>
<circle cx="230.4" cy="1336.9" r="6.0" fill="#8CFF80"/>
<circle cx="230.4" cy="1336.9" r="2.2" fill="#E8FFE0"/>
<circle cx="148.2" cy="1341.9" r="5.0" fill="#66F055"/>
<circle cx="60.7" cy="1349.1" r="3.6" fill="#55E548"/>
<circle cx="207.4" cy="1339.9" r="2.3" fill="#3FC038"/>
<circle cx="334.3" cy="1346.9" r="2.3" fill="#3FC038"/>
<circle cx="254.9" cy="1356.1" r="2.3" fill="#3FC038"/>
<circle cx="20.0" cy="1368.6" r="3.6" fill="#55E548"/>
<circle cx="219.9" cy="1371.9" r="3.6" fill="#55E548"/>
<circle cx="289.1" cy="1376.3" r="3.6" fill="#55E548"/>
<circle cx="387.8" cy="1371.9" r="3.6" fill="#55E548"/>
<circle cx="406.5" cy="1374.3" r="3.6" fill="#55E548"/>
<circle cx="365.5" cy="1384.8" r="3.6" fill="#55E548"/>
<circle cx="379.0" cy="1382.8" r="2.3" fill="#3FC038"/>
<circle cx="137.4" cy="1373.6" r="2.3" fill="#3FC038"/>
<circle cx="77.0" cy="1375.3" r="2.3" fill="#3FC038"/>
<circle cx="169.9" cy="1368.6" r="2.3" fill="#3FC038"/>
<circle cx="104.2" cy="1391.8" r="2.3" fill="#3FC038"/>
<circle cx="167.4" cy="1405.3" r="2.3" fill="#3FC038"/>
<circle cx="295.3" cy="1403.6" r="3.6" fill="#55E548"/>
<circle cx="238.1" cy="1403.1" r="2.3" fill="#3FC038"/>
<circle cx="260.4" cy="1411.1" r="2.3" fill="#3FC038"/>
<circle cx="380.8" cy="1406.6" r="3.6" fill="#55E548"/>
<circle cx="306.8" cy="1417.3" r="3.6" fill="#55E548"/>
<circle cx="313.6" cy="1415.3" r="2.3" fill="#3FC038"/>
<circle cx="207.4" cy="1423.1" r="2.3" fill="#3FC038"/>
<circle cx="188.6" cy="1430.6" r="2.3" fill="#3FC038"/>
<circle cx="310.6" cy="1434.1" r="3.6" fill="#55E548"/>
<circle cx="173.2" cy="1441.1" r="2.3" fill="#3FC038"/>
<circle cx="229.9" cy="1448.1" r="3.6" fill="#55E548"/>
<circle cx="197.4" cy="1453.1" r="3.6" fill="#55E548"/>
<circle cx="131.7" cy="1449.8" r="3.6" fill="#55E548"/>
<circle cx="119.9" cy="1452.3" r="2.3" fill="#3FC038"/>
<circle cx="141.2" cy="1454.8" r="2.3" fill="#3FC038"/>
<circle cx="254.9" cy="1427.3" r="2.3" fill="#3FC038"/>
<circle cx="111.2" cy="1474.3" r="3.6" fill="#55E548"/>
<circle cx="177.4" cy="1472.3" r="2.3" fill="#3FC038"/>
<circle cx="301.6" cy="1475.3" r="3.6" fill="#55E548"/>
<circle cx="294.8" cy="1486.0" r="3.6" fill="#55E548"/>
<circle cx="349.8" cy="1488.0" r="3.6" fill="#55E548"/>
<circle cx="324.3" cy="1492.8" r="3.6" fill="#55E548"/>
<circle cx="219.4" cy="1491.0" r="2.3" fill="#3FC038"/>
<circle cx="136.2" cy="1497.3" r="3.6" fill="#55E548"/>
<circle cx="129.9" cy="1504.3" r="2.3" fill="#3FC038"/>
<circle cx="183.1" cy="1514.3" r="2.3" fill="#3FC038"/>
<circle cx="204.9" cy="1529.3" r="2.3" fill="#3FC038"/>
<circle cx="233.6" cy="1524.8" r="3.6" fill="#55E548"/>
<circle cx="313.6" cy="1501.0" r="2.3" fill="#3FC038"/>
</g>
</g>
<rect x="16.70" y="1160.00" width="79.50" height="55.00" fill="#000" />
<text x="23.70" y="1205.00" font-size="45" font-weight="bold" font-style="normal" fill="#fff" text-anchor="start" stroke="#fff" stroke-width="1.22" stroke-linejoin="round" textLength="69.3" lengthAdjust="spacingAndGlyphs" ><tspan>WT</tspan></text>
<text x="21.20" y="1557.50" font-size="33" font-weight="bold" font-style="normal" fill="#000" text-anchor="start" stroke="#000" stroke-width="0.89" stroke-linejoin="round" textLength="54.5" lengthAdjust="spacingAndGlyphs" ><tspan>215</tspan></text>
<rect x="433.70" y="1158.70" width="416.60" height="409.00" fill="url(#well2)" />
<g clip-path="url(#ce2)">
<g filter="url(#b15)">
<ellipse cx="440" cy="1490" rx="28" ry="90" fill="#68DC40" opacity="0.85"/>
<ellipse cx="470" cy="1560" rx="70" ry="26" fill="#62D040" opacity="0.75"/>
<ellipse cx="445" cy="1260" rx="22" ry="50" fill="#3FA52B" opacity="0.6"/>
<ellipse cx="840" cy="1190" rx="45" ry="60" fill="#0F380C" opacity="0.55"/>
<ellipse cx="850" cy="1370" rx="18" ry="120" fill="#0F380C" opacity="0.5"/>
</g><g filter="url(#b3)">
<circle cx="640.00" cy="1362.00" r="236.00" fill="none" stroke="#123C0E" stroke-width="8" opacity="0.45"/>
<circle cx="636.00" cy="1360.00" r="262.00" fill="none" stroke="#123C0E" stroke-width="7" opacity="0.35"/>
</g>
<g filter="url(#b1)">
<circle cx="684.1" cy="1176.2" r="3.6" fill="#55E548"/>
<circle cx="644.9" cy="1185.0" r="2.3" fill="#3FC038"/>
<circle cx="738.6" cy="1186.7" r="3.6" fill="#55E548"/>
<circle cx="754.1" cy="1183.2" r="3.6" fill="#55E548"/>
<circle cx="711.1" cy="1197.4" r="2.3" fill="#3FC038"/>
<circle cx="621.9" cy="1206.2" r="2.3" fill="#3FC038"/>
<circle cx="686.9" cy="1207.4" r="2.3" fill="#3FC038"/>
<circle cx="673.6" cy="1210.7" r="2.3" fill="#3FC038"/>
<circle cx="632.9" cy="1217.4" r="2.3" fill="#3FC038"/>
<circle cx="661.1" cy="1221.2" r="2.3" fill="#3FC038"/>
<circle cx="552.9" cy="1215.4" r="2.3" fill="#3FC038"/>
<circle cx="512.4" cy="1224.9" r="2.3" fill="#3FC038"/>
<circle cx="765.6" cy="1239.9" r="3.6" fill="#55E548"/>
<circle cx="570.4" cy="1237.4" r="2.3" fill="#3FC038"/>
<circle cx="579.2" cy="1246.7" r="3.6" fill="#55E548"/>
<circle cx="600.4" cy="1244.2" r="3.6" fill="#55E548"/>
<circle cx="619.9" cy="1246.2" r="2.3" fill="#3FC038"/>
<circle cx="490.7" cy="1250.4" r="3.6" fill="#55E548"/>
<circle cx="693.1" cy="1251.9" r="3.6" fill="#55E548"/>
<circle cx="699.8" cy="1240.7" r="2.3" fill="#3FC038"/>
<circle cx="709.8" cy="1233.2" r="2.3" fill="#3FC038"/>
<circle cx="568.7" cy="1264.2" r="5.0" fill="#66F055"/>
<circle cx="493.0" cy="1271.7" r="5.0" fill="#66F055"/>
<circle cx="585.4" cy="1271.9" r="3.6" fill="#55E548"/>
<circle cx="557.4" cy="1275.7" r="3.6" fill="#55E548"/>
<circle cx="522.9" cy="1280.4" r="3.6" fill="#55E548"/>
<circle cx="596.9" cy="1284.1" r="3.6" fill="#55E548"/>
<circle cx="631.1" cy="1281.9" r="5.0" fill="#66F055"/>
<circle cx="763.6" cy="1263.7" r="3.6" fill="#55E548"/>
<circle cx="758.6" cy="1271.2" r="2.3" fill="#3FC038"/>
<circle cx="649.4" cy="1269.4" r="2.3" fill="#3FC038"/>
<circle cx="543.7" cy="1268.7" r="2.3" fill="#3FC038"/>
<circle cx="449.5" cy="1291.6" r="3.6" fill="#55E548"/>
<circle cx="471.2" cy="1296.6" r="3.6" fill="#55E548"/>
<circle cx="570.7" cy="1293.6" r="3.6" fill="#55E548"/>
<circle cx="585.7" cy="1294.9" r="2.3" fill="#3FC038"/>
<circle cx="699.3" cy="1289.9" r="3.6" fill="#55E548"/>
<circle cx="699.8" cy="1302.4" r="2.3" fill="#3FC038"/>
<circle cx="797.3" cy="1291.1" r="2.3" fill="#3FC038"/>
<circle cx="804.0" cy="1294.4" r="2.3" fill="#3FC038"/>
<circle cx="828.0" cy="1294.9" r="3.6" fill="#55E548"/>
<circle cx="795.5" cy="1304.4" r="2.3" fill="#3FC038"/>
<circle cx="443.2" cy="1305.6" r="3.6" fill="#55E548"/>
<circle cx="516.9" cy="1312.4" r="3.6" fill="#55E548"/>
<circle cx="477.5" cy="1315.6" r="3.6" fill="#55E548"/>
<circle cx="624.4" cy="1310.6" r="3.6" fill="#55E548"/>
<circle cx="661.1" cy="1318.6" r="3.6" fill="#55E548"/>
<circle cx="739.3" cy="1311.1" r="5.0" fill="#66F055"/>
<circle cx="773.1" cy="1323.6" r="3.6" fill="#55E548"/>
<circle cx="554.2" cy="1313.6" r="2.3" fill="#3FC038"/>
<circle cx="460.0" cy="1332.4" r="5.0" fill="#66F055"/>
<circle cx="730.6" cy="1336.9" r="5.0" fill="#66F055"/>
<circle cx="574.9" cy="1336.4" r="2.3" fill="#3FC038"/>
<circle cx="562.4" cy="1347.9" r="3.6" fill="#55E548"/>
<circle cx="596.9" cy="1345.6" r="2.3" fill="#3FC038"/>
<circle cx="689.9" cy="1348.9" r="3.6" fill="#55E548"/>
<circle cx="667.4" cy="1357.4" r="3.6" fill="#55E548"/>
<circle cx="778.6" cy="1340.6" r="2.3" fill="#3FC038"/>
<circle cx="774.8" cy="1344.9" r="2.3" fill="#3FC038"/>
<circle cx="532.4" cy="1360.6" r="3.6" fill="#55E548"/>
<circle cx="584.9" cy="1358.6" r="6.0" fill="#8CFF80"/>
<circle cx="584.9" cy="1358.6" r="2.2" fill="#E8FFE0"/>
<circle cx="579.9" cy="1359.9" r="5.0" fill="#66F055"/>
<circle cx="589.9" cy="1356.1" r="5.0" fill="#66F055"/>
<circle cx="719.8" cy="1367.4" r="3.6" fill="#55E548"/>
<circle cx="723.6" cy="1374.3" r="3.6" fill="#55E548"/>
<circle cx="749.1" cy="1370.6" r="5.0" fill="#66F055"/>
<circle cx="789.8" cy="1365.4" r="3.6" fill="#55E548"/>
<circle cx="801.8" cy="1362.4" r="2.3" fill="#3FC038"/>
<circle cx="771.6" cy="1366.1" r="2.3" fill="#3FC038"/>
<circle cx="659.1" cy="1382.3" r="3.6" fill="#55E548"/>
<circle cx="744.8" cy="1389.3" r="5.0" fill="#66F055"/>
<circle cx="718.6" cy="1384.8" r="2.3" fill="#3FC038"/>
<circle cx="845.5" cy="1381.6" r="3.6" fill="#55E548"/>
<circle cx="581.9" cy="1400.3" r="2.3" fill="#3FC038"/>
<circle cx="466.7" cy="1404.3" r="5.0" fill="#66F055"/>
<circle cx="669.9" cy="1401.6" r="2.3" fill="#3FC038"/>
<circle cx="659.1" cy="1405.3" r="2.3" fill="#3FC038"/>
<circle cx="714.3" cy="1405.6" r="2.3" fill="#3FC038"/>
<circle cx="786.5" cy="1397.8" r="2.3" fill="#3FC038"/>
<circle cx="676.1" cy="1394.8" r="2.3" fill="#3FC038"/>
<circle cx="476.2" cy="1414.8" r="3.6" fill="#55E548"/>
<circle cx="677.9" cy="1420.3" r="3.6" fill="#55E548"/>
<circle cx="794.8" cy="1417.3" r="5.0" fill="#66F055"/>
<circle cx="782.8" cy="1421.1" r="3.6" fill="#55E548"/>
<circle cx="643.6" cy="1414.8" r="2.3" fill="#3FC038"/>
<circle cx="708.6" cy="1422.8" r="2.3" fill="#3FC038"/>
<circle cx="495.7" cy="1422.3" r="2.3" fill="#3FC038"/>
<circle cx="818.5" cy="1411.1" r="2.3" fill="#3FC038"/>
<circle cx="554.9" cy="1434.1" r="2.3" fill="#3FC038"/>
<circle cx="628.1" cy="1436.8" r="2.3" fill="#3FC038"/>
<circle cx="791.0" cy="1437.3" r="3.6" fill="#55E548"/>
<circle cx="624.4" cy="1447.3" r="3.6" fill="#55E548"/>
<circle cx="727.3" cy="1449.8" r="2.3" fill="#3FC038"/>
<circle cx="737.3" cy="1446.6" r="2.3" fill="#3FC038"/>
<circle cx="768.1" cy="1457.3" r="2.3" fill="#3FC038"/>
<circle cx="666.1" cy="1454.1" r="6.0" fill="#8CFF80"/>
<circle cx="666.1" cy="1454.1" r="2.2" fill="#E8FFE0"/>
<circle cx="566.7" cy="1454.3" r="2.3" fill="#3FC038"/>
<circle cx="732.3" cy="1464.3" r="2.3" fill="#3FC038"/>
<circle cx="817.3" cy="1463.6" r="3.6" fill="#55E548"/>
<circle cx="637.4" cy="1459.8" r="2.3" fill="#3FC038"/>
<circle cx="535.7" cy="1486.8" r="3.6" fill="#55E548"/>
<circle cx="636.9" cy="1483.0" r="3.6" fill="#55E548"/>
<circle cx="629.4" cy="1494.3" r="3.6" fill="#55E548"/>
<circle cx="760.3" cy="1484.8" r="3.6" fill="#55E548"/>
<circle cx="670.6" cy="1497.3" r="3.6" fill="#55E548"/>
<circle cx="706.8" cy="1494.0" r="2.3" fill="#3FC038"/>
<circle cx="718.6" cy="1499.8" r="2.3" fill="#3FC038"/>
<circle cx="736.1" cy="1508.5" r="2.3" fill="#3FC038"/>
<circle cx="524.9" cy="1478.5" r="2.3" fill="#3FC038"/>
<circle cx="612.4" cy="1495.5" r="2.3" fill="#3FC038"/>
<circle cx="566.9" cy="1518.5" r="3.6" fill="#55E548"/>
<circle cx="695.6" cy="1517.8" r="2.3" fill="#3FC038"/>
<circle cx="659.9" cy="1511.0" r="2.3" fill="#3FC038"/>
<circle cx="654.9" cy="1526.0" r="2.3" fill="#3FC038"/>
<circle cx="718.6" cy="1532.3" r="3.6" fill="#55E548"/>
<circle cx="745.6" cy="1538.0" r="3.6" fill="#55E548"/>
<circle cx="691.1" cy="1544.8" r="3.6" fill="#55E548"/>
<circle cx="604.9" cy="1544.8" r="3.6" fill="#55E548"/>
<circle cx="586.9" cy="1541.8" r="2.3" fill="#3FC038"/>
<circle cx="677.4" cy="1548.5" r="2.3" fill="#3FC038"/>
<circle cx="632.4" cy="1561.0" r="2.3" fill="#3FC038"/>
<circle cx="758.6" cy="1524.8" r="2.3" fill="#3FC038"/>
</g>
</g>
<rect x="436.70" y="1158.20" width="156.50" height="54.80" fill="#000" />
<text x="441.20" y="1203.00" font-size="43.5" font-weight="bold" font-style="normal" fill="#FF40B0" text-anchor="start" stroke="#FF40B0" stroke-width="1.17" stroke-linejoin="round" textLength="138.8" lengthAdjust="spacingAndGlyphs" ><tspan>Tsc2</tspan><tspan font-size="27.5" dy="-13.80">KO</tspan></text>
<text x="460.00" y="1555.70" font-size="33" font-weight="bold" font-style="normal" fill="#000" text-anchor="start" stroke="#000" stroke-width="0.89" stroke-linejoin="round" textLength="54.5" lengthAdjust="spacingAndGlyphs" ><tspan>260</tspan></text>
<text x="899.00" y="1121.20" font-size="37" font-weight="bold" font-style="normal" fill="#000" text-anchor="start" stroke="#000" stroke-width="1.00" stroke-linejoin="round" ><tspan>g</tspan></text>
<text x="1032.60" y="1132.90" font-size="33" font-weight="bold" font-style="normal" fill="#000" text-anchor="start" stroke="#000" stroke-width="0.89" stroke-linejoin="round" textLength="203.7" lengthAdjust="spacingAndGlyphs" ><tspan>No treatment</tspan></text>
<text x="1422.80" y="1132.90" font-size="33" font-weight="bold" font-style="normal" fill="#000" text-anchor="start" stroke="#000" stroke-width="0.89" stroke-linejoin="round" textLength="82.9" lengthAdjust="spacingAndGlyphs" ><tspan>FGF7</tspan></text>
<line x1="941.90" y1="1148.40" x2="1359.90" y2="1148.40" stroke="#4472C4" stroke-width="2" />
<line x1="1378.00" y1="1148.40" x2="1576.80" y2="1148.40" stroke="#4472C4" stroke-width="2" />
<text x="0" y="0" font-size="33.5" font-weight="bold" font-style="normal" fill="#000" text-anchor="start" stroke="#000" stroke-width="0.90" stroke-linejoin="round" textLength="127.1" lengthAdjust="spacingAndGlyphs" transform="translate(926.70,1314.90) rotate(-90)" ><tspan>WT MLF</tspan></text>
<text x="0" y="0" font-size="33.5" font-weight="bold" font-style="normal" fill="#D6197E" text-anchor="start" stroke="#D6197E" stroke-width="0.90" stroke-linejoin="round" textLength="194" lengthAdjust="spacingAndGlyphs" transform="translate(926.70,1568.60) rotate(-90)" ><tspan font-style="italic">Tsc2</tspan><tspan font-size="22" dx="2" dy="-12.00">KO</tspan><tspan dy="12.00"> MLF</tspan></text>
<rect x="941.10" y="1157.90" width="201.30" height="199.60" fill="#0A0422" />
<rect x="1158.40" y="1157.90" width="201.50" height="199.60" fill="#000" />
<rect x="1377.20" y="1157.90" width="199.60" height="199.60" fill="#000" />
<rect x="941.10" y="1374.40" width="201.30" height="197.70" fill="#000" />
<rect x="1158.40" y="1374.40" width="201.50" height="197.70" fill="#000" />
<rect x="1374.50" y="1374.40" width="202.30" height="197.70" fill="#000" />
<g clip-path="url(#cg0)"><g filter="url(#b1)">
<ellipse cx="993.3" cy="1262.8" rx="6.8" ry="5.9" fill="#1B3CF0" opacity="0.85"/>
<ellipse cx="1008.2" cy="1249.0" rx="5.8" ry="5.2" fill="#1B3CF0" opacity="0.94"/>
<ellipse cx="1043.7" cy="1265.5" rx="4.7" ry="4.5" fill="#1B3CF0" opacity="0.91"/>
<ellipse cx="1065.1" cy="1264.0" rx="6.9" ry="6.3" fill="#1B3CF0" opacity="0.88"/>
<ellipse cx="1026.9" cy="1259.2" rx="5.8" ry="4.5" fill="#1B3CF0" opacity="0.76"/>
<ellipse cx="1024.4" cy="1261.4" rx="5.7" ry="4.9" fill="#1B3CF0" opacity="0.95"/>
<ellipse cx="989.8" cy="1253.0" rx="5.7" ry="5.3" fill="#1B3CF0" opacity="0.84"/>
<ellipse cx="1016.4" cy="1286.5" rx="7.0" ry="6.7" fill="#1B3CF0" opacity="0.91"/>
<ellipse cx="1015.8" cy="1269.6" rx="5.2" ry="4.0" fill="#1B3CF0" opacity="0.93"/>
<ellipse cx="991.9" cy="1272.7" rx="5.5" ry="5.4" fill="#1B3CF0" opacity="0.95"/>
<ellipse cx="1043.7" cy="1256.0" rx="6.8" ry="5.9" fill="#1B3CF0" opacity="0.99"/>
<ellipse cx="1014.7" cy="1261.0" rx="6.1" ry="5.7" fill="#1B3CF0" opacity="0.78"/>
<ellipse cx="1045.2" cy="1265.3" rx="6.9" ry="6.5" fill="#1B3CF0" opacity="0.74"/>
<ellipse cx="1024.3" cy="1265.9" rx="4.6" ry="4.4" fill="#1B3CF0" opacity="0.75"/>
<ellipse cx="997.2" cy="1248.5" rx="5.0" ry="4.6" fill="#1B3CF0" opacity="0.74"/>
<ellipse cx="1014.9" cy="1247.7" rx="5.6" ry="4.5" fill="#1B3CF0" opacity="0.78"/>
<ellipse cx="1061.9" cy="1251.0" rx="5.3" ry="5.1" fill="#1B3CF0" opacity="0.76"/>
<ellipse cx="992.7" cy="1273.7" rx="6.1" ry="4.7" fill="#1B3CF0" opacity="1.00"/>
<ellipse cx="1029.0" cy="1271.3" rx="6.4" ry="5.4" fill="#1B3CF0" opacity="0.79"/>
<ellipse cx="1035.6" cy="1260.1" rx="6.0" ry="4.8" fill="#1B3CF0" opacity="0.88"/>
<ellipse cx="1004.0" cy="1271.1" rx="6.9" ry="6.0" fill="#1B3CF0" opacity="0.87"/>
<ellipse cx="1036.3" cy="1246.1" rx="4.9" ry="4.8" fill="#1B3CF0" opacity="0.95"/>
<ellipse cx="1024.1" cy="1269.5" rx="6.3" ry="6.3" fill="#1B3CF0" opacity="0.76"/>
<ellipse cx="1062.4" cy="1247.0" rx="6.0" ry="5.1" fill="#1B3CF0" opacity="0.73"/>
<ellipse cx="1064.9" cy="1263.3" rx="5.1" ry="4.7" fill="#1B3CF0" opacity="0.78"/>
<ellipse cx="1038.8" cy="1234.6" rx="5.2" ry="4.2" fill="#1B3CF0" opacity="0.92"/>
<ellipse cx="1042.7" cy="1262.2" rx="5.9" ry="5.7" fill="#1B3CF0" opacity="0.88"/>
<ellipse cx="1016.2" cy="1285.2" rx="5.0" ry="3.8" fill="#1B3CF0" opacity="0.78"/>
<ellipse cx="1014.0" cy="1258.6" rx="4.9" ry="4.2" fill="#1B3CF0" opacity="0.87"/>
<ellipse cx="1041.5" cy="1269.7" rx="6.7" ry="6.7" fill="#1B3CF0" opacity="0.90"/>
<ellipse cx="1012.1" cy="1233.9" rx="4.9" ry="3.7" fill="#1B3CF0" opacity="0.71"/>
<ellipse cx="1054.4" cy="1242.1" rx="6.9" ry="5.2" fill="#1B3CF0" opacity="0.89"/>
<ellipse cx="987.5" cy="1259.0" rx="5.3" ry="5.3" fill="#1B3CF0" opacity="0.72"/>
<ellipse cx="988.6" cy="1248.4" rx="6.8" ry="6.3" fill="#1B3CF0" opacity="0.91"/>
<ellipse cx="1035.0" cy="1227.4" rx="5.4" ry="5.0" fill="#1B3CF0" opacity="0.97"/>
<ellipse cx="1043.2" cy="1241.5" rx="6.5" ry="6.3" fill="#1B3CF0" opacity="0.87"/>
<ellipse cx="1005.2" cy="1242.4" rx="6.0" ry="5.4" fill="#1B3CF0" opacity="0.72"/>
<ellipse cx="996.6" cy="1232.3" rx="6.7" ry="6.2" fill="#1B3CF0" opacity="0.82"/>
<ellipse cx="1020.9" cy="1232.5" rx="5.6" ry="5.4" fill="#1B3CF0" opacity="0.73"/>
<ellipse cx="1024.0" cy="1250.6" rx="6.0" ry="5.2" fill="#1B3CF0" opacity="0.77"/>
<ellipse cx="1014.3" cy="1235.3" rx="6.0" ry="5.9" fill="#1B3CF0" opacity="0.78"/>
<ellipse cx="1047.5" cy="1257.2" rx="6.2" ry="5.0" fill="#1B3CF0" opacity="0.75"/>
<ellipse cx="1053.0" cy="1241.9" rx="5.6" ry="5.5" fill="#1B3CF0" opacity="0.80"/>
<ellipse cx="1014.3" cy="1244.1" rx="5.6" ry="5.3" fill="#1B3CF0" opacity="0.97"/>
<ellipse cx="1043.5" cy="1242.9" rx="6.0" ry="4.9" fill="#1B3CF0" opacity="0.74"/>
<ellipse cx="984.7" cy="1256.6" rx="6.6" ry="6.1" fill="#1B3CF0" opacity="0.99"/>
<ellipse cx="1021.0" cy="1268.6" rx="5.6" ry="4.6" fill="#1B3CF0" opacity="0.76"/>
<ellipse cx="994.8" cy="1268.6" rx="5.7" ry="4.8" fill="#1B3CF0" opacity="0.95"/>
<ellipse cx="1052.7" cy="1253.7" rx="4.7" ry="3.6" fill="#1B3CF0" opacity="0.96"/>
<ellipse cx="1059.0" cy="1262.7" rx="5.9" ry="4.9" fill="#1B3CF0" opacity="0.94"/>
<ellipse cx="1039.7" cy="1257.4" rx="5.6" ry="4.3" fill="#1B3CF0" opacity="0.95"/>
<ellipse cx="1025.3" cy="1267.6" rx="4.6" ry="4.2" fill="#1B3CF0" opacity="0.83"/>
<ellipse cx="1000.2" cy="1237.7" rx="6.5" ry="6.5" fill="#1B3CF0" opacity="0.91"/>
<ellipse cx="1033.3" cy="1276.3" rx="4.9" ry="3.7" fill="#1B3CF0" opacity="0.84"/>
<ellipse cx="1019.9" cy="1243.2" rx="5.2" ry="4.3" fill="#1B3CF0" opacity="0.91"/>
<ellipse cx="990.6" cy="1252.9" rx="6.4" ry="5.4" fill="#1B3CF0" opacity="0.94"/>
<ellipse cx="1034.6" cy="1250.9" rx="6.8" ry="6.4" fill="#1B3CF0" opacity="0.74"/>
<ellipse cx="991.4" cy="1263.1" rx="6.8" ry="5.7" fill="#1B3CF0" opacity="0.87"/>
<ellipse cx="1051.9" cy="1237.0" rx="6.9" ry="5.9" fill="#1B3CF0" opacity="0.90"/>
<ellipse cx="1034.2" cy="1281.3" rx="6.5" ry="6.0" fill="#1B3CF0" opacity="0.92"/>
<ellipse cx="1033.3" cy="1284.6" rx="7.0" ry="6.9" fill="#1B3CF0" opacity="0.86"/>
<ellipse cx="1030.2" cy="1239.0" rx="6.8" ry="6.5" fill="#1B3CF0" opacity="0.80"/>
<ellipse cx="1048.8" cy="1266.2" rx="5.9" ry="5.5" fill="#1B3CF0" opacity="0.85"/>
<ellipse cx="1062.1" cy="1261.0" rx="4.7" ry="4.4" fill="#1B3CF0" opacity="0.75"/>
<ellipse cx="1004.6" cy="1279.7" rx="4.9" ry="3.8" fill="#1B3CF0" opacity="0.85"/>
<ellipse cx="1002.3" cy="1230.5" rx="7.1" ry="7.0" fill="#3BAA70" opacity="0.47"/>
<ellipse cx="1010.0" cy="1243.5" rx="5.7" ry="5.0" fill="#3BAA70" opacity="0.42"/>
<ellipse cx="1003.1" cy="1232.3" rx="6.6" ry="6.3" fill="#3BAA70" opacity="0.49"/>
<ellipse cx="1000.8" cy="1254.1" rx="7.5" ry="7.3" fill="#3BAA70" opacity="0.40"/>
<ellipse cx="1015.5" cy="1232.3" rx="6.6" ry="5.9" fill="#3BAA70" opacity="0.40"/>
<ellipse cx="992.6" cy="1242.5" rx="6.8" ry="5.2" fill="#3BAA70" opacity="0.59"/>
<ellipse cx="993.7" cy="1244.0" rx="7.4" ry="6.6" fill="#3BAA70" opacity="0.47"/>
<ellipse cx="1003.3" cy="1241.2" rx="6.6" ry="5.6" fill="#3BAA70" opacity="0.59"/>
<path d="M999.5,1266.5 L1013.1,1261.1 L1023.9,1253.0 L1032.1,1244.8 L1043.0,1242.1 L1037.5,1250.2 L1026.7,1255.7" fill="none" stroke="#FFE020" stroke-width="7" stroke-linecap="round" stroke-linejoin="round"/>
<path d="M1015.8,1258.4 L1026.7,1250.2 L1040.2,1246.2" fill="none" stroke="#FFF9B0" stroke-width="3" stroke-linecap="round"/>
<circle cx="1000.9" cy="1267.9" r="4.5" fill="#FFB0D0"/>
</g></g>
<rect x="1040.20" y="1291.50" width="102.20" height="17.50" fill="#030A1E" />
<rect x="1040.20" y="1308.60" width="102.20" height="48.90" fill="#000" />
<g clip-path="url(#cg1)"><g filter="url(#b1)">
<ellipse cx="1261.7" cy="1251.5" rx="5.7" ry="4.4" fill="#1B35E8" opacity="0.83"/>
<ellipse cx="1258.1" cy="1218.8" rx="5.7" ry="4.7" fill="#1B35E8" opacity="0.76"/>
<ellipse cx="1209.1" cy="1230.2" rx="4.8" ry="4.6" fill="#1B35E8" opacity="0.71"/>
<ellipse cx="1248.4" cy="1287.3" rx="6.2" ry="5.2" fill="#1B35E8" opacity="0.81"/>
<ellipse cx="1230.4" cy="1252.5" rx="6.3" ry="4.9" fill="#1B35E8" opacity="0.85"/>
<ellipse cx="1240.9" cy="1287.1" rx="5.8" ry="5.0" fill="#1B35E8" opacity="0.81"/>
<ellipse cx="1213.0" cy="1283.6" rx="4.9" ry="3.9" fill="#1B35E8" opacity="0.89"/>
<ellipse cx="1219.9" cy="1235.1" rx="6.6" ry="6.0" fill="#1B35E8" opacity="0.96"/>
<ellipse cx="1245.2" cy="1308.5" rx="6.5" ry="6.4" fill="#1B35E8" opacity="0.79"/>
<ellipse cx="1223.8" cy="1309.8" rx="5.0" ry="5.0" fill="#1B35E8" opacity="0.97"/>
<ellipse cx="1255.7" cy="1283.0" rx="6.3" ry="5.1" fill="#1B35E8" opacity="0.73"/>
<ellipse cx="1255.4" cy="1234.6" rx="6.5" ry="5.1" fill="#1B35E8" opacity="0.82"/>
<ellipse cx="1238.6" cy="1257.6" rx="5.0" ry="4.6" fill="#1B35E8" opacity="0.97"/>
<ellipse cx="1256.0" cy="1260.5" rx="5.8" ry="5.4" fill="#1B35E8" opacity="0.85"/>
<ellipse cx="1233.3" cy="1243.2" rx="4.7" ry="3.6" fill="#1B35E8" opacity="0.71"/>
<ellipse cx="1210.4" cy="1252.1" rx="5.9" ry="4.7" fill="#1B35E8" opacity="0.76"/>
<ellipse cx="1252.8" cy="1309.7" rx="7.0" ry="6.8" fill="#1B35E8" opacity="0.73"/>
<ellipse cx="1281.6" cy="1283.2" rx="5.7" ry="5.3" fill="#1B35E8" opacity="0.80"/>
<ellipse cx="1209.4" cy="1271.7" rx="5.6" ry="5.0" fill="#1B35E8" opacity="0.70"/>
<ellipse cx="1228.5" cy="1218.5" rx="5.0" ry="4.3" fill="#1B35E8" opacity="0.92"/>
<ellipse cx="1224.5" cy="1276.9" rx="4.9" ry="4.3" fill="#1B35E8" opacity="0.70"/>
<ellipse cx="1272.6" cy="1235.0" rx="6.3" ry="6.0" fill="#1B35E8" opacity="0.89"/>
<ellipse cx="1212.2" cy="1286.7" rx="5.8" ry="5.7" fill="#1B35E8" opacity="0.94"/>
<ellipse cx="1238.8" cy="1313.6" rx="6.4" ry="6.0" fill="#1B35E8" opacity="0.94"/>
<ellipse cx="1205.7" cy="1291.5" rx="6.7" ry="6.2" fill="#1B35E8" opacity="0.93"/>
<ellipse cx="1243.7" cy="1231.0" rx="6.3" ry="4.8" fill="#1B35E8" opacity="0.80"/>
<ellipse cx="1236.5" cy="1265.0" rx="5.4" ry="4.9" fill="#1B35E8" opacity="0.89"/>
<ellipse cx="1245.9" cy="1314.2" rx="6.2" ry="5.1" fill="#1B35E8" opacity="0.90"/>
<ellipse cx="1211.2" cy="1247.9" rx="5.5" ry="5.5" fill="#1B35E8" opacity="0.89"/>
<ellipse cx="1229.2" cy="1220.7" rx="7.0" ry="5.3" fill="#1B35E8" opacity="0.88"/>
<ellipse cx="1239.4" cy="1237.7" rx="5.5" ry="4.2" fill="#1B35E8" opacity="0.76"/>
<ellipse cx="1231.0" cy="1275.5" rx="5.1" ry="5.0" fill="#1B35E8" opacity="0.87"/>
<ellipse cx="1196.8" cy="1261.5" rx="5.9" ry="5.9" fill="#1B35E8" opacity="0.89"/>
<ellipse cx="1245.5" cy="1250.6" rx="6.0" ry="5.6" fill="#1B35E8" opacity="0.71"/>
<ellipse cx="1257.3" cy="1255.2" rx="5.7" ry="4.5" fill="#1B35E8" opacity="0.85"/>
<ellipse cx="1232.7" cy="1255.9" rx="6.9" ry="5.9" fill="#1B35E8" opacity="0.86"/>
<ellipse cx="1218.8" cy="1245.9" rx="5.2" ry="4.8" fill="#1B35E8" opacity="0.87"/>
<ellipse cx="1233.0" cy="1307.0" rx="5.2" ry="3.9" fill="#1B35E8" opacity="0.77"/>
<ellipse cx="1258.2" cy="1269.5" rx="6.4" ry="5.4" fill="#1B35E8" opacity="0.97"/>
<ellipse cx="1240.9" cy="1252.4" rx="7.0" ry="6.9" fill="#1B35E8" opacity="0.72"/>
<ellipse cx="1265.4" cy="1244.9" rx="5.7" ry="5.7" fill="#1B35E8" opacity="0.77"/>
<ellipse cx="1197.9" cy="1256.6" rx="6.3" ry="5.5" fill="#1B35E8" opacity="0.99"/>
<ellipse cx="1255.2" cy="1227.1" rx="4.8" ry="4.3" fill="#1B35E8" opacity="0.84"/>
<ellipse cx="1243.9" cy="1275.4" rx="5.8" ry="4.5" fill="#1B35E8" opacity="0.83"/>
<ellipse cx="1226.0" cy="1233.5" rx="5.2" ry="4.6" fill="#1B35E8" opacity="0.83"/>
<ellipse cx="1246.7" cy="1226.7" rx="7.0" ry="6.9" fill="#1B35E8" opacity="0.92"/>
<ellipse cx="1242.1" cy="1281.5" rx="6.7" ry="6.4" fill="#1B35E8" opacity="0.89"/>
<ellipse cx="1226.1" cy="1285.0" rx="6.2" ry="5.5" fill="#1B35E8" opacity="0.88"/>
<ellipse cx="1214.8" cy="1230.5" rx="5.0" ry="4.0" fill="#1B35E8" opacity="0.99"/>
<ellipse cx="1277.4" cy="1239.4" rx="4.6" ry="3.5" fill="#1B35E8" opacity="0.78"/>
<ellipse cx="1209.3" cy="1282.6" rx="4.8" ry="4.2" fill="#1B35E8" opacity="0.72"/>
<ellipse cx="1272.7" cy="1286.1" rx="5.9" ry="5.3" fill="#1B35E8" opacity="0.81"/>
<ellipse cx="1220.5" cy="1267.2" rx="5.4" ry="5.0" fill="#1B35E8" opacity="0.95"/>
<ellipse cx="1254.9" cy="1272.1" rx="6.5" ry="5.9" fill="#1B35E8" opacity="0.93"/>
<ellipse cx="1247.7" cy="1297.0" rx="5.1" ry="4.9" fill="#1B35E8" opacity="0.81"/>
<ellipse cx="1215.5" cy="1221.5" rx="5.3" ry="4.7" fill="#1B35E8" opacity="0.92"/>
<ellipse cx="1266.9" cy="1247.8" rx="5.4" ry="4.2" fill="#1B35E8" opacity="0.96"/>
<ellipse cx="1252.4" cy="1271.1" rx="5.9" ry="5.1" fill="#1B35E8" opacity="0.91"/>
<ellipse cx="1229.0" cy="1307.7" rx="4.7" ry="3.8" fill="#1B35E8" opacity="0.90"/>
<ellipse cx="1262.6" cy="1278.1" rx="6.3" ry="5.8" fill="#1B35E8" opacity="0.78"/>
<ellipse cx="1257.8" cy="1288.3" rx="6.3" ry="5.3" fill="#1B35E8" opacity="0.74"/>
<ellipse cx="1232.4" cy="1226.0" rx="6.8" ry="6.7" fill="#1B35E8" opacity="0.97"/>
<ellipse cx="1203.7" cy="1281.7" rx="5.3" ry="4.4" fill="#1B35E8" opacity="0.82"/>
<ellipse cx="1280.0" cy="1244.4" rx="5.1" ry="4.3" fill="#1B35E8" opacity="0.81"/>
<ellipse cx="1222.5" cy="1288.8" rx="5.5" ry="4.4" fill="#1B35E8" opacity="0.87"/>
<ellipse cx="1250.6" cy="1227.4" rx="6.6" ry="5.9" fill="#1B35E8" opacity="0.75"/>
<ellipse cx="1243.4" cy="1215.3" rx="5.2" ry="3.9" fill="#1B35E8" opacity="0.85"/>
<ellipse cx="1208.4" cy="1253.3" rx="6.9" ry="6.3" fill="#1B35E8" opacity="0.94"/>
<ellipse cx="1271.6" cy="1279.1" rx="6.5" ry="5.0" fill="#1B35E8" opacity="0.72"/>
<ellipse cx="1237.5" cy="1214.9" rx="4.7" ry="4.3" fill="#1B35E8" opacity="0.74"/>
<ellipse cx="1240.0" cy="1222.1" rx="5.1" ry="4.1" fill="#1B35E8" opacity="0.93"/>
<ellipse cx="1202.0" cy="1257.9" rx="5.5" ry="4.6" fill="#1B35E8" opacity="0.99"/>
<ellipse cx="1226.2" cy="1231.7" rx="5.8" ry="5.4" fill="#1B35E8" opacity="0.91"/>
<ellipse cx="1265.8" cy="1247.0" rx="6.6" ry="6.0" fill="#1B35E8" opacity="0.96"/>
<ellipse cx="1255.1" cy="1219.4" rx="6.7" ry="6.7" fill="#1B35E8" opacity="0.89"/>
<ellipse cx="1203.5" cy="1257.5" rx="6.5" ry="5.6" fill="#1B35E8" opacity="0.83"/>
<ellipse cx="1264.5" cy="1299.6" rx="7.0" ry="5.9" fill="#1B35E8" opacity="0.75"/>
<ellipse cx="1249.3" cy="1296.5" rx="5.2" ry="5.2" fill="#1B35E8" opacity="0.72"/>
<ellipse cx="1235.5" cy="1280.4" rx="6.1" ry="5.8" fill="#1B35E8" opacity="0.75"/>
<ellipse cx="1269.2" cy="1277.4" rx="6.0" ry="5.8" fill="#1B35E8" opacity="0.71"/>
<ellipse cx="1256.0" cy="1278.1" rx="5.0" ry="4.1" fill="#1B35E8" opacity="0.92"/>
<ellipse cx="1223.4" cy="1250.2" rx="5.0" ry="4.1" fill="#1B35E8" opacity="0.75"/>
<ellipse cx="1242.2" cy="1235.0" rx="5.9" ry="5.6" fill="#1B35E8" opacity="0.84"/>
<ellipse cx="1238.2" cy="1312.9" rx="6.8" ry="5.7" fill="#1B35E8" opacity="0.86"/>
<ellipse cx="1271.1" cy="1254.4" rx="5.1" ry="3.9" fill="#1B35E8" opacity="0.98"/>
<ellipse cx="1249.9" cy="1233.4" rx="5.8" ry="5.1" fill="#1B35E8" opacity="0.78"/>
<ellipse cx="1277.4" cy="1261.4" rx="5.1" ry="3.8" fill="#1B35E8" opacity="0.84"/>
<ellipse cx="1213.2" cy="1297.5" rx="6.3" ry="5.7" fill="#1B35E8" opacity="0.75"/>
<ellipse cx="1255.1" cy="1288.6" rx="5.1" ry="5.0" fill="#1B35E8" opacity="0.85"/>
<ellipse cx="1211.8" cy="1224.7" rx="5.2" ry="4.6" fill="#1B35E8" opacity="0.75"/>
<ellipse cx="1241.2" cy="1262.1" rx="6.6" ry="6.3" fill="#1B35E8" opacity="0.95"/>
<ellipse cx="1261.3" cy="1277.4" rx="6.3" ry="4.9" fill="#1B35E8" opacity="0.84"/>
<ellipse cx="1197.9" cy="1273.9" rx="6.0" ry="5.8" fill="#1B35E8" opacity="0.79"/>
<ellipse cx="1248.1" cy="1231.4" rx="6.8" ry="5.2" fill="#1B35E8" opacity="0.95"/>
<ellipse cx="1249.6" cy="1301.0" rx="5.8" ry="4.6" fill="#1B35E8" opacity="0.95"/>
<ellipse cx="1217.0" cy="1267.6" rx="4.2" ry="3.5" fill="#25B050" opacity="0.54"/>
<ellipse cx="1218.9" cy="1230.1" rx="6.1" ry="4.7" fill="#25B050" opacity="0.52"/>
<ellipse cx="1199.1" cy="1258.0" rx="6.5" ry="5.9" fill="#25B050" opacity="0.40"/>
<ellipse cx="1207.5" cy="1270.0" rx="4.7" ry="4.2" fill="#25B050" opacity="0.54"/>
<ellipse cx="1245.8" cy="1252.2" rx="6.4" ry="5.1" fill="#25B050" opacity="0.58"/>
<ellipse cx="1218.3" cy="1270.2" rx="5.6" ry="4.6" fill="#25B050" opacity="0.50"/>
<ellipse cx="1206.7" cy="1267.4" rx="4.8" ry="3.8" fill="#25B050" opacity="0.62"/>
<ellipse cx="1210.8" cy="1279.0" rx="5.7" ry="5.3" fill="#25B050" opacity="0.50"/>
<ellipse cx="1225.4" cy="1240.9" rx="4.4" ry="3.4" fill="#25B050" opacity="0.60"/>
<ellipse cx="1219.4" cy="1236.1" rx="5.2" ry="5.0" fill="#25B050" opacity="0.58"/>
<ellipse cx="1231.6" cy="1258.7" rx="4.5" ry="3.5" fill="#25B050" opacity="0.52"/>
<ellipse cx="1242.7" cy="1264.4" rx="5.3" ry="4.6" fill="#25B050" opacity="0.59"/>
<ellipse cx="1224.3" cy="1219.4" rx="5.2" ry="4.3" fill="#25B050" opacity="0.52"/>
<ellipse cx="1237.1" cy="1252.1" rx="6.1" ry="6.1" fill="#25B050" opacity="0.64"/>
<ellipse cx="1212.0" cy="1227.6" rx="4.1" ry="3.4" fill="#25B050" opacity="0.50"/>
<ellipse cx="1217.4" cy="1241.0" rx="5.1" ry="4.5" fill="#25B050" opacity="0.64"/>
<ellipse cx="1230.5" cy="1226.3" rx="4.5" ry="4.2" fill="#25B050" opacity="0.67"/>
<ellipse cx="1208.4" cy="1244.0" rx="5.5" ry="4.3" fill="#25B050" opacity="0.61"/>
<ellipse cx="1239.2" cy="1248.0" rx="6.1" ry="5.9" fill="#25B050" opacity="0.46"/>
<ellipse cx="1239.9" cy="1240.9" rx="4.6" ry="3.5" fill="#25B050" opacity="0.47"/>
<ellipse cx="1204.2" cy="1236.9" rx="5.0" ry="4.9" fill="#25B050" opacity="0.51"/>
<ellipse cx="1213.8" cy="1252.8" rx="6.9" ry="5.4" fill="#25B050" opacity="0.67"/>
<ellipse cx="1346.2" cy="1246.0" rx="5.7" ry="4.6" fill="#2BB060" opacity="0.77"/>
<ellipse cx="1359.2" cy="1249.1" rx="5.8" ry="4.5" fill="#2BB060" opacity="0.75"/>
<ellipse cx="1350.2" cy="1268.4" rx="4.7" ry="4.2" fill="#2BB060" opacity="0.75"/>
<ellipse cx="1354.3" cy="1263.6" rx="4.2" ry="3.2" fill="#2BB060" opacity="0.55"/>
<ellipse cx="1359.7" cy="1248.4" rx="6.0" ry="4.9" fill="#2BB060" opacity="0.70"/>
<ellipse cx="1351.6" cy="1237.7" rx="5.8" ry="5.5" fill="#2BB060" opacity="0.50"/>
<path d="M1230.4,1225.8 L1241.2,1233.9 L1246.6,1253.0 L1254.8,1269.3 L1252.1,1285.5 L1260.2,1280.1 L1271.1,1269.3 L1268.4,1258.4 L1257.5,1242.1 L1252.1,1225.8 L1241.2,1228.5" fill="none" stroke="#FF9A20" stroke-width="4.5" stroke-linecap="round" stroke-linejoin="round"/>
<path d="M1233.1,1227.2 L1242.6,1236.7 L1247.2,1253.0 L1255.3,1270.6" fill="none" stroke="#FFE860" stroke-width="3" stroke-linecap="round" stroke-linejoin="round"/>
<path d="M1250.7,1242.1 L1256.2,1258.4 L1258.9,1274.7" fill="none" stroke="#40D040" stroke-width="3.5" stroke-linecap="round"/>
</g></g>
<rect x="1256.20" y="1308.60" width="103.70" height="48.90" fill="#000" />
<g clip-path="url(#cg2)"><g filter="url(#b2)">
<ellipse cx="1427.9" cy="1217.1" rx="6.5" ry="6.4" fill="#1418A8" opacity="0.75"/>
<ellipse cx="1487.7" cy="1252.6" rx="5.7" ry="5.6" fill="#1418A8" opacity="0.71"/>
<ellipse cx="1497.3" cy="1244.7" rx="5.7" ry="4.6" fill="#1418A8" opacity="0.67"/>
<ellipse cx="1468.0" cy="1254.5" rx="5.0" ry="4.1" fill="#1418A8" opacity="0.82"/>
<ellipse cx="1479.1" cy="1231.0" rx="6.5" ry="5.1" fill="#1418A8" opacity="0.70"/>
<ellipse cx="1478.3" cy="1260.0" rx="6.7" ry="5.4" fill="#1418A8" opacity="0.54"/>
<ellipse cx="1548.4" cy="1251.0" rx="5.2" ry="5.2" fill="#1418A8" opacity="0.67"/>
<ellipse cx="1460.5" cy="1230.3" rx="6.9" ry="6.3" fill="#1418A8" opacity="0.84"/>
<ellipse cx="1509.5" cy="1235.0" rx="5.4" ry="4.3" fill="#1418A8" opacity="0.51"/>
<ellipse cx="1515.3" cy="1272.9" rx="6.0" ry="4.5" fill="#1418A8" opacity="0.72"/>
<ellipse cx="1453.2" cy="1290.2" rx="6.5" ry="5.7" fill="#1418A8" opacity="0.58"/>
<ellipse cx="1411.0" cy="1264.7" rx="4.6" ry="4.6" fill="#1418A8" opacity="0.46"/>
<ellipse cx="1475.9" cy="1195.5" rx="4.5" ry="4.3" fill="#1418A8" opacity="0.60"/>
<ellipse cx="1469.5" cy="1254.9" rx="4.6" ry="3.7" fill="#1418A8" opacity="0.83"/>
<ellipse cx="1498.4" cy="1313.8" rx="6.8" ry="6.7" fill="#1418A8" opacity="0.59"/>
<ellipse cx="1441.4" cy="1297.0" rx="6.4" ry="5.0" fill="#1418A8" opacity="0.75"/>
<ellipse cx="1497.1" cy="1197.7" rx="4.6" ry="4.5" fill="#1418A8" opacity="0.49"/>
<ellipse cx="1443.1" cy="1302.7" rx="6.8" ry="5.7" fill="#1418A8" opacity="0.82"/>
<ellipse cx="1434.1" cy="1247.4" rx="5.3" ry="4.2" fill="#1418A8" opacity="0.48"/>
<ellipse cx="1514.4" cy="1303.4" rx="7.0" ry="5.5" fill="#1418A8" opacity="0.47"/>
<ellipse cx="1532.8" cy="1253.9" rx="5.5" ry="4.5" fill="#1418A8" opacity="0.69"/>
<ellipse cx="1500.3" cy="1217.3" rx="5.6" ry="4.2" fill="#1418A8" opacity="0.82"/>
<ellipse cx="1529.6" cy="1267.8" rx="6.6" ry="5.2" fill="#1418A8" opacity="0.74"/>
<ellipse cx="1534.9" cy="1241.3" rx="6.5" ry="5.0" fill="#1418A8" opacity="0.62"/>
<ellipse cx="1518.4" cy="1308.4" rx="5.2" ry="4.5" fill="#1418A8" opacity="0.85"/>
<ellipse cx="1522.2" cy="1204.2" rx="5.6" ry="4.9" fill="#1418A8" opacity="0.74"/>
<ellipse cx="1434.3" cy="1262.8" rx="5.5" ry="4.3" fill="#1418A8" opacity="0.60"/>
<ellipse cx="1552.2" cy="1253.1" rx="6.1" ry="5.3" fill="#1418A8" opacity="0.59"/>
<ellipse cx="1510.5" cy="1276.9" rx="6.5" ry="6.2" fill="#1418A8" opacity="0.59"/>
<ellipse cx="1491.4" cy="1199.7" rx="6.2" ry="5.7" fill="#1418A8" opacity="0.75"/>
<ellipse cx="1433.2" cy="1301.2" rx="5.2" ry="4.5" fill="#1418A8" opacity="0.76"/>
<ellipse cx="1460.7" cy="1223.7" rx="6.9" ry="6.3" fill="#1418A8" opacity="0.68"/>
<ellipse cx="1533.5" cy="1261.7" rx="5.1" ry="4.7" fill="#1418A8" opacity="0.64"/>
<ellipse cx="1501.5" cy="1208.0" rx="6.5" ry="5.4" fill="#1418A8" opacity="0.71"/>
<ellipse cx="1470.6" cy="1196.3" rx="5.4" ry="5.2" fill="#1418A8" opacity="0.80"/>
<ellipse cx="1446.9" cy="1195.8" rx="6.9" ry="6.1" fill="#1418A8" opacity="0.66"/>
<ellipse cx="1511.9" cy="1311.8" rx="6.8" ry="5.9" fill="#1418A8" opacity="0.73"/>
<ellipse cx="1463.4" cy="1200.9" rx="4.9" ry="4.7" fill="#1418A8" opacity="0.68"/>
<ellipse cx="1450.4" cy="1220.0" rx="6.1" ry="5.7" fill="#1418A8" opacity="0.70"/>
<ellipse cx="1473.6" cy="1246.9" rx="4.9" ry="4.2" fill="#1418A8" opacity="0.71"/>
<ellipse cx="1488.5" cy="1313.3" rx="6.1" ry="4.6" fill="#1418A8" opacity="0.64"/>
<ellipse cx="1478.7" cy="1273.6" rx="4.8" ry="4.0" fill="#1418A8" opacity="0.52"/>
<ellipse cx="1481.1" cy="1270.0" rx="5.7" ry="4.8" fill="#1418A8" opacity="0.69"/>
<ellipse cx="1443.9" cy="1240.2" rx="6.8" ry="5.1" fill="#1418A8" opacity="0.61"/>
<ellipse cx="1467.1" cy="1300.8" rx="4.8" ry="4.6" fill="#1418A8" opacity="0.60"/>
<ellipse cx="1535.5" cy="1270.0" rx="4.7" ry="4.2" fill="#1418A8" opacity="0.59"/>
<ellipse cx="1409.3" cy="1225.6" rx="6.5" ry="5.6" fill="#1418A8" opacity="0.78"/>
<ellipse cx="1446.3" cy="1225.8" rx="4.9" ry="4.4" fill="#1418A8" opacity="0.68"/>
<ellipse cx="1550.0" cy="1240.2" rx="6.0" ry="5.0" fill="#1418A8" opacity="0.81"/>
<ellipse cx="1501.6" cy="1258.1" rx="5.9" ry="5.3" fill="#1418A8" opacity="0.51"/>
<ellipse cx="1425.4" cy="1211.4" rx="5.4" ry="4.7" fill="#1418A8" opacity="0.54"/>
<ellipse cx="1456.2" cy="1322.8" rx="5.4" ry="5.4" fill="#1418A8" opacity="0.82"/>
<ellipse cx="1443.2" cy="1238.4" rx="7.0" ry="6.1" fill="#1418A8" opacity="0.62"/>
<ellipse cx="1443.4" cy="1319.2" rx="5.7" ry="4.7" fill="#1418A8" opacity="0.64"/>
<ellipse cx="1520.3" cy="1295.2" rx="5.6" ry="4.6" fill="#1418A8" opacity="0.76"/>
<ellipse cx="1480.2" cy="1251.1" rx="5.8" ry="4.8" fill="#1418A8" opacity="0.82"/>
<ellipse cx="1483.7" cy="1225.0" rx="5.2" ry="4.1" fill="#1418A8" opacity="0.85"/>
<ellipse cx="1459.7" cy="1309.1" rx="5.7" ry="5.2" fill="#1418A8" opacity="0.69"/>
<ellipse cx="1474.9" cy="1234.6" rx="6.4" ry="5.3" fill="#1418A8" opacity="0.66"/>
<ellipse cx="1454.1" cy="1289.8" rx="5.8" ry="5.0" fill="#1418A8" opacity="0.59"/>
<ellipse cx="1474.1" cy="1205.8" rx="4.6" ry="3.7" fill="#1418A8" opacity="0.63"/>
<ellipse cx="1539.6" cy="1225.9" rx="5.9" ry="4.4" fill="#1418A8" opacity="0.76"/>
<ellipse cx="1422.8" cy="1280.6" rx="6.3" ry="5.7" fill="#1418A8" opacity="0.64"/>
<ellipse cx="1517.2" cy="1235.8" rx="5.5" ry="5.3" fill="#1418A8" opacity="0.53"/>
<ellipse cx="1455.6" cy="1317.3" rx="4.7" ry="4.5" fill="#1418A8" opacity="0.73"/>
<ellipse cx="1437.9" cy="1272.9" rx="6.5" ry="6.3" fill="#1418A8" opacity="0.51"/>
<ellipse cx="1418.7" cy="1264.8" rx="5.7" ry="4.8" fill="#1418A8" opacity="0.51"/>
<ellipse cx="1415.7" cy="1226.5" rx="4.7" ry="3.8" fill="#1418A8" opacity="0.78"/>
<ellipse cx="1492.5" cy="1204.5" rx="4.6" ry="4.2" fill="#1418A8" opacity="0.84"/>
<ellipse cx="1541.3" cy="1257.4" rx="4.6" ry="4.4" fill="#1418A8" opacity="0.54"/>
<ellipse cx="1429.6" cy="1205.4" rx="6.3" ry="4.9" fill="#1418A8" opacity="0.57"/>
<ellipse cx="1502.3" cy="1245.0" rx="6.0" ry="5.1" fill="#1418A8" opacity="0.51"/>
<ellipse cx="1464.3" cy="1248.1" rx="4.8" ry="4.0" fill="#1418A8" opacity="0.48"/>
<ellipse cx="1531.3" cy="1276.2" rx="6.4" ry="6.2" fill="#1418A8" opacity="0.50"/>
<ellipse cx="1436.2" cy="1273.9" rx="6.0" ry="5.2" fill="#1418A8" opacity="0.83"/>
<ellipse cx="1463.0" cy="1269.4" rx="6.2" ry="4.9" fill="#1418A8" opacity="0.70"/>
<ellipse cx="1401.6" cy="1255.6" rx="5.9" ry="5.3" fill="#1418A8" opacity="0.56"/>
<ellipse cx="1438.7" cy="1247.1" rx="6.4" ry="5.6" fill="#1418A8" opacity="0.50"/>
<ellipse cx="1480.6" cy="1299.2" rx="6.3" ry="5.0" fill="#1418A8" opacity="0.74"/>
<ellipse cx="1463.2" cy="1241.6" rx="6.2" ry="4.8" fill="#1418A8" opacity="0.50"/>
<ellipse cx="1444.4" cy="1239.5" rx="6.7" ry="5.8" fill="#1418A8" opacity="0.58"/>
<ellipse cx="1479.9" cy="1246.8" rx="6.3" ry="4.8" fill="#1418A8" opacity="0.51"/>
<ellipse cx="1537.5" cy="1241.3" rx="5.1" ry="3.9" fill="#1418A8" opacity="0.84"/>
<ellipse cx="1440.1" cy="1205.0" rx="4.8" ry="4.4" fill="#1418A8" opacity="0.59"/>
<ellipse cx="1480.2" cy="1297.1" rx="6.0" ry="5.1" fill="#1418A8" opacity="0.60"/>
<ellipse cx="1522.5" cy="1304.9" rx="6.1" ry="5.8" fill="#1418A8" opacity="0.62"/>
<ellipse cx="1509.4" cy="1218.7" rx="6.0" ry="5.3" fill="#1418A8" opacity="0.75"/>
<ellipse cx="1456.8" cy="1270.9" rx="4.6" ry="3.7" fill="#1418A8" opacity="0.47"/>
<ellipse cx="1517.5" cy="1227.8" rx="6.4" ry="4.8" fill="#1418A8" opacity="0.64"/>
<ellipse cx="1523.2" cy="1223.8" rx="5.6" ry="4.8" fill="#1418A8" opacity="0.49"/>
<ellipse cx="1493.5" cy="1280.4" rx="5.4" ry="4.6" fill="#1418A8" opacity="0.80"/>
<ellipse cx="1498.7" cy="1286.0" rx="5.2" ry="4.1" fill="#1418A8" opacity="0.56"/>
<ellipse cx="1481.0" cy="1305.0" rx="4.6" ry="4.5" fill="#1418A8" opacity="0.60"/>
<ellipse cx="1535.8" cy="1236.6" rx="6.2" ry="5.4" fill="#1418A8" opacity="0.83"/>
<ellipse cx="1523.1" cy="1295.5" rx="5.2" ry="4.8" fill="#1418A8" opacity="0.74"/>
<ellipse cx="1494.1" cy="1284.1" rx="4.6" ry="3.7" fill="#1418A8" opacity="0.48"/>
<ellipse cx="1413.4" cy="1297.1" rx="5.4" ry="4.5" fill="#1418A8" opacity="0.64"/>
<ellipse cx="1462.2" cy="1314.9" rx="6.3" ry="5.0" fill="#1418A8" opacity="0.55"/>
<ellipse cx="1440.5" cy="1199.8" rx="6.1" ry="5.2" fill="#1418A8" opacity="0.84"/>
<ellipse cx="1495.2" cy="1258.7" rx="6.4" ry="5.5" fill="#1418A8" opacity="0.47"/>
<ellipse cx="1402.0" cy="1237.7" rx="5.8" ry="4.9" fill="#1418A8" opacity="0.49"/>
<ellipse cx="1542.7" cy="1285.9" rx="5.7" ry="5.6" fill="#1418A8" opacity="0.47"/>
<ellipse cx="1476.7" cy="1273.3" rx="5.5" ry="4.2" fill="#1418A8" opacity="0.55"/>
<ellipse cx="1439.9" cy="1278.7" rx="4.6" ry="3.5" fill="#1418A8" opacity="0.84"/>
<ellipse cx="1499.9" cy="1301.8" rx="5.5" ry="4.9" fill="#1418A8" opacity="0.48"/>
<ellipse cx="1466.0" cy="1278.6" rx="5.9" ry="5.7" fill="#1418A8" opacity="0.69"/>
<ellipse cx="1498.5" cy="1233.3" rx="4.5" ry="4.0" fill="#1418A8" opacity="0.64"/>
<ellipse cx="1432.9" cy="1239.9" rx="6.1" ry="5.6" fill="#1418A8" opacity="0.82"/>
<ellipse cx="1457.5" cy="1300.6" rx="6.6" ry="5.3" fill="#1418A8" opacity="0.50"/>
<ellipse cx="1467.3" cy="1276.6" rx="6.4" ry="6.1" fill="#1418A8" opacity="0.58"/>
</g><g filter="url(#b1)">
<path d="M1464.9,1213.6 L1481.2,1217.6 L1494.8,1225.8 L1503.0,1231.2" fill="none" stroke="#FF2848" stroke-width="4" stroke-linecap="round" stroke-linejoin="round" opacity="0.95"/>
<path d="M1511.1,1238.0 L1503.0,1247.5 L1494.8,1258.4 L1489.4,1266.5" fill="none" stroke="#FF2848" stroke-width="5" stroke-linecap="round" stroke-linejoin="round" opacity="0.95"/>
<path d="M1462.2,1242.1 L1467.6,1253.0 L1473.1,1266.5 L1475.8,1280.1" fill="none" stroke="#FF2848" stroke-width="2.5" stroke-linecap="round" stroke-linejoin="round" opacity="0.95"/>
<path d="M1500.2,1285.5 L1508.4,1293.7 L1516.5,1299.1" fill="none" stroke="#FF2848" stroke-width="2.5" stroke-linecap="round" stroke-linejoin="round" opacity="0.95"/>
<path d="M1456.8,1217.6 L1462.2,1231.2 L1467.6,1242.1" fill="none" stroke="#FF2848" stroke-width="2" stroke-linecap="round" stroke-linejoin="round" opacity="0.95"/>
<path d="M1481.2,1255.7 L1486.7,1242.1 L1492.1,1236.7" fill="none" stroke="#FF2848" stroke-width="2" stroke-linecap="round" stroke-linejoin="round" opacity="0.95"/>
</g></g>
<rect x="1477.20" y="1308.60" width="99.60" height="48.90" fill="#000" />
<g clip-path="url(#cg3)">
<g filter="url(#b3)"><ellipse cx="1030" cy="1465" rx="60" ry="85" fill="#161412" opacity="0.45"/></g>
<g filter="url(#b1)">
<ellipse cx="1036.6" cy="1520.7" rx="5.4" ry="4.5" fill="#2058F0" opacity="0.87"/>
<ellipse cx="1043.8" cy="1518.3" rx="5.7" ry="5.0" fill="#2058F0" opacity="0.80"/>
<ellipse cx="995.6" cy="1446.6" rx="6.7" ry="5.2" fill="#2058F0" opacity="0.99"/>
<ellipse cx="984.2" cy="1451.5" rx="6.0" ry="5.5" fill="#2058F0" opacity="0.91"/>
<ellipse cx="1024.5" cy="1430.3" rx="6.2" ry="6.2" fill="#2058F0" opacity="0.95"/>
<ellipse cx="1050.3" cy="1443.0" rx="6.1" ry="5.4" fill="#2058F0" opacity="0.97"/>
<ellipse cx="975.3" cy="1470.6" rx="6.1" ry="5.9" fill="#2058F0" opacity="0.80"/>
<ellipse cx="1068.5" cy="1494.0" rx="7.3" ry="6.8" fill="#2058F0" opacity="0.88"/>
<ellipse cx="1022.5" cy="1434.7" rx="6.5" ry="5.0" fill="#2058F0" opacity="0.74"/>
<ellipse cx="977.5" cy="1492.8" rx="6.0" ry="4.6" fill="#2058F0" opacity="0.91"/>
<ellipse cx="978.3" cy="1471.0" rx="5.8" ry="4.9" fill="#2058F0" opacity="0.77"/>
<ellipse cx="1068.5" cy="1498.5" rx="7.4" ry="6.8" fill="#2058F0" opacity="0.96"/>
<ellipse cx="977.8" cy="1500.9" rx="5.6" ry="5.2" fill="#2058F0" opacity="0.87"/>
<ellipse cx="1057.1" cy="1454.6" rx="7.0" ry="5.5" fill="#2058F0" opacity="0.86"/>
<ellipse cx="1061.6" cy="1465.9" rx="5.6" ry="4.6" fill="#2058F0" opacity="0.80"/>
<ellipse cx="1069.1" cy="1496.8" rx="7.0" ry="6.0" fill="#2058F0" opacity="0.81"/>
<ellipse cx="985.8" cy="1457.3" rx="5.1" ry="4.9" fill="#2058F0" opacity="0.79"/>
<ellipse cx="970.6" cy="1478.5" rx="7.4" ry="6.5" fill="#2058F0" opacity="0.76"/>
<ellipse cx="1007.6" cy="1525.3" rx="7.2" ry="5.8" fill="#2058F0" opacity="0.95"/>
<ellipse cx="993.5" cy="1513.7" rx="5.4" ry="5.3" fill="#2058F0" opacity="1.00"/>
<ellipse cx="1036.4" cy="1522.5" rx="5.5" ry="5.3" fill="#2058F0" opacity="0.72"/>
<ellipse cx="1060.8" cy="1507.4" rx="5.8" ry="5.6" fill="#2058F0" opacity="0.96"/>
<ellipse cx="1012.1" cy="1437.6" rx="6.7" ry="6.6" fill="#2058F0" opacity="0.83"/>
<ellipse cx="1060.8" cy="1498.2" rx="5.8" ry="5.4" fill="#2058F0" opacity="0.76"/>
<ellipse cx="1040.6" cy="1516.6" rx="6.7" ry="6.3" fill="#2058F0" opacity="0.81"/>
<ellipse cx="995.3" cy="1436.3" rx="6.5" ry="5.2" fill="#2058F0" opacity="0.79"/>
<ellipse cx="1065.7" cy="1457.2" rx="5.7" ry="5.2" fill="#2058F0" opacity="0.73"/>
<ellipse cx="1068.2" cy="1473.2" rx="6.3" ry="5.6" fill="#2058F0" opacity="0.71"/>
<ellipse cx="985.7" cy="1452.7" rx="5.6" ry="5.4" fill="#2058F0" opacity="0.73"/>
<ellipse cx="1011.1" cy="1524.6" rx="5.6" ry="4.6" fill="#2058F0" opacity="0.86"/>
<ellipse cx="1041.9" cy="1523.2" rx="7.5" ry="5.7" fill="#2058F0" opacity="0.84"/>
<ellipse cx="1022.2" cy="1433.9" rx="7.3" ry="6.4" fill="#2058F0" opacity="0.75"/>
<ellipse cx="976.4" cy="1461.9" rx="5.9" ry="5.4" fill="#2058F0" opacity="0.93"/>
<ellipse cx="975.1" cy="1473.2" rx="7.1" ry="6.6" fill="#2058F0" opacity="0.86"/>
<ellipse cx="1015.8" cy="1388.8" rx="7" ry="5.5" fill="#2058F0"/>
<path d="M988.6,1451.2 L1002.2,1437.6 L1021.2,1433.6 L1040.2,1443.1 L1056.5,1456.6 L1064.7,1475.7 L1059.3,1494.7 L1045.7,1511.0 L1026.7,1519.1 L1007.6,1513.7 L988.6,1497.4 L980.5,1475.7 Z" fill="#4A5620" fill-opacity="0.6" stroke="#FF9A18" stroke-width="7" stroke-linejoin="round"/>
<ellipse cx="1032.1" cy="1474.5" rx="7.3" ry="5.8" fill="#8A8A30" opacity="0.45"/>
<ellipse cx="1022.7" cy="1496.5" rx="7.3" ry="6.9" fill="#8A8A30" opacity="0.50"/>
<ellipse cx="1022.7" cy="1497.5" rx="5.7" ry="5.1" fill="#8A8A30" opacity="0.42"/>
<ellipse cx="1042.1" cy="1482.8" rx="7.1" ry="6.4" fill="#8A8A30" opacity="0.52"/>
<ellipse cx="1025.6" cy="1487.9" rx="5.1" ry="4.4" fill="#8A8A30" opacity="0.41"/>
<ellipse cx="1007.6" cy="1483.1" rx="7.4" ry="5.7" fill="#8A8A30" opacity="0.53"/>
<ellipse cx="1002.3" cy="1469.3" rx="7.4" ry="6.0" fill="#8A8A30" opacity="0.34"/>
<ellipse cx="1018.8" cy="1483.3" rx="5.9" ry="5.4" fill="#8A8A30" opacity="0.43"/>
<ellipse cx="1019.0" cy="1499.4" rx="5.3" ry="5.0" fill="#8A8A30" opacity="0.34"/>
<ellipse cx="1020.7" cy="1489.2" rx="7.1" ry="6.8" fill="#8A8A30" opacity="0.50"/>
<ellipse cx="1037.6" cy="1484.7" rx="6.1" ry="4.9" fill="#8A8A30" opacity="0.54"/>
<ellipse cx="1039.9" cy="1483.1" rx="7.3" ry="7.3" fill="#8A8A30" opacity="0.34"/>
<ellipse cx="997.8" cy="1484.7" rx="5.1" ry="4.1" fill="#8A8A30" opacity="0.52"/>
<ellipse cx="1032.1" cy="1491.6" rx="5.9" ry="5.0" fill="#8A8A30" opacity="0.32"/>
<ellipse cx="1048.3" cy="1484.0" rx="7.3" ry="6.8" fill="#8A8A30" opacity="0.36"/>
<ellipse cx="1020.6" cy="1498.8" rx="5.7" ry="5.0" fill="#8A8A30" opacity="0.53"/>
<ellipse cx="1011.1" cy="1489.4" rx="6.9" ry="6.3" fill="#3A8A40" opacity="0.31"/>
<ellipse cx="1003.8" cy="1490.0" rx="4.2" ry="3.5" fill="#3A8A40" opacity="0.44"/>
<ellipse cx="1034.2" cy="1463.0" rx="6.7" ry="5.8" fill="#3A8A40" opacity="0.38"/>
<ellipse cx="1029.9" cy="1464.6" rx="6.3" ry="5.1" fill="#3A8A40" opacity="0.37"/>
<ellipse cx="1028.8" cy="1495.6" rx="4.5" ry="3.6" fill="#3A8A40" opacity="0.34"/>
<ellipse cx="1006.9" cy="1480.9" rx="5.3" ry="5.3" fill="#3A8A40" opacity="0.44"/>
<ellipse cx="1028.7" cy="1469.1" rx="5.1" ry="4.0" fill="#3A8A40" opacity="0.44"/>
<ellipse cx="1012.1" cy="1488.3" rx="4.1" ry="3.2" fill="#3A8A40" opacity="0.35"/>
<path d="M988.6,1451.2 L1002.2,1437.6 L1021.2,1433.6 L1040.2,1443.1 L1056.5,1456.6 L1064.7,1475.7 L1059.3,1494.7 L1045.7,1511.0 L1026.7,1519.1 L1007.6,1513.7 L988.6,1497.4 L980.5,1475.7 Z" fill="none" stroke="#FFE050" stroke-width="2.5" stroke-linejoin="round" stroke-dasharray="9 6"/>
<path d="M996.8,1453.9 L1010.4,1445.8 L1026.7,1451.2 L1043.0,1462.1 L1048.4,1481.1 L1040.2,1497.4 L1023.9,1502.8 L1007.6,1494.7 L999.5,1478.4 Z" fill="none" stroke="#F0A030" stroke-width="2.5" stroke-linejoin="round" opacity="0.7"/>
<circle cx="1007.6" cy="1436.3" r="4" fill="#FFC0C8"/>
<circle cx="1032.1" cy="1439.0" r="4" fill="#FFC0C8"/>
<circle cx="1056.5" cy="1489.2" r="4" fill="#FFC0C8"/>
<circle cx="983.2" cy="1483.8" r="4" fill="#FFC0C8"/>
<circle cx="1040.2" cy="1517.8" r="4" fill="#FFC0C8"/>
<circle cx="1021.2" cy="1434.9" r="4" fill="#FFC0C8"/>
<circle cx="1051.1" cy="1453.9" r="4" fill="#FFC0C8"/>
</g></g>
<g clip-path="url(#cg4)"><g filter="url(#b1)">
<ellipse cx="1249.8" cy="1519.3" rx="5.3" ry="4.8" fill="#28B040" opacity="0.57"/>
<ellipse cx="1252.3" cy="1486.2" rx="6.9" ry="5.6" fill="#28B040" opacity="0.43"/>
<ellipse cx="1281.3" cy="1483.1" rx="6.9" ry="6.0" fill="#28B040" opacity="0.57"/>
<ellipse cx="1270.3" cy="1515.0" rx="7.0" ry="6.2" fill="#28B040" opacity="0.61"/>
<ellipse cx="1241.0" cy="1473.3" rx="6.7" ry="6.0" fill="#28B040" opacity="0.46"/>
<ellipse cx="1292.6" cy="1492.6" rx="5.7" ry="5.3" fill="#28B040" opacity="0.66"/>
<ellipse cx="1236.3" cy="1439.1" rx="5.4" ry="5.1" fill="#28B040" opacity="0.51"/>
<ellipse cx="1290.1" cy="1466.3" rx="4.3" ry="3.4" fill="#28B040" opacity="0.43"/>
<ellipse cx="1279.2" cy="1477.2" rx="6.2" ry="5.1" fill="#28B040" opacity="0.53"/>
<ellipse cx="1224.7" cy="1502.7" rx="6.0" ry="5.4" fill="#28B040" opacity="0.67"/>
<ellipse cx="1227.0" cy="1441.9" rx="7.0" ry="7.0" fill="#28B040" opacity="0.58"/>
<ellipse cx="1271.1" cy="1522.1" rx="7.4" ry="7.2" fill="#28B040" opacity="0.55"/>
<ellipse cx="1241.8" cy="1462.5" rx="6.9" ry="6.2" fill="#28B040" opacity="0.45"/>
<ellipse cx="1289.6" cy="1501.2" rx="7.5" ry="5.8" fill="#28B040" opacity="0.63"/>
<ellipse cx="1230.6" cy="1493.9" rx="5.0" ry="4.7" fill="#28B040" opacity="0.66"/>
<ellipse cx="1284.7" cy="1494.3" rx="4.2" ry="3.9" fill="#28B040" opacity="0.47"/>
<ellipse cx="1283.3" cy="1451.7" rx="5.8" ry="5.8" fill="#28B040" opacity="0.46"/>
<ellipse cx="1281.3" cy="1501.3" rx="4.1" ry="3.3" fill="#28B040" opacity="0.49"/>
<ellipse cx="1231.8" cy="1471.9" rx="4.1" ry="4.0" fill="#28B040" opacity="0.46"/>
<ellipse cx="1292.8" cy="1472.3" rx="5.3" ry="4.6" fill="#28B040" opacity="0.53"/>
<ellipse cx="1223.1" cy="1454.9" rx="6.0" ry="5.4" fill="#28B040" opacity="0.68"/>
<ellipse cx="1214.2" cy="1482.6" rx="6.5" ry="5.3" fill="#28B040" opacity="0.46"/>
<ellipse cx="1282.7" cy="1479.2" rx="5.9" ry="4.5" fill="#28B040" opacity="0.50"/>
<ellipse cx="1240.8" cy="1480.7" rx="6.2" ry="5.6" fill="#28B040" opacity="0.37"/>
<ellipse cx="1223.2" cy="1460.5" rx="6.4" ry="5.3" fill="#28B040" opacity="0.60"/>
<ellipse cx="1246.4" cy="1476.9" rx="4.2" ry="3.9" fill="#28B040" opacity="0.69"/>
<ellipse cx="1246.8" cy="1516.4" rx="6.1" ry="5.0" fill="#28B040" opacity="0.48"/>
<ellipse cx="1235.3" cy="1510.9" rx="6.1" ry="5.0" fill="#28B040" opacity="0.48"/>
<ellipse cx="1248.1" cy="1476.2" rx="6.0" ry="5.6" fill="#28B040" opacity="0.46"/>
<ellipse cx="1254.7" cy="1526.4" rx="4.8" ry="3.9" fill="#28B040" opacity="0.50"/>
<ellipse cx="1241.9" cy="1469.5" rx="5.1" ry="4.3" fill="#28B040" opacity="0.64"/>
<ellipse cx="1204.2" cy="1500.8" rx="4.6" ry="3.8" fill="#28B040" opacity="0.58"/>
<ellipse cx="1272.2" cy="1462.7" rx="4.8" ry="3.7" fill="#28B040" opacity="0.54"/>
<ellipse cx="1263.3" cy="1524.2" rx="6.9" ry="5.5" fill="#28B040" opacity="0.45"/>
<ellipse cx="1261.1" cy="1448.0" rx="6.8" ry="5.7" fill="#28B040" opacity="0.40"/>
<ellipse cx="1235.4" cy="1525.3" rx="4.9" ry="4.1" fill="#28B040" opacity="0.50"/>
<ellipse cx="1219.0" cy="1498.8" rx="7.2" ry="5.7" fill="#28B040" opacity="0.35"/>
<ellipse cx="1291.0" cy="1468.3" rx="7.5" ry="6.4" fill="#28B040" opacity="0.68"/>
<ellipse cx="1268.2" cy="1474.0" rx="6.6" ry="6.3" fill="#28B040" opacity="0.58"/>
<ellipse cx="1220.3" cy="1480.9" rx="5.2" ry="4.2" fill="#28B040" opacity="0.37"/>
<ellipse cx="1224.3" cy="1470.4" rx="6.8" ry="5.2" fill="#28B040" opacity="0.67"/>
<ellipse cx="1230.4" cy="1440.7" rx="7.1" ry="7.0" fill="#28B040" opacity="0.55"/>
<ellipse cx="1290.0" cy="1487.4" rx="4.6" ry="3.8" fill="#28B040" opacity="0.58"/>
<ellipse cx="1215.2" cy="1479.2" rx="7.3" ry="6.6" fill="#28B040" opacity="0.47"/>
<ellipse cx="1246.3" cy="1528.6" rx="5.7" ry="5.4" fill="#28B040" opacity="0.47"/>
<ellipse cx="1283.5" cy="1450.6" rx="6.1" ry="5.0" fill="#30C040" opacity="0.61"/>
<ellipse cx="1312.1" cy="1455.7" rx="5.1" ry="4.8" fill="#30C040" opacity="0.72"/>
<ellipse cx="1302.6" cy="1433.0" rx="5.0" ry="4.2" fill="#30C040" opacity="0.52"/>
<ellipse cx="1309.3" cy="1425.0" rx="6.3" ry="5.6" fill="#30C040" opacity="0.52"/>
<ellipse cx="1291.6" cy="1442.8" rx="4.1" ry="3.2" fill="#30C040" opacity="0.68"/>
<ellipse cx="1312.0" cy="1437.9" rx="5.3" ry="4.7" fill="#30C040" opacity="0.54"/>
<ellipse cx="1297.0" cy="1422.2" rx="6.2" ry="5.7" fill="#30C040" opacity="0.54"/>
<ellipse cx="1303.3" cy="1448.2" rx="6.1" ry="5.2" fill="#30C040" opacity="0.62"/>
<ellipse cx="1307.0" cy="1425.8" rx="4.9" ry="4.1" fill="#30C040" opacity="0.56"/>
<ellipse cx="1303.3" cy="1436.0" rx="5.9" ry="5.3" fill="#30C040" opacity="0.74"/>
<ellipse cx="1311.9" cy="1432.8" rx="6.0" ry="5.9" fill="#30C040" opacity="0.56"/>
<ellipse cx="1293.3" cy="1415.3" rx="6.9" ry="6.6" fill="#30C040" opacity="0.57"/>
<ellipse cx="1246.5" cy="1489.2" rx="5.0" ry="3.9" fill="#1C40F0" opacity="0.72"/>
<ellipse cx="1202.1" cy="1503.3" rx="6.0" ry="5.6" fill="#1C40F0" opacity="0.77"/>
<ellipse cx="1216.8" cy="1462.8" rx="4.4" ry="3.4" fill="#1C40F0" opacity="0.76"/>
<ellipse cx="1290.0" cy="1446.0" rx="6.0" ry="5.7" fill="#1C40F0" opacity="0.76"/>
<ellipse cx="1229.0" cy="1514.2" rx="5.8" ry="5.6" fill="#1C40F0" opacity="0.96"/>
<ellipse cx="1281.6" cy="1494.2" rx="5.7" ry="5.0" fill="#1C40F0" opacity="0.75"/>
<ellipse cx="1228.8" cy="1473.0" rx="6.3" ry="6.1" fill="#1C40F0" opacity="0.86"/>
<ellipse cx="1228.7" cy="1524.4" rx="5.4" ry="5.3" fill="#1C40F0" opacity="0.95"/>
<ellipse cx="1209.7" cy="1468.0" rx="5.5" ry="4.7" fill="#1C40F0" opacity="0.75"/>
<ellipse cx="1228.2" cy="1520.9" rx="4.1" ry="3.1" fill="#1C40F0" opacity="0.89"/>
<ellipse cx="1237.4" cy="1513.1" rx="5.2" ry="4.3" fill="#1C40F0" opacity="1.00"/>
<ellipse cx="1256.9" cy="1506.3" rx="4.5" ry="4.1" fill="#1C40F0" opacity="0.78"/>
<ellipse cx="1215.7" cy="1510.8" rx="4.8" ry="4.3" fill="#1C40F0" opacity="0.97"/>
<ellipse cx="1256.0" cy="1478.8" rx="4.6" ry="4.3" fill="#1C40F0" opacity="0.88"/>
<ellipse cx="1247.5" cy="1504.4" rx="4.4" ry="3.8" fill="#1C40F0" opacity="0.71"/>
<ellipse cx="1228.1" cy="1416.3" rx="6.4" ry="6.0" fill="#1C40F0" opacity="0.99"/>
<ellipse cx="1274.4" cy="1473.7" rx="6.4" ry="6.1" fill="#1C40F0" opacity="0.82"/>
<ellipse cx="1285.6" cy="1453.5" rx="6.0" ry="5.0" fill="#1C40F0" opacity="0.76"/>
<ellipse cx="1225.9" cy="1477.6" rx="5.0" ry="4.9" fill="#1C40F0" opacity="0.80"/>
<ellipse cx="1256.6" cy="1470.7" rx="4.4" ry="4.2" fill="#1C40F0" opacity="0.81"/>
<ellipse cx="1240.7" cy="1488.1" rx="6.5" ry="5.5" fill="#1C40F0" opacity="0.76"/>
<ellipse cx="1257.0" cy="1475.1" rx="4.4" ry="4.1" fill="#1C40F0" opacity="0.74"/>
<ellipse cx="1282.3" cy="1480.7" rx="4.6" ry="4.6" fill="#1C40F0" opacity="0.74"/>
<ellipse cx="1197.4" cy="1460.4" rx="5.0" ry="5.0" fill="#1C40F0" opacity="0.84"/>
<ellipse cx="1246.8" cy="1508.4" rx="4.1" ry="3.5" fill="#1C40F0" opacity="0.77"/>
<ellipse cx="1283.5" cy="1434.9" rx="5.2" ry="4.0" fill="#1C40F0" opacity="0.78"/>
<ellipse cx="1246.2" cy="1497.3" rx="4.6" ry="4.4" fill="#1C40F0" opacity="0.74"/>
<ellipse cx="1295.3" cy="1488.3" rx="5.4" ry="5.4" fill="#1C40F0" opacity="0.82"/>
<ellipse cx="1281.1" cy="1441.7" rx="6.0" ry="5.6" fill="#1C40F0" opacity="0.85"/>
<ellipse cx="1266.1" cy="1485.2" rx="6.2" ry="6.0" fill="#1C40F0" opacity="0.98"/>
<ellipse cx="1221.9" cy="1511.6" rx="6.0" ry="5.5" fill="#1C40F0" opacity="0.94"/>
<ellipse cx="1201.2" cy="1461.5" rx="5.7" ry="4.7" fill="#1C40F0" opacity="0.98"/>
<ellipse cx="1259.4" cy="1465.6" rx="6.4" ry="6.4" fill="#1C40F0" opacity="0.90"/>
<ellipse cx="1295.1" cy="1485.7" rx="4.3" ry="4.3" fill="#1C40F0" opacity="0.90"/>
<ellipse cx="1265.9" cy="1479.1" rx="5.6" ry="5.0" fill="#1C40F0" opacity="0.92"/>
<ellipse cx="1268.1" cy="1457.7" rx="4.0" ry="3.9" fill="#1C40F0" opacity="0.70"/>
<ellipse cx="1258.4" cy="1455.7" rx="6.0" ry="5.7" fill="#1C40F0" opacity="0.96"/>
<ellipse cx="1196.0" cy="1452.4" rx="4.5" ry="4.1" fill="#1C40F0" opacity="0.80"/>
<ellipse cx="1282.6" cy="1436.8" rx="5.2" ry="4.6" fill="#1C40F0" opacity="0.71"/>
<ellipse cx="1286.4" cy="1479.9" rx="5.2" ry="5.0" fill="#1C40F0" opacity="0.88"/>
<ellipse cx="1266.3" cy="1497.7" rx="5.9" ry="5.2" fill="#1C40F0" opacity="0.70"/>
<ellipse cx="1271.2" cy="1423.5" rx="4.2" ry="3.7" fill="#1C40F0" opacity="0.81"/>
<ellipse cx="1162.5" cy="1508.3" rx="6" ry="5" fill="#1C40F0"/>
<ellipse cx="1235.8" cy="1546.3" rx="6" ry="5" fill="#1C40F0"/>
<ellipse cx="1230.4" cy="1551.7" rx="6" ry="5" fill="#1C40F0"/>
<ellipse cx="1282.0" cy="1521.8" rx="6" ry="5" fill="#1C40F0"/>
<ellipse cx="1273.8" cy="1396.9" rx="6" ry="5" fill="#1C40F0"/>
<ellipse cx="1243.9" cy="1394.2" rx="6" ry="5" fill="#1C40F0"/>
<ellipse cx="1186.9" cy="1448.5" rx="6" ry="5" fill="#1C40F0"/>
<ellipse cx="1200.5" cy="1429.5" rx="6" ry="5" fill="#1C40F0"/>
<ellipse cx="1257.5" cy="1424.1" rx="24" ry="18" fill="#050302"/>
<path d="M1243.9,1396.9 L1260.2,1402.3 L1276.5,1405.0 L1284.7,1418.6 L1282.0,1432.2 L1271.1,1443.1 L1252.1,1445.8 L1238.5,1440.4 L1227.6,1429.5 L1214.1,1434.9 L1205.9,1440.4 L1219.5,1426.8 L1235.8,1424.1" fill="none" stroke="#FF8A20" stroke-width="4" stroke-linejoin="round" stroke-linecap="round"/>
<path d="M1203.2,1437.6 L1216.8,1433.6 L1227.6,1426.8" fill="none" stroke="#FFD040" stroke-width="5" stroke-linecap="round"/>
</g></g>
<g clip-path="url(#cg5)"><g filter="url(#b1)">
<ellipse cx="1410.3" cy="1481.9" rx="4.3" ry="4.1" fill="#1A28F0" opacity="0.75"/>
<ellipse cx="1387.5" cy="1468.7" rx="4.2" ry="3.7" fill="#1A28F0" opacity="0.90"/>
<ellipse cx="1513.6" cy="1483.2" rx="5.4" ry="4.7" fill="#1A28F0" opacity="0.93"/>
<ellipse cx="1487.3" cy="1507.4" rx="4.2" ry="3.7" fill="#1A28F0" opacity="0.98"/>
<ellipse cx="1402.9" cy="1433.3" rx="4.8" ry="4.5" fill="#1A28F0" opacity="0.78"/>
<ellipse cx="1445.1" cy="1532.4" rx="5.5" ry="4.7" fill="#1A28F0" opacity="0.77"/>
<ellipse cx="1457.3" cy="1513.0" rx="4.6" ry="4.3" fill="#1A28F0" opacity="0.80"/>
<ellipse cx="1517.8" cy="1422.9" rx="4.1" ry="3.5" fill="#1A28F0" opacity="0.87"/>
<ellipse cx="1517.0" cy="1478.0" rx="5.8" ry="4.5" fill="#1A28F0" opacity="0.90"/>
<ellipse cx="1507.1" cy="1511.9" rx="5.8" ry="4.6" fill="#1A28F0" opacity="0.75"/>
<ellipse cx="1514.6" cy="1499.6" rx="4.0" ry="3.1" fill="#1A28F0" opacity="0.87"/>
<ellipse cx="1510.7" cy="1444.3" rx="4.8" ry="4.4" fill="#1A28F0" opacity="0.77"/>
<ellipse cx="1425.0" cy="1450.3" rx="5.2" ry="5.2" fill="#1A28F0" opacity="0.76"/>
<ellipse cx="1402.2" cy="1449.0" rx="4.3" ry="3.5" fill="#1A28F0" opacity="1.00"/>
<ellipse cx="1500.9" cy="1469.5" rx="5.4" ry="5.3" fill="#1A28F0" opacity="0.81"/>
<ellipse cx="1436.6" cy="1449.2" rx="4.7" ry="4.3" fill="#1A28F0" opacity="0.90"/>
<ellipse cx="1467.6" cy="1434.9" rx="4.7" ry="4.5" fill="#1A28F0" opacity="0.90"/>
<ellipse cx="1410.0" cy="1486.0" rx="6.0" ry="5.3" fill="#1A28F0" opacity="0.75"/>
<ellipse cx="1477.5" cy="1422.8" rx="4.9" ry="3.9" fill="#1A28F0" opacity="0.86"/>
<ellipse cx="1445.4" cy="1501.8" rx="5.3" ry="4.1" fill="#1A28F0" opacity="0.95"/>
<ellipse cx="1531.4" cy="1480.9" rx="5.6" ry="4.9" fill="#1A28F0" opacity="0.93"/>
<ellipse cx="1462.8" cy="1536.9" rx="4.9" ry="3.9" fill="#1A28F0" opacity="0.99"/>
<ellipse cx="1418.9" cy="1500.2" rx="5.7" ry="4.8" fill="#1A28F0" opacity="0.92"/>
<ellipse cx="1496.5" cy="1532.2" rx="4.5" ry="3.4" fill="#1A28F0" opacity="0.99"/>
<ellipse cx="1497.5" cy="1535.7" rx="6.0" ry="5.4" fill="#1A28F0" opacity="0.75"/>
<ellipse cx="1503.1" cy="1486.1" rx="4.8" ry="4.3" fill="#1A28F0" opacity="0.99"/>
<ellipse cx="1437.5" cy="1501.0" rx="5.1" ry="4.0" fill="#1A28F0" opacity="0.77"/>
<ellipse cx="1399.0" cy="1447.5" rx="4.1" ry="3.6" fill="#1A28F0" opacity="0.93"/>
<ellipse cx="1466.8" cy="1418.0" rx="5.8" ry="4.6" fill="#1A28F0" opacity="0.93"/>
<ellipse cx="1472.0" cy="1398.7" rx="5.0" ry="3.9" fill="#1A28F0" opacity="0.76"/>
<ellipse cx="1420.5" cy="1462.6" rx="5.3" ry="4.1" fill="#1A28F0" opacity="0.95"/>
<ellipse cx="1467.3" cy="1499.5" rx="4.4" ry="3.8" fill="#1A28F0" opacity="0.89"/>
<ellipse cx="1429.8" cy="1496.5" rx="5.0" ry="4.9" fill="#1A28F0" opacity="0.88"/>
<ellipse cx="1491.9" cy="1458.7" rx="6.0" ry="5.8" fill="#1A28F0" opacity="0.89"/>
<ellipse cx="1402.0" cy="1461.3" rx="5.8" ry="4.5" fill="#1A28F0" opacity="0.91"/>
<ellipse cx="1414.3" cy="1457.4" rx="5.4" ry="5.1" fill="#1A28F0" opacity="0.78"/>
<ellipse cx="1444.2" cy="1417.3" rx="5.0" ry="4.5" fill="#1A28F0" opacity="0.76"/>
<ellipse cx="1419.6" cy="1438.8" rx="5.8" ry="4.7" fill="#1A28F0" opacity="0.96"/>
<ellipse cx="1453.8" cy="1407.9" rx="5.8" ry="4.4" fill="#1A28F0" opacity="0.90"/>
<ellipse cx="1411.7" cy="1427.7" rx="4.8" ry="3.7" fill="#1A28F0" opacity="0.80"/>
<ellipse cx="1428.8" cy="1443.9" rx="4.1" ry="3.5" fill="#1A28F0" opacity="0.87"/>
<ellipse cx="1431.0" cy="1463.1" rx="5.6" ry="4.6" fill="#1A28F0" opacity="0.95"/>
<ellipse cx="1538.3" cy="1474.0" rx="5.2" ry="5.1" fill="#1A28F0" opacity="1.00"/>
<ellipse cx="1480.8" cy="1438.0" rx="4.7" ry="3.8" fill="#1A28F0" opacity="0.94"/>
<ellipse cx="1478.0" cy="1511.0" rx="4.2" ry="3.3" fill="#1A28F0" opacity="0.98"/>
<ellipse cx="1514.5" cy="1462.3" rx="5.5" ry="4.8" fill="#1A28F0" opacity="0.88"/>
<ellipse cx="1417.9" cy="1516.1" rx="4.5" ry="3.6" fill="#1A28F0" opacity="0.88"/>
<ellipse cx="1480.3" cy="1521.8" rx="5.9" ry="4.4" fill="#1A28F0" opacity="0.78"/>
<ellipse cx="1472.6" cy="1438.2" rx="4.5" ry="4.3" fill="#1A28F0" opacity="0.90"/>
<ellipse cx="1468.3" cy="1503.0" rx="4.6" ry="3.8" fill="#1A28F0" opacity="0.95"/>
<ellipse cx="1531.7" cy="1459.5" rx="5.8" ry="5.7" fill="#1A28F0" opacity="0.97"/>
<ellipse cx="1529.4" cy="1433.9" rx="4.2" ry="3.5" fill="#1A28F0" opacity="0.81"/>
<ellipse cx="1415.5" cy="1435.2" rx="4.7" ry="4.5" fill="#1A28F0" opacity="0.85"/>
<ellipse cx="1474.3" cy="1515.4" rx="4.9" ry="4.4" fill="#1A28F0" opacity="0.89"/>
<ellipse cx="1422.0" cy="1485.4" rx="4.8" ry="4.0" fill="#1A28F0" opacity="0.79"/>
<ellipse cx="1420.5" cy="1458.6" rx="5.4" ry="5.0" fill="#1A28F0" opacity="0.78"/>
<ellipse cx="1425.8" cy="1434.5" rx="4.9" ry="4.4" fill="#1A28F0" opacity="0.94"/>
<ellipse cx="1513.0" cy="1425.4" rx="4.4" ry="3.9" fill="#1A28F0" opacity="0.83"/>
<ellipse cx="1522.8" cy="1477.2" rx="4.9" ry="4.8" fill="#1A28F0" opacity="0.83"/>
<ellipse cx="1491.9" cy="1419.7" rx="4.2" ry="3.9" fill="#1A28F0" opacity="0.82"/>
<ellipse cx="1427.4" cy="1462.8" rx="4.0" ry="3.9" fill="#1A28F0" opacity="0.76"/>
<ellipse cx="1486.6" cy="1502.6" rx="4.2" ry="4.0" fill="#1A28F0" opacity="1.00"/>
<ellipse cx="1429.9" cy="1427.4" rx="5.8" ry="5.1" fill="#1A28F0" opacity="0.78"/>
<ellipse cx="1442.8" cy="1422.5" rx="4.5" ry="3.8" fill="#1A28F0" opacity="0.85"/>
<ellipse cx="1488.3" cy="1526.6" rx="5.7" ry="5.1" fill="#1A28F0" opacity="0.75"/>
<ellipse cx="1449.4" cy="1442.0" rx="5.0" ry="4.8" fill="#1A28F0" opacity="0.92"/>
<ellipse cx="1520.1" cy="1433.2" rx="4.5" ry="3.6" fill="#1A28F0" opacity="0.86"/>
<ellipse cx="1442.5" cy="1429.8" rx="4.7" ry="4.4" fill="#1A28F0" opacity="0.84"/>
<ellipse cx="1412.9" cy="1434.8" rx="5.9" ry="4.4" fill="#1A28F0" opacity="0.80"/>
<ellipse cx="1473.8" cy="1406.7" rx="4.2" ry="3.3" fill="#1A28F0" opacity="0.80"/>
<ellipse cx="1390.1" cy="1450.5" rx="4.4" ry="3.5" fill="#1A28F0" opacity="0.92"/>
<ellipse cx="1397.6" cy="1502.9" rx="6.0" ry="5.9" fill="#1A28F0" opacity="0.93"/>
<ellipse cx="1427.4" cy="1470.8" rx="5.6" ry="4.8" fill="#1A28F0" opacity="0.87"/>
<ellipse cx="1410.2" cy="1414.8" rx="5.1" ry="5.0" fill="#1A28F0" opacity="0.99"/>
<ellipse cx="1506.9" cy="1495.9" rx="5.8" ry="5.4" fill="#1A28F0" opacity="0.99"/>
<ellipse cx="1485.5" cy="1524.2" rx="5.9" ry="5.2" fill="#1A28F0" opacity="0.92"/>
<ellipse cx="1503.7" cy="1463.5" rx="4.1" ry="4.0" fill="#1A28F0" opacity="0.90"/>
<ellipse cx="1484.2" cy="1536.9" rx="4.6" ry="3.6" fill="#1A28F0" opacity="0.82"/>
<ellipse cx="1515.3" cy="1482.0" rx="5.6" ry="4.8" fill="#1A28F0" opacity="0.99"/>
<ellipse cx="1502.7" cy="1480.7" rx="4.3" ry="3.8" fill="#1A28F0" opacity="0.80"/>
<ellipse cx="1432.2" cy="1419.2" rx="5.2" ry="5.0" fill="#1A28F0" opacity="0.95"/>
<ellipse cx="1498.1" cy="1451.3" rx="4.8" ry="4.7" fill="#1A28F0" opacity="0.85"/>
<ellipse cx="1449.1" cy="1525.3" rx="4.4" ry="4.2" fill="#1A28F0" opacity="0.91"/>
<ellipse cx="1525.6" cy="1511.9" rx="5.0" ry="4.1" fill="#1A28F0" opacity="0.90"/>
<ellipse cx="1511.2" cy="1454.3" rx="4.0" ry="3.2" fill="#1A28F0" opacity="0.76"/>
<ellipse cx="1412.8" cy="1461.3" rx="5.7" ry="4.6" fill="#1A28F0" opacity="0.75"/>
<ellipse cx="1424.0" cy="1478.4" rx="4.6" ry="3.7" fill="#1A28F0" opacity="0.79"/>
<ellipse cx="1412.3" cy="1414.2" rx="4.7" ry="4.3" fill="#1A28F0" opacity="0.83"/>
<ellipse cx="1514.8" cy="1439.6" rx="4.1" ry="3.8" fill="#1A28F0" opacity="0.80"/>
<ellipse cx="1491.9" cy="1478.9" rx="5.7" ry="5.3" fill="#1A28F0" opacity="0.84"/>
<ellipse cx="1398.9" cy="1446.7" rx="4.2" ry="3.8" fill="#1A28F0" opacity="0.93"/>
<ellipse cx="1494.2" cy="1458.1" rx="5.1" ry="4.5" fill="#1A28F0" opacity="0.96"/>
<ellipse cx="1418.8" cy="1518.3" rx="5.8" ry="4.9" fill="#1A28F0" opacity="0.88"/>
<ellipse cx="1487.5" cy="1450.4" rx="5.9" ry="4.9" fill="#1A28F0" opacity="0.86"/>
<ellipse cx="1445.4" cy="1537.2" rx="5.1" ry="4.7" fill="#1A28F0" opacity="0.78"/>
<ellipse cx="1514.4" cy="1422.3" rx="5.4" ry="4.3" fill="#1A28F0" opacity="0.81"/>
<ellipse cx="1428.7" cy="1480.1" rx="5.9" ry="5.0" fill="#1A28F0" opacity="0.99"/>
<ellipse cx="1488.7" cy="1528.0" rx="5.6" ry="5.1" fill="#1A28F0" opacity="0.86"/>
<ellipse cx="1517.7" cy="1476.6" rx="4.8" ry="4.7" fill="#1A28F0" opacity="0.99"/>
<ellipse cx="1536.5" cy="1449.8" rx="4.3" ry="3.3" fill="#1A28F0" opacity="0.82"/>
<ellipse cx="1500.6" cy="1471.9" rx="5.2" ry="4.1" fill="#1A28F0" opacity="0.90"/>
<ellipse cx="1426.9" cy="1501.9" rx="5.9" ry="4.7" fill="#1A28F0" opacity="0.97"/>
<ellipse cx="1397.1" cy="1459.2" rx="4.3" ry="4.0" fill="#1A28F0" opacity="0.97"/>
<ellipse cx="1480.5" cy="1523.3" rx="5.3" ry="4.6" fill="#1A28F0" opacity="0.94"/>
<ellipse cx="1431.1" cy="1431.5" rx="5.4" ry="5.1" fill="#1A28F0" opacity="0.87"/>
<ellipse cx="1407.5" cy="1436.1" rx="5.0" ry="3.8" fill="#1A28F0" opacity="0.85"/>
<ellipse cx="1473.9" cy="1404.6" rx="4.1" ry="3.6" fill="#1A28F0" opacity="0.90"/>
<ellipse cx="1422.1" cy="1461.9" rx="5.3" ry="4.9" fill="#1A28F0" opacity="0.88"/>
<ellipse cx="1519.9" cy="1447.5" rx="4.0" ry="3.3" fill="#1A28F0" opacity="0.93"/>
<ellipse cx="1529.4" cy="1506.0" rx="5.4" ry="5.1" fill="#1A28F0" opacity="0.79"/>
<ellipse cx="1535.6" cy="1473.1" rx="5.0" ry="4.3" fill="#1A28F0" opacity="0.88"/>
<ellipse cx="1468.1" cy="1418.6" rx="5.5" ry="4.4" fill="#1A28F0" opacity="1.00"/>
<ellipse cx="1445.2" cy="1423.7" rx="5.0" ry="4.8" fill="#1A28F0" opacity="0.83"/>
<ellipse cx="1438.4" cy="1400.7" rx="5.9" ry="4.8" fill="#1A28F0" opacity="0.95"/>
<ellipse cx="1406.7" cy="1426.2" rx="4.1" ry="3.5" fill="#1A28F0" opacity="0.86"/>
<ellipse cx="1484.4" cy="1419.1" rx="4.1" ry="3.3" fill="#1A28F0" opacity="0.96"/>
<ellipse cx="1508.1" cy="1429.3" rx="4.2" ry="3.9" fill="#1A28F0" opacity="0.97"/>
<ellipse cx="1448.5" cy="1525.2" rx="4.6" ry="3.5" fill="#1A28F0" opacity="0.93"/>
<ellipse cx="1481.8" cy="1499.9" rx="5.8" ry="4.5" fill="#1A28F0" opacity="0.94"/>
<ellipse cx="1480.6" cy="1428.2" rx="4.7" ry="3.8" fill="#1A28F0" opacity="0.93"/>
<path d="M1432.3,1445.8 L1443.2,1434.9 L1456.8,1429.5 L1467.6,1418.6 L1478.5,1426.8 L1492.1,1440.4 L1497.5,1451.2" fill="none" stroke="#FF4030" stroke-width="5" stroke-linecap="round" stroke-linejoin="round"/>
<path d="M1429.6,1448.5 L1421.5,1459.4 L1413.3,1470.2 L1421.5,1475.7 L1440.5,1486.5 L1456.8,1492.0 L1470.4,1489.2" fill="none" stroke="#FF4030" stroke-width="3" stroke-linecap="round" stroke-linejoin="round"/>
<path d="M1492.1,1451.2 L1483.9,1464.8 L1475.8,1475.7 L1470.4,1489.2 L1473.1,1502.8 L1478.5,1513.7" fill="none" stroke="#FF4030" stroke-width="5.5" stroke-linecap="round" stroke-linejoin="round"/>
<path d="M1456.8,1492.0 L1448.6,1497.4 L1437.8,1494.7" fill="none" stroke="#FF4030" stroke-width="4" stroke-linecap="round" stroke-linejoin="round"/>
<path d="M1467.6,1405.0 L1462.2,1415.9 L1456.8,1429.5" fill="none" stroke="#FF4030" stroke-width="3" stroke-linecap="round" stroke-linejoin="round"/>
<path d="M1497.5,1451.2 L1513.8,1462.1 L1527.4,1459.4" fill="none" stroke="#FF4030" stroke-width="2" stroke-linecap="round" stroke-linejoin="round"/>
<path d="M1475.8,1494.7 L1492.1,1492.0 L1503.0,1497.4" fill="none" stroke="#FF4030" stroke-width="3" stroke-linecap="round" stroke-linejoin="round"/>
<path d="M1402.5,1451.2 L1416.0,1456.6 L1421.5,1459.4" fill="none" stroke="#FF4030" stroke-width="2" stroke-linecap="round" stroke-linejoin="round"/>
<ellipse cx="1470.4" cy="1407.8" rx="5.5" ry="4.5" fill="#FF50B0"/>
<ellipse cx="1481.2" cy="1426.8" rx="5.5" ry="4.5" fill="#FF50B0"/>
<ellipse cx="1496.2" cy="1451.2" rx="5.5" ry="4.5" fill="#FF50B0"/>
<ellipse cx="1459.5" cy="1429.5" rx="5.5" ry="4.5" fill="#FF50B0"/>
<ellipse cx="1437.8" cy="1440.4" rx="5.5" ry="4.5" fill="#FF50B0"/>
<ellipse cx="1462.2" cy="1492.0" rx="5.5" ry="4.5" fill="#FF50B0"/>
<ellipse cx="1418.8" cy="1505.5" rx="5.5" ry="4.5" fill="#FF50B0"/>
<ellipse cx="1429.6" cy="1516.4" rx="5.5" ry="4.5" fill="#FF50B0"/>
<ellipse cx="1513.8" cy="1443.1" rx="5.5" ry="4.5" fill="#FF50B0"/>
<ellipse cx="1475.8" cy="1500.1" rx="5.5" ry="4.5" fill="#FF50B0"/>
</g></g>
<text x="953.30" y="1183.70" font-size="19.8" font-weight="bold" font-style="normal" fill="#FF0000" text-anchor="start" stroke="#FF0000" stroke-width="0.53" stroke-linejoin="round" textLength="51.7" lengthAdjust="spacingAndGlyphs" ><tspan>HopX</tspan></text>
<text x="953.30" y="1205.40" font-size="20" font-weight="bold" font-style="normal" fill="#00B050" text-anchor="start" stroke="#00B050" stroke-width="0.54" stroke-linejoin="round" textLength="88.8" lengthAdjust="spacingAndGlyphs" ><tspan>SPC-GFP</tspan></text>
<text x="1170.60" y="1181.80" font-size="19.8" font-weight="bold" font-style="normal" fill="#FF0000" text-anchor="start" stroke="#FF0000" stroke-width="0.53" stroke-linejoin="round" textLength="51.7" lengthAdjust="spacingAndGlyphs" ><tspan>HopX</tspan></text>
<text x="1170.60" y="1204.00" font-size="20" font-weight="bold" font-style="normal" fill="#00B050" text-anchor="start" stroke="#00B050" stroke-width="0.54" stroke-linejoin="round" textLength="88.8" lengthAdjust="spacingAndGlyphs" ><tspan>SPC-GFP</tspan></text>
<text x="1386.20" y="1179.60" font-size="19.8" font-weight="bold" font-style="normal" fill="#FF0000" text-anchor="start" stroke="#FF0000" stroke-width="0.53" stroke-linejoin="round" textLength="51.7" lengthAdjust="spacingAndGlyphs" ><tspan>HopX</tspan></text>
<text x="953.30" y="1396.90" font-size="19.8" font-weight="bold" font-style="normal" fill="#FF0000" text-anchor="start" stroke="#FF0000" stroke-width="0.53" stroke-linejoin="round" textLength="51.7" lengthAdjust="spacingAndGlyphs" ><tspan>HopX</tspan></text>
<text x="953.30" y="1418.10" font-size="20" font-weight="bold" font-style="normal" fill="#00B050" text-anchor="start" stroke="#00B050" stroke-width="0.54" stroke-linejoin="round" textLength="88.8" lengthAdjust="spacingAndGlyphs" ><tspan>SPC-GFP</tspan></text>
<text x="1170.60" y="1401.00" font-size="19.8" font-weight="bold" font-style="normal" fill="#FF0000" text-anchor="start" stroke="#FF0000" stroke-width="0.53" stroke-linejoin="round" textLength="51.7" lengthAdjust="spacingAndGlyphs" ><tspan>HopX</tspan></text>
<text x="1170.60" y="1422.70" font-size="20" font-weight="bold" font-style="normal" fill="#00B050" text-anchor="start" stroke="#00B050" stroke-width="0.54" stroke-linejoin="round" textLength="88.8" lengthAdjust="spacingAndGlyphs" ><tspan>SPC-GFP</tspan></text>
<text x="1386.20" y="1395.50" font-size="19.8" font-weight="bold" font-style="normal" fill="#FF0000" text-anchor="start" stroke="#FF0000" stroke-width="0.53" stroke-linejoin="round" textLength="51.7" lengthAdjust="spacingAndGlyphs" ><tspan>HopX</tspan></text>
<text x="1055.20" y="1331.70" font-size="21.5" font-weight="bold" font-style="normal" fill="#fff" text-anchor="start" stroke="#fff" stroke-width="0.58" stroke-linejoin="round" textLength="69.20000000000005" lengthAdjust="spacingAndGlyphs" ><tspan>50 µm</tspan></text>
<line x1="1056.50" y1="1340.40" x2="1123.60" y2="1340.40" stroke="#fff" stroke-width="3" />
<text x="1271.10" y="1331.70" font-size="21.5" font-weight="bold" font-style="normal" fill="#fff" text-anchor="start" stroke="#fff" stroke-width="0.58" stroke-linejoin="round" textLength="69.30000000000018" lengthAdjust="spacingAndGlyphs" ><tspan>50 µm</tspan></text>
<line x1="1272.40" y1="1340.40" x2="1339.60" y2="1340.40" stroke="#fff" stroke-width="3" />
<text x="1491.30" y="1331.70" font-size="21.5" font-weight="bold" font-style="normal" fill="#fff" text-anchor="start" stroke="#fff" stroke-width="0.58" stroke-linejoin="round" textLength="69.20000000000005" lengthAdjust="spacingAndGlyphs" ><tspan>50 µm</tspan></text>
<line x1="1492.60" y1="1340.40" x2="1559.70" y2="1340.40" stroke="#fff" stroke-width="3" />
<text x="1056.50" y="1546.30" font-size="21.5" font-weight="bold" font-style="normal" fill="#fff" text-anchor="start" stroke="#fff" stroke-width="0.58" stroke-linejoin="round" textLength="69.29999999999995" lengthAdjust="spacingAndGlyphs" ><tspan>50 µm</tspan></text>
<line x1="1057.80" y1="1555.80" x2="1125.00" y2="1555.80" stroke="#fff" stroke-width="3" />
<text x="1265.10" y="1551.20" font-size="23.5" font-weight="bold" font-style="normal" fill="#fff" text-anchor="start" stroke="#fff" stroke-width="0.63" stroke-linejoin="round" textLength="75.30000000000018" lengthAdjust="spacingAndGlyphs" ><tspan>50 µm</tspan></text>
<line x1="1266.40" y1="1561.20" x2="1339.60" y2="1561.20" stroke="#fff" stroke-width="3" />
<text x="1491.30" y="1546.30" font-size="21.5" font-weight="bold" font-style="normal" fill="#fff" text-anchor="start" stroke="#fff" stroke-width="0.58" stroke-linejoin="round" textLength="69.20000000000005" lengthAdjust="spacingAndGlyphs" ><tspan>50 µm</tspan></text>
<line x1="1492.60" y1="1555.80" x2="1559.70" y2="1555.80" stroke="#fff" stroke-width="3" />
<rect x="1705.30" y="1376.90" width="42.50" height="71.60" fill="url(#dots2)" />
<path d="M1705.30,1448.50 L1705.30,1376.90 L1747.80,1376.90 L1747.80,1448.50" fill="none" stroke="#000" stroke-width="3" />
<rect x="1769.95" y="1292.75" width="41.50" height="155.75" fill="#fff" />
<path d="M1769.95,1448.50 L1769.95,1292.75 L1811.45,1292.75 L1811.45,1448.50" fill="none" stroke="#FF0A6E" stroke-width="3.3" />
<rect x="1855.80" y="1343.70" width="42.00" height="104.80" fill="url(#dots2)" />
<path d="M1855.80,1448.50 L1855.80,1343.70 L1897.80,1343.70 L1897.80,1448.50" fill="none" stroke="#000" stroke-width="3" />
<rect x="1920.45" y="1263.65" width="41.70" height="184.85" fill="#fff" />
<path d="M1920.45,1448.50 L1920.45,1263.65 L1962.15,1263.65 L1962.15,1448.50" fill="none" stroke="#FF0A6E" stroke-width="3.3" />
<line x1="1684.80" y1="1165.70" x2="1684.80" y2="1450.00" stroke="#000" stroke-width="3" />
<line x1="1679.70" y1="1448.50" x2="1977.50" y2="1448.50" stroke="#000" stroke-width="3" />
<line x1="1679.70" y1="1167.20" x2="1684.80" y2="1167.20" stroke="#000" stroke-width="3" />
<line x1="1679.70" y1="1224.10" x2="1684.80" y2="1224.10" stroke="#000" stroke-width="3" />
<line x1="1679.70" y1="1280.20" x2="1684.80" y2="1280.20" stroke="#000" stroke-width="3" />
<line x1="1679.70" y1="1336.10" x2="1684.80" y2="1336.10" stroke="#000" stroke-width="3" />
<line x1="1679.70" y1="1392.30" x2="1684.80" y2="1392.30" stroke="#000" stroke-width="3" />
<line x1="1758.20" y1="1448.50" x2="1758.20" y2="1453.50" stroke="#000" stroke-width="3" />
<line x1="1908.70" y1="1448.50" x2="1908.70" y2="1453.50" stroke="#000" stroke-width="3" />
<text x="1670.90" y="1174.70" font-size="20.3" font-weight="bold" font-style="normal" fill="#000" text-anchor="end" stroke="#000" stroke-width="0.55" stroke-linejoin="round" ><tspan>50</tspan></text>
<text x="1670.90" y="1231.60" font-size="20.3" font-weight="bold" font-style="normal" fill="#000" text-anchor="end" stroke="#000" stroke-width="0.55" stroke-linejoin="round" ><tspan>40</tspan></text>
<text x="1670.90" y="1287.70" font-size="20.3" font-weight="bold" font-style="normal" fill="#000" text-anchor="end" stroke="#000" stroke-width="0.55" stroke-linejoin="round" ><tspan>30</tspan></text>
<text x="1670.90" y="1343.60" font-size="20.3" font-weight="bold" font-style="normal" fill="#000" text-anchor="end" stroke="#000" stroke-width="0.55" stroke-linejoin="round" ><tspan>20</tspan></text>
<text x="1670.90" y="1399.80" font-size="20.3" font-weight="bold" font-style="normal" fill="#000" text-anchor="end" stroke="#000" stroke-width="0.55" stroke-linejoin="round" ><tspan>10</tspan></text>
<text x="1670.90" y="1456.00" font-size="20.3" font-weight="bold" font-style="normal" fill="#000" text-anchor="end" stroke="#000" stroke-width="0.55" stroke-linejoin="round" ><tspan>0</tspan></text>
<text x="0" y="0" font-size="21.3" font-weight="bold" font-style="normal" fill="#000" text-anchor="start" stroke="#000" stroke-width="0.58" stroke-linejoin="round" textLength="374.4" lengthAdjust="spacingAndGlyphs" transform="translate(1626.60,1496.00) rotate(-90)" ><tspan>% of AT1 + cells in SPC-GFP organoid</tspan></text>
<line x1="1726.50" y1="1370.00" x2="1726.50" y2="1377.10" stroke="#000" stroke-width="2" />
<line x1="1713.90" y1="1370.00" x2="1739.10" y2="1370.00" stroke="#000" stroke-width="2" />
<line x1="1713.90" y1="1377.10" x2="1739.10" y2="1377.10" stroke="#000" stroke-width="2" />
<circle cx="1708.80" cy="1375.90" r="5.00" fill="#000" />
<circle cx="1726.50" cy="1370.00" r="5.00" fill="#000" />
<circle cx="1744.30" cy="1375.90" r="5.00" fill="#000" />
<line x1="1790.30" y1="1287.30" x2="1790.30" y2="1292.40" stroke="#FF0A6E" stroke-width="2" />
<line x1="1777.70" y1="1287.30" x2="1802.90" y2="1287.30" stroke="#FF0A6E" stroke-width="2" />
<line x1="1777.70" y1="1292.40" x2="1802.90" y2="1292.40" stroke="#FF0A6E" stroke-width="2" />
<circle cx="1773.40" cy="1291.60" r="4.20" fill="none" stroke="#FF0A6E" stroke-width="3" />
<circle cx="1790.30" cy="1286.60" r="4.20" fill="none" stroke="#FF0A6E" stroke-width="3" />
<circle cx="1808.00" cy="1291.60" r="4.20" fill="none" stroke="#FF0A6E" stroke-width="3" />
<line x1="1877.10" y1="1330.30" x2="1877.10" y2="1353.60" stroke="#000" stroke-width="2" />
<line x1="1864.50" y1="1330.30" x2="1889.70" y2="1330.30" stroke="#000" stroke-width="2" />
<line x1="1864.50" y1="1353.60" x2="1889.70" y2="1353.60" stroke="#000" stroke-width="2" />
<circle cx="1877.10" cy="1330.30" r="5.00" fill="#000" />
<circle cx="1877.10" cy="1342.20" r="5.00" fill="#000" />
<circle cx="1877.10" cy="1353.60" r="5.00" fill="#000" />
<line x1="1941.60" y1="1258.20" x2="1941.60" y2="1268.40" stroke="#FF0A6E" stroke-width="2" />
<line x1="1929.00" y1="1258.20" x2="1954.20" y2="1258.20" stroke="#FF0A6E" stroke-width="2" />
<line x1="1929.00" y1="1268.40" x2="1954.20" y2="1268.40" stroke="#FF0A6E" stroke-width="2" />
<circle cx="1932.70" cy="1257.50" r="4.20" fill="none" stroke="#FF0A6E" stroke-width="3" />
<circle cx="1950.40" cy="1257.50" r="4.20" fill="none" stroke="#FF0A6E" stroke-width="3" />
<circle cx="1941.60" cy="1265.80" r="4.20" fill="none" stroke="#FF0A6E" stroke-width="3" />
<line x1="1716.90" y1="1257.70" x2="1880.10" y2="1257.70" stroke="#000" stroke-width="2" />
<line x1="1716.90" y1="1252.70" x2="1716.90" y2="1262.70" stroke="#000" stroke-width="2" />
<line x1="1880.10" y1="1252.70" x2="1880.10" y2="1262.70" stroke="#000" stroke-width="2" />
<text x="1749.80" y="1252.70" font-size="18.3" font-weight="bold" font-style="normal" fill="#000" text-anchor="start" stroke="#000" stroke-width="0.49" stroke-linejoin="round" textLength="109.60000000000014" lengthAdjust="spacingAndGlyphs" ><tspan font-style="italic">P</tspan><tspan> = 0.000006</tspan></text>
<line x1="1792.30" y1="1205.10" x2="1943.30" y2="1205.10" stroke="#000" stroke-width="2" />
<line x1="1792.30" y1="1200.10" x2="1792.30" y2="1210.10" stroke="#000" stroke-width="2" />
<line x1="1943.30" y1="1200.10" x2="1943.30" y2="1210.10" stroke="#000" stroke-width="2" />
<text x="1818.90" y="1198.80" font-size="18.3" font-weight="bold" font-style="normal" fill="#000" text-anchor="start" stroke="#000" stroke-width="0.49" stroke-linejoin="round" textLength="109.29999999999995" lengthAdjust="spacingAndGlyphs" ><tspan font-style="italic">P</tspan><tspan> = 0.000424</tspan></text>
<text x="1709.30" y="1478.80" font-size="20.5" font-weight="bold" font-style="normal" fill="#000" text-anchor="start" stroke="#000" stroke-width="0.55" stroke-linejoin="round" textLength="95.2" lengthAdjust="spacingAndGlyphs" ><tspan>Untreated</tspan></text>
<text x="1883.40" y="1478.80" font-size="20" font-weight="bold" font-style="normal" fill="#000" text-anchor="start" stroke="#000" stroke-width="0.54" stroke-linejoin="round" textLength="50.6" lengthAdjust="spacingAndGlyphs" ><tspan>FGF7</tspan></text>
<circle cx="1690.40" cy="1525.60" r="5.60" fill="#000" />
<text x="1709.30" y="1532.20" font-size="22.3" font-weight="bold" font-style="normal" fill="#000" text-anchor="start" stroke="#000" stroke-width="0.60" stroke-linejoin="round" textLength="175.9" lengthAdjust="spacingAndGlyphs" ><tspan>WT MLF support</tspan></text>
<circle cx="1690.40" cy="1549.90" r="5.50" fill="none" stroke="#FF0A6E" stroke-width="2.6" />
<text x="1710.10" y="1560.00" font-size="22.3" font-weight="bold" font-style="normal" fill="#FF0A6E" text-anchor="start" stroke="#FF0A6E" stroke-width="0.60" stroke-linejoin="round" textLength="219.3" lengthAdjust="spacingAndGlyphs" ><tspan font-style="italic">Tsc2</tspan><tspan font-size="15" dx="1" dy="-8.00">KO</tspan><tspan dy="8.00"> MLF support</tspan></text>
<text x="8.80" y="1646.30" font-size="37" font-weight="bold" font-style="normal" fill="#000" text-anchor="start" stroke="#000" stroke-width="1.00" stroke-linejoin="round" ><tspan>f</tspan></text>
<text x="96.80" y="1656.30" font-size="32.5" font-weight="bold" font-style="normal" fill="#000" text-anchor="start" stroke="#000" stroke-width="0.88" stroke-linejoin="round" textLength="428.2" lengthAdjust="spacingAndGlyphs" ><tspan>AT2 Organoid growth speed</tspan></text>
<text x="63.70" y="1692.40" font-size="32.5" font-weight="bold" font-style="normal" fill="#000" text-anchor="start" stroke="#000" stroke-width="0.88" stroke-linejoin="round" textLength="503.9" lengthAdjust="spacingAndGlyphs" ><tspan>depending on fibroblast support</tspan></text>
<text x="0" y="0" font-size="25" font-weight="bold" font-style="normal" fill="#000" text-anchor="start" stroke="#000" stroke-width="0.68" stroke-linejoin="round" textLength="349" lengthAdjust="spacingAndGlyphs" transform="translate(29.30,2047.30) rotate(-90)" ><tspan>Number of SPC-GFP colonies</tspan></text>
<line x1="111.50" y1="1739.35" x2="111.50" y2="2005.65" stroke="#000" stroke-width="2.9" />
<line x1="105.00" y1="2004.20" x2="508.90" y2="2004.20" stroke="#000" stroke-width="2.9" />
<line x1="105.00" y1="1740.80" x2="111.50" y2="1740.80" stroke="#000" stroke-width="2.9" />
<text x="93.30" y="1749.50" font-size="25.6" font-weight="bold" font-style="normal" fill="#000" text-anchor="end" stroke="#000" stroke-width="0.69" stroke-linejoin="round" ><tspan>300</tspan></text>
<line x1="105.00" y1="1806.80" x2="111.50" y2="1806.80" stroke="#000" stroke-width="2.9" />
<text x="93.30" y="1815.50" font-size="25.6" font-weight="bold" font-style="normal" fill="#000" text-anchor="end" stroke="#000" stroke-width="0.69" stroke-linejoin="round" ><tspan>275</tspan></text>
<line x1="105.00" y1="1872.80" x2="111.50" y2="1872.80" stroke="#000" stroke-width="2.9" />
<text x="93.30" y="1881.50" font-size="25.6" font-weight="bold" font-style="normal" fill="#000" text-anchor="end" stroke="#000" stroke-width="0.69" stroke-linejoin="round" ><tspan>250</tspan></text>
<line x1="105.00" y1="1938.20" x2="111.50" y2="1938.20" stroke="#000" stroke-width="2.9" />
<text x="93.30" y="1946.90" font-size="25.6" font-weight="bold" font-style="normal" fill="#000" text-anchor="end" stroke="#000" stroke-width="0.69" stroke-linejoin="round" ><tspan>225</tspan></text>
<line x1="105.00" y1="2004.20" x2="111.50" y2="2004.20" stroke="#000" stroke-width="2.9" />
<text x="93.30" y="2012.90" font-size="25.6" font-weight="bold" font-style="normal" fill="#000" text-anchor="end" stroke="#000" stroke-width="0.69" stroke-linejoin="round" ><tspan>200</tspan></text>
<line x1="111.50" y1="2004.20" x2="111.50" y2="2010.70" stroke="#000" stroke-width="2.9" />
<text x="111.50" y="2045.30" font-size="25.6" font-weight="bold" font-style="normal" fill="#000" text-anchor="middle" stroke="#000" stroke-width="0.69" stroke-linejoin="round" ><tspan>5</tspan></text>
<line x1="243.50" y1="2004.20" x2="243.50" y2="2010.70" stroke="#000" stroke-width="2.9" />
<text x="243.50" y="2045.30" font-size="25.6" font-weight="bold" font-style="normal" fill="#000" text-anchor="middle" stroke="#000" stroke-width="0.69" stroke-linejoin="round" ><tspan>10</tspan></text>
<line x1="375.20" y1="2004.20" x2="375.20" y2="2010.70" stroke="#000" stroke-width="2.9" />
<text x="375.20" y="2045.30" font-size="25.6" font-weight="bold" font-style="normal" fill="#000" text-anchor="middle" stroke="#000" stroke-width="0.69" stroke-linejoin="round" ><tspan>15</tspan></text>
<line x1="506.60" y1="2004.20" x2="506.60" y2="2010.70" stroke="#000" stroke-width="2.9" />
<text x="506.60" y="2045.30" font-size="25.6" font-weight="bold" font-style="normal" fill="#000" text-anchor="middle" stroke="#000" stroke-width="0.69" stroke-linejoin="round" ><tspan>20</tspan></text>
<text x="309.50" y="2083.40" font-size="25.5" font-weight="bold" font-style="normal" fill="#000" text-anchor="middle" stroke="#000" stroke-width="0.69" stroke-linejoin="round" ><tspan>Day</tspan></text>
<path d="M165.1,1993.1 L243.5,1921.2 L349.1,1840.5 L428.3,1830.3 L506.6,1789.2" fill="none" stroke="#FF0A6E" stroke-width="3.6" stroke-linejoin="round"/>
<line x1="243.50" y1="1913.90" x2="243.50" y2="1929.10" stroke="#FF0A6E" stroke-width="2.4" />
<line x1="236.20" y1="1913.90" x2="250.80" y2="1913.90" stroke="#FF0A6E" stroke-width="2.4" />
<line x1="236.20" y1="1929.10" x2="250.80" y2="1929.10" stroke="#FF0A6E" stroke-width="2.4" />
<line x1="349.10" y1="1833.80" x2="349.10" y2="1847.30" stroke="#FF0A6E" stroke-width="2.4" />
<line x1="341.80" y1="1833.80" x2="356.40" y2="1833.80" stroke="#FF0A6E" stroke-width="2.4" />
<line x1="341.80" y1="1847.30" x2="356.40" y2="1847.30" stroke="#FF0A6E" stroke-width="2.4" />
<line x1="506.60" y1="1786.00" x2="506.60" y2="1792.50" stroke="#FF0A6E" stroke-width="2.4" />
<line x1="499.30" y1="1786.00" x2="513.90" y2="1786.00" stroke="#FF0A6E" stroke-width="2.4" />
<line x1="499.30" y1="1792.50" x2="513.90" y2="1792.50" stroke="#FF0A6E" stroke-width="2.4" />
<circle cx="165.10" cy="1993.10" r="6.00" fill="#fff" stroke="#FF0A6E" stroke-width="2.6" />
<circle cx="243.50" cy="1921.20" r="6.00" fill="#fff" stroke="#FF0A6E" stroke-width="2.6" />
<circle cx="349.10" cy="1840.50" r="6.00" fill="#fff" stroke="#FF0A6E" stroke-width="2.6" />
<circle cx="428.30" cy="1830.30" r="6.00" fill="#fff" stroke="#FF0A6E" stroke-width="2.6" />
<circle cx="506.60" cy="1789.20" r="6.00" fill="#fff" stroke="#FF0A6E" stroke-width="2.6" />
<line x1="238.50" y1="1921.20" x2="248.50" y2="1921.20" stroke="#FF0A6E" stroke-width="2" />
<line x1="344.10" y1="1840.50" x2="354.10" y2="1840.50" stroke="#FF0A6E" stroke-width="2" />
<line x1="501.60" y1="1789.20" x2="511.60" y2="1789.20" stroke="#FF0A6E" stroke-width="2" />
<path d="M165.1,2004.2 L243.5,2000.4 L349.1,1966.1 L428.3,1874.3 L506.6,1800.3" fill="none" stroke="#000" stroke-width="3.6" stroke-linejoin="round"/>
<line x1="165.10" y1="1997.50" x2="165.10" y2="2004.00" stroke="#000" stroke-width="2.4" />
<line x1="157.80" y1="1997.50" x2="172.40" y2="1997.50" stroke="#000" stroke-width="2.4" />
<line x1="157.80" y1="2004.00" x2="172.40" y2="2004.00" stroke="#000" stroke-width="2.4" />
<line x1="349.10" y1="1956.40" x2="349.10" y2="1975.50" stroke="#000" stroke-width="2.4" />
<line x1="341.80" y1="1956.40" x2="356.40" y2="1956.40" stroke="#000" stroke-width="2.4" />
<line x1="341.80" y1="1975.50" x2="356.40" y2="1975.50" stroke="#000" stroke-width="2.4" />
<line x1="428.30" y1="1865.50" x2="428.30" y2="1881.60" stroke="#000" stroke-width="2.4" />
<line x1="421.00" y1="1865.50" x2="435.60" y2="1865.50" stroke="#000" stroke-width="2.4" />
<line x1="421.00" y1="1881.60" x2="435.60" y2="1881.60" stroke="#000" stroke-width="2.4" />
<line x1="506.60" y1="1785.40" x2="506.60" y2="1814.10" stroke="#000" stroke-width="2.4" />
<line x1="499.30" y1="1785.40" x2="513.90" y2="1785.40" stroke="#000" stroke-width="2.4" />
<line x1="499.30" y1="1814.10" x2="513.90" y2="1814.10" stroke="#000" stroke-width="2.4" />
<circle cx="165.10" cy="2004.20" r="6.50" fill="#000" />
<circle cx="243.50" cy="2000.40" r="6.50" fill="#000" />
<circle cx="349.10" cy="1966.10" r="6.50" fill="#000" />
<circle cx="428.30" cy="1874.30" r="6.50" fill="#000" />
<circle cx="506.60" cy="1800.30" r="6.50" fill="#000" />
<line x1="33.10" y1="2101.60" x2="63.10" y2="2101.60" stroke="#FF0A6E" stroke-width="2.8" />
<circle cx="47.80" cy="2101.60" r="5.80" fill="none" stroke="#FF0A6E" stroke-width="2.6" />
<text x="77.70" y="2115.70" font-size="31" font-weight="bold" font-style="normal" fill="#FF0A6E" text-anchor="start" stroke="#FF0A6E" stroke-width="0.84" stroke-linejoin="round" textLength="295.4" lengthAdjust="spacingAndGlyphs" ><tspan font-style="italic">Tsc2</tspan><tspan font-size="20.5" dx="1" dy="-11.50">KO</tspan><tspan dy="11.50"> MLF support</tspan></text>
<line x1="35.20" y1="2147.00" x2="65.10" y2="2147.00" stroke="#000" stroke-width="2.8" />
<circle cx="49.90" cy="2147.00" r="6.50" fill="#000" />
<text x="77.70" y="2155.30" font-size="31" font-weight="bold" font-style="normal" fill="#000" text-anchor="start" stroke="#000" stroke-width="0.84" stroke-linejoin="round" textLength="244.1" lengthAdjust="spacingAndGlyphs" ><tspan>WT MLF support</tspan></text>
<text x="599.70" y="1647.90" font-size="37" font-weight="bold" font-style="normal" fill="#000" text-anchor="start" stroke="#000" stroke-width="1.00" stroke-linejoin="round" ><tspan>h</tspan></text>
<text x="703.90" y="1655.70" font-size="32.5" font-weight="bold" font-style="normal" fill="#000" text-anchor="start" stroke="#000" stroke-width="0.88" stroke-linejoin="round" textLength="717.8" lengthAdjust="spacingAndGlyphs" ><tspan>Treatment effect on organoid number and size</tspan></text>
<text x="0" y="0" font-size="23.5" font-weight="bold" font-style="normal" fill="#000" text-anchor="start" stroke="#000" stroke-width="0.63" stroke-linejoin="round" textLength="237.4" lengthAdjust="spacingAndGlyphs" transform="translate(615.40,2000.50) rotate(-90)" ><tspan>Number of organoids</tspan></text>
<rect x="721.70" y="1954.10" width="31.80" height="83.20" fill="url(#dots2)" />
<path d="M721.70,2037.30 L721.70,1954.10 L753.50,1954.10 L753.50,2037.30" fill="none" stroke="#000" stroke-width="3.0" />
<rect x="774.50" y="1928.80" width="31.80" height="108.50" fill="url(#dots2)" />
<path d="M774.50,2037.30 L774.50,1928.80 L806.30,1928.80 L806.30,2037.30" fill="none" stroke="#000" stroke-width="3.0" />
<rect x="826.70" y="1976.70" width="32.40" height="60.60" fill="url(#dots2)" />
<path d="M826.70,2037.30 L826.70,1976.70 L859.10,1976.70 L859.10,2037.30" fill="none" stroke="#000" stroke-width="3.0" />
<rect x="879.80" y="1963.60" width="31.80" height="73.70" fill="url(#dots2)" />
<path d="M879.80,2037.30 L879.80,1963.60 L911.60,1963.60 L911.60,2037.30" fill="none" stroke="#000" stroke-width="3.0" />
<rect x="967.65" y="1897.05" width="31.50" height="140.25" fill="#fff" />
<path d="M967.65,2037.30 L967.65,1897.05 L999.15,1897.05 L999.15,2037.30" fill="none" stroke="#FF0A6E" stroke-width="3.3" />
<rect x="1020.45" y="1845.45" width="31.50" height="191.85" fill="#fff" />
<path d="M1020.45,2037.30 L1020.45,1845.45 L1051.95,1845.45 L1051.95,2037.30" fill="none" stroke="#FF0A6E" stroke-width="3.3" />
<rect x="1073.25" y="1890.25" width="31.90" height="147.05" fill="#fff" />
<path d="M1073.25,2037.30 L1073.25,1890.25 L1105.15,1890.25 L1105.15,2037.30" fill="none" stroke="#FF0A6E" stroke-width="3.3" />
<rect x="1125.25" y="1848.05" width="31.90" height="189.25" fill="#fff" />
<path d="M1125.25,2037.30 L1125.25,1848.05 L1157.15,1848.05 L1157.15,2037.30" fill="none" stroke="#FF0A6E" stroke-width="3.3" />
<line x1="703.30" y1="1718.95" x2="703.30" y2="2038.75" stroke="#000" stroke-width="2.9" />
<line x1="691.10" y1="2037.30" x2="1176.40" y2="2037.30" stroke="#000" stroke-width="2.9" />
<line x1="691.10" y1="1720.40" x2="703.30" y2="1720.40" stroke="#000" stroke-width="2.9" />
<text x="677.80" y="1728.60" font-size="22" font-weight="bold" font-style="normal" fill="#000" text-anchor="end" stroke="#000" stroke-width="0.59" stroke-linejoin="round" ><tspan>500</tspan></text>
<line x1="691.10" y1="1784.30" x2="703.30" y2="1784.30" stroke="#000" stroke-width="2.9" />
<text x="677.80" y="1792.50" font-size="22" font-weight="bold" font-style="normal" fill="#000" text-anchor="end" stroke="#000" stroke-width="0.59" stroke-linejoin="round" ><tspan>400</tspan></text>
<line x1="691.10" y1="1847.50" x2="703.30" y2="1847.50" stroke="#000" stroke-width="2.9" />
<text x="677.80" y="1855.70" font-size="22" font-weight="bold" font-style="normal" fill="#000" text-anchor="end" stroke="#000" stroke-width="0.59" stroke-linejoin="round" ><tspan>300</tspan></text>
<line x1="691.10" y1="1911.10" x2="703.30" y2="1911.10" stroke="#000" stroke-width="2.9" />
<text x="677.80" y="1919.30" font-size="22" font-weight="bold" font-style="normal" fill="#000" text-anchor="end" stroke="#000" stroke-width="0.59" stroke-linejoin="round" ><tspan>200</tspan></text>
<line x1="691.10" y1="1974.30" x2="703.30" y2="1974.30" stroke="#000" stroke-width="2.9" />
<text x="677.80" y="1982.50" font-size="22" font-weight="bold" font-style="normal" fill="#000" text-anchor="end" stroke="#000" stroke-width="0.59" stroke-linejoin="round" ><tspan>100</tspan></text>
<line x1="691.10" y1="2037.30" x2="703.30" y2="2037.30" stroke="#000" stroke-width="2.9" />
<text x="677.80" y="2045.50" font-size="22" font-weight="bold" font-style="normal" fill="#000" text-anchor="end" stroke="#000" stroke-width="0.59" stroke-linejoin="round" ><tspan>0</tspan></text>
<line x1="737.30" y1="2037.30" x2="737.30" y2="2048.30" stroke="#000" stroke-width="2.9" />
<line x1="790.20" y1="2037.30" x2="790.20" y2="2048.30" stroke="#000" stroke-width="2.9" />
<line x1="842.80" y1="2037.30" x2="842.80" y2="2048.30" stroke="#000" stroke-width="2.9" />
<line x1="895.50" y1="2037.30" x2="895.50" y2="2048.30" stroke="#000" stroke-width="2.9" />
<line x1="983.20" y1="2037.30" x2="983.20" y2="2048.30" stroke="#000" stroke-width="2.9" />
<line x1="1035.60" y1="2037.30" x2="1035.60" y2="2048.30" stroke="#000" stroke-width="2.9" />
<line x1="1088.40" y1="2037.30" x2="1088.40" y2="2048.30" stroke="#000" stroke-width="2.9" />
<line x1="1140.60" y1="2037.30" x2="1140.60" y2="2048.30" stroke="#000" stroke-width="2.9" />
<line x1="737.60" y1="1937.50" x2="737.60" y2="1968.00" stroke="#000" stroke-width="2.5" />
<line x1="728.30" y1="1937.50" x2="746.90" y2="1937.50" stroke="#000" stroke-width="2.5" />
<line x1="728.30" y1="1968.00" x2="746.90" y2="1968.00" stroke="#000" stroke-width="2.5" />
<line x1="790.40" y1="1914.90" x2="790.40" y2="1938.60" stroke="#000" stroke-width="2.5" />
<line x1="781.10" y1="1914.90" x2="799.70" y2="1914.90" stroke="#000" stroke-width="2.5" />
<line x1="781.10" y1="1938.60" x2="799.70" y2="1938.60" stroke="#000" stroke-width="2.5" />
<line x1="843.00" y1="1953.40" x2="843.00" y2="1995.20" stroke="#000" stroke-width="2.5" />
<line x1="833.70" y1="1953.40" x2="852.30" y2="1953.40" stroke="#000" stroke-width="2.5" />
<line x1="833.70" y1="1995.20" x2="852.30" y2="1995.20" stroke="#000" stroke-width="2.5" />
<line x1="895.40" y1="1953.40" x2="895.40" y2="1970.00" stroke="#000" stroke-width="2.5" />
<line x1="886.10" y1="1953.40" x2="904.70" y2="1953.40" stroke="#000" stroke-width="2.5" />
<line x1="886.10" y1="1970.00" x2="904.70" y2="1970.00" stroke="#000" stroke-width="2.5" />
<circle cx="726.50" cy="1938.60" r="6.40" fill="#000" />
<circle cx="748.30" cy="1949.10" r="6.40" fill="#000" />
<circle cx="737.60" cy="1969.10" r="6.40" fill="#000" />
<circle cx="778.80" cy="1916.90" r="6.40" fill="#000" />
<circle cx="802.00" cy="1923.00" r="6.40" fill="#000" />
<circle cx="790.40" cy="1941.00" r="6.40" fill="#000" />
<circle cx="843.20" cy="1951.10" r="6.40" fill="#000" />
<circle cx="831.90" cy="1989.70" r="6.40" fill="#000" />
<circle cx="854.20" cy="1983.60" r="6.40" fill="#000" />
<circle cx="884.10" cy="1952.60" r="6.40" fill="#000" />
<circle cx="906.50" cy="1964.20" r="6.40" fill="#000" />
<circle cx="884.70" cy="1970.00" r="6.40" fill="#000" />
<line x1="983.40" y1="1875.10" x2="983.40" y2="1915.40" stroke="#FF0A6E" stroke-width="2.5" />
<line x1="974.10" y1="1875.10" x2="992.70" y2="1875.10" stroke="#FF0A6E" stroke-width="2.5" />
<line x1="974.10" y1="1915.40" x2="992.70" y2="1915.40" stroke="#FF0A6E" stroke-width="2.5" />
<line x1="1035.60" y1="1822.90" x2="1035.60" y2="1863.50" stroke="#FF0A6E" stroke-width="2.5" />
<line x1="1026.30" y1="1822.90" x2="1044.90" y2="1822.90" stroke="#FF0A6E" stroke-width="2.5" />
<line x1="1026.30" y1="1863.50" x2="1044.90" y2="1863.50" stroke="#FF0A6E" stroke-width="2.5" />
<line x1="1088.40" y1="1876.50" x2="1088.40" y2="1891.40" stroke="#FF0A6E" stroke-width="2.5" />
<line x1="1079.10" y1="1876.50" x2="1097.70" y2="1876.50" stroke="#FF0A6E" stroke-width="2.5" />
<line x1="1079.10" y1="1891.40" x2="1097.70" y2="1891.40" stroke="#FF0A6E" stroke-width="2.5" />
<line x1="1140.40" y1="1833.90" x2="1140.40" y2="1850.30" stroke="#FF0A6E" stroke-width="2.5" />
<line x1="1131.10" y1="1833.90" x2="1149.70" y2="1833.90" stroke="#FF0A6E" stroke-width="2.5" />
<line x1="1131.10" y1="1850.30" x2="1149.70" y2="1850.30" stroke="#FF0A6E" stroke-width="2.5" />
<circle cx="983.40" cy="1871.30" r="6.50" fill="none" stroke="#FF0A6E" stroke-width="3.2" />
<circle cx="972.30" cy="1906.10" r="6.50" fill="none" stroke="#FF0A6E" stroke-width="3.2" />
<circle cx="994.40" cy="1906.10" r="6.50" fill="none" stroke="#FF0A6E" stroke-width="3.2" />
<circle cx="1024.90" cy="1827.20" r="6.50" fill="none" stroke="#FF0A6E" stroke-width="3.2" />
<circle cx="1047.20" cy="1836.50" r="6.50" fill="none" stroke="#FF0A6E" stroke-width="3.2" />
<circle cx="1035.60" cy="1864.10" r="6.50" fill="none" stroke="#FF0A6E" stroke-width="3.2" />
<circle cx="1077.50" cy="1876.90" r="6.50" fill="none" stroke="#FF0A6E" stroke-width="3.2" />
<circle cx="1100.20" cy="1885.50" r="6.50" fill="none" stroke="#FF0A6E" stroke-width="3.2" />
<circle cx="1077.50" cy="1890.20" r="6.50" fill="none" stroke="#FF0A6E" stroke-width="3.2" />
<circle cx="1130.30" cy="1833.50" r="6.50" fill="none" stroke="#FF0A6E" stroke-width="3.2" />
<circle cx="1153.00" cy="1845.20" r="6.50" fill="none" stroke="#FF0A6E" stroke-width="3.2" />
<circle cx="1130.30" cy="1848.30" r="6.50" fill="none" stroke="#FF0A6E" stroke-width="3.2" />
<line x1="739.00" y1="1827.80" x2="975.50" y2="1827.80" stroke="#000" stroke-width="2" />
<line x1="739.00" y1="1822.00" x2="739.00" y2="1833.60" stroke="#000" stroke-width="2" />
<line x1="975.50" y1="1822.00" x2="975.50" y2="1833.60" stroke="#000" stroke-width="2" />
<text x="816.50" y="1821.10" font-size="17.5" font-weight="bold" font-style="normal" fill="#000" text-anchor="start" stroke="#000" stroke-width="0.47" stroke-linejoin="round" textLength="85.0" lengthAdjust="spacingAndGlyphs" ><tspan font-style="italic">P</tspan><tspan> = 0.0167</tspan></text>
<line x1="788.40" y1="1792.40" x2="1037.00" y2="1792.40" stroke="#000" stroke-width="2" />
<line x1="788.40" y1="1786.60" x2="788.40" y2="1798.20" stroke="#000" stroke-width="2" />
<line x1="1037.00" y1="1786.60" x2="1037.00" y2="1798.20" stroke="#000" stroke-width="2" />
<text x="873.10" y="1786.60" font-size="17.5" font-weight="bold" font-style="normal" fill="#000" text-anchor="start" stroke="#000" stroke-width="0.47" stroke-linejoin="round" textLength="84.69999999999993" lengthAdjust="spacingAndGlyphs" ><tspan font-style="italic">P</tspan><tspan> = 0.0034</tspan></text>
<line x1="848.40" y1="1759.00" x2="1091.60" y2="1759.00" stroke="#000" stroke-width="2" />
<line x1="848.40" y1="1753.20" x2="848.40" y2="1764.80" stroke="#000" stroke-width="2" />
<line x1="1091.60" y1="1753.20" x2="1091.60" y2="1764.80" stroke="#000" stroke-width="2" />
<text x="922.40" y="1751.50" font-size="17.5" font-weight="bold" font-style="normal" fill="#000" text-anchor="start" stroke="#000" stroke-width="0.47" stroke-linejoin="round" textLength="84.70000000000005" lengthAdjust="spacingAndGlyphs" ><tspan font-style="italic">P</tspan><tspan> = 0.0021</tspan></text>
<line x1="894.90" y1="1725.40" x2="1138.10" y2="1725.40" stroke="#000" stroke-width="2" />
<line x1="894.90" y1="1719.60" x2="894.90" y2="1731.20" stroke="#000" stroke-width="2" />
<line x1="1138.10" y1="1719.60" x2="1138.10" y2="1731.20" stroke="#000" stroke-width="2" />
<text x="971.70" y="1717.50" font-size="17.5" font-weight="bold" font-style="normal" fill="#000" text-anchor="start" stroke="#000" stroke-width="0.47" stroke-linejoin="round" textLength="95.79999999999995" lengthAdjust="spacingAndGlyphs" ><tspan font-style="italic">P</tspan><tspan> = 0.00007</tspan></text>
<text x="703.30" y="2074.40" font-size="19" font-weight="bold" font-style="normal" fill="#000" text-anchor="start" stroke="#000" stroke-width="0.51" stroke-linejoin="round" textLength="67.60000000000002" lengthAdjust="spacingAndGlyphs" ><tspan>Control</tspan></text>
<text x="778.80" y="2074.40" font-size="19" font-weight="bold" font-style="normal" fill="#000" text-anchor="start" stroke="#000" stroke-width="0.51" stroke-linejoin="round" textLength="22.300000000000068" lengthAdjust="spacingAndGlyphs" ><tspan>E2</tspan></text>
<text x="819.40" y="2074.40" font-size="19" font-weight="bold" font-style="normal" fill="#000" text-anchor="start" stroke="#000" stroke-width="0.51" stroke-linejoin="round" textLength="46.39999999999998" lengthAdjust="spacingAndGlyphs" ><tspan>Rapa</tspan></text>
<text x="872.50" y="2074.40" font-size="19" font-weight="bold" font-style="normal" fill="#000" text-anchor="start" stroke="#000" stroke-width="0.51" stroke-linejoin="round" textLength="46.10000000000002" lengthAdjust="spacingAndGlyphs" ><tspan>Rapa</tspan></text>
<text x="877.40" y="2098.50" font-size="19" font-weight="bold" font-style="normal" fill="#000" text-anchor="start" stroke="#000" stroke-width="0.51" stroke-linejoin="round" textLength="36.30000000000007" lengthAdjust="spacingAndGlyphs" ><tspan>W/D</tspan></text>
<text x="949.10" y="2074.40" font-size="19" font-weight="bold" font-style="normal" fill="#000" text-anchor="start" stroke="#000" stroke-width="0.51" stroke-linejoin="round" textLength="67.60000000000002" lengthAdjust="spacingAndGlyphs" ><tspan>Control</tspan></text>
<text x="1025.40" y="2074.40" font-size="19" font-weight="bold" font-style="normal" fill="#000" text-anchor="start" stroke="#000" stroke-width="0.51" stroke-linejoin="round" textLength="21.799999999999955" lengthAdjust="spacingAndGlyphs" ><tspan>E2</tspan></text>
<text x="1065.70" y="2074.40" font-size="19" font-weight="bold" font-style="normal" fill="#000" text-anchor="start" stroke="#000" stroke-width="0.51" stroke-linejoin="round" textLength="46.200000000000045" lengthAdjust="spacingAndGlyphs" ><tspan>Rapa</tspan></text>
<text x="1118.90" y="2074.40" font-size="19" font-weight="bold" font-style="normal" fill="#000" text-anchor="start" stroke="#000" stroke-width="0.51" stroke-linejoin="round" textLength="45.799999999999955" lengthAdjust="spacingAndGlyphs" ><tspan>Rapa</tspan></text>
<text x="1123.60" y="2098.50" font-size="19" font-weight="bold" font-style="normal" fill="#000" text-anchor="start" stroke="#000" stroke-width="0.51" stroke-linejoin="round" textLength="35.200000000000045" lengthAdjust="spacingAndGlyphs" ><tspan>W/D</tspan></text>
<circle cx="726.50" cy="2125.20" r="7.30" fill="#000" />
<text x="745.40" y="2135.40" font-size="29" font-weight="bold" font-style="normal" fill="#000" text-anchor="start" stroke="#000" stroke-width="0.78" stroke-linejoin="round" textLength="229.3" lengthAdjust="spacingAndGlyphs" ><tspan>WT MLF support</tspan></text>
<circle cx="727.10" cy="2164.40" r="6.90" fill="none" stroke="#FF0A6E" stroke-width="3.2" />
<text x="746.00" y="2176.00" font-size="29" font-weight="bold" font-style="normal" fill="#FF0A6E" text-anchor="start" stroke="#FF0A6E" stroke-width="0.78" stroke-linejoin="round" textLength="280.9" lengthAdjust="spacingAndGlyphs" ><tspan font-style="italic">Tsc2</tspan><tspan font-size="19.5" dx="1" dy="-11.00">KO</tspan><tspan dy="11.00"> MLF support</tspan></text>
<text x="0" y="0" font-size="25" font-weight="bold" font-style="normal" fill="#000" text-anchor="start" stroke="#000" stroke-width="0.68" stroke-linejoin="round" textLength="358" lengthAdjust="spacingAndGlyphs" transform="translate(1352.60,2062.00) rotate(-90)" ><tspan>Organoid size distribution, </tspan><tspan font-weight="normal" stroke="none">µm</tspan></text>
<rect x="1459.20" y="1923.10" width="31.80" height="115.60" fill="url(#dots2)" />
<path d="M1459.20,2038.70 L1459.20,1923.10 L1491.00,1923.10 L1491.00,2038.70" fill="none" stroke="#000" stroke-width="2.8" />
<rect x="1511.80" y="1919.40" width="31.80" height="119.30" fill="url(#dots2)" />
<path d="M1511.80,2038.70 L1511.80,1919.40 L1543.60,1919.40 L1543.60,2038.70" fill="none" stroke="#000" stroke-width="2.8" />
<rect x="1564.40" y="1978.20" width="32.30" height="60.50" fill="url(#dots2)" />
<path d="M1564.40,2038.70 L1564.40,1978.20 L1596.70,1978.20 L1596.70,2038.70" fill="none" stroke="#000" stroke-width="2.8" />
<rect x="1617.00" y="1923.10" width="32.30" height="115.60" fill="url(#dots2)" />
<path d="M1617.00,2038.70 L1617.00,1923.10 L1649.30,1923.10 L1649.30,2038.70" fill="none" stroke="#000" stroke-width="2.8" />
<rect x="1704.90" y="1897.70" width="32.00" height="141.00" fill="#fff" />
<path d="M1704.90,2038.70 L1704.90,1897.70 L1736.90,1897.70 L1736.90,2038.70" fill="none" stroke="#FF0A6E" stroke-width="3.2" />
<rect x="1757.70" y="1872.60" width="32.00" height="166.10" fill="#fff" />
<path d="M1757.70,2038.70 L1757.70,1872.60 L1789.70,1872.60 L1789.70,2038.70" fill="none" stroke="#FF0A6E" stroke-width="3.2" />
<rect x="1810.50" y="1955.50" width="32.00" height="83.20" fill="#fff" />
<path d="M1810.50,2038.70 L1810.50,1955.50 L1842.50,1955.50 L1842.50,2038.70" fill="none" stroke="#FF0A6E" stroke-width="3.2" />
<rect x="1863.30" y="1891.00" width="32.00" height="147.70" fill="#fff" />
<path d="M1863.30,2038.70 L1863.30,1891.00 L1895.30,1891.00 L1895.30,2038.70" fill="none" stroke="#FF0A6E" stroke-width="3.2" />
<line x1="1440.30" y1="1719.85" x2="1440.30" y2="2040.15" stroke="#000" stroke-width="2.9" />
<line x1="1429.00" y1="2038.70" x2="1914.40" y2="2038.70" stroke="#000" stroke-width="2.9" />
<line x1="1429.00" y1="1721.30" x2="1440.30" y2="1721.30" stroke="#000" stroke-width="2.9" />
<text x="1415.20" y="1729.30" font-size="21.5" font-weight="bold" font-style="normal" fill="#000" text-anchor="end" stroke="#000" stroke-width="0.58" stroke-linejoin="round" ><tspan>100</tspan></text>
<line x1="1429.00" y1="1785.20" x2="1440.30" y2="1785.20" stroke="#000" stroke-width="2.9" />
<text x="1415.20" y="1793.20" font-size="21.5" font-weight="bold" font-style="normal" fill="#000" text-anchor="end" stroke="#000" stroke-width="0.58" stroke-linejoin="round" ><tspan>80</tspan></text>
<line x1="1429.00" y1="1848.30" x2="1440.30" y2="1848.30" stroke="#000" stroke-width="2.9" />
<text x="1415.20" y="1856.30" font-size="21.5" font-weight="bold" font-style="normal" fill="#000" text-anchor="end" stroke="#000" stroke-width="0.58" stroke-linejoin="round" ><tspan>60</tspan></text>
<line x1="1429.00" y1="1911.70" x2="1440.30" y2="1911.70" stroke="#000" stroke-width="2.9" />
<text x="1415.20" y="1919.70" font-size="21.5" font-weight="bold" font-style="normal" fill="#000" text-anchor="end" stroke="#000" stroke-width="0.58" stroke-linejoin="round" ><tspan>40</tspan></text>
<line x1="1429.00" y1="1975.10" x2="1440.30" y2="1975.10" stroke="#000" stroke-width="2.9" />
<text x="1415.20" y="1983.10" font-size="21.5" font-weight="bold" font-style="normal" fill="#000" text-anchor="end" stroke="#000" stroke-width="0.58" stroke-linejoin="round" ><tspan>20</tspan></text>
<line x1="1429.00" y1="2038.70" x2="1440.30" y2="2038.70" stroke="#000" stroke-width="2.9" />
<text x="1415.20" y="2046.70" font-size="21.5" font-weight="bold" font-style="normal" fill="#000" text-anchor="end" stroke="#000" stroke-width="0.58" stroke-linejoin="round" ><tspan>0</tspan></text>
<line x1="1474.60" y1="2038.70" x2="1474.60" y2="2049.50" stroke="#000" stroke-width="2.9" />
<line x1="1527.20" y1="2038.70" x2="1527.20" y2="2049.50" stroke="#000" stroke-width="2.9" />
<line x1="1580.10" y1="2038.70" x2="1580.10" y2="2049.50" stroke="#000" stroke-width="2.9" />
<line x1="1632.70" y1="2038.70" x2="1632.70" y2="2049.50" stroke="#000" stroke-width="2.9" />
<line x1="1719.70" y1="2038.70" x2="1719.70" y2="2049.50" stroke="#000" stroke-width="2.9" />
<line x1="1772.50" y1="2038.70" x2="1772.50" y2="2049.50" stroke="#000" stroke-width="2.9" />
<line x1="1825.30" y1="2038.70" x2="1825.30" y2="2049.50" stroke="#000" stroke-width="2.9" />
<line x1="1878.10" y1="2038.70" x2="1878.10" y2="2049.50" stroke="#000" stroke-width="2.9" />
<line x1="1474.60" y1="1906.70" x2="1474.60" y2="1936.80" stroke="#000" stroke-width="2" />
<line x1="1467.60" y1="1906.70" x2="1481.60" y2="1906.70" stroke="#000" stroke-width="2" />
<line x1="1467.60" y1="1936.80" x2="1481.60" y2="1936.80" stroke="#000" stroke-width="2" />
<circle cx="1477.88" cy="1921.02" r="3.70" fill="#000" />
<circle cx="1480.04" cy="1910.36" r="3.70" fill="#000" />
<circle cx="1474.74" cy="1933.12" r="3.70" fill="#000" />
<circle cx="1472.53" cy="1905.57" r="3.70" fill="#000" />
<circle cx="1479.54" cy="1907.06" r="3.70" fill="#000" />
<circle cx="1466.00" cy="1910.74" r="3.70" fill="#000" />
<circle cx="1481.78" cy="1941.69" r="3.70" fill="#000" />
<circle cx="1471.79" cy="1906.27" r="3.70" fill="#000" />
<circle cx="1482.46" cy="1908.11" r="3.70" fill="#000" />
<circle cx="1480.27" cy="1908.98" r="3.70" fill="#000" />
<circle cx="1473.89" cy="1904.41" r="3.70" fill="#000" />
<circle cx="1474.29" cy="1913.22" r="3.70" fill="#000" />
<circle cx="1480.62" cy="1906.34" r="3.70" fill="#000" />
<circle cx="1467.21" cy="1923.06" r="3.70" fill="#000" />
<circle cx="1479.00" cy="1942.47" r="3.70" fill="#000" />
<circle cx="1481.03" cy="1933.81" r="3.70" fill="#000" />
<circle cx="1477.78" cy="1897.59" r="3.70" fill="#000" />
<circle cx="1485.09" cy="1926.27" r="3.70" fill="#000" />
<circle cx="1473.61" cy="1913.72" r="3.70" fill="#000" />
<circle cx="1471.43" cy="1927.88" r="3.70" fill="#000" />
<circle cx="1475.72" cy="1891.81" r="3.70" fill="#000" />
<circle cx="1474.41" cy="1940.48" r="3.70" fill="#000" />
<circle cx="1467.66" cy="1922.33" r="3.70" fill="#000" />
<circle cx="1477.38" cy="1918.02" r="3.70" fill="#000" />
<circle cx="1471.86" cy="1909.33" r="3.70" fill="#000" />
<circle cx="1476.92" cy="1939.73" r="3.70" fill="#000" />
<circle cx="1467.11" cy="1907.82" r="3.70" fill="#000" />
<circle cx="1471.10" cy="1935.77" r="3.70" fill="#000" />
<circle cx="1485.76" cy="1934.76" r="3.70" fill="#000" />
<circle cx="1485.91" cy="1940.04" r="3.70" fill="#000" />
<circle cx="1482.61" cy="1940.95" r="3.70" fill="#000" />
<circle cx="1469.42" cy="1913.95" r="3.70" fill="#000" />
<circle cx="1462.54" cy="1929.62" r="3.70" fill="#000" />
<circle cx="1474.13" cy="1935.74" r="3.70" fill="#000" />
<circle cx="1467.82" cy="1928.52" r="3.70" fill="#000" />
<circle cx="1467.67" cy="1914.94" r="3.70" fill="#000" />
<circle cx="1477.82" cy="1895.51" r="3.70" fill="#000" />
<circle cx="1474.20" cy="1941.73" r="3.70" fill="#000" />
<circle cx="1475.30" cy="1927.07" r="3.70" fill="#000" />
<circle cx="1466.54" cy="1928.28" r="3.70" fill="#000" />
<circle cx="1485.28" cy="1935.95" r="3.70" fill="#000" />
<circle cx="1476.31" cy="1915.09" r="3.70" fill="#000" />
<circle cx="1475.56" cy="1931.08" r="3.70" fill="#000" />
<circle cx="1462.25" cy="1922.79" r="3.70" fill="#000" />
<circle cx="1461.26" cy="1937.54" r="3.70" fill="#000" />
<circle cx="1482.94" cy="1919.99" r="3.70" fill="#000" />
<circle cx="1472.80" cy="1911.29" r="3.70" fill="#000" />
<circle cx="1468.32" cy="1942.53" r="3.70" fill="#000" />
<circle cx="1472.17" cy="1891.82" r="3.70" fill="#000" />
<circle cx="1481.10" cy="1908.67" r="3.70" fill="#000" />
<line x1="1527.20" y1="1903.00" x2="1527.20" y2="1934.00" stroke="#000" stroke-width="2" />
<line x1="1520.20" y1="1903.00" x2="1534.20" y2="1903.00" stroke="#000" stroke-width="2" />
<line x1="1520.20" y1="1934.00" x2="1534.20" y2="1934.00" stroke="#000" stroke-width="2" />
<circle cx="1528.22" cy="1922.53" r="3.70" fill="#000" />
<circle cx="1519.63" cy="1909.88" r="3.70" fill="#000" />
<circle cx="1526.22" cy="1887.11" r="3.70" fill="#000" />
<circle cx="1517.49" cy="1931.00" r="3.70" fill="#000" />
<circle cx="1532.00" cy="1937.48" r="3.70" fill="#000" />
<circle cx="1526.19" cy="1920.16" r="3.70" fill="#000" />
<circle cx="1520.44" cy="1896.27" r="3.70" fill="#000" />
<circle cx="1532.11" cy="1925.06" r="3.70" fill="#000" />
<circle cx="1524.30" cy="1900.84" r="3.70" fill="#000" />
<circle cx="1521.50" cy="1918.02" r="3.70" fill="#000" />
<circle cx="1539.35" cy="1910.99" r="3.70" fill="#000" />
<circle cx="1527.34" cy="1893.70" r="3.70" fill="#000" />
<circle cx="1524.09" cy="1939.34" r="3.70" fill="#000" />
<circle cx="1528.52" cy="1930.52" r="3.70" fill="#000" />
<circle cx="1537.65" cy="1897.07" r="3.70" fill="#000" />
<circle cx="1540.34" cy="1906.36" r="3.70" fill="#000" />
<circle cx="1524.78" cy="1885.40" r="3.70" fill="#000" />
<circle cx="1526.22" cy="1935.20" r="3.70" fill="#000" />
<circle cx="1531.22" cy="1920.40" r="3.70" fill="#000" />
<circle cx="1524.21" cy="1910.35" r="3.70" fill="#000" />
<circle cx="1515.27" cy="1904.51" r="3.70" fill="#000" />
<circle cx="1532.61" cy="1904.94" r="3.70" fill="#000" />
<circle cx="1526.35" cy="1934.48" r="3.70" fill="#000" />
<circle cx="1526.85" cy="1907.71" r="3.70" fill="#000" />
<circle cx="1520.38" cy="1939.26" r="3.70" fill="#000" />
<circle cx="1533.06" cy="1909.84" r="3.70" fill="#000" />
<circle cx="1528.44" cy="1953.10" r="3.70" fill="#000" />
<circle cx="1534.37" cy="1933.36" r="3.70" fill="#000" />
<circle cx="1522.16" cy="1933.66" r="3.70" fill="#000" />
<circle cx="1528.68" cy="1946.48" r="3.70" fill="#000" />
<circle cx="1535.24" cy="1939.27" r="3.70" fill="#000" />
<circle cx="1525.15" cy="1889.14" r="3.70" fill="#000" />
<circle cx="1528.60" cy="1902.91" r="3.70" fill="#000" />
<circle cx="1531.93" cy="1888.98" r="3.70" fill="#000" />
<circle cx="1518.40" cy="1929.25" r="3.70" fill="#000" />
<circle cx="1524.15" cy="1951.83" r="3.70" fill="#000" />
<circle cx="1532.16" cy="1912.83" r="3.70" fill="#000" />
<circle cx="1522.24" cy="1919.02" r="3.70" fill="#000" />
<circle cx="1517.60" cy="1916.91" r="3.70" fill="#000" />
<circle cx="1529.71" cy="1924.00" r="3.70" fill="#000" />
<circle cx="1538.99" cy="1907.58" r="3.70" fill="#000" />
<circle cx="1530.35" cy="1908.74" r="3.70" fill="#000" />
<circle cx="1524.16" cy="1903.49" r="3.70" fill="#000" />
<circle cx="1539.35" cy="1903.77" r="3.70" fill="#000" />
<circle cx="1536.69" cy="1897.00" r="3.70" fill="#000" />
<circle cx="1527.23" cy="1920.38" r="3.70" fill="#000" />
<circle cx="1530.68" cy="1893.80" r="3.70" fill="#000" />
<circle cx="1528.36" cy="1900.15" r="3.70" fill="#000" />
<circle cx="1526.70" cy="1889.08" r="3.70" fill="#000" />
<circle cx="1522.44" cy="1946.22" r="3.70" fill="#000" />
<circle cx="1527.73" cy="1936.45" r="3.70" fill="#000" />
<circle cx="1526.41" cy="1887.16" r="3.70" fill="#000" />
<circle cx="1534.85" cy="1924.50" r="3.70" fill="#000" />
<circle cx="1533.68" cy="1938.50" r="3.70" fill="#000" />
<circle cx="1520.15" cy="1893.40" r="3.70" fill="#000" />
<line x1="1580.10" y1="1966.30" x2="1580.10" y2="1984.40" stroke="#000" stroke-width="2" />
<line x1="1573.10" y1="1966.30" x2="1587.10" y2="1966.30" stroke="#000" stroke-width="2" />
<line x1="1573.10" y1="1984.40" x2="1587.10" y2="1984.40" stroke="#000" stroke-width="2" />
<circle cx="1585.17" cy="1984.48" r="3.70" fill="#000" />
<circle cx="1589.56" cy="1972.95" r="3.70" fill="#000" />
<circle cx="1579.23" cy="1977.15" r="3.70" fill="#000" />
<circle cx="1574.28" cy="1982.03" r="3.70" fill="#000" />
<circle cx="1583.91" cy="1974.73" r="3.70" fill="#000" />
<circle cx="1567.56" cy="1980.43" r="3.70" fill="#000" />
<circle cx="1570.79" cy="1977.59" r="3.70" fill="#000" />
<circle cx="1566.21" cy="1972.94" r="3.70" fill="#000" />
<circle cx="1584.70" cy="1977.61" r="3.70" fill="#000" />
<circle cx="1593.03" cy="1973.28" r="3.70" fill="#000" />
<circle cx="1585.83" cy="1975.56" r="3.70" fill="#000" />
<circle cx="1570.55" cy="1983.15" r="3.70" fill="#000" />
<circle cx="1567.69" cy="1981.28" r="3.70" fill="#000" />
<circle cx="1583.95" cy="1976.49" r="3.70" fill="#000" />
<circle cx="1579.91" cy="1977.82" r="3.70" fill="#000" />
<circle cx="1589.30" cy="1978.88" r="3.70" fill="#000" />
<circle cx="1574.31" cy="1984.08" r="3.70" fill="#000" />
<circle cx="1580.68" cy="1985.42" r="3.70" fill="#000" />
<circle cx="1578.30" cy="1985.82" r="3.70" fill="#000" />
<circle cx="1585.06" cy="1985.62" r="3.70" fill="#000" />
<circle cx="1583.51" cy="1975.14" r="3.70" fill="#000" />
<circle cx="1584.51" cy="1978.17" r="3.70" fill="#000" />
<circle cx="1581.19" cy="1979.48" r="3.70" fill="#000" />
<circle cx="1593.60" cy="1981.24" r="3.70" fill="#000" />
<circle cx="1587.30" cy="1978.32" r="3.70" fill="#000" />
<circle cx="1569.70" cy="1982.17" r="3.70" fill="#000" />
<circle cx="1581.30" cy="1973.84" r="3.70" fill="#000" />
<circle cx="1570.90" cy="1982.17" r="3.70" fill="#000" />
<circle cx="1582.51" cy="1975.67" r="3.70" fill="#000" />
<circle cx="1571.43" cy="1977.49" r="3.70" fill="#000" />
<circle cx="1580.79" cy="1979.46" r="3.70" fill="#000" />
<circle cx="1571.50" cy="1983.08" r="3.70" fill="#000" />
<circle cx="1584.33" cy="1975.68" r="3.70" fill="#000" />
<circle cx="1583.04" cy="1984.51" r="3.70" fill="#000" />
<circle cx="1576.44" cy="1975.73" r="3.70" fill="#000" />
<circle cx="1581.23" cy="1974.49" r="3.70" fill="#000" />
<circle cx="1589.79" cy="1972.77" r="3.70" fill="#000" />
<circle cx="1587.20" cy="1978.52" r="3.70" fill="#000" />
<circle cx="1578.12" cy="1985.96" r="3.70" fill="#000" />
<circle cx="1585.03" cy="1972.53" r="3.70" fill="#000" />
<circle cx="1580.10" cy="1944.30" r="3.70" fill="#000" />
<line x1="1632.70" y1="1906.20" x2="1632.70" y2="1938.00" stroke="#000" stroke-width="2" />
<line x1="1625.70" y1="1906.20" x2="1639.70" y2="1906.20" stroke="#000" stroke-width="2" />
<line x1="1625.70" y1="1938.00" x2="1639.70" y2="1938.00" stroke="#000" stroke-width="2" />
<circle cx="1638.82" cy="1917.29" r="3.70" fill="#000" />
<circle cx="1635.25" cy="1906.82" r="3.70" fill="#000" />
<circle cx="1627.39" cy="1914.49" r="3.70" fill="#000" />
<circle cx="1632.70" cy="1924.79" r="3.70" fill="#000" />
<circle cx="1634.18" cy="1911.68" r="3.70" fill="#000" />
<circle cx="1637.37" cy="1920.79" r="3.70" fill="#000" />
<circle cx="1629.83" cy="1911.25" r="3.70" fill="#000" />
<circle cx="1638.34" cy="1923.79" r="3.70" fill="#000" />
<circle cx="1637.93" cy="1925.43" r="3.70" fill="#000" />
<circle cx="1633.30" cy="1891.63" r="3.70" fill="#000" />
<circle cx="1630.67" cy="1897.96" r="3.70" fill="#000" />
<circle cx="1629.55" cy="1908.87" r="3.70" fill="#000" />
<circle cx="1635.25" cy="1914.93" r="3.70" fill="#000" />
<circle cx="1630.60" cy="1920.59" r="3.70" fill="#000" />
<circle cx="1629.18" cy="1911.05" r="3.70" fill="#000" />
<circle cx="1633.18" cy="1888.60" r="3.70" fill="#000" />
<circle cx="1636.69" cy="1903.70" r="3.70" fill="#000" />
<circle cx="1634.97" cy="1900.63" r="3.70" fill="#000" />
<circle cx="1632.71" cy="1913.31" r="3.70" fill="#000" />
<circle cx="1634.27" cy="1911.22" r="3.70" fill="#000" />
<circle cx="1630.94" cy="1910.97" r="3.70" fill="#000" />
<circle cx="1632.16" cy="1919.07" r="3.70" fill="#000" />
<circle cx="1641.38" cy="1934.95" r="3.70" fill="#000" />
<circle cx="1631.35" cy="1937.68" r="3.70" fill="#000" />
<circle cx="1635.19" cy="1937.31" r="3.70" fill="#000" />
<circle cx="1622.65" cy="1936.69" r="3.70" fill="#000" />
<circle cx="1627.55" cy="1935.63" r="3.70" fill="#000" />
<circle cx="1623.30" cy="1933.81" r="3.70" fill="#000" />
<circle cx="1643.12" cy="1937.56" r="3.70" fill="#000" />
<circle cx="1633.73" cy="1934.23" r="3.70" fill="#000" />
<circle cx="1640.53" cy="1936.13" r="3.70" fill="#000" />
<circle cx="1633.86" cy="1938.05" r="3.70" fill="#000" />
<circle cx="1635.68" cy="1935.08" r="3.70" fill="#000" />
<circle cx="1635.00" cy="1934.82" r="3.70" fill="#000" />
<circle cx="1637.61" cy="1936.88" r="3.70" fill="#000" />
<circle cx="1627.24" cy="1935.47" r="3.70" fill="#000" />
<circle cx="1641.24" cy="1935.82" r="3.70" fill="#000" />
<circle cx="1644.44" cy="1936.74" r="3.70" fill="#000" />
<circle cx="1623.16" cy="1937.27" r="3.70" fill="#000" />
<circle cx="1646.64" cy="1934.02" r="3.70" fill="#000" />
<circle cx="1633.62" cy="1938.18" r="3.70" fill="#000" />
<circle cx="1637.62" cy="1935.72" r="3.70" fill="#000" />
<circle cx="1641.74" cy="1936.03" r="3.70" fill="#000" />
<circle cx="1620.41" cy="1935.37" r="3.70" fill="#000" />
<circle cx="1640.30" cy="1938.65" r="3.70" fill="#000" />
<circle cx="1621.06" cy="1935.50" r="3.70" fill="#000" />
<circle cx="1624.65" cy="1936.38" r="3.70" fill="#000" />
<circle cx="1630.45" cy="1939.12" r="3.70" fill="#000" />
<circle cx="1631.91" cy="1937.58" r="3.70" fill="#000" />
<circle cx="1623.65" cy="1935.86" r="3.70" fill="#000" />
<circle cx="1627.60" cy="1935.48" r="3.70" fill="#000" />
<circle cx="1630.47" cy="1939.44" r="3.70" fill="#000" />
<circle cx="1624.13" cy="1933.71" r="3.70" fill="#000" />
<circle cx="1637.71" cy="1935.69" r="3.70" fill="#000" />
<circle cx="1631.21" cy="1937.73" r="3.70" fill="#000" />
<circle cx="1628.96" cy="1936.93" r="3.70" fill="#000" />
<line x1="1720.20" y1="1876.70" x2="1720.20" y2="1913.00" stroke="#FF0A6E" stroke-width="2.2" />
<line x1="1711.20" y1="1876.70" x2="1729.20" y2="1876.70" stroke="#FF0A6E" stroke-width="2.2" />
<line x1="1711.20" y1="1913.00" x2="1729.20" y2="1913.00" stroke="#FF0A6E" stroke-width="2.2" />
<circle cx="1731.48" cy="1885.94" r="3.50" fill="none" stroke="#FF0A6E" stroke-width="2.0" />
<circle cx="1716.02" cy="1892.40" r="3.50" fill="none" stroke="#FF0A6E" stroke-width="2.0" />
<circle cx="1717.04" cy="1909.39" r="3.50" fill="none" stroke="#FF0A6E" stroke-width="2.0" />
<circle cx="1723.46" cy="1893.86" r="3.50" fill="none" stroke="#FF0A6E" stroke-width="2.0" />
<circle cx="1717.98" cy="1909.94" r="3.50" fill="none" stroke="#FF0A6E" stroke-width="2.0" />
<circle cx="1718.75" cy="1900.57" r="3.50" fill="none" stroke="#FF0A6E" stroke-width="2.0" />
<circle cx="1718.84" cy="1897.84" r="3.50" fill="none" stroke="#FF0A6E" stroke-width="2.0" />
<circle cx="1713.55" cy="1891.36" r="3.50" fill="none" stroke="#FF0A6E" stroke-width="2.0" />
<circle cx="1722.72" cy="1905.41" r="3.50" fill="none" stroke="#FF0A6E" stroke-width="2.0" />
<circle cx="1723.65" cy="1909.83" r="3.50" fill="none" stroke="#FF0A6E" stroke-width="2.0" />
<circle cx="1720.19" cy="1911.63" r="3.50" fill="none" stroke="#FF0A6E" stroke-width="2.0" />
<circle cx="1731.33" cy="1892.57" r="3.50" fill="none" stroke="#FF0A6E" stroke-width="2.0" />
<circle cx="1724.36" cy="1892.15" r="3.50" fill="none" stroke="#FF0A6E" stroke-width="2.0" />
<circle cx="1716.33" cy="1881.29" r="3.50" fill="none" stroke="#FF0A6E" stroke-width="2.0" />
<circle cx="1713.65" cy="1873.03" r="3.50" fill="none" stroke="#FF0A6E" stroke-width="2.0" />
<circle cx="1704.85" cy="1887.63" r="3.50" fill="none" stroke="#FF0A6E" stroke-width="2.0" />
<circle cx="1720.53" cy="1890.56" r="3.50" fill="none" stroke="#FF0A6E" stroke-width="2.0" />
<circle cx="1727.41" cy="1884.46" r="3.50" fill="none" stroke="#FF0A6E" stroke-width="2.0" />
<circle cx="1727.97" cy="1883.92" r="3.50" fill="none" stroke="#FF0A6E" stroke-width="2.0" />
<circle cx="1724.70" cy="1875.44" r="3.50" fill="none" stroke="#FF0A6E" stroke-width="2.0" />
<circle cx="1718.23" cy="1911.65" r="3.50" fill="none" stroke="#FF0A6E" stroke-width="2.0" />
<circle cx="1727.06" cy="1883.13" r="3.50" fill="none" stroke="#FF0A6E" stroke-width="2.0" />
<circle cx="1718.16" cy="1897.30" r="3.50" fill="none" stroke="#FF0A6E" stroke-width="2.0" />
<circle cx="1721.77" cy="1900.99" r="3.50" fill="none" stroke="#FF0A6E" stroke-width="2.0" />
<circle cx="1723.69" cy="1899.74" r="3.50" fill="none" stroke="#FF0A6E" stroke-width="2.0" />
<circle cx="1712.83" cy="1875.38" r="3.50" fill="none" stroke="#FF0A6E" stroke-width="2.0" />
<circle cx="1704.06" cy="1882.13" r="3.50" fill="none" stroke="#FF0A6E" stroke-width="2.0" />
<circle cx="1721.15" cy="1897.95" r="3.50" fill="none" stroke="#FF0A6E" stroke-width="2.0" />
<circle cx="1732.00" cy="1888.49" r="3.50" fill="none" stroke="#FF0A6E" stroke-width="2.0" />
<circle cx="1729.07" cy="1881.69" r="3.50" fill="none" stroke="#FF0A6E" stroke-width="2.0" />
<circle cx="1713.93" cy="1879.50" r="3.50" fill="none" stroke="#FF0A6E" stroke-width="2.0" />
<circle cx="1716.67" cy="1882.17" r="3.50" fill="none" stroke="#FF0A6E" stroke-width="2.0" />
<circle cx="1722.38" cy="1909.53" r="3.50" fill="none" stroke="#FF0A6E" stroke-width="2.0" />
<circle cx="1714.99" cy="1891.22" r="3.50" fill="none" stroke="#FF0A6E" stroke-width="2.0" />
<circle cx="1732.93" cy="1884.33" r="3.50" fill="none" stroke="#FF0A6E" stroke-width="2.0" />
<circle cx="1726.47" cy="1896.42" r="3.50" fill="none" stroke="#FF0A6E" stroke-width="2.0" />
<circle cx="1722.37" cy="1902.84" r="3.50" fill="none" stroke="#FF0A6E" stroke-width="2.0" />
<circle cx="1721.69" cy="1898.18" r="3.50" fill="none" stroke="#FF0A6E" stroke-width="2.0" />
<circle cx="1723.79" cy="1909.97" r="3.50" fill="none" stroke="#FF0A6E" stroke-width="2.0" />
<circle cx="1719.81" cy="1878.00" r="3.50" fill="none" stroke="#FF0A6E" stroke-width="2.0" />
<circle cx="1720.83" cy="1897.84" r="3.50" fill="none" stroke="#FF0A6E" stroke-width="2.0" />
<circle cx="1726.98" cy="1878.63" r="3.50" fill="none" stroke="#FF0A6E" stroke-width="2.0" />
<circle cx="1712.47" cy="1875.17" r="3.50" fill="none" stroke="#FF0A6E" stroke-width="2.0" />
<circle cx="1710.84" cy="1893.15" r="3.50" fill="none" stroke="#FF0A6E" stroke-width="2.0" />
<circle cx="1719.71" cy="1911.41" r="3.50" fill="none" stroke="#FF0A6E" stroke-width="2.0" />
<circle cx="1723.81" cy="1883.63" r="3.50" fill="none" stroke="#FF0A6E" stroke-width="2.0" />
<circle cx="1728.69" cy="1884.41" r="3.50" fill="none" stroke="#FF0A6E" stroke-width="2.0" />
<circle cx="1725.83" cy="1875.09" r="3.50" fill="none" stroke="#FF0A6E" stroke-width="2.0" />
<circle cx="1734.19" cy="1880.69" r="3.50" fill="none" stroke="#FF0A6E" stroke-width="2.0" />
<circle cx="1715.84" cy="1875.88" r="3.50" fill="none" stroke="#FF0A6E" stroke-width="2.0" />
<circle cx="1713.00" cy="1934.00" r="3.50" fill="none" stroke="#FF0A6E" stroke-width="2" />
<circle cx="1718.00" cy="1931.00" r="3.50" fill="none" stroke="#FF0A6E" stroke-width="2" />
<circle cx="1723.00" cy="1932.00" r="3.50" fill="none" stroke="#FF0A6E" stroke-width="2" />
<circle cx="1727.00" cy="1935.00" r="3.50" fill="none" stroke="#FF0A6E" stroke-width="2" />
<circle cx="1720.50" cy="1936.50" r="3.50" fill="none" stroke="#FF0A6E" stroke-width="2" />
<line x1="1773.60" y1="1850.40" x2="1773.60" y2="1890.00" stroke="#FF0A6E" stroke-width="2.2" />
<line x1="1764.60" y1="1850.40" x2="1782.60" y2="1850.40" stroke="#FF0A6E" stroke-width="2.2" />
<line x1="1764.60" y1="1890.00" x2="1782.60" y2="1890.00" stroke="#FF0A6E" stroke-width="2.2" />
<circle cx="1773.60" cy="1817.80" r="3.50" fill="none" stroke="#FF0A6E" stroke-width="2" />
<circle cx="1773.60" cy="1829.60" r="3.50" fill="none" stroke="#FF0A6E" stroke-width="2" />
<circle cx="1773.60" cy="1844.10" r="3.50" fill="none" stroke="#FF0A6E" stroke-width="2" />
<circle cx="1774.87" cy="1863.52" r="3.50" fill="none" stroke="#FF0A6E" stroke-width="2.0" />
<circle cx="1762.95" cy="1857.67" r="3.50" fill="none" stroke="#FF0A6E" stroke-width="2.0" />
<circle cx="1769.33" cy="1856.01" r="3.50" fill="none" stroke="#FF0A6E" stroke-width="2.0" />
<circle cx="1785.05" cy="1862.91" r="3.50" fill="none" stroke="#FF0A6E" stroke-width="2.0" />
<circle cx="1780.52" cy="1874.73" r="3.50" fill="none" stroke="#FF0A6E" stroke-width="2.0" />
<circle cx="1776.88" cy="1873.15" r="3.50" fill="none" stroke="#FF0A6E" stroke-width="2.0" />
<circle cx="1779.76" cy="1875.34" r="3.50" fill="none" stroke="#FF0A6E" stroke-width="2.0" />
<circle cx="1769.52" cy="1879.28" r="3.50" fill="none" stroke="#FF0A6E" stroke-width="2.0" />
<circle cx="1774.06" cy="1879.77" r="3.50" fill="none" stroke="#FF0A6E" stroke-width="2.0" />
<circle cx="1777.01" cy="1880.95" r="3.50" fill="none" stroke="#FF0A6E" stroke-width="2.0" />
<circle cx="1771.00" cy="1867.50" r="3.50" fill="none" stroke="#FF0A6E" stroke-width="2.0" />
<circle cx="1765.34" cy="1862.49" r="3.50" fill="none" stroke="#FF0A6E" stroke-width="2.0" />
<circle cx="1775.00" cy="1886.43" r="3.50" fill="none" stroke="#FF0A6E" stroke-width="2.0" />
<circle cx="1782.24" cy="1856.47" r="3.50" fill="none" stroke="#FF0A6E" stroke-width="2.0" />
<circle cx="1780.28" cy="1865.38" r="3.50" fill="none" stroke="#FF0A6E" stroke-width="2.0" />
<circle cx="1789.59" cy="1865.54" r="3.50" fill="none" stroke="#FF0A6E" stroke-width="2.0" />
<circle cx="1771.52" cy="1872.37" r="3.50" fill="none" stroke="#FF0A6E" stroke-width="2.0" />
<circle cx="1779.55" cy="1866.84" r="3.50" fill="none" stroke="#FF0A6E" stroke-width="2.0" />
<circle cx="1771.26" cy="1866.92" r="3.50" fill="none" stroke="#FF0A6E" stroke-width="2.0" />
<circle cx="1771.33" cy="1856.46" r="3.50" fill="none" stroke="#FF0A6E" stroke-width="2.0" />
<circle cx="1790.34" cy="1866.71" r="3.50" fill="none" stroke="#FF0A6E" stroke-width="2.0" />
<circle cx="1777.52" cy="1886.30" r="3.50" fill="none" stroke="#FF0A6E" stroke-width="2.0" />
<circle cx="1786.99" cy="1865.87" r="3.50" fill="none" stroke="#FF0A6E" stroke-width="2.0" />
<circle cx="1771.09" cy="1856.81" r="3.50" fill="none" stroke="#FF0A6E" stroke-width="2.0" />
<circle cx="1758.54" cy="1864.28" r="3.50" fill="none" stroke="#FF0A6E" stroke-width="2.0" />
<circle cx="1769.14" cy="1879.57" r="3.50" fill="none" stroke="#FF0A6E" stroke-width="2.0" />
<circle cx="1783.68" cy="1863.35" r="3.50" fill="none" stroke="#FF0A6E" stroke-width="2.0" />
<circle cx="1762.47" cy="1867.71" r="3.50" fill="none" stroke="#FF0A6E" stroke-width="2.0" />
<circle cx="1777.25" cy="1877.21" r="3.50" fill="none" stroke="#FF0A6E" stroke-width="2.0" />
<circle cx="1785.10" cy="1859.78" r="3.50" fill="none" stroke="#FF0A6E" stroke-width="2.0" />
<circle cx="1777.03" cy="1868.59" r="3.50" fill="none" stroke="#FF0A6E" stroke-width="2.0" />
<circle cx="1784.51" cy="1863.97" r="3.50" fill="none" stroke="#FF0A6E" stroke-width="2.0" />
<circle cx="1762.24" cy="1860.42" r="3.50" fill="none" stroke="#FF0A6E" stroke-width="2.0" />
<circle cx="1778.49" cy="1865.86" r="3.50" fill="none" stroke="#FF0A6E" stroke-width="2.0" />
<circle cx="1789.34" cy="1864.04" r="3.50" fill="none" stroke="#FF0A6E" stroke-width="2.0" />
<circle cx="1763.56" cy="1866.72" r="3.50" fill="none" stroke="#FF0A6E" stroke-width="2.0" />
<circle cx="1760.45" cy="1861.80" r="3.50" fill="none" stroke="#FF0A6E" stroke-width="2.0" />
<circle cx="1769.56" cy="1861.15" r="3.50" fill="none" stroke="#FF0A6E" stroke-width="2.0" />
<circle cx="1780.73" cy="1875.49" r="3.50" fill="none" stroke="#FF0A6E" stroke-width="2.0" />
<circle cx="1781.33" cy="1860.84" r="3.50" fill="none" stroke="#FF0A6E" stroke-width="2.0" />
<circle cx="1789.76" cy="1867.51" r="3.50" fill="none" stroke="#FF0A6E" stroke-width="2.0" />
<circle cx="1768.77" cy="1862.50" r="3.50" fill="none" stroke="#FF0A6E" stroke-width="2.0" />
<circle cx="1760.05" cy="1863.19" r="3.50" fill="none" stroke="#FF0A6E" stroke-width="2.0" />
<circle cx="1784.34" cy="1866.56" r="3.50" fill="none" stroke="#FF0A6E" stroke-width="2.0" />
<circle cx="1779.05" cy="1878.84" r="3.50" fill="none" stroke="#FF0A6E" stroke-width="2.0" />
<circle cx="1758.44" cy="1866.44" r="3.50" fill="none" stroke="#FF0A6E" stroke-width="2.0" />
<circle cx="1768.61" cy="1877.08" r="3.50" fill="none" stroke="#FF0A6E" stroke-width="2.0" />
<circle cx="1783.63" cy="1862.72" r="3.50" fill="none" stroke="#FF0A6E" stroke-width="2.0" />
<circle cx="1788.01" cy="1867.81" r="3.50" fill="none" stroke="#FF0A6E" stroke-width="2.0" />
<circle cx="1769.32" cy="1873.80" r="3.50" fill="none" stroke="#FF0A6E" stroke-width="2.0" />
<circle cx="1770.88" cy="1889.05" r="3.50" fill="none" stroke="#FF0A6E" stroke-width="2.0" />
<circle cx="1782.32" cy="1867.88" r="3.50" fill="none" stroke="#FF0A6E" stroke-width="2.0" />
<circle cx="1789.30" cy="1864.46" r="3.50" fill="none" stroke="#FF0A6E" stroke-width="2.0" />
<circle cx="1776.56" cy="1856.37" r="3.50" fill="none" stroke="#FF0A6E" stroke-width="2.0" />
<circle cx="1773.34" cy="1889.47" r="3.50" fill="none" stroke="#FF0A6E" stroke-width="2.0" />
<circle cx="1770.79" cy="1879.72" r="3.50" fill="none" stroke="#FF0A6E" stroke-width="2.0" />
<circle cx="1783.20" cy="1862.60" r="3.50" fill="none" stroke="#FF0A6E" stroke-width="2.0" />
<circle cx="1783.93" cy="1857.73" r="3.50" fill="none" stroke="#FF0A6E" stroke-width="2.0" />
<circle cx="1774.62" cy="1866.29" r="3.50" fill="none" stroke="#FF0A6E" stroke-width="2.0" />
<circle cx="1773.49" cy="1885.13" r="3.50" fill="none" stroke="#FF0A6E" stroke-width="2.0" />
<circle cx="1770.06" cy="1887.52" r="3.50" fill="none" stroke="#FF0A6E" stroke-width="2.0" />
<circle cx="1786.17" cy="1873.99" r="3.50" fill="none" stroke="#FF0A6E" stroke-width="2.0" />
<circle cx="1772.59" cy="1884.93" r="3.50" fill="none" stroke="#FF0A6E" stroke-width="2.0" />
<circle cx="1763.61" cy="1862.76" r="3.50" fill="none" stroke="#FF0A6E" stroke-width="2.0" />
<circle cx="1758.35" cy="1867.30" r="3.50" fill="none" stroke="#FF0A6E" stroke-width="2.0" />
<circle cx="1779.07" cy="1875.98" r="3.50" fill="none" stroke="#FF0A6E" stroke-width="2.0" />
<circle cx="1769.81" cy="1879.27" r="3.50" fill="none" stroke="#FF0A6E" stroke-width="2.0" />
<circle cx="1767.88" cy="1857.91" r="3.50" fill="none" stroke="#FF0A6E" stroke-width="2.0" />
<circle cx="1775.22" cy="1889.22" r="3.50" fill="none" stroke="#FF0A6E" stroke-width="2.0" />
<circle cx="1773.16" cy="1872.44" r="3.50" fill="none" stroke="#FF0A6E" stroke-width="2.0" />
<circle cx="1772.25" cy="1903.52" r="3.50" fill="none" stroke="#FF0A6E" stroke-width="2.0" />
<circle cx="1768.23" cy="1908.46" r="3.50" fill="none" stroke="#FF0A6E" stroke-width="2.0" />
<circle cx="1778.41" cy="1900.05" r="3.50" fill="none" stroke="#FF0A6E" stroke-width="2.0" />
<circle cx="1771.53" cy="1907.43" r="3.50" fill="none" stroke="#FF0A6E" stroke-width="2.0" />
<circle cx="1778.28" cy="1909.36" r="3.50" fill="none" stroke="#FF0A6E" stroke-width="2.0" />
<circle cx="1774.95" cy="1902.32" r="3.50" fill="none" stroke="#FF0A6E" stroke-width="2.0" />
<circle cx="1771.38" cy="1909.90" r="3.50" fill="none" stroke="#FF0A6E" stroke-width="2.0" />
<circle cx="1774.60" cy="1900.11" r="3.50" fill="none" stroke="#FF0A6E" stroke-width="2.0" />
<circle cx="1771.22" cy="1898.58" r="3.50" fill="none" stroke="#FF0A6E" stroke-width="2.0" />
<line x1="1826.00" y1="1946.00" x2="1826.00" y2="1957.00" stroke="#FF0A6E" stroke-width="2.2" />
<line x1="1817.00" y1="1946.00" x2="1835.00" y2="1946.00" stroke="#FF0A6E" stroke-width="2.2" />
<line x1="1817.00" y1="1957.00" x2="1835.00" y2="1957.00" stroke="#FF0A6E" stroke-width="2.2" />
<circle cx="1826.46" cy="1956.33" r="3.30" fill="none" stroke="#FF0A6E" stroke-width="2.0" />
<circle cx="1823.97" cy="1959.87" r="3.30" fill="none" stroke="#FF0A6E" stroke-width="2.0" />
<circle cx="1834.61" cy="1952.91" r="3.30" fill="none" stroke="#FF0A6E" stroke-width="2.0" />
<circle cx="1834.85" cy="1951.37" r="3.30" fill="none" stroke="#FF0A6E" stroke-width="2.0" />
<circle cx="1829.58" cy="1947.20" r="3.30" fill="none" stroke="#FF0A6E" stroke-width="2.0" />
<circle cx="1829.82" cy="1955.46" r="3.30" fill="none" stroke="#FF0A6E" stroke-width="2.0" />
<circle cx="1825.49" cy="1946.05" r="3.30" fill="none" stroke="#FF0A6E" stroke-width="2.0" />
<circle cx="1839.51" cy="1952.20" r="3.30" fill="none" stroke="#FF0A6E" stroke-width="2.0" />
<circle cx="1825.45" cy="1947.36" r="3.30" fill="none" stroke="#FF0A6E" stroke-width="2.0" />
<circle cx="1814.30" cy="1948.71" r="3.30" fill="none" stroke="#FF0A6E" stroke-width="2.0" />
<circle cx="1828.95" cy="1945.64" r="3.30" fill="none" stroke="#FF0A6E" stroke-width="2.0" />
<circle cx="1839.78" cy="1950.12" r="3.30" fill="none" stroke="#FF0A6E" stroke-width="2.0" />
<circle cx="1840.48" cy="1950.01" r="3.30" fill="none" stroke="#FF0A6E" stroke-width="2.0" />
<circle cx="1833.93" cy="1955.88" r="3.30" fill="none" stroke="#FF0A6E" stroke-width="2.0" />
<circle cx="1823.98" cy="1946.72" r="3.30" fill="none" stroke="#FF0A6E" stroke-width="2.0" />
<circle cx="1823.48" cy="1955.79" r="3.30" fill="none" stroke="#FF0A6E" stroke-width="2.0" />
<circle cx="1816.04" cy="1948.37" r="3.30" fill="none" stroke="#FF0A6E" stroke-width="2.0" />
<circle cx="1827.06" cy="1956.05" r="3.30" fill="none" stroke="#FF0A6E" stroke-width="2.0" />
<circle cx="1826.65" cy="1955.60" r="3.30" fill="none" stroke="#FF0A6E" stroke-width="2.0" />
<circle cx="1823.17" cy="1951.89" r="3.30" fill="none" stroke="#FF0A6E" stroke-width="2.0" />
<circle cx="1814.92" cy="1950.57" r="3.30" fill="none" stroke="#FF0A6E" stroke-width="2.0" />
<circle cx="1828.11" cy="1947.62" r="3.30" fill="none" stroke="#FF0A6E" stroke-width="2.0" />
<circle cx="1830.30" cy="1954.94" r="3.30" fill="none" stroke="#FF0A6E" stroke-width="2.0" />
<circle cx="1836.23" cy="1951.63" r="3.30" fill="none" stroke="#FF0A6E" stroke-width="2.0" />
<circle cx="1830.57" cy="1951.18" r="3.30" fill="none" stroke="#FF0A6E" stroke-width="2.0" />
<circle cx="1826.56" cy="1948.55" r="3.30" fill="none" stroke="#FF0A6E" stroke-width="2.0" />
<circle cx="1837.91" cy="1947.19" r="3.30" fill="none" stroke="#FF0A6E" stroke-width="2.0" />
<circle cx="1821.43" cy="1956.56" r="3.30" fill="none" stroke="#FF0A6E" stroke-width="2.0" />
<circle cx="1815.24" cy="1955.71" r="3.30" fill="none" stroke="#FF0A6E" stroke-width="2.0" />
<circle cx="1830.61" cy="1947.15" r="3.30" fill="none" stroke="#FF0A6E" stroke-width="2.0" />
<circle cx="1831.62" cy="1946.67" r="3.30" fill="none" stroke="#FF0A6E" stroke-width="2.0" />
<circle cx="1832.96" cy="1949.88" r="3.30" fill="none" stroke="#FF0A6E" stroke-width="2.0" />
<circle cx="1825.53" cy="1952.48" r="3.30" fill="none" stroke="#FF0A6E" stroke-width="2.0" />
<circle cx="1834.44" cy="1957.07" r="3.30" fill="none" stroke="#FF0A6E" stroke-width="2.0" />
<circle cx="1825.87" cy="1958.33" r="3.30" fill="none" stroke="#FF0A6E" stroke-width="2.0" />
<circle cx="1812.55" cy="1950.88" r="3.30" fill="none" stroke="#FF0A6E" stroke-width="2.0" />
<circle cx="1829.16" cy="1958.84" r="3.30" fill="none" stroke="#FF0A6E" stroke-width="2.0" />
<circle cx="1834.40" cy="1957.31" r="3.30" fill="none" stroke="#FF0A6E" stroke-width="2.0" />
<circle cx="1814.21" cy="1953.90" r="3.30" fill="none" stroke="#FF0A6E" stroke-width="2.0" />
<circle cx="1835.73" cy="1951.86" r="3.30" fill="none" stroke="#FF0A6E" stroke-width="2.0" />
<circle cx="1822.31" cy="1952.95" r="3.30" fill="none" stroke="#FF0A6E" stroke-width="2.0" />
<circle cx="1828.93" cy="1952.98" r="3.30" fill="none" stroke="#FF0A6E" stroke-width="2.0" />
<circle cx="1811.41" cy="1947.80" r="3.30" fill="none" stroke="#FF0A6E" stroke-width="2.0" />
<circle cx="1834.78" cy="1949.57" r="3.30" fill="none" stroke="#FF0A6E" stroke-width="2.0" />
<circle cx="1813.14" cy="1948.02" r="3.30" fill="none" stroke="#FF0A6E" stroke-width="2.0" />
<circle cx="1838.62" cy="1947.93" r="3.30" fill="none" stroke="#FF0A6E" stroke-width="2.0" />
<circle cx="1823.07" cy="1947.65" r="3.30" fill="none" stroke="#FF0A6E" stroke-width="2.0" />
<circle cx="1809.79" cy="1949.39" r="3.30" fill="none" stroke="#FF0A6E" stroke-width="2.0" />
<circle cx="1825.69" cy="1948.62" r="3.30" fill="none" stroke="#FF0A6E" stroke-width="2.0" />
<circle cx="1832.17" cy="1949.67" r="3.30" fill="none" stroke="#FF0A6E" stroke-width="2.0" />
<circle cx="1832.75" cy="1955.19" r="3.30" fill="none" stroke="#FF0A6E" stroke-width="2.0" />
<circle cx="1826.54" cy="1959.95" r="3.30" fill="none" stroke="#FF0A6E" stroke-width="2.0" />
<circle cx="1834.97" cy="1950.72" r="3.30" fill="none" stroke="#FF0A6E" stroke-width="2.0" />
<circle cx="1829.83" cy="1952.12" r="3.30" fill="none" stroke="#FF0A6E" stroke-width="2.0" />
<circle cx="1821.05" cy="1958.72" r="3.30" fill="none" stroke="#FF0A6E" stroke-width="2.0" />
<circle cx="1826.00" cy="1965.50" r="3.30" fill="none" stroke="#FF0A6E" stroke-width="2" />
<line x1="1878.80" y1="1865.50" x2="1878.80" y2="1905.00" stroke="#FF0A6E" stroke-width="2.2" />
<line x1="1869.80" y1="1865.50" x2="1887.80" y2="1865.50" stroke="#FF0A6E" stroke-width="2.2" />
<line x1="1869.80" y1="1905.00" x2="1887.80" y2="1905.00" stroke="#FF0A6E" stroke-width="2.2" />
<circle cx="1876.37" cy="1860.72" r="3.50" fill="none" stroke="#FF0A6E" stroke-width="2.0" />
<circle cx="1880.74" cy="1901.49" r="3.50" fill="none" stroke="#FF0A6E" stroke-width="2.0" />
<circle cx="1882.85" cy="1884.58" r="3.50" fill="none" stroke="#FF0A6E" stroke-width="2.0" />
<circle cx="1866.26" cy="1894.69" r="3.50" fill="none" stroke="#FF0A6E" stroke-width="2.0" />
<circle cx="1877.51" cy="1910.93" r="3.50" fill="none" stroke="#FF0A6E" stroke-width="2.0" />
<circle cx="1886.26" cy="1869.41" r="3.50" fill="none" stroke="#FF0A6E" stroke-width="2.0" />
<circle cx="1879.59" cy="1871.38" r="3.50" fill="none" stroke="#FF0A6E" stroke-width="2.0" />
<circle cx="1874.01" cy="1875.78" r="3.50" fill="none" stroke="#FF0A6E" stroke-width="2.0" />
<circle cx="1890.87" cy="1891.42" r="3.50" fill="none" stroke="#FF0A6E" stroke-width="2.0" />
<circle cx="1890.09" cy="1904.19" r="3.50" fill="none" stroke="#FF0A6E" stroke-width="2.0" />
<circle cx="1877.16" cy="1866.55" r="3.50" fill="none" stroke="#FF0A6E" stroke-width="2.0" />
<circle cx="1883.75" cy="1913.06" r="3.50" fill="none" stroke="#FF0A6E" stroke-width="2.0" />
<circle cx="1876.98" cy="1903.69" r="3.50" fill="none" stroke="#FF0A6E" stroke-width="2.0" />
<circle cx="1871.77" cy="1860.52" r="3.50" fill="none" stroke="#FF0A6E" stroke-width="2.0" />
<circle cx="1892.69" cy="1898.24" r="3.50" fill="none" stroke="#FF0A6E" stroke-width="2.0" />
<circle cx="1867.54" cy="1886.69" r="3.50" fill="none" stroke="#FF0A6E" stroke-width="2.0" />
<circle cx="1867.94" cy="1888.46" r="3.50" fill="none" stroke="#FF0A6E" stroke-width="2.0" />
<circle cx="1877.07" cy="1921.08" r="3.50" fill="none" stroke="#FF0A6E" stroke-width="2.0" />
<circle cx="1873.55" cy="1861.19" r="3.50" fill="none" stroke="#FF0A6E" stroke-width="2.0" />
<circle cx="1874.24" cy="1896.79" r="3.50" fill="none" stroke="#FF0A6E" stroke-width="2.0" />
<circle cx="1873.56" cy="1887.19" r="3.50" fill="none" stroke="#FF0A6E" stroke-width="2.0" />
<circle cx="1873.69" cy="1880.94" r="3.50" fill="none" stroke="#FF0A6E" stroke-width="2.0" />
<circle cx="1876.56" cy="1891.50" r="3.50" fill="none" stroke="#FF0A6E" stroke-width="2.0" />
<circle cx="1871.82" cy="1889.81" r="3.50" fill="none" stroke="#FF0A6E" stroke-width="2.0" />
<circle cx="1882.03" cy="1882.92" r="3.50" fill="none" stroke="#FF0A6E" stroke-width="2.0" />
<circle cx="1890.50" cy="1889.81" r="3.50" fill="none" stroke="#FF0A6E" stroke-width="2.0" />
<circle cx="1870.79" cy="1919.71" r="3.50" fill="none" stroke="#FF0A6E" stroke-width="2.0" />
<circle cx="1874.50" cy="1906.12" r="3.50" fill="none" stroke="#FF0A6E" stroke-width="2.0" />
<circle cx="1893.96" cy="1893.82" r="3.50" fill="none" stroke="#FF0A6E" stroke-width="2.0" />
<circle cx="1866.30" cy="1902.53" r="3.50" fill="none" stroke="#FF0A6E" stroke-width="2.0" />
<circle cx="1883.79" cy="1870.17" r="3.50" fill="none" stroke="#FF0A6E" stroke-width="2.0" />
<circle cx="1884.76" cy="1841.03" r="3.50" fill="none" stroke="#FF0A6E" stroke-width="2.0" />
<circle cx="1878.03" cy="1851.25" r="3.50" fill="none" stroke="#FF0A6E" stroke-width="2.0" />
<circle cx="1879.54" cy="1874.45" r="3.50" fill="none" stroke="#FF0A6E" stroke-width="2.0" />
<circle cx="1867.43" cy="1918.18" r="3.50" fill="none" stroke="#FF0A6E" stroke-width="2.0" />
<circle cx="1881.50" cy="1873.61" r="3.50" fill="none" stroke="#FF0A6E" stroke-width="2.0" />
<circle cx="1882.25" cy="1885.34" r="3.50" fill="none" stroke="#FF0A6E" stroke-width="2.0" />
<circle cx="1891.41" cy="1918.72" r="3.50" fill="none" stroke="#FF0A6E" stroke-width="2.0" />
<circle cx="1865.27" cy="1920.40" r="3.50" fill="none" stroke="#FF0A6E" stroke-width="2.0" />
<circle cx="1879.52" cy="1901.18" r="3.50" fill="none" stroke="#FF0A6E" stroke-width="2.0" />
<circle cx="1876.86" cy="1894.61" r="3.50" fill="none" stroke="#FF0A6E" stroke-width="2.0" />
<circle cx="1888.01" cy="1856.13" r="3.50" fill="none" stroke="#FF0A6E" stroke-width="2.0" />
<circle cx="1894.30" cy="1898.49" r="3.50" fill="none" stroke="#FF0A6E" stroke-width="2.0" />
<circle cx="1880.41" cy="1871.82" r="3.50" fill="none" stroke="#FF0A6E" stroke-width="2.0" />
<circle cx="1863.73" cy="1907.24" r="3.50" fill="none" stroke="#FF0A6E" stroke-width="2.0" />
<circle cx="1875.87" cy="1892.77" r="3.50" fill="none" stroke="#FF0A6E" stroke-width="2.0" />
<circle cx="1874.26" cy="1906.17" r="3.50" fill="none" stroke="#FF0A6E" stroke-width="2.0" />
<circle cx="1878.81" cy="1856.86" r="3.50" fill="none" stroke="#FF0A6E" stroke-width="2.0" />
<circle cx="1887.27" cy="1909.77" r="3.50" fill="none" stroke="#FF0A6E" stroke-width="2.0" />
<circle cx="1880.68" cy="1861.09" r="3.50" fill="none" stroke="#FF0A6E" stroke-width="2.0" />
<circle cx="1886.91" cy="1850.26" r="3.50" fill="none" stroke="#FF0A6E" stroke-width="2.0" />
<circle cx="1890.64" cy="1869.77" r="3.50" fill="none" stroke="#FF0A6E" stroke-width="2.0" />
<circle cx="1874.91" cy="1858.09" r="3.50" fill="none" stroke="#FF0A6E" stroke-width="2.0" />
<circle cx="1866.78" cy="1894.70" r="3.50" fill="none" stroke="#FF0A6E" stroke-width="2.0" />
<circle cx="1873.09" cy="1876.89" r="3.50" fill="none" stroke="#FF0A6E" stroke-width="2.0" />
<circle cx="1863.26" cy="1913.04" r="3.50" fill="none" stroke="#FF0A6E" stroke-width="2.0" />
<circle cx="1887.00" cy="1847.83" r="3.50" fill="none" stroke="#FF0A6E" stroke-width="2.0" />
<circle cx="1865.98" cy="1906.68" r="3.50" fill="none" stroke="#FF0A6E" stroke-width="2.0" />
<circle cx="1874.08" cy="1881.65" r="3.50" fill="none" stroke="#FF0A6E" stroke-width="2.0" />
<circle cx="1878.24" cy="1845.63" r="3.50" fill="none" stroke="#FF0A6E" stroke-width="2.0" />
<circle cx="1868.87" cy="1856.64" r="3.50" fill="none" stroke="#FF0A6E" stroke-width="2.0" />
<circle cx="1885.20" cy="1842.14" r="3.50" fill="none" stroke="#FF0A6E" stroke-width="2.0" />
<circle cx="1877.96" cy="1847.45" r="3.50" fill="none" stroke="#FF0A6E" stroke-width="2.0" />
<circle cx="1892.47" cy="1884.57" r="3.50" fill="none" stroke="#FF0A6E" stroke-width="2.0" />
<circle cx="1876.58" cy="1905.12" r="3.50" fill="none" stroke="#FF0A6E" stroke-width="2.0" />
<circle cx="1891.28" cy="1898.91" r="3.50" fill="none" stroke="#FF0A6E" stroke-width="2.0" />
<circle cx="1879.85" cy="1909.18" r="3.50" fill="none" stroke="#FF0A6E" stroke-width="2.0" />
<circle cx="1872.10" cy="1881.36" r="3.50" fill="none" stroke="#FF0A6E" stroke-width="2.0" />
<circle cx="1869.32" cy="1856.64" r="3.50" fill="none" stroke="#FF0A6E" stroke-width="2.0" />
<circle cx="1886.59" cy="1905.53" r="3.50" fill="none" stroke="#FF0A6E" stroke-width="2.0" />
<circle cx="1872.21" cy="1878.25" r="3.50" fill="none" stroke="#FF0A6E" stroke-width="2.0" />
<circle cx="1887.35" cy="1886.34" r="3.50" fill="none" stroke="#FF0A6E" stroke-width="2.0" />
<circle cx="1877.68" cy="1866.38" r="3.50" fill="none" stroke="#FF0A6E" stroke-width="2.0" />
<circle cx="1880.21" cy="1900.82" r="3.50" fill="none" stroke="#FF0A6E" stroke-width="2.0" />
<circle cx="1892.47" cy="1920.31" r="3.50" fill="none" stroke="#FF0A6E" stroke-width="2.0" />
<line x1="1477.40" y1="1828.30" x2="1713.00" y2="1828.30" stroke="#000" stroke-width="2" />
<line x1="1477.40" y1="1822.80" x2="1477.40" y2="1833.80" stroke="#000" stroke-width="2" />
<line x1="1713.00" y1="1822.80" x2="1713.00" y2="1833.80" stroke="#000" stroke-width="2" />
<text x="1540.60" y="1821.80" font-size="17.3" font-weight="bold" font-style="normal" fill="#000" text-anchor="start" stroke="#000" stroke-width="0.47" stroke-linejoin="round" textLength="103.10000000000014" lengthAdjust="spacingAndGlyphs" ><tspan font-style="italic">P</tspan><tspan> &lt; 0.000001</tspan></text>
<line x1="1526.20" y1="1793.50" x2="1774.40" y2="1793.50" stroke="#000" stroke-width="2" />
<line x1="1526.20" y1="1788.00" x2="1526.20" y2="1799.00" stroke="#000" stroke-width="2" />
<line x1="1774.40" y1="1788.00" x2="1774.40" y2="1799.00" stroke="#000" stroke-width="2" />
<text x="1608.10" y="1786.50" font-size="17.3" font-weight="bold" font-style="normal" fill="#000" text-anchor="start" stroke="#000" stroke-width="0.47" stroke-linejoin="round" textLength="101.80000000000018" lengthAdjust="spacingAndGlyphs" ><tspan font-style="italic">P</tspan><tspan> &lt; 0.000001</tspan></text>
<line x1="1586.30" y1="1759.70" x2="1829.20" y2="1759.70" stroke="#000" stroke-width="2" />
<line x1="1586.30" y1="1754.20" x2="1586.30" y2="1765.20" stroke="#000" stroke-width="2" />
<line x1="1829.20" y1="1754.20" x2="1829.20" y2="1765.20" stroke="#000" stroke-width="2" />
<text x="1655.70" y="1752.60" font-size="17.3" font-weight="bold" font-style="normal" fill="#000" text-anchor="start" stroke="#000" stroke-width="0.47" stroke-linejoin="round" textLength="102.29999999999995" lengthAdjust="spacingAndGlyphs" ><tspan font-style="italic">P</tspan><tspan> &lt; 0.000001</tspan></text>
<line x1="1632.40" y1="1726.30" x2="1875.30" y2="1726.30" stroke="#000" stroke-width="2" />
<line x1="1632.40" y1="1720.80" x2="1632.40" y2="1731.80" stroke="#000" stroke-width="2" />
<line x1="1875.30" y1="1720.80" x2="1875.30" y2="1731.80" stroke="#000" stroke-width="2" />
<text x="1694.60" y="1721.20" font-size="17.3" font-weight="bold" font-style="normal" fill="#000" text-anchor="start" stroke="#000" stroke-width="0.47" stroke-linejoin="round" textLength="101.70000000000005" lengthAdjust="spacingAndGlyphs" ><tspan font-style="italic">P</tspan><tspan> &lt; 0.000001</tspan></text>
<text x="1443.30" y="2074.50" font-size="17.6" font-weight="bold" font-style="normal" fill="#000" text-anchor="start" stroke="#000" stroke-width="0.48" stroke-linejoin="round" textLength="62.600000000000136" lengthAdjust="spacingAndGlyphs" ><tspan>Control</tspan></text>
<text x="1517.40" y="2074.50" font-size="17.6" font-weight="bold" font-style="normal" fill="#000" text-anchor="start" stroke="#000" stroke-width="0.48" stroke-linejoin="round" textLength="20.59999999999991" lengthAdjust="spacingAndGlyphs" ><tspan>E2</tspan></text>
<text x="1558.80" y="2074.50" font-size="17.6" font-weight="bold" font-style="normal" fill="#000" text-anchor="start" stroke="#000" stroke-width="0.48" stroke-linejoin="round" textLength="41.799999999999955" lengthAdjust="spacingAndGlyphs" ><tspan>Rapa</tspan></text>
<text x="1609.40" y="2074.50" font-size="17.6" font-weight="bold" font-style="normal" fill="#000" text-anchor="start" stroke="#000" stroke-width="0.48" stroke-linejoin="round" textLength="42.09999999999991" lengthAdjust="spacingAndGlyphs" ><tspan>Rapa</tspan></text>
<text x="1613.10" y="2094.60" font-size="17.6" font-weight="bold" font-style="normal" fill="#000" text-anchor="start" stroke="#000" stroke-width="0.48" stroke-linejoin="round" textLength="33.90000000000009" lengthAdjust="spacingAndGlyphs" ><tspan>W/D</tspan></text>
<text x="1688.80" y="2074.50" font-size="17.6" font-weight="bold" font-style="normal" fill="#000" text-anchor="start" stroke="#000" stroke-width="0.48" stroke-linejoin="round" textLength="62.600000000000136" lengthAdjust="spacingAndGlyphs" ><tspan>Control</tspan></text>
<text x="1762.70" y="2074.50" font-size="17.6" font-weight="bold" font-style="normal" fill="#000" text-anchor="start" stroke="#000" stroke-width="0.48" stroke-linejoin="round" textLength="20.700000000000045" lengthAdjust="spacingAndGlyphs" ><tspan>E2</tspan></text>
<text x="1805.00" y="2074.50" font-size="17.6" font-weight="bold" font-style="normal" fill="#000" text-anchor="start" stroke="#000" stroke-width="0.48" stroke-linejoin="round" textLength="42.200000000000045" lengthAdjust="spacingAndGlyphs" ><tspan>Rapa</tspan></text>
<text x="1855.00" y="2074.50" font-size="17.6" font-weight="bold" font-style="normal" fill="#000" text-anchor="start" stroke="#000" stroke-width="0.48" stroke-linejoin="round" textLength="41.799999999999955" lengthAdjust="spacingAndGlyphs" ><tspan>Rapa</tspan></text>
<text x="1858.90" y="2094.60" font-size="17.6" font-weight="bold" font-style="normal" fill="#000" text-anchor="start" stroke="#000" stroke-width="0.48" stroke-linejoin="round" textLength="34.09999999999991" lengthAdjust="spacingAndGlyphs" ><tspan>W/D</tspan></text>
<circle cx="1451.60" cy="2122.90" r="7.00" fill="#000" />
<text x="1471.10" y="2132.20" font-size="29" font-weight="bold" font-style="normal" fill="#000" text-anchor="start" stroke="#000" stroke-width="0.78" stroke-linejoin="round" textLength="230.2" lengthAdjust="spacingAndGlyphs" ><tspan>WT MLF support</tspan></text>
<circle cx="1451.60" cy="2162.20" r="6.90" fill="none" stroke="#FF0A6E" stroke-width="3.2" />
<text x="1472.80" y="2173.00" font-size="29" font-weight="bold" font-style="normal" fill="#FF0A6E" text-anchor="start" stroke="#FF0A6E" stroke-width="0.78" stroke-linejoin="round" textLength="280.5" lengthAdjust="spacingAndGlyphs" ><tspan font-style="italic">Tsc2</tspan><tspan font-size="19.5" dx="1" dy="-11.00">KO</tspan><tspan dy="11.00"> MLF support</tspan></text>
</svg>
</body></html>
